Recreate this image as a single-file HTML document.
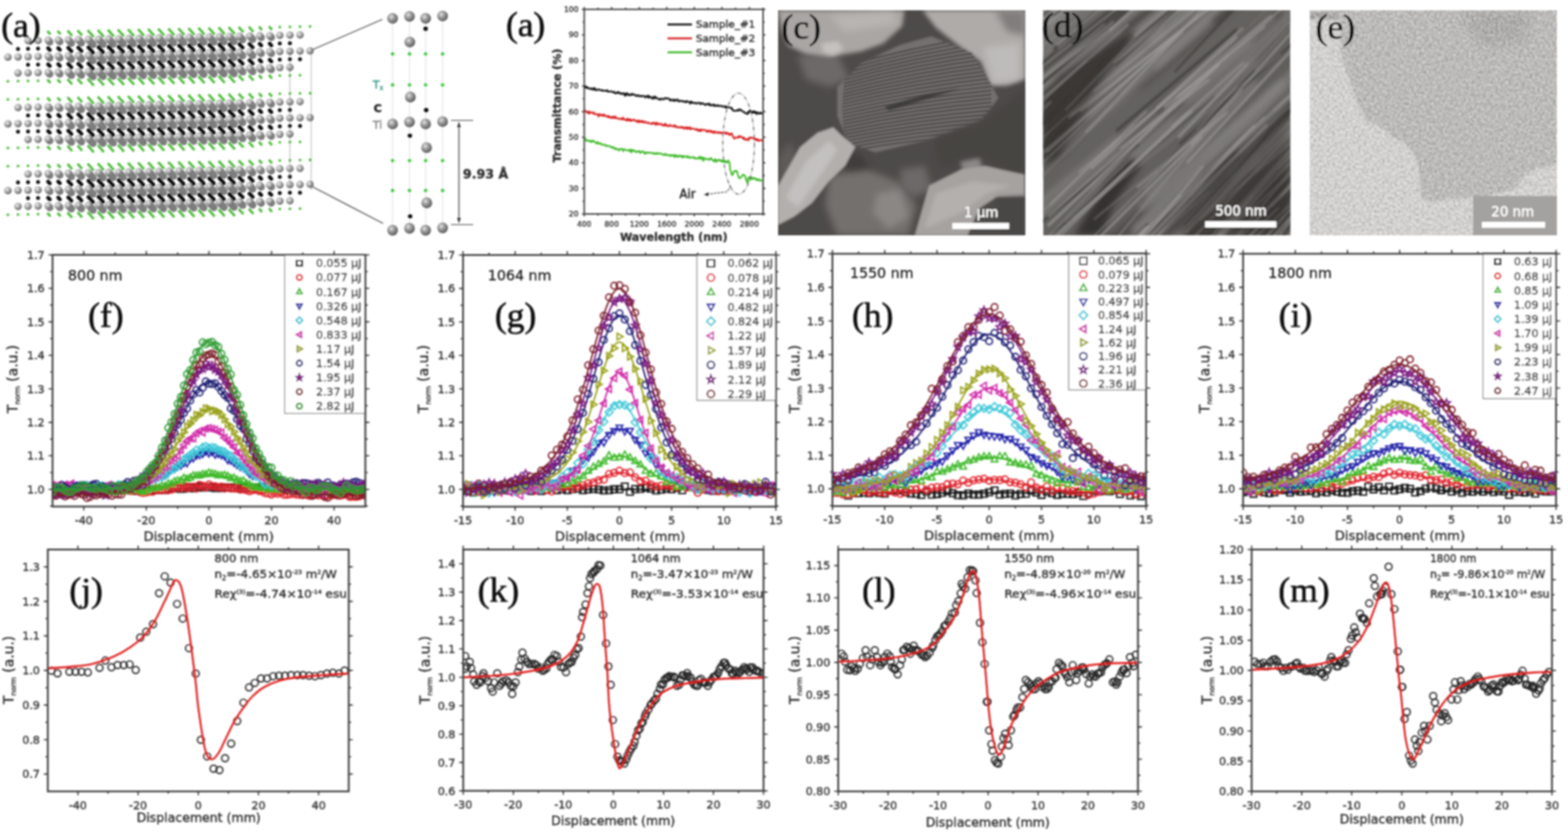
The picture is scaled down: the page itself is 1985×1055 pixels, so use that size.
<!DOCTYPE html><html><head><meta charset="utf-8"><title>Figure</title><style>html,body{margin:0;padding:0;background:#fff;width:1985px;height:1055px;overflow:hidden}svg{display:block}</style></head><body><svg width="1985" height="1055" viewBox="0 0 1985 1055"><defs><clipPath id="cf"><rect x="66.5" y="322.8" width="396" height="318.7"/></clipPath><marker id="k0" markerUnits="userSpaceOnUse" markerWidth="18" markerHeight="18" viewBox="-9 -9 18 18" refX="0" refY="0" overflow="visible"><path d="M-4.2 -4.2h8.4v8.4h-8.4z" fill="none" stroke="#1a1a1a" stroke-width="1.8"/></marker><marker id="k1" markerUnits="userSpaceOnUse" markerWidth="18" markerHeight="18" viewBox="-9 -9 18 18" refX="0" refY="0" overflow="visible"><circle r="4.2" fill="none" stroke="#e0202a" stroke-width="1.8"/></marker><marker id="k2" markerUnits="userSpaceOnUse" markerWidth="18" markerHeight="18" viewBox="-9 -9 18 18" refX="0" refY="0" overflow="visible"><path d="M0 -4.6L4.2 2.9L-4.2 2.9z" fill="none" stroke="#3cb828" stroke-width="1.8"/></marker><marker id="k3" markerUnits="userSpaceOnUse" markerWidth="18" markerHeight="18" viewBox="-9 -9 18 18" refX="0" refY="0" overflow="visible"><path d="M0 4.6L4.2 -2.9L-4.2 -2.9z" fill="none" stroke="#2020a8" stroke-width="1.8"/></marker><marker id="k4" markerUnits="userSpaceOnUse" markerWidth="18" markerHeight="18" viewBox="-9 -9 18 18" refX="0" refY="0" overflow="visible"><path d="M0 -5L5 0L0 5L-5 0z" fill="none" stroke="#40c8d8" stroke-width="1.8"/></marker><marker id="k5" markerUnits="userSpaceOnUse" markerWidth="18" markerHeight="18" viewBox="-9 -9 18 18" refX="0" refY="0" overflow="visible"><path d="M-4.6 0L2.9 -4.2L2.9 4.2z" fill="none" stroke="#d02aa8" stroke-width="1.8"/></marker><marker id="k6" markerUnits="userSpaceOnUse" markerWidth="18" markerHeight="18" viewBox="-9 -9 18 18" refX="0" refY="0" overflow="visible"><path d="M4.6 0L-2.9 -4.2L-2.9 4.2z" fill="none" stroke="#98a018" stroke-width="1.8"/></marker><marker id="k7" markerUnits="userSpaceOnUse" markerWidth="18" markerHeight="18" viewBox="-9 -9 18 18" refX="0" refY="0" overflow="visible"><circle r="4.2" fill="none" stroke="#1a1a70" stroke-width="1.8"/></marker><marker id="k8" markerUnits="userSpaceOnUse" markerWidth="18" markerHeight="18" viewBox="-9 -9 18 18" refX="0" refY="0" overflow="visible"><path d="M0 -4.8L1.2 -1.7L4.6 -1.5L2 0.6L2.8 3.9L0 2.1L-2.8 3.9L-2 0.6L-4.6 -1.5L-1.2 -1.7z" fill="none" stroke="#7a1a80" stroke-width="1.8"/></marker><marker id="k9" markerUnits="userSpaceOnUse" markerWidth="18" markerHeight="18" viewBox="-9 -9 18 18" refX="0" refY="0" overflow="visible"><circle r="4.2" fill="none" stroke="#7a1e28" stroke-width="1.8"/></marker><marker id="k10" markerUnits="userSpaceOnUse" markerWidth="18" markerHeight="18" viewBox="-9 -9 18 18" refX="0" refY="0" overflow="visible"><circle r="4.2" fill="none" stroke="#2a9a30" stroke-width="1.8"/></marker><marker id="k11" markerUnits="userSpaceOnUse" markerWidth="16" markerHeight="16" viewBox="-8 -8 16 16" refX="0" refY="0" overflow="visible"><path d="M-3.4 -3.4h6.8v6.8h-6.8z" fill="none" stroke="#1a1a1a" stroke-width="2.0"/></marker><marker id="k12" markerUnits="userSpaceOnUse" markerWidth="16" markerHeight="16" viewBox="-8 -8 16 16" refX="0" refY="0" overflow="visible"><circle r="3.4" fill="none" stroke="#e0202a" stroke-width="2.0"/></marker><marker id="k13" markerUnits="userSpaceOnUse" markerWidth="16" markerHeight="16" viewBox="-8 -8 16 16" refX="0" refY="0" overflow="visible"><path d="M0 -3.7L3.4 2.4L-3.4 2.4z" fill="none" stroke="#3cb828" stroke-width="2.0"/></marker><marker id="k14" markerUnits="userSpaceOnUse" markerWidth="16" markerHeight="16" viewBox="-8 -8 16 16" refX="0" refY="0" overflow="visible"><path d="M0 3.7L3.4 -2.4L-3.4 -2.4z" fill="none" stroke="#2020a8" stroke-width="2.0"/></marker><marker id="k15" markerUnits="userSpaceOnUse" markerWidth="16" markerHeight="16" viewBox="-8 -8 16 16" refX="0" refY="0" overflow="visible"><path d="M0 -4.1L4.1 0L0 4.1L-4.1 0z" fill="none" stroke="#40c8d8" stroke-width="2.0"/></marker><marker id="k16" markerUnits="userSpaceOnUse" markerWidth="16" markerHeight="16" viewBox="-8 -8 16 16" refX="0" refY="0" overflow="visible"><path d="M-3.7 0L2.4 -3.4L2.4 3.4z" fill="none" stroke="#d02aa8" stroke-width="2.0"/></marker><marker id="k17" markerUnits="userSpaceOnUse" markerWidth="16" markerHeight="16" viewBox="-8 -8 16 16" refX="0" refY="0" overflow="visible"><path d="M3.7 0L-2.4 -3.4L-2.4 3.4z" fill="none" stroke="#98a018" stroke-width="2.0"/></marker><marker id="k18" markerUnits="userSpaceOnUse" markerWidth="16" markerHeight="16" viewBox="-8 -8 16 16" refX="0" refY="0" overflow="visible"><circle r="3.4" fill="none" stroke="#1a1a70" stroke-width="2.0"/></marker><marker id="k19" markerUnits="userSpaceOnUse" markerWidth="16" markerHeight="16" viewBox="-8 -8 16 16" refX="0" refY="0" overflow="visible"><path d="M0 -3.9L1 -1.4L3.7 -1.2L1.6 0.5L2.3 3.2L0 1.7L-2.3 3.2L-1.6 0.5L-3.7 -1.2L-1 -1.4z" fill="none" stroke="#7a1a80" stroke-width="2.0"/></marker><marker id="k20" markerUnits="userSpaceOnUse" markerWidth="16" markerHeight="16" viewBox="-8 -8 16 16" refX="0" refY="0" overflow="visible"><circle r="3.4" fill="none" stroke="#7a1e28" stroke-width="2.0"/></marker><marker id="k21" markerUnits="userSpaceOnUse" markerWidth="16" markerHeight="16" viewBox="-8 -8 16 16" refX="0" refY="0" overflow="visible"><circle r="3.4" fill="none" stroke="#2a9a30" stroke-width="2.0"/></marker><clipPath id="cg"><rect x="586.2" y="323" width="396.1" height="318.7"/></clipPath><marker id="k22" markerUnits="userSpaceOnUse" markerWidth="20" markerHeight="20" viewBox="-10 -10 20 20" refX="0" refY="0" overflow="visible"><path d="M-4.5 -4.5h9v9h-9z" fill="none" stroke="#1a1a1a" stroke-width="1.8"/></marker><marker id="k23" markerUnits="userSpaceOnUse" markerWidth="20" markerHeight="20" viewBox="-10 -10 20 20" refX="0" refY="0" overflow="visible"><circle r="4.5" fill="none" stroke="#e0202a" stroke-width="1.8"/></marker><marker id="k24" markerUnits="userSpaceOnUse" markerWidth="20" markerHeight="20" viewBox="-10 -10 20 20" refX="0" refY="0" overflow="visible"><path d="M0 -5L4.5 3.1L-4.5 3.1z" fill="none" stroke="#3cb828" stroke-width="1.8"/></marker><marker id="k25" markerUnits="userSpaceOnUse" markerWidth="20" markerHeight="20" viewBox="-10 -10 20 20" refX="0" refY="0" overflow="visible"><path d="M0 5L4.5 -3.1L-4.5 -3.1z" fill="none" stroke="#2020a8" stroke-width="1.8"/></marker><marker id="k26" markerUnits="userSpaceOnUse" markerWidth="20" markerHeight="20" viewBox="-10 -10 20 20" refX="0" refY="0" overflow="visible"><path d="M0 -5.4L5.4 0L0 5.4L-5.4 0z" fill="none" stroke="#40c8d8" stroke-width="1.8"/></marker><marker id="k27" markerUnits="userSpaceOnUse" markerWidth="20" markerHeight="20" viewBox="-10 -10 20 20" refX="0" refY="0" overflow="visible"><path d="M-5 0L3.1 -4.5L3.1 4.5z" fill="none" stroke="#d02aa8" stroke-width="1.8"/></marker><marker id="k28" markerUnits="userSpaceOnUse" markerWidth="20" markerHeight="20" viewBox="-10 -10 20 20" refX="0" refY="0" overflow="visible"><path d="M5 0L-3.1 -4.5L-3.1 4.5z" fill="none" stroke="#98a018" stroke-width="1.8"/></marker><marker id="k29" markerUnits="userSpaceOnUse" markerWidth="20" markerHeight="20" viewBox="-10 -10 20 20" refX="0" refY="0" overflow="visible"><circle r="4.5" fill="none" stroke="#1a1a70" stroke-width="1.8"/></marker><marker id="k30" markerUnits="userSpaceOnUse" markerWidth="20" markerHeight="20" viewBox="-10 -10 20 20" refX="0" refY="0" overflow="visible"><path d="M0 -5.2L1.3 -1.8L4.9 -1.6L2.1 0.7L3 4.2L0 2.2L-3 4.2L-2.1 0.7L-4.9 -1.6L-1.3 -1.8z" fill="none" stroke="#7a1a80" stroke-width="1.8"/></marker><marker id="k31" markerUnits="userSpaceOnUse" markerWidth="20" markerHeight="20" viewBox="-10 -10 20 20" refX="0" refY="0" overflow="visible"><circle r="4.5" fill="none" stroke="#7a1e28" stroke-width="1.8"/></marker><clipPath id="ch"><rect x="1053.8" y="321.4" width="397.1" height="319.6"/></clipPath><clipPath id="ci"><rect x="1573.7" y="321.4" width="396.2" height="319.3"/></clipPath><clipPath id="cj"><rect x="60.5" y="696" width="381" height="306.3"/></clipPath><marker id="k32" markerUnits="userSpaceOnUse" markerWidth="18" markerHeight="18" viewBox="-9 -9 18 18" refX="0" refY="0" overflow="visible"><circle r="4.4" fill="none" stroke="#222" stroke-width="1.7"/></marker><clipPath id="ck"><rect x="586.4" y="696" width="380.2" height="305.6"/></clipPath><clipPath id="cl"><rect x="1061.1" y="696" width="379.5" height="306.3"/></clipPath><clipPath id="cm"><rect x="1584.5" y="696" width="380.2" height="306.3"/></clipPath><clipPath id="ct"><rect x="739.6" y="11.8" width="226.4" height="259.2"/></clipPath><radialGradient id="ti" cx="0.38" cy="0.35" r="0.65"><stop offset="0" stop-color="#fafafa"/><stop offset="0.2" stop-color="#d2d2d2"/><stop offset="0.6" stop-color="#9c9c9c"/><stop offset="1" stop-color="#606060"/></radialGradient><radialGradient id="ti2" cx="0.38" cy="0.35" r="0.65"><stop offset="0" stop-color="#e8e8e8"/><stop offset="0.35" stop-color="#a8a8a8"/><stop offset="1" stop-color="#5a5a5a"/></radialGradient><filter id="soft" x="0" y="0" width="1" height="1"><feGaussianBlur stdDeviation="0.8"/></filter><filter id="b1" x="-0.1" y="-0.1" width="1.2" height="1.2"><feGaussianBlur stdDeviation="1.2"/></filter><filter id="b2" x="-0.1" y="-0.1" width="1.2" height="1.2"><feGaussianBlur stdDeviation="2.5"/></filter><filter id="b4" x="-0.2" y="-0.2" width="1.4" height="1.4"><feGaussianBlur stdDeviation="4"/></filter><filter id="b8" x="-0.3" y="-0.3" width="1.6" height="1.6"><feGaussianBlur stdDeviation="8"/></filter><filter id="grain" x="0" y="0" width="1" height="1"><feTurbulence type="fractalNoise" baseFrequency="0.32" numOctaves="2" seed="3" result="n"/><feColorMatrix in="n" type="matrix" values="0 0 0 0 1  0 0 0 0 1  0 0 0 0 1  1.6 0 0 0 -0.55" result="w"/><feComposite in="w" in2="SourceGraphic" operator="in"/></filter><filter id="grain2" x="0" y="0" width="1" height="1"><feTurbulence type="fractalNoise" baseFrequency="0.3" numOctaves="2" seed="7" result="n"/><feColorMatrix in="n" type="matrix" values="0 0 0 0 0  0 0 0 0 0  0 0 0 0 0  1.6 0 0 0 -0.6" result="w"/><feComposite in="w" in2="SourceGraphic" operator="in"/></filter><clipPath id="cc"><rect x="985" y="13" width="313" height="285"/></clipPath><clipPath id="cd"><rect x="1320.5" y="13" width="313" height="285"/></clipPath><clipPath id="ce"><rect x="1658" y="13" width="313" height="285"/></clipPath><clipPath id="flk"><path d="M1060 110L1091 80L1139 57L1179 46L1230 67L1250 99L1264 124L1242 153L1180 176L1108 193L1074 181L1060 147Z"/></clipPath><linearGradient id="dgrad" x1="0" y1="0" x2="1" y2="1"><stop offset="0" stop-color="#8a8886" stop-opacity="0.55"/><stop offset="0.45" stop-color="#666" stop-opacity="0"/><stop offset="1" stop-color="#1e1c1a" stop-opacity="0.6"/></linearGradient></defs><rect width="100%" height="100%" fill="#fff"/><g filter="url(#soft)"><g clip-path="url(#cf)">
<polyline points="66.5,620 70.5,622.2 74.4,622.3 78.4,623 82.3,620.9 86.3,624.1 90.3,620.3 94.2,622.3 98.2,621.4 102.1,621.8 106.1,620.1 110.1,623.5 114,622.3 118,621.9 121.9,620.4 125.9,622.3 129.9,621.5 133.8,621.5 137.8,620.5 141.7,620.3 145.7,621.7 149.7,619 153.6,619.4 157.6,620.3 161.5,619.4 165.5,621.1 169.5,620.9 173.4,621.9 177.4,620.9 181.3,620 185.3,621.2 189.3,620.6 193.2,620.7 197.2,620.7 201.1,620.6 205.1,619.7 209.1,620.7 213,618.9 217,617.4 220.9,618 224.9,618.7 228.9,619.1 232.8,618.9 236.8,616.5 240.7,617.8 244.7,618.4 248.7,618 252.6,616 256.6,617.4 260.5,616.9 264.5,617.1 268.5,617.2 272.4,618.2 276.4,617.9 280.3,618.1 284.3,617.4 288.3,617.4 292.2,617.3 296.2,618.1 300.1,617.3 304.1,618.9 308.1,616.7 312,617.5 316,617.9 319.9,617.7 323.9,618.4 327.9,617.3 331.8,616.5 335.8,616.4 339.7,619.4 343.7,619.4 347.7,618.4 351.6,618.4 355.6,617.5 359.5,618.1 363.5,620.5 367.5,619 371.4,617.7 375.4,618.2 379.3,617.6 383.3,618.4 387.3,618.3 391.2,617.9 395.2,617.8 399.1,618 403.1,617.7 407.1,618.4 411,617.1 415,617.1 418.9,616 422.9,616.4 426.9,617.3 430.8,618.1 434.8,618.3 438.7,617.2 442.7,617.2 446.7,617.6 450.6,617.3 454.6,617.7 458.5,616.9 462.5,618.2" fill="none" stroke="none" marker-start="url(#k0)" marker-mid="url(#k0)" marker-end="url(#k0)"/>
<polyline points="66.5,621.8 69.8,621.8 73.1,621.8 76.4,621.7 79.7,621.7 83,621.6 86.3,621.6 89.6,621.6 92.9,621.5 96.2,621.5 99.5,621.5 102.8,621.4 106.1,621.4 109.4,621.4 112.7,621.3 116,621.3 119.3,621.3 122.6,621.2 125.9,621.2 129.2,621.1 132.5,621.1 135.8,621.1 139.1,621 142.4,621 145.7,621 149,620.9 152.3,620.9 155.6,620.8 158.9,620.8 162.2,620.7 165.5,620.7 168.8,620.6 172.1,620.6 175.4,620.5 178.7,620.5 182,620.4 185.3,620.3 188.6,620.2 191.9,620.1 195.2,620 198.5,619.9 201.8,619.8 205.1,619.7 208.4,619.6 211.7,619.5 215,619.3 218.3,619.2 221.6,619 224.9,618.9 228.2,618.8 231.5,618.6 234.8,618.5 238.1,618.3 241.4,618.2 244.7,618.1 248,617.9 251.3,617.8 254.6,617.8 257.9,617.7 261.2,617.6 264.5,617.6 267.8,617.6 271.1,617.5 274.4,617.5 277.7,617.6 281,617.6 284.3,617.6 287.6,617.7 290.9,617.8 294.2,617.8 297.5,617.9 300.8,618 304.1,618.1 307.4,618.1 310.7,618.2 314,618.3 317.3,618.3 320.6,618.4 323.9,618.4 327.2,618.5 330.5,618.5 333.8,618.6 337.1,618.6 340.4,618.6 343.7,618.6 347,618.6 350.3,618.6 353.6,618.6 356.9,618.6 360.2,618.6 363.5,618.6 366.8,618.5 370.1,618.5 373.4,618.5 376.7,618.5 380,618.4 383.3,618.4 386.6,618.4 389.9,618.3 393.2,618.3 396.5,618.3 399.8,618.2 403.1,618.2 406.4,618.2 409.7,618.1 413,618.1 416.3,618.1 419.6,618 422.9,618 426.2,618 429.5,617.9 432.8,617.9 436.1,617.9 439.4,617.8 442.7,617.8 446,617.8 449.3,617.7 452.6,617.7 455.9,617.6 459.2,617.6 462.5,617.6" fill="none" stroke="#1a1a1a" stroke-width="1.9" stroke-linejoin="round" />
<polyline points="66.5,621.2 70.5,620.1 74.4,620.7 78.4,617 82.3,619.4 86.3,620.4 90.3,618.4 94.2,620.1 98.2,621.6 102.1,619.8 106.1,620.4 110.1,621.5 114,619.8 118,620.8 121.9,619.2 125.9,620.4 129.9,619.3 133.8,620.7 137.8,621.9 141.7,618.5 145.7,621.1 149.7,621.3 153.6,621.8 157.6,621.3 161.5,621.1 165.5,621.8 169.5,621.5 173.4,620.9 177.4,623.4 181.3,624.4 185.3,623.6 189.3,622.6 193.2,622.9 197.2,619.8 201.1,620.8 205.1,620.6 209.1,619.9 213,620.9 217,620.1 220.9,618 224.9,617.4 228.9,618 232.8,615.2 236.8,617.8 240.7,616.8 244.7,616.4 248.7,618.7 252.6,614 256.6,615.4 260.5,616.8 264.5,613.6 268.5,615.5 272.4,615.8 276.4,617 280.3,616.4 284.3,618.6 288.3,617 292.2,618.7 296.2,618.6 300.1,618.3 304.1,620.1 308.1,620 312,620.8 316,622.1 319.9,620.9 323.9,620.2 327.9,621.8 331.8,622.4 335.8,624.7 339.7,625 343.7,626.3 347.7,624.1 351.6,625.5 355.6,624.1 359.5,626.7 363.5,626.6 367.5,625.9 371.4,625.3 375.4,626.5 379.3,626.7 383.3,626.7 387.3,626.7 391.2,627.8 395.2,626.8 399.1,626.7 403.1,627.4 407.1,626.6 411,628 415,626.9 418.9,627.6 422.9,626.6 426.9,626.4 430.8,628 434.8,627 438.7,625.4 442.7,629.4 446.7,629.1 450.6,629.4 454.6,628.6 458.5,626.8 462.5,627.7" fill="none" stroke="none" marker-start="url(#k1)" marker-mid="url(#k1)" marker-end="url(#k1)"/>
<polyline points="66.5,619.7 69.8,619.8 73.1,619.8 76.4,619.9 79.7,620 83,620.1 86.3,620.1 89.6,620.2 92.9,620.3 96.2,620.3 99.5,620.4 102.8,620.5 106.1,620.5 109.4,620.6 112.7,620.7 116,620.8 119.3,620.8 122.6,620.9 125.9,621 129.2,621 132.5,621.1 135.8,621.2 139.1,621.2 142.4,621.3 145.7,621.3 149,621.4 152.3,621.4 155.6,621.5 158.9,621.5 162.2,621.5 165.5,621.5 168.8,621.5 172.1,621.5 175.4,621.5 178.7,621.5 182,621.4 185.3,621.3 188.6,621.2 191.9,621 195.2,620.9 198.5,620.7 201.8,620.5 205.1,620.2 208.4,619.9 211.7,619.6 215,619.3 218.3,618.9 221.6,618.6 224.9,618.2 228.2,617.8 231.5,617.4 234.8,617.1 238.1,616.7 241.4,616.4 244.7,616.1 248,615.9 251.3,615.7 254.6,615.5 257.9,615.4 261.2,615.4 264.5,615.5 267.8,615.6 271.1,615.7 274.4,616 277.7,616.2 281,616.6 284.3,617 287.6,617.4 290.9,617.9 294.2,618.3 297.5,618.9 300.8,619.4 304.1,619.9 307.4,620.4 310.7,620.9 314,621.4 317.3,621.9 320.6,622.3 323.9,622.7 327.2,623.1 330.5,623.5 333.8,623.8 337.1,624.2 340.4,624.4 343.7,624.7 347,624.9 350.3,625.1 353.6,625.3 356.9,625.5 360.2,625.6 363.5,625.8 366.8,625.9 370.1,626 373.4,626.1 376.7,626.2 380,626.3 383.3,626.4 386.6,626.5 389.9,626.6 393.2,626.7 396.5,626.7 399.8,626.8 403.1,626.9 406.4,627 409.7,627 413,627.1 416.3,627.2 419.6,627.3 422.9,627.3 426.2,627.4 429.5,627.5 432.8,627.5 436.1,627.6 439.4,627.7 442.7,627.8 446,627.8 449.3,627.9 452.6,628 455.9,628 459.2,628.1 462.5,628.2" fill="none" stroke="#e0202a" stroke-width="1.9" stroke-linejoin="round" />
<polyline points="66.5,620.2 70.5,621.9 74.4,624.4 78.4,623.2 82.3,622.1 86.3,620.1 90.3,620.7 94.2,623.3 98.2,621.4 102.1,619 106.1,621.3 110.1,622 114,618.9 118,620.8 121.9,621.8 125.9,620.9 129.9,621.3 133.8,622.1 137.8,620.7 141.7,620.5 145.7,620.8 149.7,622.2 153.6,620.6 157.6,621.8 161.5,621.4 165.5,620.9 169.5,620.3 173.4,619.6 177.4,621 181.3,622.8 185.3,621.1 189.3,617.8 193.2,618.7 197.2,616.9 201.1,617.6 205.1,614.7 209.1,615.7 213,612.4 217,613 220.9,609.7 224.9,608.7 228.9,608.7 232.8,605.3 236.8,606.2 240.7,604.9 244.7,602.2 248.7,602.4 252.6,602.1 256.6,600.6 260.5,600.8 264.5,598.7 268.5,599.7 272.4,600.4 276.4,602 280.3,602.1 284.3,601.6 288.3,602.9 292.2,605.6 296.2,605.3 300.1,607.7 304.1,609.2 308.1,608.8 312,612.3 316,613.5 319.9,616.5 323.9,617.2 327.9,616.1 331.8,618.2 335.8,617.8 339.7,619.7 343.7,619.8 347.7,618.7 351.6,619.1 355.6,620.5 359.5,620.5 363.5,619.9 367.5,620.4 371.4,622.1 375.4,620.9 379.3,620 383.3,621.1 387.3,620.7 391.2,622.6 395.2,622.3 399.1,620.9 403.1,624.3 407.1,623.1 411,622.6 415,624.3 418.9,622.4 422.9,623.2 426.9,622.8 430.8,622.1 434.8,621.5 438.7,622.1 442.7,621.2 446.7,621.8 450.6,621.3 454.6,620.4 458.5,621.9 462.5,622.4" fill="none" stroke="none" marker-start="url(#k2)" marker-mid="url(#k2)" marker-end="url(#k2)"/>
<polyline points="66.5,621.8 69.8,621.8 73.1,621.8 76.4,621.8 79.7,621.8 83,621.8 86.3,621.8 89.6,621.8 92.9,621.8 96.2,621.8 99.5,621.8 102.8,621.8 106.1,621.8 109.4,621.8 112.7,621.8 116,621.8 119.3,621.8 122.6,621.8 125.9,621.8 129.2,621.8 132.5,621.8 135.8,621.8 139.1,621.7 142.4,621.7 145.7,621.7 149,621.6 152.3,621.6 155.6,621.5 158.9,621.4 162.2,621.3 165.5,621.1 168.8,621 172.1,620.8 175.4,620.5 178.7,620.2 182,619.9 185.3,619.5 188.6,619 191.9,618.5 195.2,617.9 198.5,617.2 201.8,616.5 205.1,615.7 208.4,614.8 211.7,613.8 215,612.8 218.3,611.8 221.6,610.7 224.9,609.6 228.2,608.4 231.5,607.3 234.8,606.2 238.1,605.2 241.4,604.2 244.7,603.3 248,602.5 251.3,601.9 254.6,601.3 257.9,600.9 261.2,600.7 264.5,600.6 267.8,600.7 271.1,600.9 274.4,601.3 277.7,601.9 281,602.5 284.3,603.3 287.6,604.2 290.9,605.2 294.2,606.2 297.5,607.3 300.8,608.4 304.1,609.6 307.4,610.7 310.7,611.8 314,612.8 317.3,613.8 320.6,614.8 323.9,615.7 327.2,616.5 330.5,617.2 333.8,617.9 337.1,618.5 340.4,619 343.7,619.5 347,619.9 350.3,620.2 353.6,620.5 356.9,620.8 360.2,621 363.5,621.1 366.8,621.3 370.1,621.4 373.4,621.5 376.7,621.6 380,621.6 383.3,621.7 386.6,621.7 389.9,621.7 393.2,621.8 396.5,621.8 399.8,621.8 403.1,621.8 406.4,621.8 409.7,621.8 413,621.8 416.3,621.8 419.6,621.8 422.9,621.8 426.2,621.8 429.5,621.8 432.8,621.8 436.1,621.8 439.4,621.8 442.7,621.8 446,621.8 449.3,621.8 452.6,621.8 455.9,621.8 459.2,621.8 462.5,621.8" fill="none" stroke="#3cb828" stroke-width="1.9" stroke-linejoin="round" />
<polyline points="66.5,614.9 70.5,616.9 74.4,615.1 78.4,618 82.3,614.2 86.3,615.7 90.3,614.1 94.2,614.7 98.2,613.8 102.1,614.1 106.1,613.2 110.1,616.3 114,616.3 118,614.1 121.9,616 125.9,616.7 129.9,616.9 133.8,615.7 137.8,616.9 141.7,615.7 145.7,616.8 149.7,615.8 153.6,614.2 157.6,614 161.5,616 165.5,613.1 169.5,615.1 173.4,611.8 177.4,614.5 181.3,612.5 185.3,610.9 189.3,609.1 193.2,606.4 197.2,605.7 201.1,603.7 205.1,602.1 209.1,602 213,599.1 217,595.1 220.9,593.8 224.9,591 228.9,589.5 232.8,586.2 236.8,586.5 240.7,580.9 244.7,580.3 248.7,576.7 252.6,576.1 256.6,574.7 260.5,571.8 264.5,574 268.5,572.2 272.4,575.6 276.4,574.7 280.3,576.3 284.3,577.5 288.3,582.6 292.2,583.3 296.2,585.9 300.1,588.8 304.1,591.3 308.1,592.8 312,596.1 316,600.2 319.9,602.7 323.9,600.6 327.9,603.3 331.8,609.1 335.8,608.1 339.7,609.1 343.7,609.9 347.7,611.6 351.6,613.4 355.6,613 359.5,614.2 363.5,613.7 367.5,614.8 371.4,614.4 375.4,613.3 379.3,613.4 383.3,616.7 387.3,615.8 391.2,616.5 395.2,614.5 399.1,615.3 403.1,613.4 407.1,615.4 411,614.8 415,616.6 418.9,613.8 422.9,616 426.9,617.2 430.8,615.9 434.8,617.4 438.7,614.8 442.7,614.5 446.7,614.9 450.6,613.4 454.6,615.7 458.5,614.3 462.5,615" fill="none" stroke="none" marker-start="url(#k3)" marker-mid="url(#k3)" marker-end="url(#k3)"/>
<polyline points="66.5,615.5 69.8,615.5 73.1,615.5 76.4,615.5 79.7,615.5 83,615.5 86.3,615.5 89.6,615.5 92.9,615.5 96.2,615.5 99.5,615.5 102.8,615.5 106.1,615.5 109.4,615.4 112.7,615.4 116,615.4 119.3,615.4 122.6,615.4 125.9,615.4 129.2,615.4 132.5,615.4 135.8,615.3 139.1,615.3 142.4,615.2 145.7,615.2 149,615.1 152.3,614.9 155.6,614.8 158.9,614.6 162.2,614.4 165.5,614.1 168.8,613.7 172.1,613.3 175.4,612.8 178.7,612.2 182,611.5 185.3,610.7 188.6,609.8 191.9,608.8 195.2,607.6 198.5,606.2 201.8,604.7 205.1,603.1 208.4,601.4 211.7,599.5 215,597.5 218.3,595.4 221.6,593.2 224.9,591 228.2,588.7 231.5,586.5 234.8,584.3 238.1,582.2 241.4,580.3 244.7,578.5 248,576.9 251.3,575.6 254.6,574.5 257.9,573.7 261.2,573.2 264.5,573 267.8,573.2 271.1,573.7 274.4,574.5 277.7,575.6 281,576.9 284.3,578.5 287.6,580.3 290.9,582.2 294.2,584.3 297.5,586.5 300.8,588.7 304.1,591 307.4,593.2 310.7,595.4 314,597.5 317.3,599.5 320.6,601.4 323.9,603.1 327.2,604.7 330.5,606.2 333.8,607.6 337.1,608.8 340.4,609.8 343.7,610.7 347,611.5 350.3,612.2 353.6,612.8 356.9,613.3 360.2,613.7 363.5,614.1 366.8,614.4 370.1,614.6 373.4,614.8 376.7,614.9 380,615.1 383.3,615.2 386.6,615.2 389.9,615.3 393.2,615.3 396.5,615.4 399.8,615.4 403.1,615.4 406.4,615.4 409.7,615.4 413,615.4 416.3,615.4 419.6,615.4 422.9,615.5 426.2,615.5 429.5,615.5 432.8,615.5 436.1,615.5 439.4,615.5 442.7,615.5 446,615.5 449.3,615.5 452.6,615.5 455.9,615.5 459.2,615.5 462.5,615.5" fill="none" stroke="#2020a8" stroke-width="1.9" stroke-linejoin="round" />
<polyline points="66.5,619.3 70.5,617.6 74.4,616.4 78.4,616.6 82.3,617.3 86.3,618 90.3,617.9 94.2,617.3 98.2,617.6 102.1,617.2 106.1,617.6 110.1,615.5 114,617.5 118,616.7 121.9,616.2 125.9,615.6 129.9,615.3 133.8,616.3 137.8,616.4 141.7,619.1 145.7,616.7 149.7,614.1 153.6,617.7 157.6,617.8 161.5,616.5 165.5,614.5 169.5,614.7 173.4,615.1 177.4,613.8 181.3,611.6 185.3,610.4 189.3,606.7 193.2,607 197.2,606.2 201.1,604.3 205.1,603.8 209.1,602.1 213,598 217,594.7 220.9,593.6 224.9,589.2 228.9,585.7 232.8,581.7 236.8,579.3 240.7,576.2 244.7,573.5 248.7,570 252.6,572.3 256.6,566.6 260.5,565.4 264.5,567.3 268.5,566.7 272.4,567.2 276.4,570.1 280.3,570.9 284.3,572.3 288.3,575.7 292.2,577.4 296.2,581.5 300.1,584.8 304.1,589.2 308.1,591.7 312,595.1 316,595.4 319.9,599.7 323.9,603.4 327.9,604 331.8,607.4 335.8,613 339.7,610.2 343.7,614.5 347.7,612.9 351.6,615.9 355.6,617.1 359.5,615.5 363.5,618.8 367.5,618.1 371.4,617.2 375.4,616.9 379.3,616.7 383.3,617 387.3,617.7 391.2,614.5 395.2,618.2 399.1,615.1 403.1,617.9 407.1,616.1 411,615.8 415,618.5 418.9,617.5 422.9,617.7 426.9,617.8 430.8,619.2 434.8,618.3 438.7,618.8 442.7,619.3 446.7,616.1 450.6,617.9 454.6,614.9 458.5,615.9 462.5,618.1" fill="none" stroke="none" marker-start="url(#k4)" marker-mid="url(#k4)" marker-end="url(#k4)"/>
<polyline points="66.5,617.6 69.8,617.6 73.1,617.6 76.4,617.6 79.7,617.6 83,617.6 86.3,617.6 89.6,617.6 92.9,617.6 96.2,617.6 99.5,617.6 102.8,617.6 106.1,617.6 109.4,617.6 112.7,617.6 116,617.6 119.3,617.5 122.6,617.5 125.9,617.5 129.2,617.5 132.5,617.5 135.8,617.4 139.1,617.4 142.4,617.3 145.7,617.2 149,617.1 152.3,617 155.6,616.8 158.9,616.6 162.2,616.3 165.5,615.9 168.8,615.5 172.1,615 175.4,614.4 178.7,613.7 182,612.9 185.3,611.9 188.6,610.8 191.9,609.5 195.2,608.1 198.5,606.5 201.8,604.7 205.1,602.8 208.4,600.7 211.7,598.4 215,596 218.3,593.5 221.6,590.8 224.9,588.2 228.2,585.5 231.5,582.8 234.8,580.2 238.1,577.7 241.4,575.4 244.7,573.2 248,571.3 251.3,569.7 254.6,568.4 257.9,567.5 261.2,566.9 264.5,566.7 267.8,566.9 271.1,567.5 274.4,568.4 277.7,569.7 281,571.3 284.3,573.2 287.6,575.4 290.9,577.7 294.2,580.2 297.5,582.8 300.8,585.5 304.1,588.2 307.4,590.8 310.7,593.5 314,596 317.3,598.4 320.6,600.7 323.9,602.8 327.2,604.7 330.5,606.5 333.8,608.1 337.1,609.5 340.4,610.8 343.7,611.9 347,612.9 350.3,613.7 353.6,614.4 356.9,615 360.2,615.5 363.5,615.9 366.8,616.3 370.1,616.6 373.4,616.8 376.7,617 380,617.1 383.3,617.2 386.6,617.3 389.9,617.4 393.2,617.4 396.5,617.5 399.8,617.5 403.1,617.5 406.4,617.5 409.7,617.5 413,617.6 416.3,617.6 419.6,617.6 422.9,617.6 426.2,617.6 429.5,617.6 432.8,617.6 436.1,617.6 439.4,617.6 442.7,617.6 446,617.6 449.3,617.6 452.6,617.6 455.9,617.6 459.2,617.6 462.5,617.6" fill="none" stroke="#40c8d8" stroke-width="1.9" stroke-linejoin="round" />
<polyline points="66.5,614.3 70.5,615.4 74.4,613.9 78.4,616.7 82.3,613.7 86.3,615.6 90.3,612.4 94.2,616.7 98.2,616.4 102.1,616.6 106.1,619.6 110.1,615.9 114,616.4 118,617.2 121.9,619.3 125.9,619.7 129.9,616.5 133.8,615.4 137.8,614 141.7,617.6 145.7,617.5 149.7,616.2 153.6,618.6 157.6,616.6 161.5,614 165.5,612.7 169.5,614.1 173.4,611.5 177.4,612.5 181.3,611.2 185.3,610.3 189.3,607.9 193.2,606.3 197.2,604 201.1,601.6 205.1,596.5 209.1,592.3 213,590.5 217,583.5 220.9,580.4 224.9,577.5 228.9,569.9 232.8,563.5 236.8,558.6 240.7,555.3 244.7,555.2 248.7,548.8 252.6,545.9 256.6,547.9 260.5,542.7 264.5,542.2 268.5,543.2 272.4,544.3 276.4,546.8 280.3,547.7 284.3,554.4 288.3,557.7 292.2,561.8 296.2,566.4 300.1,573.5 304.1,573.8 308.1,581 312,585.7 316,590.3 319.9,595.8 323.9,600.1 327.9,602.7 331.8,605.3 335.8,606.9 339.7,610.3 343.7,612.6 347.7,610.9 351.6,617.3 355.6,618.5 359.5,616.5 363.5,618.1 367.5,621.9 371.4,620.3 375.4,621.7 379.3,620.2 383.3,623.5 387.3,621.1 391.2,622.2 395.2,622.9 399.1,622.4 403.1,621.9 407.1,625.7 411,621.8 415,623.1 418.9,619.8 422.9,623.2 426.9,620.9 430.8,626.1 434.8,621.4 438.7,621.7 442.7,622.4 446.7,621.9 450.6,622.1 454.6,621.3 458.5,622.6 462.5,625.4" fill="none" stroke="none" marker-start="url(#k5)" marker-mid="url(#k5)" marker-end="url(#k5)"/>
<polyline points="66.5,615.5 69.8,615.5 73.1,615.6 76.4,615.7 79.7,615.7 83,615.8 86.3,615.9 89.6,616 92.9,616 96.2,616.1 99.5,616.2 102.8,616.2 106.1,616.3 109.4,616.4 112.7,616.4 116,616.5 119.3,616.5 122.6,616.6 125.9,616.6 129.2,616.7 132.5,616.7 135.8,616.7 139.1,616.7 142.4,616.7 145.7,616.6 149,616.5 152.3,616.4 155.6,616.2 158.9,615.9 162.2,615.5 165.5,615.1 168.8,614.6 172.1,613.9 175.4,613 178.7,612.1 182,610.9 185.3,609.5 188.6,607.9 191.9,606.1 195.2,604 198.5,601.7 201.8,599.1 205.1,596.2 208.4,593.1 211.7,589.8 215,586.2 218.3,582.5 221.6,578.7 224.9,574.7 228.2,570.8 231.5,566.8 234.8,563 238.1,559.3 241.4,555.9 244.7,552.7 248,549.9 251.3,547.6 254.6,545.7 257.9,544.4 261.2,543.6 264.5,543.4 267.8,543.7 271.1,544.7 274.4,546.1 277.7,548.2 281,550.6 284.3,553.6 287.6,556.9 290.9,560.4 294.2,564.3 297.5,568.3 300.8,572.3 304.1,576.4 307.4,580.5 310.7,584.5 314,588.4 317.3,592 320.6,595.5 323.9,598.8 327.2,601.8 330.5,604.5 333.8,607 337.1,609.2 340.4,611.2 343.7,612.9 347,614.4 350.3,615.7 353.6,616.9 356.9,617.8 360.2,618.7 363.5,619.3 366.8,619.9 370.1,620.4 373.4,620.8 376.7,621.2 380,621.5 383.3,621.7 386.6,621.9 389.9,622.1 393.2,622.2 396.5,622.4 399.8,622.5 403.1,622.6 406.4,622.7 409.7,622.8 413,622.8 416.3,622.9 419.6,623 422.9,623.1 426.2,623.2 429.5,623.2 432.8,623.3 436.1,623.4 439.4,623.4 442.7,623.5 446,623.6 449.3,623.7 452.6,623.7 455.9,623.8 459.2,623.9 462.5,623.9" fill="none" stroke="#d02aa8" stroke-width="1.9" stroke-linejoin="round" />
<polyline points="66.5,621 70.5,620.7 74.4,618.1 78.4,621.7 82.3,619.2 86.3,621 90.3,618.8 94.2,622 98.2,617.1 102.1,617.9 106.1,620.9 110.1,616.6 114,619.6 118,621.3 121.9,622.4 125.9,620.3 129.9,617.8 133.8,621.4 137.8,621.3 141.7,621 145.7,616.3 149.7,615.9 153.6,618.2 157.6,616.7 161.5,616.8 165.5,616 169.5,613.3 173.4,612.9 177.4,611 181.3,610.2 185.3,606.1 189.3,605 193.2,602.1 197.2,598.1 201.1,596.8 205.1,590.4 209.1,585.8 213,578.9 217,575.5 220.9,568.9 224.9,558.5 228.9,553.3 232.8,547.4 236.8,539.9 240.7,536.7 244.7,532.3 248.7,525.6 252.6,526 256.6,521.8 260.5,517.3 264.5,517.2 268.5,520.7 272.4,519.9 276.4,521.2 280.3,525.4 284.3,531.1 288.3,537.2 292.2,540.3 296.2,546.9 300.1,554.2 304.1,559.1 308.1,566.3 312,572.6 316,582 319.9,582.5 323.9,587.1 327.9,594.6 331.8,600.5 335.8,601 339.7,606.3 343.7,610 347.7,608.9 351.6,614.8 355.6,613.6 359.5,618 363.5,614 367.5,615.9 371.4,617.4 375.4,616.2 379.3,615.2 383.3,615.6 387.3,616.3 391.2,618 395.2,620.3 399.1,618.9 403.1,621.2 407.1,617.5 411,617.3 415,616.4 418.9,620.1 422.9,619.3 426.9,618.6 430.8,619.5 434.8,620.9 438.7,619.3 442.7,620.4 446.7,618.6 450.6,620.9 454.6,618.7 458.5,618.2 462.5,616.8" fill="none" stroke="none" marker-start="url(#k6)" marker-mid="url(#k6)" marker-end="url(#k6)"/>
<polyline points="66.5,619.7 69.8,619.7 73.1,619.7 76.4,619.7 79.7,619.7 83,619.7 86.3,619.7 89.6,619.7 92.9,619.7 96.2,619.7 99.5,619.7 102.8,619.7 106.1,619.7 109.4,619.7 112.7,619.7 116,619.7 119.3,619.6 122.6,619.6 125.9,619.6 129.2,619.5 132.5,619.5 135.8,619.4 139.1,619.3 142.4,619.1 145.7,619 149,618.7 152.3,618.5 155.6,618.1 158.9,617.6 162.2,617.1 165.5,616.4 168.8,615.6 172.1,614.6 175.4,613.4 178.7,612 182,610.3 185.3,608.4 188.6,606.1 191.9,603.6 195.2,600.7 198.5,597.5 201.8,594 205.1,590.1 208.4,585.9 211.7,581.3 215,576.5 218.3,571.5 221.6,566.2 224.9,560.9 228.2,555.5 231.5,550.2 234.8,544.9 238.1,539.9 241.4,535.2 244.7,531 248,527.2 251.3,523.9 254.6,521.3 257.9,519.4 261.2,518.3 264.5,517.9 267.8,518.3 271.1,519.4 274.4,521.3 277.7,523.9 281,527.2 284.3,531 287.6,535.2 290.9,539.9 294.2,544.9 297.5,550.2 300.8,555.5 304.1,560.9 307.4,566.2 310.7,571.5 314,576.5 317.3,581.3 320.6,585.9 323.9,590.1 327.2,594 330.5,597.5 333.8,600.7 337.1,603.6 340.4,606.1 343.7,608.4 347,610.3 350.3,612 353.6,613.4 356.9,614.6 360.2,615.6 363.5,616.4 366.8,617.1 370.1,617.6 373.4,618.1 376.7,618.5 380,618.7 383.3,619 386.6,619.1 389.9,619.3 393.2,619.4 396.5,619.5 399.8,619.5 403.1,619.6 406.4,619.6 409.7,619.6 413,619.7 416.3,619.7 419.6,619.7 422.9,619.7 426.2,619.7 429.5,619.7 432.8,619.7 436.1,619.7 439.4,619.7 442.7,619.7 446,619.7 449.3,619.7 452.6,619.7 455.9,619.7 459.2,619.7 462.5,619.7" fill="none" stroke="#98a018" stroke-width="1.9" stroke-linejoin="round" />
<polyline points="66.5,617.3 70.5,616.9 74.4,619.6 78.4,614.3 82.3,616.7 86.3,619.3 90.3,620.2 94.2,617.2 98.2,616.1 102.1,617.2 106.1,616.4 110.1,616.7 114,616 118,613.6 121.9,612.8 125.9,618.2 129.9,615.8 133.8,617.9 137.8,617.8 141.7,615.1 145.7,617.3 149.7,620.8 153.6,614.5 157.6,613.5 161.5,610.7 165.5,614 169.5,609.2 173.4,614.7 177.4,609.1 181.3,603.6 185.3,601.5 189.3,596.6 193.2,592.6 197.2,589.3 201.1,582.1 205.1,577 209.1,567.8 213,565.4 217,556.2 220.9,548.2 224.9,538 228.9,531.8 232.8,523.1 236.8,517.5 240.7,507.4 244.7,499.5 248.7,493.9 252.6,497.2 256.6,491.2 260.5,483 264.5,485.9 268.5,486.4 272.4,485.5 276.4,490 280.3,495.3 284.3,500.3 288.3,503.8 292.2,517.4 296.2,520.3 300.1,531.2 304.1,539.1 308.1,543.5 312,555.9 316,561.5 319.9,571.1 323.9,580.1 327.9,583.6 331.8,586.7 335.8,594.1 339.7,598 343.7,602.1 347.7,605.1 351.6,608 355.6,608.4 359.5,613.3 363.5,611.8 367.5,615.7 371.4,612.5 375.4,612.1 379.3,614.3 383.3,611.9 387.3,612 391.2,612.8 395.2,614.6 399.1,613.3 403.1,611.7 407.1,614.1 411,614.3 415,611 418.9,617 422.9,617.6 426.9,617.5 430.8,613.8 434.8,613.4 438.7,612.5 442.7,613.5 446.7,611.1 450.6,610.1 454.6,611.6 458.5,615.8 462.5,612.5" fill="none" stroke="none" marker-start="url(#k7)" marker-mid="url(#k7)" marker-end="url(#k7)"/>
<polyline points="66.5,617.6 69.8,617.5 73.1,617.5 76.4,617.5 79.7,617.4 83,617.4 86.3,617.4 89.6,617.3 92.9,617.3 96.2,617.3 99.5,617.2 102.8,617.2 106.1,617.1 109.4,617.1 112.7,617 116,617 119.3,616.9 122.6,616.9 125.9,616.8 129.2,616.7 132.5,616.6 135.8,616.4 139.1,616.3 142.4,616.1 145.7,615.8 149,615.5 152.3,615.1 155.6,614.6 158.9,613.9 162.2,613.2 165.5,612.3 168.8,611.1 172.1,609.8 175.4,608.2 178.7,606.4 182,604.2 185.3,601.7 188.6,598.8 191.9,595.4 195.2,591.7 198.5,587.5 201.8,582.9 205.1,577.8 208.4,572.3 211.7,566.5 215,560.2 218.3,553.6 221.6,546.9 224.9,539.9 228.2,532.9 231.5,526 234.8,519.2 238.1,512.7 241.4,506.6 244.7,501 248,496.1 251.3,491.9 254.6,488.5 257.9,486 261.2,484.5 264.5,484 267.8,484.4 271.1,485.9 274.4,488.3 277.7,491.6 281,495.7 284.3,500.6 287.6,506.1 290.9,512.1 294.2,518.6 297.5,525.3 300.8,532.2 304.1,539.1 307.4,545.9 310.7,552.7 314,559.1 317.3,565.3 320.6,571.1 323.9,576.6 327.2,581.6 330.5,586.1 333.8,590.2 337.1,593.9 340.4,597.1 343.7,600 347,602.4 350.3,604.5 353.6,606.3 356.9,607.8 360.2,609.1 363.5,610.1 366.8,611 370.1,611.7 373.4,612.2 376.7,612.7 380,613 383.3,613.2 386.6,613.4 389.9,613.6 393.2,613.7 396.5,613.7 399.8,613.8 403.1,613.8 406.4,613.8 409.7,613.8 413,613.8 416.3,613.8 419.6,613.8 422.9,613.7 426.2,613.7 429.5,613.7 432.8,613.6 436.1,613.6 439.4,613.6 442.7,613.5 446,613.5 449.3,613.5 452.6,613.4 455.9,613.4 459.2,613.4 462.5,613.3" fill="none" stroke="#1a1a70" stroke-width="1.9" stroke-linejoin="round" />
<polyline points="66.5,626.1 70.5,622.9 74.4,626.5 78.4,626.2 82.3,626.7 86.3,622.4 90.3,625.1 94.2,621.3 98.2,624.5 102.1,622.2 106.1,620.3 110.1,622.9 114,624.8 118,623.8 121.9,620.8 125.9,622.4 129.9,624.3 133.8,627.5 137.8,621.9 141.7,619.5 145.7,618.3 149.7,619.9 153.6,620.1 157.6,619.7 161.5,618.3 165.5,619.9 169.5,610.5 173.4,612 177.4,605.4 181.3,606.7 185.3,605.9 189.3,595.1 193.2,595.9 197.2,589.3 201.1,579.3 205.1,571.5 209.1,570.4 213,557.7 217,550.6 220.9,537.2 224.9,525 228.9,519.7 232.8,505.9 236.8,500.4 240.7,484.9 244.7,482.8 248.7,474.3 252.6,467.9 256.6,467.3 260.5,459.6 264.5,464.8 268.5,462.9 272.4,468.2 276.4,470.4 280.3,475.4 284.3,481.8 288.3,488.5 292.2,500.5 296.2,504.3 300.1,517.7 304.1,534.1 308.1,534.1 312,547.5 316,554.6 319.9,566 323.9,577.2 327.9,579.9 331.8,587.5 335.8,590.6 339.7,596.9 343.7,599.7 347.7,608.3 351.6,607.9 355.6,611.4 359.5,610.7 363.5,617.3 367.5,615.3 371.4,611.5 375.4,617.4 379.3,614.6 383.3,613.8 387.3,616.5 391.2,614.6 395.2,614.2 399.1,613.1 403.1,616.4 407.1,615.6 411,613.9 415,617.2 418.9,615.2 422.9,616.7 426.9,620.3 430.8,614.3 434.8,611.5 438.7,615.2 442.7,614.3 446.7,615.8 450.6,616.7 454.6,615.2 458.5,613.9 462.5,612" fill="none" stroke="none" marker-start="url(#k8)" marker-mid="url(#k8)" marker-end="url(#k8)"/>
<polyline points="66.5,623.9 69.8,623.9 73.1,623.8 76.4,623.7 79.7,623.7 83,623.6 86.3,623.5 89.6,623.4 92.9,623.4 96.2,623.3 99.5,623.2 102.8,623.1 106.1,623.1 109.4,623 112.7,622.9 116,622.8 119.3,622.7 122.6,622.6 125.9,622.5 129.2,622.3 132.5,622.2 135.8,622 139.1,621.7 142.4,621.5 145.7,621.1 149,620.7 152.3,620.2 155.6,619.6 158.9,618.8 162.2,617.9 165.5,616.7 168.8,615.4 172.1,613.8 175.4,611.9 178.7,609.6 182,607 185.3,603.9 188.6,600.4 191.9,596.4 195.2,591.9 198.5,586.9 201.8,581.4 205.1,575.3 208.4,568.7 211.7,561.7 215,554.2 218.3,546.3 221.6,538.2 224.9,529.9 228.2,521.5 231.5,513.2 234.8,505.1 238.1,497.3 241.4,490 244.7,483.3 248,477.4 251.3,472.3 254.6,468.3 257.9,465.3 261.2,463.4 264.5,462.8 267.8,463.3 271.1,465 274.4,467.8 277.7,471.8 281,476.7 284.3,482.5 287.6,489 290.9,496.2 294.2,503.8 297.5,511.8 300.8,520 304.1,528.2 307.4,536.4 310.7,544.3 314,552.1 317.3,559.4 320.6,566.3 323.9,572.8 327.2,578.7 330.5,584.1 333.8,589 337.1,593.3 340.4,597.2 343.7,600.5 347,603.4 350.3,605.9 353.6,608 356.9,609.8 360.2,611.3 363.5,612.5 366.8,613.5 370.1,614.3 373.4,614.9 376.7,615.4 380,615.8 383.3,616 386.6,616.2 389.9,616.4 393.2,616.5 396.5,616.5 399.8,616.5 403.1,616.5 406.4,616.5 409.7,616.5 413,616.4 416.3,616.4 419.6,616.3 422.9,616.3 426.2,616.2 429.5,616.2 432.8,616.1 436.1,616 439.4,615.9 442.7,615.9 446,615.8 449.3,615.7 452.6,615.7 455.9,615.6 459.2,615.5 462.5,615.5" fill="none" stroke="#7a1a80" stroke-width="1.9" stroke-linejoin="round" />
<polyline points="66.5,627.3 70.5,628 74.4,623.4 78.4,624.4 82.3,628.6 86.3,626.9 90.3,626 94.2,628.2 98.2,623.4 102.1,625.5 106.1,627 110.1,630.7 114,629.4 118,626.5 121.9,627.5 125.9,625.7 129.9,626.2 133.8,624.1 137.8,625.8 141.7,627.9 145.7,625.7 149.7,626.4 153.6,626.4 157.6,618.2 161.5,619.6 165.5,619.1 169.5,615.4 173.4,616.3 177.4,612.3 181.3,614.9 185.3,610.1 189.3,601.8 193.2,593.4 197.2,590.3 201.1,582.7 205.1,576.7 209.1,565.9 213,557.7 217,546.4 220.9,532.8 224.9,526.6 228.9,510.5 232.8,501.6 236.8,490.3 240.7,477 244.7,471.1 248.7,461.9 252.6,461.4 256.6,453.6 260.5,450.3 264.5,449.1 268.5,447.7 272.4,449.5 276.4,457.9 280.3,464.1 284.3,472.1 288.3,476.7 292.2,489.7 296.2,501.1 300.1,513 304.1,525.9 308.1,534.8 312,546.6 316,555.9 319.9,567.7 323.9,577.3 327.9,585.2 331.8,587.8 335.8,594.6 339.7,603.1 343.7,606.1 347.7,612.7 351.6,610.4 355.6,618.1 359.5,619.6 363.5,620.4 367.5,617.6 371.4,622.3 375.4,620.9 379.3,623.2 383.3,626.7 387.3,623 391.2,625.5 395.2,628.1 399.1,626.5 403.1,624.9 407.1,622.4 411,629.5 415,630.3 418.9,624.9 422.9,625.6 426.9,627.4 430.8,625.4 434.8,625.6 438.7,622.9 442.7,627.5 446.7,624.6 450.6,627.6 454.6,627.3 458.5,624.8 462.5,627.6" fill="none" stroke="none" marker-start="url(#k9)" marker-mid="url(#k9)" marker-end="url(#k9)"/>
<polyline points="66.5,626.1 69.8,626.1 73.1,626.1 76.4,626.1 79.7,626.1 83,626.1 86.3,626.1 89.6,626.1 92.9,626.1 96.2,626.1 99.5,626 102.8,626 106.1,626 109.4,626 112.7,626 116,626 119.3,626 122.6,625.9 125.9,625.8 129.2,625.8 132.5,625.7 135.8,625.5 139.1,625.3 142.4,625.1 145.7,624.8 149,624.4 152.3,623.9 155.6,623.3 158.9,622.5 162.2,621.5 165.5,620.3 168.8,618.8 172.1,617.1 175.4,615 178.7,612.5 182,609.6 185.3,606.2 188.6,602.3 191.9,597.9 195.2,592.9 198.5,587.3 201.8,581 205.1,574.2 208.4,566.8 211.7,558.9 215,550.5 218.3,541.6 221.6,532.5 224.9,523.2 228.2,513.7 231.5,504.4 234.8,495.2 238.1,486.5 241.4,478.3 244.7,470.8 248,464.1 251.3,458.5 254.6,453.9 257.9,450.6 261.2,448.6 264.5,447.9 267.8,448.6 271.1,450.6 274.4,453.9 277.7,458.5 281,464.1 284.3,470.8 287.6,478.3 290.9,486.5 294.2,495.2 297.5,504.4 300.8,513.7 304.1,523.2 307.4,532.5 310.7,541.6 314,550.5 317.3,558.9 320.6,566.8 323.9,574.2 327.2,581 330.5,587.3 333.8,592.9 337.1,597.9 340.4,602.3 343.7,606.2 347,609.6 350.3,612.5 353.6,615 356.9,617.1 360.2,618.8 363.5,620.3 366.8,621.5 370.1,622.5 373.4,623.3 376.7,623.9 380,624.4 383.3,624.8 386.6,625.1 389.9,625.3 393.2,625.5 396.5,625.7 399.8,625.8 403.1,625.8 406.4,625.9 409.7,626 413,626 416.3,626 419.6,626 422.9,626 426.2,626 429.5,626 432.8,626.1 436.1,626.1 439.4,626.1 442.7,626.1 446,626.1 449.3,626.1 452.6,626.1 455.9,626.1 459.2,626.1 462.5,626.1" fill="none" stroke="#7a1e28" stroke-width="1.9" stroke-linejoin="round" />
<polyline points="66.5,622.7 70.5,617.5 74.4,617.3 78.4,617.8 82.3,621 86.3,622.8 90.3,622.3 94.2,619 98.2,618 102.1,615.3 106.1,614.6 110.1,616.1 114,618 118,618.2 121.9,619.5 125.9,616.5 129.9,618.1 133.8,618.8 137.8,620.9 141.7,616 145.7,622.2 149.7,615.3 153.6,614.6 157.6,620.1 161.5,615.5 165.5,616.4 169.5,612.3 173.4,609.1 177.4,606.7 181.3,606.1 185.3,598.4 189.3,593.6 193.2,589 197.2,585.9 201.1,576.8 205.1,566.7 209.1,557.9 213,541.8 217,534.7 220.9,524.3 224.9,511.3 228.9,502.9 232.8,488.4 236.8,473.9 240.7,468.8 244.7,455.9 248.7,446.4 252.6,445.1 256.6,433.5 260.5,435.9 264.5,434 268.5,433.1 272.4,437.2 276.4,439.3 280.3,448.1 284.3,455.8 288.3,467 292.2,474.3 296.2,493.8 300.1,500.1 304.1,512.9 308.1,526.2 312,537.1 316,547.8 319.9,555 323.9,567.7 327.9,574.9 331.8,582 335.8,591.7 339.7,591.6 343.7,592.3 347.7,602.6 351.6,602.3 355.6,607.7 359.5,608.4 363.5,612.9 367.5,609.5 371.4,615.9 375.4,613.8 379.3,616.3 383.3,620.6 387.3,623.4 391.2,618.2 395.2,617.7 399.1,620.3 403.1,619.9 407.1,616.4 411,616.3 415,615.6 418.9,617.9 422.9,620.4 426.9,621.9 430.8,624.6 434.8,620.5 438.7,615.2 442.7,618.4 446.7,619.3 450.6,621.1 454.6,620.6 458.5,619.6 462.5,620.1" fill="none" stroke="none" marker-start="url(#k10)" marker-mid="url(#k10)" marker-end="url(#k10)"/>
<polyline points="66.5,619.7 69.8,619.7 73.1,619.7 76.4,619.7 79.7,619.7 83,619.7 86.3,619.7 89.6,619.7 92.9,619.7 96.2,619.7 99.5,619.7 102.8,619.7 106.1,619.7 109.4,619.7 112.7,619.6 116,619.6 119.3,619.6 122.6,619.5 125.9,619.5 129.2,619.4 132.5,619.3 135.8,619.1 139.1,618.9 142.4,618.7 145.7,618.4 149,617.9 152.3,617.4 155.6,616.8 158.9,615.9 162.2,614.9 165.5,613.7 168.8,612.1 172.1,610.3 175.4,608.1 178.7,605.5 182,602.5 185.3,598.9 188.6,594.8 191.9,590.2 195.2,584.9 198.5,579.1 201.8,572.5 205.1,565.4 208.4,557.7 211.7,549.3 215,540.5 218.3,531.3 221.6,521.7 224.9,511.9 228.2,502 231.5,492.2 234.8,482.6 238.1,473.5 241.4,464.9 244.7,457 248,450 251.3,444.1 254.6,439.4 257.9,435.9 261.2,433.8 264.5,433.1 267.8,433.8 271.1,435.9 274.4,439.4 277.7,444.1 281,450 284.3,457 287.6,464.9 290.9,473.5 294.2,482.6 297.5,492.2 300.8,502 304.1,511.9 307.4,521.7 310.7,531.3 314,540.5 317.3,549.3 320.6,557.7 323.9,565.4 327.2,572.5 330.5,579.1 333.8,584.9 337.1,590.2 340.4,594.8 343.7,598.9 347,602.5 350.3,605.5 353.6,608.1 356.9,610.3 360.2,612.1 363.5,613.7 366.8,614.9 370.1,615.9 373.4,616.8 376.7,617.4 380,617.9 383.3,618.4 386.6,618.7 389.9,618.9 393.2,619.1 396.5,619.3 399.8,619.4 403.1,619.5 406.4,619.5 409.7,619.6 413,619.6 416.3,619.6 419.6,619.7 422.9,619.7 426.2,619.7 429.5,619.7 432.8,619.7 436.1,619.7 439.4,619.7 442.7,619.7 446,619.7 449.3,619.7 452.6,619.7 455.9,619.7 459.2,619.7 462.5,619.7" fill="none" stroke="#2a9a30" stroke-width="1.9" stroke-linejoin="round" />
</g>
<rect x="360.5" y="323" width="101" height="200.5" fill="#fff" stroke="#555" stroke-width="1"/>
<path d="M106.1 641.5v5M106.1 322.8v-5M185.3 641.5v5M185.3 322.8v-5M264.5 641.5v5M264.5 322.8v-5M343.7 641.5v5M343.7 322.8v-5M422.9 641.5v5M422.9 322.8v-5M145.7 641.5v3M145.7 322.8v-3M224.9 641.5v3M224.9 322.8v-3M304.1 641.5v3M304.1 322.8v-3M383.3 641.5v3M383.3 322.8v-3M66.5 619.7h-5M462.5 619.7h5M66.5 577.3h-5M462.5 577.3h5M66.5 534.9h-5M462.5 534.9h5M66.5 492.5h-5M462.5 492.5h5M66.5 450h-5M462.5 450h5M66.5 407.6h-5M462.5 407.6h5M66.5 365.2h-5M462.5 365.2h5M66.5 322.8h-5M462.5 322.8h5M66.5 640.9h-3M462.5 640.9h3M66.5 598.5h-3M462.5 598.5h3M66.5 556.1h-3M462.5 556.1h3M66.5 513.7h-3M462.5 513.7h3M66.5 471.2h-3M462.5 471.2h3M66.5 428.8h-3M462.5 428.8h3M66.5 386.4h-3M462.5 386.4h3M66.5 344h-3M462.5 344h3" stroke="#3a3a3a" stroke-width="1.6" fill="none"/>
<rect x="66.5" y="322.8" width="396" height="318.7" fill="none" stroke="#3a3a3a" stroke-width="2.2"/>
<text x="106.1" y="663.8" font-size="14" fill="#3a3a3a" text-anchor="middle" font-family="'DejaVu Sans', 'Liberation Sans', sans-serif"  stroke="#3a3a3a" stroke-width="0.45">-40</text>
<text x="185.3" y="663.8" font-size="14" fill="#3a3a3a" text-anchor="middle" font-family="'DejaVu Sans', 'Liberation Sans', sans-serif"  stroke="#3a3a3a" stroke-width="0.45">-20</text>
<text x="264.5" y="663.8" font-size="14" fill="#3a3a3a" text-anchor="middle" font-family="'DejaVu Sans', 'Liberation Sans', sans-serif"  stroke="#3a3a3a" stroke-width="0.45">0</text>
<text x="343.7" y="663.8" font-size="14" fill="#3a3a3a" text-anchor="middle" font-family="'DejaVu Sans', 'Liberation Sans', sans-serif"  stroke="#3a3a3a" stroke-width="0.45">20</text>
<text x="422.9" y="663.8" font-size="14" fill="#3a3a3a" text-anchor="middle" font-family="'DejaVu Sans', 'Liberation Sans', sans-serif"  stroke="#3a3a3a" stroke-width="0.45">40</text>
<text x="56.5" y="624.7" font-size="14" fill="#3a3a3a" text-anchor="end" font-family="'DejaVu Sans', 'Liberation Sans', sans-serif"  stroke="#3a3a3a" stroke-width="0.45">1.0</text>
<text x="56.5" y="582.3" font-size="14" fill="#3a3a3a" text-anchor="end" font-family="'DejaVu Sans', 'Liberation Sans', sans-serif"  stroke="#3a3a3a" stroke-width="0.45">1.1</text>
<text x="56.5" y="539.9" font-size="14" fill="#3a3a3a" text-anchor="end" font-family="'DejaVu Sans', 'Liberation Sans', sans-serif"  stroke="#3a3a3a" stroke-width="0.45">1.2</text>
<text x="56.5" y="497.5" font-size="14" fill="#3a3a3a" text-anchor="end" font-family="'DejaVu Sans', 'Liberation Sans', sans-serif"  stroke="#3a3a3a" stroke-width="0.45">1.3</text>
<text x="56.5" y="455" font-size="14" fill="#3a3a3a" text-anchor="end" font-family="'DejaVu Sans', 'Liberation Sans', sans-serif"  stroke="#3a3a3a" stroke-width="0.45">1.4</text>
<text x="56.5" y="412.6" font-size="14" fill="#3a3a3a" text-anchor="end" font-family="'DejaVu Sans', 'Liberation Sans', sans-serif"  stroke="#3a3a3a" stroke-width="0.45">1.5</text>
<text x="56.5" y="370.2" font-size="14" fill="#3a3a3a" text-anchor="end" font-family="'DejaVu Sans', 'Liberation Sans', sans-serif"  stroke="#3a3a3a" stroke-width="0.45">1.6</text>
<text x="56.5" y="327.8" font-size="14" fill="#3a3a3a" text-anchor="end" font-family="'DejaVu Sans', 'Liberation Sans', sans-serif"  stroke="#3a3a3a" stroke-width="0.45">1.7</text>
<polyline points="379,333.3 379,333.3" fill="none" stroke="none" marker-start="url(#k11)" marker-mid="url(#k11)" marker-end="url(#k11)"/>
<text x="400" y="338.3" font-size="14" fill="#333" font-family="'DejaVu Sans', 'Liberation Sans', sans-serif"  stroke="#333" stroke-width="0.45">0.055 μJ</text>
<polyline points="379,351.4 379,351.4" fill="none" stroke="none" marker-start="url(#k12)" marker-mid="url(#k12)" marker-end="url(#k12)"/>
<text x="400" y="356.4" font-size="14" fill="#333" font-family="'DejaVu Sans', 'Liberation Sans', sans-serif"  stroke="#333" stroke-width="0.45">0.077 μJ</text>
<polyline points="379,369.5 379,369.5" fill="none" stroke="none" marker-start="url(#k13)" marker-mid="url(#k13)" marker-end="url(#k13)"/>
<text x="400" y="374.5" font-size="14" fill="#333" font-family="'DejaVu Sans', 'Liberation Sans', sans-serif"  stroke="#333" stroke-width="0.45">0.167 μJ</text>
<polyline points="379,387.6 379,387.6" fill="none" stroke="none" marker-start="url(#k14)" marker-mid="url(#k14)" marker-end="url(#k14)"/>
<text x="400" y="392.6" font-size="14" fill="#333" font-family="'DejaVu Sans', 'Liberation Sans', sans-serif"  stroke="#333" stroke-width="0.45">0.326 μJ</text>
<polyline points="379,405.7 379,405.7" fill="none" stroke="none" marker-start="url(#k15)" marker-mid="url(#k15)" marker-end="url(#k15)"/>
<text x="400" y="410.7" font-size="14" fill="#333" font-family="'DejaVu Sans', 'Liberation Sans', sans-serif"  stroke="#333" stroke-width="0.45">0.548 μJ</text>
<polyline points="379,423.8 379,423.8" fill="none" stroke="none" marker-start="url(#k16)" marker-mid="url(#k16)" marker-end="url(#k16)"/>
<text x="400" y="428.8" font-size="14" fill="#333" font-family="'DejaVu Sans', 'Liberation Sans', sans-serif"  stroke="#333" stroke-width="0.45">0.833 μJ</text>
<polyline points="379,441.9 379,441.9" fill="none" stroke="none" marker-start="url(#k17)" marker-mid="url(#k17)" marker-end="url(#k17)"/>
<text x="400" y="446.9" font-size="14" fill="#333" font-family="'DejaVu Sans', 'Liberation Sans', sans-serif"  stroke="#333" stroke-width="0.45">1.17 μJ</text>
<polyline points="379,460 379,460" fill="none" stroke="none" marker-start="url(#k18)" marker-mid="url(#k18)" marker-end="url(#k18)"/>
<text x="400" y="465" font-size="14" fill="#333" font-family="'DejaVu Sans', 'Liberation Sans', sans-serif"  stroke="#333" stroke-width="0.45">1.54 μJ</text>
<polyline points="379,478.1 379,478.1" fill="none" stroke="none" marker-start="url(#k19)" marker-mid="url(#k19)" marker-end="url(#k19)"/>
<text x="400" y="483.1" font-size="14" fill="#333" font-family="'DejaVu Sans', 'Liberation Sans', sans-serif"  stroke="#333" stroke-width="0.45">1.95 μJ</text>
<polyline points="379,496.2 379,496.2" fill="none" stroke="none" marker-start="url(#k20)" marker-mid="url(#k20)" marker-end="url(#k20)"/>
<text x="400" y="501.2" font-size="14" fill="#333" font-family="'DejaVu Sans', 'Liberation Sans', sans-serif"  stroke="#333" stroke-width="0.45">2.37 μJ</text>
<polyline points="379,514.3 379,514.3" fill="none" stroke="none" marker-start="url(#k21)" marker-mid="url(#k21)" marker-end="url(#k21)"/>
<text x="400" y="519.3" font-size="14" fill="#333" font-family="'DejaVu Sans', 'Liberation Sans', sans-serif"  stroke="#333" stroke-width="0.45">2.82 μJ</text>
<text x="86" y="355" font-size="18" fill="#222" font-family="'DejaVu Sans', 'Liberation Sans', sans-serif" stroke="#222" stroke-width="0.35">800 nm</text>
<text x="111.6" y="413.8" font-size="45" fill="#111" font-family="'Liberation Serif', serif"  stroke="#111" stroke-width="0.7">(f)</text>
<text x="264.2" y="685.4" font-size="16.7" fill="#333" text-anchor="middle" font-family="'DejaVu Sans', 'Liberation Sans', sans-serif"  textLength="165" lengthAdjust="spacingAndGlyphs" stroke="#333" stroke-width="0.45">Displacement (mm)</text>
<text x="21.6" y="480" font-size="17.5" fill="#333" text-anchor="middle" font-family="'DejaVu Sans', 'Liberation Sans', sans-serif" transform="rotate(-90 21.6 480)" stroke="#333" stroke-width="0.45">T<tspan font-size="9" dy="3">norm</tspan><tspan dy="-3"> (a.u.)</tspan></text>
<g clip-path="url(#cg)">
<polyline points="586.2,620.8 592.8,620.5 599.4,623.9 606,618.4 612.6,622.5 619.2,621.3 625.8,619 632.4,621.2 639,621 645.6,621.4 652.2,618.6 658.8,617.1 665.4,620.3 672,621.8 678.6,619.6 685.2,621.8 691.8,620.2 698.4,618.2 705,620.8 711.6,619.3 718.2,620.9 724.8,619.4 731.4,618.7 738,621 744.6,619.9 751.2,619.2 757.8,620 764.4,621.1 771,620.9 777.6,619.7 784.2,619.7 790.9,616.1 797.5,623 804.1,619.4 810.7,619.2 817.3,617.7 823.9,618.9 830.5,621.1 837.1,620.1 843.7,618.8 850.3,619.6 856.9,617.6 863.5,621 870.1,616.1 876.7,616.6 883.3,620 889.9,619.3 896.5,620.5 903.1,621.7 909.7,620.3 916.3,619.1 922.9,621.1 929.5,621.1 936.1,619.8 942.7,619.4 949.3,618.3 955.9,620.7 962.5,618.9 969.1,620 975.7,622.3 982.3,619.6" fill="none" stroke="none" marker-start="url(#k0)" marker-mid="url(#k0)" marker-end="url(#k0)"/>
<polyline points="586.2,619.7 589.5,619.7 592.8,619.7 596.1,619.7 599.4,619.7 602.7,619.7 606,619.7 609.3,619.7 612.6,619.7 615.9,619.7 619.2,619.7 622.5,619.7 625.8,619.7 629.1,619.7 632.4,619.7 635.7,619.7 639,619.7 642.3,619.7 645.6,619.7 648.9,619.7 652.2,619.7 655.5,619.7 658.8,619.7 662.1,619.7 665.4,619.7 668.7,619.7 672,619.7 675.3,619.7 678.6,619.7 681.9,619.7 685.2,619.7 688.5,619.7 691.8,619.7 695.1,619.7 698.4,619.7 701.7,619.7 705,619.7 708.3,619.7 711.6,619.7 714.9,619.7 718.2,619.7 721.5,619.7 724.8,619.7 728.1,619.7 731.4,619.7 734.7,619.7 738,619.7 741.3,619.7 744.6,619.7 747.9,619.7 751.2,619.7 754.5,619.7 757.8,619.7 761.1,619.7 764.4,619.7 767.7,619.7 771,619.7 774.3,619.7 777.6,619.7 780.9,619.7 784.2,619.7 787.6,619.7 790.9,619.7 794.2,619.7 797.5,619.7 800.8,619.7 804.1,619.7 807.4,619.7 810.7,619.7 814,619.7 817.3,619.7 820.6,619.7 823.9,619.7 827.2,619.7 830.5,619.7 833.8,619.7 837.1,619.7 840.4,619.7 843.7,619.7 847,619.7 850.3,619.7 853.6,619.7 856.9,619.7 860.2,619.7 863.5,619.7 866.8,619.7 870.1,619.7 873.4,619.7 876.7,619.7 880,619.7 883.3,619.7 886.6,619.7 889.9,619.7 893.2,619.7 896.5,619.7 899.8,619.7 903.1,619.7 906.4,619.7 909.7,619.7 913,619.7 916.3,619.7 919.6,619.7 922.9,619.7 926.2,619.7 929.5,619.7 932.8,619.7 936.1,619.7 939.4,619.7 942.7,619.7 946,619.7 949.3,619.7 952.6,619.7 955.9,619.7 959.2,619.7 962.5,619.7 965.8,619.7 969.1,619.7 972.4,619.7 975.7,619.7 979,619.7 982.3,619.7" fill="none" stroke="#1a1a1a" stroke-width="1.9" stroke-linejoin="round" />
<polyline points="586.2,617.7 592.8,620.8 599.4,617.7 606,623 612.6,620 619.2,620.8 625.8,621.2 632.4,617.9 639,618.9 645.6,617.8 652.2,622.2 658.8,618.5 665.4,618.9 672,619 678.6,621.5 685.2,619.1 691.8,620.8 698.4,622.4 705,613.5 711.6,617.2 718.2,615.4 724.8,618.7 731.4,615.8 738,614.6 744.6,612.1 751.2,611 757.8,608.3 764.4,607.6 771,600.4 777.6,598.8 784.2,596 790.9,599.2 797.5,598.3 804.1,604.5 810.7,609.3 817.3,608.8 823.9,613.5 830.5,616.1 837.1,615 843.7,614.4 850.3,616.1 856.9,616.3 863.5,611.3 870.1,617.6 876.7,616.9 883.3,624.1 889.9,619.7 896.5,619.5 903.1,621.1 909.7,622.3 916.3,620 922.9,621.9 929.5,621.9 936.1,619 942.7,618.1 949.3,619.4 955.9,620.5 962.5,618.6 969.1,618.1 975.7,618.8 982.3,621.8" fill="none" stroke="none" marker-start="url(#k1)" marker-mid="url(#k1)" marker-end="url(#k1)"/>
<polyline points="586.2,619.7 589.5,619.7 592.8,619.7 596.1,619.7 599.4,619.7 602.7,619.7 606,619.7 609.3,619.7 612.6,619.7 615.9,619.7 619.2,619.7 622.5,619.7 625.8,619.7 629.1,619.7 632.4,619.6 635.7,619.6 639,619.6 642.3,619.6 645.6,619.6 648.9,619.6 652.2,619.6 655.5,619.6 658.8,619.6 662.1,619.5 665.4,619.5 668.7,619.5 672,619.5 675.3,619.4 678.6,619.4 681.9,619.3 685.2,619.3 688.5,619.2 691.8,619.1 695.1,619.1 698.4,618.9 701.7,618.8 705,618.7 708.3,618.5 711.6,618.3 714.9,618 718.2,617.7 721.5,617.4 724.8,617 728.1,616.5 731.4,615.9 734.7,615.2 738,614.4 741.3,613.5 744.6,612.5 747.9,611.4 751.2,610.1 754.5,608.7 757.8,607.2 761.1,605.7 764.4,604.1 767.7,602.7 771,601.3 774.3,600.1 777.6,599.3 780.9,598.7 784.2,598.5 787.6,598.7 790.9,599.3 794.2,600.1 797.5,601.3 800.8,602.7 804.1,604.1 807.4,605.7 810.7,607.2 814,608.7 817.3,610.1 820.6,611.4 823.9,612.5 827.2,613.5 830.5,614.4 833.8,615.2 837.1,615.9 840.4,616.5 843.7,617 847,617.4 850.3,617.7 853.6,618 856.9,618.3 860.2,618.5 863.5,618.7 866.8,618.8 870.1,618.9 873.4,619.1 876.7,619.1 880,619.2 883.3,619.3 886.6,619.3 889.9,619.4 893.2,619.4 896.5,619.5 899.8,619.5 903.1,619.5 906.4,619.5 909.7,619.6 913,619.6 916.3,619.6 919.6,619.6 922.9,619.6 926.2,619.6 929.5,619.6 932.8,619.6 936.1,619.6 939.4,619.7 942.7,619.7 946,619.7 949.3,619.7 952.6,619.7 955.9,619.7 959.2,619.7 962.5,619.7 965.8,619.7 969.1,619.7 972.4,619.7 975.7,619.7 979,619.7 982.3,619.7" fill="none" stroke="#e0202a" stroke-width="1.9" stroke-linejoin="round" />
<polyline points="586.2,620.3 592.8,620.2 599.4,625.2 606,620.3 612.6,618.4 619.2,619 625.8,618.9 632.4,615.2 639,618.1 645.6,617.6 652.2,620.3 658.8,619.7 665.4,618.4 672,619.1 678.6,618 685.2,619 691.8,616.8 698.4,618.4 705,618.1 711.6,613.9 718.2,613 724.8,609.5 731.4,607 738,603 744.6,596.5 751.2,591.2 757.8,587.7 764.4,584.5 771,576.8 777.6,579.7 784.2,579.2 790.9,575.9 797.5,579.4 804.1,583.9 810.7,588.4 817.3,596.5 823.9,600.1 830.5,599.4 837.1,603.5 843.7,610.2 850.3,608 856.9,616.1 863.5,616.2 870.1,614.8 876.7,618.4 883.3,617.9 889.9,617.5 896.5,619.2 903.1,617.6 909.7,617.5 916.3,620.2 922.9,619.5 929.5,618.6 936.1,618.9 942.7,620.7 949.3,618.6 955.9,617.9 962.5,619.9 969.1,617.3 975.7,621.9 982.3,622.5" fill="none" stroke="none" marker-start="url(#k2)" marker-mid="url(#k2)" marker-end="url(#k2)"/>
<polyline points="586.2,619.6 589.5,619.6 592.8,619.6 596.1,619.6 599.4,619.6 602.7,619.5 606,619.5 609.3,619.5 612.6,619.5 615.9,619.5 619.2,619.5 622.5,619.4 625.8,619.4 629.1,619.4 632.4,619.3 635.7,619.3 639,619.2 642.3,619.2 645.6,619.1 648.9,619.1 652.2,619 655.5,618.9 658.8,618.8 662.1,618.7 665.4,618.6 668.7,618.5 672,618.3 675.3,618.1 678.6,617.9 681.9,617.7 685.2,617.4 688.5,617.1 691.8,616.8 695.1,616.4 698.4,615.9 701.7,615.4 705,614.8 708.3,614.1 711.6,613.4 714.9,612.5 718.2,611.5 721.5,610.4 724.8,609.2 728.1,607.8 731.4,606.3 734.7,604.6 738,602.8 741.3,600.8 744.6,598.7 747.9,596.4 751.2,594.1 754.5,591.7 757.8,589.3 761.1,586.9 764.4,584.7 767.7,582.6 771,580.8 774.3,579.3 777.6,578.2 780.9,577.5 784.2,577.3 787.6,577.5 790.9,578.2 794.2,579.3 797.5,580.8 800.8,582.6 804.1,584.7 807.4,586.9 810.7,589.3 814,591.7 817.3,594.1 820.6,596.4 823.9,598.7 827.2,600.8 830.5,602.8 833.8,604.6 837.1,606.3 840.4,607.8 843.7,609.2 847,610.4 850.3,611.5 853.6,612.5 856.9,613.4 860.2,614.1 863.5,614.8 866.8,615.4 870.1,615.9 873.4,616.4 876.7,616.8 880,617.1 883.3,617.4 886.6,617.7 889.9,617.9 893.2,618.1 896.5,618.3 899.8,618.5 903.1,618.6 906.4,618.7 909.7,618.8 913,618.9 916.3,619 919.6,619.1 922.9,619.1 926.2,619.2 929.5,619.2 932.8,619.3 936.1,619.3 939.4,619.4 942.7,619.4 946,619.4 949.3,619.5 952.6,619.5 955.9,619.5 959.2,619.5 962.5,619.5 965.8,619.5 969.1,619.6 972.4,619.6 975.7,619.6 979,619.6 982.3,619.6" fill="none" stroke="#3cb828" stroke-width="1.9" stroke-linejoin="round" />
<polyline points="586.2,617.5 592.8,613.6 599.4,618.5 606,621 612.6,619.1 619.2,620.7 625.8,623.3 632.4,617.7 639,614.8 645.6,618.3 652.2,619.5 658.8,615.6 665.4,613.1 672,614.7 678.6,614 685.2,610.3 691.8,611.1 698.4,611.5 705,611.3 711.6,606.7 718.2,604.2 724.8,596.3 731.4,594.6 738,582.7 744.6,579.6 751.2,571.8 757.8,561.4 764.4,560.4 771,550.8 777.6,545.8 784.2,541.5 790.9,546.3 797.5,545.5 804.1,556.8 810.7,563.2 817.3,573.8 823.9,577.7 830.5,588.2 837.1,592.8 843.7,599.9 850.3,605.1 856.9,607.4 863.5,607.5 870.1,614.1 876.7,616.7 883.3,616.7 889.9,614.3 896.5,620.2 903.1,619.9 909.7,619.1 916.3,619.5 922.9,618.8 929.5,615.9 936.1,618.2 942.7,618.1 949.3,616.6 955.9,618 962.5,620.3 969.1,621.1 975.7,621 982.3,614.5" fill="none" stroke="none" marker-start="url(#k3)" marker-mid="url(#k3)" marker-end="url(#k3)"/>
<polyline points="586.2,619.5 589.5,619.4 592.8,619.4 596.1,619.4 599.4,619.4 602.7,619.3 606,619.3 609.3,619.2 612.6,619.2 615.9,619.1 619.2,619.1 622.5,619 625.8,619 629.1,618.9 632.4,618.8 635.7,618.7 639,618.6 642.3,618.5 645.6,618.3 648.9,618.2 652.2,618 655.5,617.8 658.8,617.6 662.1,617.4 665.4,617.1 668.7,616.8 672,616.4 675.3,616 678.6,615.6 681.9,615.1 685.2,614.5 688.5,613.8 691.8,613.1 695.1,612.2 698.4,611.3 701.7,610.2 705,609 708.3,607.6 711.6,606.1 714.9,604.4 718.2,602.5 721.5,600.3 724.8,598 728.1,595.4 731.4,592.5 734.7,589.4 738,586.1 741.3,582.6 744.6,578.8 747.9,574.9 751.2,570.9 754.5,566.8 757.8,562.8 761.1,558.9 764.4,555.2 767.7,551.9 771,549 774.3,546.6 777.6,544.9 780.9,543.8 784.2,543.4 787.6,543.8 790.9,544.9 794.2,546.6 797.5,549 800.8,551.9 804.1,555.2 807.4,558.9 810.7,562.8 814,566.8 817.3,570.9 820.6,574.9 823.9,578.8 827.2,582.6 830.5,586.1 833.8,589.4 837.1,592.5 840.4,595.4 843.7,598 847,600.3 850.3,602.5 853.6,604.4 856.9,606.1 860.2,607.6 863.5,609 866.8,610.2 870.1,611.3 873.4,612.2 876.7,613.1 880,613.8 883.3,614.5 886.6,615.1 889.9,615.6 893.2,616 896.5,616.4 899.8,616.8 903.1,617.1 906.4,617.4 909.7,617.6 913,617.8 916.3,618 919.6,618.2 922.9,618.3 926.2,618.5 929.5,618.6 932.8,618.7 936.1,618.8 939.4,618.9 942.7,619 946,619 949.3,619.1 952.6,619.1 955.9,619.2 959.2,619.2 962.5,619.3 965.8,619.3 969.1,619.4 972.4,619.4 975.7,619.4 979,619.4 982.3,619.5" fill="none" stroke="#2020a8" stroke-width="1.9" stroke-linejoin="round" />
<polyline points="586.2,622.7 592.8,621.1 599.4,623.7 606,615 612.6,620.6 619.2,624.2 625.8,618 632.4,620.4 639,614.9 645.6,618.1 652.2,622.8 658.8,619.3 665.4,620.5 672,619.1 678.6,617.9 685.2,619.6 691.8,613.1 698.4,613.7 705,611.3 711.6,604.2 718.2,598.4 724.8,599.5 731.4,586.5 738,587.7 744.6,569.5 751.2,559.6 757.8,544.8 764.4,534.1 771,521.9 777.6,514 784.2,512.5 790.9,512.9 797.5,515.8 804.1,534.8 810.7,547.5 817.3,565 823.9,581 830.5,581.6 837.1,596.9 843.7,601.1 850.3,603.8 856.9,604.8 863.5,609.4 870.1,608 876.7,615 883.3,620 889.9,615.5 896.5,616.3 903.1,618.9 909.7,618.2 916.3,619.7 922.9,614.9 929.5,621.5 936.1,623.5 942.7,619.5 949.3,624.4 955.9,617.8 962.5,617.5 969.1,620.8 975.7,619.8 982.3,620.3" fill="none" stroke="none" marker-start="url(#k4)" marker-mid="url(#k4)" marker-end="url(#k4)"/>
<polyline points="586.2,619.5 589.5,619.5 592.8,619.5 596.1,619.5 599.4,619.5 602.7,619.5 606,619.4 609.3,619.4 612.6,619.4 615.9,619.3 619.2,619.3 622.5,619.3 625.8,619.2 629.1,619.2 632.4,619.1 635.7,619 639,618.9 642.3,618.9 645.6,618.8 648.9,618.6 652.2,618.5 655.5,618.4 658.8,618.2 662.1,618 665.4,617.8 668.7,617.5 672,617.2 675.3,616.9 678.6,616.5 681.9,616.1 685.2,615.5 688.5,614.9 691.8,614.3 695.1,613.5 698.4,612.5 701.7,611.5 705,610.2 708.3,608.8 711.6,607.2 714.9,605.3 718.2,603.1 721.5,600.6 724.8,597.8 728.1,594.5 731.4,590.8 734.7,586.7 738,582.1 741.3,577 744.6,571.4 747.9,565.4 751.2,559 754.5,552.3 757.8,545.5 761.1,538.6 764.4,532 767.7,525.8 771,520.4 774.3,515.8 777.6,512.4 780.9,510.2 784.2,509.5 787.6,510.2 790.9,512.4 794.2,515.8 797.5,520.4 800.8,525.8 804.1,532 807.4,538.6 810.7,545.5 814,552.3 817.3,559 820.6,565.4 823.9,571.4 827.2,577 830.5,582.1 833.8,586.7 837.1,590.8 840.4,594.5 843.7,597.8 847,600.6 850.3,603.1 853.6,605.3 856.9,607.2 860.2,608.8 863.5,610.2 866.8,611.5 870.1,612.5 873.4,613.5 876.7,614.3 880,614.9 883.3,615.5 886.6,616.1 889.9,616.5 893.2,616.9 896.5,617.2 899.8,617.5 903.1,617.8 906.4,618 909.7,618.2 913,618.4 916.3,618.5 919.6,618.6 922.9,618.8 926.2,618.9 929.5,618.9 932.8,619 936.1,619.1 939.4,619.2 942.7,619.2 946,619.3 949.3,619.3 952.6,619.3 955.9,619.4 959.2,619.4 962.5,619.4 965.8,619.5 969.1,619.5 972.4,619.5 975.7,619.5 979,619.5 982.3,619.5" fill="none" stroke="#40c8d8" stroke-width="1.9" stroke-linejoin="round" />
<polyline points="586.2,616.4 592.8,615.6 599.4,614.4 606,624 612.6,620.3 619.2,618.9 625.8,619.8 632.4,624 639,615.2 645.6,623.8 652.2,621.8 658.8,627.8 665.4,621.6 672,619.9 678.6,620.5 685.2,614.5 691.8,609.3 698.4,618.2 705,617.3 711.6,606.2 718.2,605.4 724.8,600.6 731.4,594.9 738,577.1 744.6,564.7 751.2,543.5 757.8,532.5 764.4,511.1 771,492.8 777.6,479 784.2,470.4 790.9,476 797.5,493.4 804.1,510.6 810.7,531.8 817.3,548 823.9,567.9 830.5,583.6 837.1,592.3 843.7,598.8 850.3,602 856.9,605.7 863.5,609 870.1,613.2 876.7,618.5 883.3,615.9 889.9,618.4 896.5,619.8 903.1,618.2 909.7,617.4 916.3,616.3 922.9,621.7 929.5,624.5 936.1,618 942.7,622.4 949.3,617.1 955.9,622.8 962.5,621.2 969.1,625.3 975.7,614.9 982.3,622.6" fill="none" stroke="none" marker-start="url(#k5)" marker-mid="url(#k5)" marker-end="url(#k5)"/>
<polyline points="586.2,619.6 589.5,619.6 592.8,619.6 596.1,619.6 599.4,619.5 602.7,619.5 606,619.5 609.3,619.5 612.6,619.5 615.9,619.5 619.2,619.4 622.5,619.4 625.8,619.4 629.1,619.3 632.4,619.3 635.7,619.2 639,619.2 642.3,619.1 645.6,619 648.9,618.9 652.2,618.8 655.5,618.7 658.8,618.6 662.1,618.4 665.4,618.3 668.7,618.1 672,617.8 675.3,617.6 678.6,617.2 681.9,616.9 685.2,616.4 688.5,615.9 691.8,615.3 695.1,614.6 698.4,613.8 701.7,612.8 705,611.7 708.3,610.3 711.6,608.7 714.9,606.8 718.2,604.6 721.5,602 724.8,598.9 728.1,595.3 731.4,591.1 734.7,586.2 738,580.6 741.3,574.1 744.6,566.9 747.9,558.8 751.2,549.8 754.5,540.2 757.8,530 761.1,519.5 764.4,509.1 767.7,499.1 771,489.9 774.3,482.2 777.6,476.3 780.9,472.6 784.2,471.3 787.6,472.6 790.9,476.3 794.2,482.2 797.5,489.9 800.8,499.1 804.1,509.1 807.4,519.5 810.7,530 814,540.2 817.3,549.8 820.6,558.8 823.9,566.9 827.2,574.1 830.5,580.6 833.8,586.2 837.1,591.1 840.4,595.3 843.7,598.9 847,602 850.3,604.6 853.6,606.8 856.9,608.7 860.2,610.3 863.5,611.7 866.8,612.8 870.1,613.8 873.4,614.6 876.7,615.3 880,615.9 883.3,616.4 886.6,616.9 889.9,617.2 893.2,617.6 896.5,617.8 899.8,618.1 903.1,618.3 906.4,618.4 909.7,618.6 913,618.7 916.3,618.8 919.6,618.9 922.9,619 926.2,619.1 929.5,619.2 932.8,619.2 936.1,619.3 939.4,619.3 942.7,619.4 946,619.4 949.3,619.4 952.6,619.5 955.9,619.5 959.2,619.5 962.5,619.5 965.8,619.5 969.1,619.5 972.4,619.6 975.7,619.6 979,619.6 982.3,619.6" fill="none" stroke="#d02aa8" stroke-width="1.9" stroke-linejoin="round" />
<polyline points="586.2,618.8 592.8,613.1 599.4,617.8 606,621.7 612.6,626.9 619.2,619.7 625.8,620 632.4,623 639,614.4 645.6,617 652.2,616.2 658.8,621.6 665.4,609.4 672,612.6 678.6,611.4 685.2,612.2 691.8,607.3 698.4,600.5 705,597.5 711.6,585.7 718.2,580.7 724.8,573 731.4,558.8 738,547 744.6,534.3 751.2,512.3 757.8,486.7 764.4,469.6 771,450.7 777.6,440.9 784.2,426.3 790.9,440.9 797.5,451.7 804.1,467.1 810.7,482.7 817.3,505.2 823.9,533 830.5,548.6 837.1,569.7 843.7,577.7 850.3,577.7 856.9,590.9 863.5,598.7 870.1,607.7 876.7,609.3 883.3,615 889.9,619 896.5,612.5 903.1,613.6 909.7,615.9 916.3,614.9 922.9,624.5 929.5,612.9 936.1,620.7 942.7,614.8 949.3,614.4 955.9,613 962.5,610.9 969.1,618 975.7,621.3 982.3,624.3" fill="none" stroke="none" marker-start="url(#k6)" marker-mid="url(#k6)" marker-end="url(#k6)"/>
<polyline points="586.2,619.3 589.5,619.3 592.8,619.2 596.1,619.2 599.4,619.2 602.7,619.1 606,619 609.3,619 612.6,618.9 615.9,618.8 619.2,618.7 622.5,618.6 625.8,618.5 629.1,618.4 632.4,618.2 635.7,618.1 639,617.9 642.3,617.7 645.6,617.5 648.9,617.2 652.2,616.9 655.5,616.6 658.8,616.2 662.1,615.8 665.4,615.3 668.7,614.7 672,614.1 675.3,613.3 678.6,612.5 681.9,611.5 685.2,610.4 688.5,609.2 691.8,607.7 695.1,606.1 698.4,604.2 701.7,602 705,599.6 708.3,596.8 711.6,593.5 714.9,589.9 718.2,585.7 721.5,581 724.8,575.7 728.1,569.8 731.4,563.2 734.7,555.9 738,547.9 741.3,539.1 744.6,529.7 747.9,519.8 751.2,509.3 754.5,498.6 757.8,487.8 761.1,477.1 764.4,466.9 767.7,457.6 771,449.3 774.3,442.5 777.6,437.4 780.9,434.3 784.2,433.2 787.6,434.3 790.9,437.4 794.2,442.5 797.5,449.3 800.8,457.6 804.1,466.9 807.4,477.1 810.7,487.8 814,498.6 817.3,509.3 820.6,519.8 823.9,529.7 827.2,539.1 830.5,547.9 833.8,555.9 837.1,563.2 840.4,569.8 843.7,575.7 847,581 850.3,585.7 853.6,589.9 856.9,593.5 860.2,596.8 863.5,599.6 866.8,602 870.1,604.2 873.4,606.1 876.7,607.7 880,609.2 883.3,610.4 886.6,611.5 889.9,612.5 893.2,613.3 896.5,614.1 899.8,614.7 903.1,615.3 906.4,615.8 909.7,616.2 913,616.6 916.3,616.9 919.6,617.2 922.9,617.5 926.2,617.7 929.5,617.9 932.8,618.1 936.1,618.2 939.4,618.4 942.7,618.5 946,618.6 949.3,618.7 952.6,618.8 955.9,618.9 959.2,619 962.5,619 965.8,619.1 969.1,619.2 972.4,619.2 975.7,619.2 979,619.3 982.3,619.3" fill="none" stroke="#98a018" stroke-width="1.9" stroke-linejoin="round" />
<polyline points="586.2,622.3 592.8,621.5 599.4,617.8 606,615.9 612.6,623.5 619.2,617.9 625.8,617.9 632.4,620.3 639,618.4 645.6,613.1 652.2,618.6 658.8,609.5 665.4,614.8 672,609.9 678.6,609 685.2,610.5 691.8,599.8 698.4,596.1 705,590.9 711.6,582.5 718.2,570 724.8,558.4 731.4,543.6 738,522.9 744.6,498.8 751.2,479.6 757.8,458.8 764.4,430.5 771,416 777.6,400.4 784.2,396.8 790.9,404.7 797.5,419.4 804.1,437.1 810.7,456.9 817.3,487.6 823.9,500 830.5,518 837.1,541.7 843.7,560.5 850.3,576.2 856.9,579.2 863.5,586.9 870.1,593.6 876.7,597.4 883.3,607 889.9,608.5 896.5,608.3 903.1,613 909.7,610.4 916.3,611.2 922.9,616.2 929.5,619.6 936.1,619.2 942.7,613.1 949.3,622.3 955.9,617.7 962.5,622.5 969.1,610.3 975.7,621.7 982.3,616.5" fill="none" stroke="none" marker-start="url(#k7)" marker-mid="url(#k7)" marker-end="url(#k7)"/>
<polyline points="586.2,619 589.5,618.9 592.8,618.9 596.1,618.8 599.4,618.7 602.7,618.6 606,618.5 609.3,618.4 612.6,618.3 615.9,618.1 619.2,618 622.5,617.8 625.8,617.6 629.1,617.4 632.4,617.1 635.7,616.8 639,616.5 642.3,616.2 645.6,615.8 648.9,615.3 652.2,614.8 655.5,614.3 658.8,613.7 662.1,613 665.4,612.2 668.7,611.3 672,610.2 675.3,609.1 678.6,607.8 681.9,606.3 685.2,604.6 688.5,602.7 691.8,600.6 695.1,598.1 698.4,595.4 701.7,592.3 705,588.8 708.3,584.8 711.6,580.4 714.9,575.5 718.2,569.9 721.5,563.8 724.8,556.9 728.1,549.4 731.4,541.2 734.7,532.3 738,522.7 741.3,512.4 744.6,501.6 747.9,490.3 751.2,478.7 754.5,467 757.8,455.3 761.1,444.1 764.4,433.5 767.7,423.8 771,415.4 774.3,408.6 777.6,403.5 780.9,400.4 784.2,399.3 787.6,400.4 790.9,403.5 794.2,408.6 797.5,415.4 800.8,423.8 804.1,433.5 807.4,444.1 810.7,455.3 814,467 817.3,478.7 820.6,490.3 823.9,501.6 827.2,512.4 830.5,522.7 833.8,532.3 837.1,541.2 840.4,549.4 843.7,556.9 847,563.8 850.3,569.9 853.6,575.5 856.9,580.4 860.2,584.8 863.5,588.8 866.8,592.3 870.1,595.4 873.4,598.1 876.7,600.6 880,602.7 883.3,604.6 886.6,606.3 889.9,607.8 893.2,609.1 896.5,610.2 899.8,611.3 903.1,612.2 906.4,613 909.7,613.7 913,614.3 916.3,614.8 919.6,615.3 922.9,615.8 926.2,616.2 929.5,616.5 932.8,616.8 936.1,617.1 939.4,617.4 942.7,617.6 946,617.8 949.3,618 952.6,618.1 955.9,618.3 959.2,618.4 962.5,618.5 965.8,618.6 969.1,618.7 972.4,618.8 975.7,618.9 979,618.9 982.3,619" fill="none" stroke="#1a1a70" stroke-width="1.9" stroke-linejoin="round" />
<polyline points="586.2,619.2 592.8,623.8 599.4,620.9 606,618.4 612.6,613.9 619.2,611.5 625.8,612.5 632.4,616.1 639,610.9 645.6,611.9 652.2,606.9 658.8,605 665.4,600 672,611.7 678.6,606.4 685.2,602.1 691.8,594.7 698.4,589.8 705,584.9 711.6,570.1 718.2,562.8 724.8,545.5 731.4,525.2 738,511.1 744.6,478.6 751.2,462.9 757.8,440.8 764.4,412.8 771,402.1 777.6,383 784.2,378.3 790.9,376.8 797.5,382.1 804.1,412.2 810.7,442.5 817.3,460.5 823.9,482.1 830.5,509.8 837.1,525.8 843.7,537.2 850.3,557.6 856.9,574.9 863.5,584 870.1,596.3 876.7,598.7 883.3,603.6 889.9,599.2 896.5,613.4 903.1,615.9 909.7,611.2 916.3,610.4 922.9,618 929.5,616.3 936.1,614.2 942.7,615.1 949.3,616.7 955.9,614.6 962.5,623 969.1,614 975.7,616 982.3,620.8" fill="none" stroke="none" marker-start="url(#k8)" marker-mid="url(#k8)" marker-end="url(#k8)"/>
<polyline points="586.2,618.7 589.5,618.7 592.8,618.6 596.1,618.5 599.4,618.4 602.7,618.2 606,618.1 609.3,617.9 612.6,617.8 615.9,617.6 619.2,617.4 622.5,617.1 625.8,616.9 629.1,616.6 632.4,616.3 635.7,615.9 639,615.5 642.3,615.1 645.6,614.6 648.9,614 652.2,613.4 655.5,612.7 658.8,611.9 662.1,611 665.4,610 668.7,608.8 672,607.6 675.3,606.1 678.6,604.5 681.9,602.7 685.2,600.6 688.5,598.3 691.8,595.7 695.1,592.8 698.4,589.5 701.7,585.8 705,581.7 708.3,577 711.6,571.9 714.9,566.1 718.2,559.8 721.5,552.8 724.8,545.1 728.1,536.6 731.4,527.5 734.7,517.7 738,507.1 741.3,496 744.6,484.3 747.9,472.3 751.2,460 754.5,447.7 757.8,435.5 761.1,423.9 764.4,412.9 767.7,403 771,394.5 774.3,387.5 777.6,382.3 780.9,379.2 784.2,378.1 787.6,379.2 790.9,382.3 794.2,387.5 797.5,394.5 800.8,403 804.1,412.9 807.4,423.9 810.7,435.5 814,447.7 817.3,460 820.6,472.3 823.9,484.3 827.2,496 830.5,507.1 833.8,517.7 837.1,527.5 840.4,536.6 843.7,545.1 847,552.8 850.3,559.8 853.6,566.1 856.9,571.9 860.2,577 863.5,581.7 866.8,585.8 870.1,589.5 873.4,592.8 876.7,595.7 880,598.3 883.3,600.6 886.6,602.7 889.9,604.5 893.2,606.1 896.5,607.6 899.8,608.8 903.1,610 906.4,611 909.7,611.9 913,612.7 916.3,613.4 919.6,614 922.9,614.6 926.2,615.1 929.5,615.5 932.8,615.9 936.1,616.3 939.4,616.6 942.7,616.9 946,617.1 949.3,617.4 952.6,617.6 955.9,617.8 959.2,617.9 962.5,618.1 965.8,618.2 969.1,618.4 972.4,618.5 975.7,618.6 979,618.7 982.3,618.7" fill="none" stroke="#7a1a80" stroke-width="1.9" stroke-linejoin="round" />
<polyline points="586.2,617.8 592.8,622.7 599.4,623.5 606,612.7 612.6,620.4 619.2,616.9 625.8,616.3 632.4,614.9 639,613.1 645.6,611.1 652.2,612.5 658.8,606.5 665.4,609.1 672,603.9 678.6,603.7 685.2,596.2 691.8,594.1 698.4,576.8 705,569.6 711.6,563.2 718.2,552.8 724.8,532.4 731.4,505.8 738,493.5 744.6,462.6 751.2,442.3 757.8,418.6 764.4,399.8 771,376.5 777.6,361.9 784.2,361.3 790.9,365.9 797.5,382.9 804.1,396 810.7,424.6 817.3,446.5 823.9,467.8 830.5,496.9 837.1,511.5 843.7,533.7 850.3,543.2 856.9,562.5 863.5,572.3 870.1,580.4 876.7,588.1 883.3,593.3 889.9,607.5 896.5,601.1 903.1,613.1 909.7,612.1 916.3,621.8 922.9,613.6 929.5,616 936.1,616.6 942.7,621.2 949.3,618.8 955.9,623.1 962.5,619.5 969.1,615.3 975.7,626.5 982.3,617" fill="none" stroke="none" marker-start="url(#k9)" marker-mid="url(#k9)" marker-end="url(#k9)"/>
<polyline points="586.2,618.4 589.5,618.2 592.8,618.1 596.1,618 599.4,617.8 602.7,617.6 606,617.5 609.3,617.2 612.6,617 615.9,616.8 619.2,616.5 622.5,616.2 625.8,615.8 629.1,615.4 632.4,615 635.7,614.5 639,614 642.3,613.4 645.6,612.8 648.9,612 652.2,611.2 655.5,610.3 658.8,609.3 662.1,608.1 665.4,606.9 668.7,605.4 672,603.8 675.3,602.1 678.6,600.1 681.9,597.8 685.2,595.3 688.5,592.5 691.8,589.4 695.1,585.9 698.4,582 701.7,577.7 705,572.9 708.3,567.6 711.6,561.8 714.9,555.3 718.2,548.2 721.5,540.5 724.8,532.1 728.1,523 731.4,513.3 734.7,502.9 738,492 741.3,480.5 744.6,468.6 747.9,456.5 751.2,444.2 754.5,432 757.8,420.2 761.1,408.9 764.4,398.4 767.7,388.9 771,380.8 774.3,374.2 777.6,369.4 780.9,366.4 784.2,365.4 787.6,366.4 790.9,369.4 794.2,374.2 797.5,380.8 800.8,388.9 804.1,398.4 807.4,408.9 810.7,420.2 814,432 817.3,444.2 820.6,456.5 823.9,468.6 827.2,480.5 830.5,492 833.8,502.9 837.1,513.3 840.4,523 843.7,532.1 847,540.5 850.3,548.2 853.6,555.3 856.9,561.8 860.2,567.6 863.5,572.9 866.8,577.7 870.1,582 873.4,585.9 876.7,589.4 880,592.5 883.3,595.3 886.6,597.8 889.9,600.1 893.2,602.1 896.5,603.8 899.8,605.4 903.1,606.9 906.4,608.1 909.7,609.3 913,610.3 916.3,611.2 919.6,612 922.9,612.8 926.2,613.4 929.5,614 932.8,614.5 936.1,615 939.4,615.4 942.7,615.8 946,616.2 949.3,616.5 952.6,616.8 955.9,617 959.2,617.2 962.5,617.5 965.8,617.6 969.1,617.8 972.4,618 975.7,618.1 979,618.2 982.3,618.4" fill="none" stroke="#7a1e28" stroke-width="1.9" stroke-linejoin="round" />
</g>
<rect x="882.3" y="323" width="100" height="184" fill="#fff" stroke="#555" stroke-width="1"/>
<path d="M586.2 641.7v5M586.2 323v-5M652.2 641.7v5M652.2 323v-5M718.2 641.7v5M718.2 323v-5M784.2 641.7v5M784.2 323v-5M850.3 641.7v5M850.3 323v-5M916.3 641.7v5M916.3 323v-5M982.3 641.7v5M982.3 323v-5M619.2 641.7v3M619.2 323v-3M685.2 641.7v3M685.2 323v-3M751.2 641.7v3M751.2 323v-3M817.3 641.7v3M817.3 323v-3M883.3 641.7v3M883.3 323v-3M949.3 641.7v3M949.3 323v-3M586.2 619.7h-5M982.3 619.7h5M586.2 577.3h-5M982.3 577.3h5M586.2 534.9h-5M982.3 534.9h5M586.2 492.5h-5M982.3 492.5h5M586.2 450.2h-5M982.3 450.2h5M586.2 407.8h-5M982.3 407.8h5M586.2 365.4h-5M982.3 365.4h5M586.2 323h-5M982.3 323h5M586.2 640.9h-3M982.3 640.9h3M586.2 598.5h-3M982.3 598.5h3M586.2 556.1h-3M982.3 556.1h3M586.2 513.7h-3M982.3 513.7h3M586.2 471.3h-3M982.3 471.3h3M586.2 429h-3M982.3 429h3M586.2 386.6h-3M982.3 386.6h3M586.2 344.2h-3M982.3 344.2h3" stroke="#3a3a3a" stroke-width="1.6" fill="none"/>
<rect x="586.2" y="323" width="396.1" height="318.7" fill="none" stroke="#3a3a3a" stroke-width="2.2"/>
<text x="586.2" y="664" font-size="14" fill="#3a3a3a" text-anchor="middle" font-family="'DejaVu Sans', 'Liberation Sans', sans-serif"  stroke="#3a3a3a" stroke-width="0.45">-15</text>
<text x="652.2" y="664" font-size="14" fill="#3a3a3a" text-anchor="middle" font-family="'DejaVu Sans', 'Liberation Sans', sans-serif"  stroke="#3a3a3a" stroke-width="0.45">-10</text>
<text x="718.2" y="664" font-size="14" fill="#3a3a3a" text-anchor="middle" font-family="'DejaVu Sans', 'Liberation Sans', sans-serif"  stroke="#3a3a3a" stroke-width="0.45">-5</text>
<text x="784.2" y="664" font-size="14" fill="#3a3a3a" text-anchor="middle" font-family="'DejaVu Sans', 'Liberation Sans', sans-serif"  stroke="#3a3a3a" stroke-width="0.45">0</text>
<text x="850.3" y="664" font-size="14" fill="#3a3a3a" text-anchor="middle" font-family="'DejaVu Sans', 'Liberation Sans', sans-serif"  stroke="#3a3a3a" stroke-width="0.45">5</text>
<text x="916.3" y="664" font-size="14" fill="#3a3a3a" text-anchor="middle" font-family="'DejaVu Sans', 'Liberation Sans', sans-serif"  stroke="#3a3a3a" stroke-width="0.45">10</text>
<text x="982.3" y="664" font-size="14" fill="#3a3a3a" text-anchor="middle" font-family="'DejaVu Sans', 'Liberation Sans', sans-serif"  stroke="#3a3a3a" stroke-width="0.45">15</text>
<text x="576.2" y="624.7" font-size="14" fill="#3a3a3a" text-anchor="end" font-family="'DejaVu Sans', 'Liberation Sans', sans-serif"  stroke="#3a3a3a" stroke-width="0.45">1.0</text>
<text x="576.2" y="582.3" font-size="14" fill="#3a3a3a" text-anchor="end" font-family="'DejaVu Sans', 'Liberation Sans', sans-serif"  stroke="#3a3a3a" stroke-width="0.45">1.1</text>
<text x="576.2" y="539.9" font-size="14" fill="#3a3a3a" text-anchor="end" font-family="'DejaVu Sans', 'Liberation Sans', sans-serif"  stroke="#3a3a3a" stroke-width="0.45">1.2</text>
<text x="576.2" y="497.5" font-size="14" fill="#3a3a3a" text-anchor="end" font-family="'DejaVu Sans', 'Liberation Sans', sans-serif"  stroke="#3a3a3a" stroke-width="0.45">1.3</text>
<text x="576.2" y="455.2" font-size="14" fill="#3a3a3a" text-anchor="end" font-family="'DejaVu Sans', 'Liberation Sans', sans-serif"  stroke="#3a3a3a" stroke-width="0.45">1.4</text>
<text x="576.2" y="412.8" font-size="14" fill="#3a3a3a" text-anchor="end" font-family="'DejaVu Sans', 'Liberation Sans', sans-serif"  stroke="#3a3a3a" stroke-width="0.45">1.5</text>
<text x="576.2" y="370.4" font-size="14" fill="#3a3a3a" text-anchor="end" font-family="'DejaVu Sans', 'Liberation Sans', sans-serif"  stroke="#3a3a3a" stroke-width="0.45">1.6</text>
<text x="576.2" y="328" font-size="14" fill="#3a3a3a" text-anchor="end" font-family="'DejaVu Sans', 'Liberation Sans', sans-serif"  stroke="#3a3a3a" stroke-width="0.45">1.7</text>
<polyline points="900,333.3 900,333.3" fill="none" stroke="none" marker-start="url(#k22)" marker-mid="url(#k22)" marker-end="url(#k22)"/>
<text x="921" y="338.3" font-size="14" fill="#333" font-family="'DejaVu Sans', 'Liberation Sans', sans-serif"  stroke="#333" stroke-width="0.45">0.062 μJ</text>
<polyline points="900,351.7 900,351.7" fill="none" stroke="none" marker-start="url(#k23)" marker-mid="url(#k23)" marker-end="url(#k23)"/>
<text x="921" y="356.7" font-size="14" fill="#333" font-family="'DejaVu Sans', 'Liberation Sans', sans-serif"  stroke="#333" stroke-width="0.45">0.078 μJ</text>
<polyline points="900,370.1 900,370.1" fill="none" stroke="none" marker-start="url(#k24)" marker-mid="url(#k24)" marker-end="url(#k24)"/>
<text x="921" y="375.1" font-size="14" fill="#333" font-family="'DejaVu Sans', 'Liberation Sans', sans-serif"  stroke="#333" stroke-width="0.45">0.214 μJ</text>
<polyline points="900,388.5 900,388.5" fill="none" stroke="none" marker-start="url(#k25)" marker-mid="url(#k25)" marker-end="url(#k25)"/>
<text x="921" y="393.5" font-size="14" fill="#333" font-family="'DejaVu Sans', 'Liberation Sans', sans-serif"  stroke="#333" stroke-width="0.45">0.482 μJ</text>
<polyline points="900,406.9 900,406.9" fill="none" stroke="none" marker-start="url(#k26)" marker-mid="url(#k26)" marker-end="url(#k26)"/>
<text x="921" y="411.9" font-size="14" fill="#333" font-family="'DejaVu Sans', 'Liberation Sans', sans-serif"  stroke="#333" stroke-width="0.45">0.824 μJ</text>
<polyline points="900,425.3 900,425.3" fill="none" stroke="none" marker-start="url(#k27)" marker-mid="url(#k27)" marker-end="url(#k27)"/>
<text x="921" y="430.3" font-size="14" fill="#333" font-family="'DejaVu Sans', 'Liberation Sans', sans-serif"  stroke="#333" stroke-width="0.45">1.22 μJ</text>
<polyline points="900,443.7 900,443.7" fill="none" stroke="none" marker-start="url(#k28)" marker-mid="url(#k28)" marker-end="url(#k28)"/>
<text x="921" y="448.7" font-size="14" fill="#333" font-family="'DejaVu Sans', 'Liberation Sans', sans-serif"  stroke="#333" stroke-width="0.45">1.57 μJ</text>
<polyline points="900,462.1 900,462.1" fill="none" stroke="none" marker-start="url(#k29)" marker-mid="url(#k29)" marker-end="url(#k29)"/>
<text x="921" y="467.1" font-size="14" fill="#333" font-family="'DejaVu Sans', 'Liberation Sans', sans-serif"  stroke="#333" stroke-width="0.45">1.89 μJ</text>
<polyline points="900,480.5 900,480.5" fill="none" stroke="none" marker-start="url(#k30)" marker-mid="url(#k30)" marker-end="url(#k30)"/>
<text x="921" y="485.5" font-size="14" fill="#333" font-family="'DejaVu Sans', 'Liberation Sans', sans-serif"  stroke="#333" stroke-width="0.45">2.12 μJ</text>
<polyline points="900,498.9 900,498.9" fill="none" stroke="none" marker-start="url(#k31)" marker-mid="url(#k31)" marker-end="url(#k31)"/>
<text x="921" y="503.9" font-size="14" fill="#333" font-family="'DejaVu Sans', 'Liberation Sans', sans-serif"  stroke="#333" stroke-width="0.45">2.29 μJ</text>
<text x="617.6" y="355" font-size="18" fill="#222" font-family="'DejaVu Sans', 'Liberation Sans', sans-serif" stroke="#222" stroke-width="0.35">1064 nm</text>
<text x="626.5" y="414" font-size="45" fill="#111" font-family="'Liberation Serif', serif"  stroke="#111" stroke-width="0.7">(g)</text>
<text x="785.1" y="685.4" font-size="16.7" fill="#333" text-anchor="middle" font-family="'DejaVu Sans', 'Liberation Sans', sans-serif"  textLength="165" lengthAdjust="spacingAndGlyphs" stroke="#333" stroke-width="0.45">Displacement (mm)</text>
<text x="542" y="480" font-size="17.5" fill="#333" text-anchor="middle" font-family="'DejaVu Sans', 'Liberation Sans', sans-serif" transform="rotate(-90 542 480)" stroke="#333" stroke-width="0.45">T<tspan font-size="9" dy="3">norm</tspan><tspan dy="-3"> (a.u.)</tspan></text>
<g clip-path="url(#ch)">
<polyline points="1053.8,620.3 1060.4,623.1 1067,623.9 1073.7,627.7 1080.3,624.1 1086.9,624.7 1093.5,623.9 1100.1,624.6 1106.7,623.1 1113.4,624.3 1120,625.2 1126.6,621.5 1133.2,621.4 1139.8,621.1 1146.5,623.6 1153.1,625.1 1159.7,625.4 1166.3,627 1172.9,622.5 1179.5,626.5 1186.2,625.8 1192.8,624.2 1199.4,621.8 1206,624.7 1212.6,627.2 1219.3,627.3 1225.9,625.1 1232.5,626.5 1239.1,626.4 1245.7,625.4 1252.3,623.5 1259,621 1265.6,626.5 1272.2,625.7 1278.8,625 1285.4,627.4 1292.1,625.6 1298.7,625.5 1305.3,621.5 1311.9,624 1318.5,626.8 1325.2,622.6 1331.8,624.6 1338.4,626.9 1345,625.3 1351.6,625.5 1358.2,625.9 1364.9,624.2 1371.5,628.1 1378.1,625 1384.7,622.5 1391.3,622.4 1398,621.7 1404.6,622.2 1411.2,620.9 1417.8,625.7 1424.4,622.5 1431,627.5 1437.7,625.7 1444.3,628.3 1450.9,623" fill="none" stroke="none" marker-start="url(#k0)" marker-mid="url(#k0)" marker-end="url(#k0)"/>
<polyline points="1053.8,624.2 1057.1,624.2 1060.4,624.2 1063.7,624.2 1067,624.2 1070.3,624.2 1073.7,624.2 1077,624.2 1080.3,624.2 1083.6,624.2 1086.9,624.2 1090.2,624.2 1093.5,624.2 1096.8,624.2 1100.1,624.2 1103.4,624.2 1106.7,624.2 1110.1,624.2 1113.4,624.2 1116.7,624.2 1120,624.2 1123.3,624.2 1126.6,624.2 1129.9,624.2 1133.2,624.2 1136.5,624.2 1139.8,624.2 1143.1,624.2 1146.5,624.2 1149.8,624.2 1153.1,624.2 1156.4,624.2 1159.7,624.2 1163,624.2 1166.3,624.2 1169.6,624.2 1172.9,624.2 1176.2,624.2 1179.5,624.2 1182.9,624.2 1186.2,624.2 1189.5,624.2 1192.8,624.2 1196.1,624.2 1199.4,624.2 1202.7,624.2 1206,624.2 1209.3,624.2 1212.6,624.2 1215.9,624.2 1219.3,624.2 1222.6,624.2 1225.9,624.2 1229.2,624.2 1232.5,624.2 1235.8,624.2 1239.1,624.2 1242.4,624.2 1245.7,624.2 1249,624.2 1252.3,624.2 1255.7,624.2 1259,624.2 1262.3,624.2 1265.6,624.2 1268.9,624.2 1272.2,624.2 1275.5,624.2 1278.8,624.2 1282.1,624.2 1285.4,624.2 1288.8,624.2 1292.1,624.2 1295.4,624.2 1298.7,624.2 1302,624.2 1305.3,624.2 1308.6,624.2 1311.9,624.2 1315.2,624.2 1318.5,624.2 1321.8,624.2 1325.2,624.2 1328.5,624.2 1331.8,624.2 1335.1,624.2 1338.4,624.2 1341.7,624.2 1345,624.2 1348.3,624.2 1351.6,624.2 1354.9,624.2 1358.2,624.2 1361.6,624.2 1364.9,624.2 1368.2,624.2 1371.5,624.2 1374.8,624.2 1378.1,624.2 1381.4,624.2 1384.7,624.2 1388,624.2 1391.3,624.2 1394.6,624.2 1398,624.2 1401.3,624.2 1404.6,624.2 1407.9,624.2 1411.2,624.2 1414.5,624.2 1417.8,624.2 1421.1,624.2 1424.4,624.2 1427.7,624.2 1431,624.2 1434.4,624.2 1437.7,624.2 1441,624.2 1444.3,624.2 1447.6,624.2 1450.9,624.2" fill="none" stroke="#1a1a1a" stroke-width="1.9" stroke-linejoin="round" />
<polyline points="1053.8,624.9 1060.4,624.3 1067,626.2 1073.7,625.9 1080.3,624.9 1086.9,619.5 1093.5,621 1100.1,623.6 1106.7,621.8 1113.4,623.5 1120,624 1126.6,621.8 1133.2,624 1139.8,625.4 1146.5,622.9 1153.1,620.2 1159.7,619.7 1166.3,617 1172.9,620.4 1179.5,617.6 1186.2,616.9 1192.8,617 1199.4,613.2 1206,612.5 1212.6,613.3 1219.3,608.5 1225.9,611.3 1232.5,608.3 1239.1,607.4 1245.7,606.3 1252.3,608.8 1259,607.9 1265.6,608.2 1272.2,607 1278.8,610.8 1285.4,611.4 1292.1,613.3 1298.7,617.1 1305.3,610.9 1311.9,617.7 1318.5,620.2 1325.2,615.8 1331.8,621.4 1338.4,618.2 1345,618.2 1351.6,621.7 1358.2,621.8 1364.9,622.4 1371.5,623.5 1378.1,626.8 1384.7,625.4 1391.3,622.9 1398,620.6 1404.6,620.5 1411.2,617.7 1417.8,620.5 1424.4,622.5 1431,621.6 1437.7,625.6 1444.3,623.7 1450.9,625" fill="none" stroke="none" marker-start="url(#k1)" marker-mid="url(#k1)" marker-end="url(#k1)"/>
<polyline points="1053.8,624 1057.1,624 1060.4,624 1063.7,624 1067,624 1070.3,624 1073.7,623.9 1077,623.9 1080.3,623.9 1083.6,623.9 1086.9,623.8 1090.2,623.8 1093.5,623.8 1096.8,623.7 1100.1,623.7 1103.4,623.6 1106.7,623.6 1110.1,623.5 1113.4,623.4 1116.7,623.4 1120,623.3 1123.3,623.2 1126.6,623.1 1129.9,623 1133.2,622.9 1136.5,622.7 1139.8,622.6 1143.1,622.4 1146.5,622.2 1149.8,622 1153.1,621.8 1156.4,621.6 1159.7,621.3 1163,621 1166.3,620.7 1169.6,620.4 1172.9,620 1176.2,619.6 1179.5,619.1 1182.9,618.7 1186.2,618.1 1189.5,617.6 1192.8,617 1196.1,616.4 1199.4,615.8 1202.7,615.1 1206,614.4 1209.3,613.7 1212.6,613 1215.9,612.2 1219.3,611.5 1222.6,610.8 1225.9,610.2 1229.2,609.5 1232.5,608.9 1235.8,608.4 1239.1,608 1242.4,607.7 1245.7,607.4 1249,607.2 1252.3,607.2 1255.7,607.2 1259,607.4 1262.3,607.7 1265.6,608 1268.9,608.4 1272.2,608.9 1275.5,609.5 1278.8,610.2 1282.1,610.8 1285.4,611.5 1288.8,612.2 1292.1,613 1295.4,613.7 1298.7,614.4 1302,615.1 1305.3,615.8 1308.6,616.4 1311.9,617 1315.2,617.6 1318.5,618.1 1321.8,618.7 1325.2,619.1 1328.5,619.6 1331.8,620 1335.1,620.4 1338.4,620.7 1341.7,621 1345,621.3 1348.3,621.6 1351.6,621.8 1354.9,622 1358.2,622.2 1361.6,622.4 1364.9,622.6 1368.2,622.7 1371.5,622.9 1374.8,623 1378.1,623.1 1381.4,623.2 1384.7,623.3 1388,623.4 1391.3,623.4 1394.6,623.5 1398,623.6 1401.3,623.6 1404.6,623.7 1407.9,623.7 1411.2,623.8 1414.5,623.8 1417.8,623.8 1421.1,623.9 1424.4,623.9 1427.7,623.9 1431,623.9 1434.4,624 1437.7,624 1441,624 1444.3,624 1447.6,624 1450.9,624" fill="none" stroke="#e0202a" stroke-width="1.9" stroke-linejoin="round" />
<polyline points="1053.8,623.1 1060.4,621.1 1067,624.1 1073.7,620.3 1080.3,621.1 1086.9,619.6 1093.5,611.4 1100.1,615.5 1106.7,618.4 1113.4,615 1120,617.8 1126.6,614.8 1133.2,614.1 1139.8,608.8 1146.5,614.7 1153.1,608.7 1159.7,607.6 1166.3,609.2 1172.9,603.5 1179.5,604.8 1186.2,597.1 1192.8,597.5 1199.4,594.4 1206,592 1212.6,588.2 1219.3,591 1225.9,583.7 1232.5,582.3 1239.1,579.4 1245.7,578 1252.3,577.9 1259,582 1265.6,577.7 1272.2,578 1278.8,585.6 1285.4,586.3 1292.1,588 1298.7,588.6 1305.3,589.6 1311.9,600.3 1318.5,602.3 1325.2,606.4 1331.8,608.8 1338.4,612.2 1345,608.1 1351.6,613 1358.2,608.5 1364.9,611.1 1371.5,616.6 1378.1,618 1384.7,617.8 1391.3,613.3 1398,619.1 1404.6,620.5 1411.2,617.9 1417.8,616.5 1424.4,620.3 1431,615.2 1437.7,619.1 1444.3,618.8 1450.9,622" fill="none" stroke="none" marker-start="url(#k2)" marker-mid="url(#k2)" marker-end="url(#k2)"/>
<polyline points="1053.8,620.1 1057.1,620 1060.4,619.9 1063.7,619.8 1067,619.7 1070.3,619.6 1073.7,619.5 1077,619.4 1080.3,619.2 1083.6,619.1 1086.9,618.9 1090.2,618.7 1093.5,618.6 1096.8,618.3 1100.1,618.1 1103.4,617.9 1106.7,617.6 1110.1,617.3 1113.4,617 1116.7,616.7 1120,616.3 1123.3,615.9 1126.6,615.5 1129.9,615 1133.2,614.5 1136.5,614 1139.8,613.4 1143.1,612.8 1146.5,612.1 1149.8,611.4 1153.1,610.7 1156.4,609.9 1159.7,609 1163,608.1 1166.3,607.1 1169.6,606.1 1172.9,605 1176.2,603.9 1179.5,602.7 1182.9,601.4 1186.2,600.1 1189.5,598.8 1192.8,597.4 1196.1,596 1199.4,594.6 1202.7,593.1 1206,591.7 1209.3,590.2 1212.6,588.8 1215.9,587.4 1219.3,586.1 1222.6,584.8 1225.9,583.6 1229.2,582.6 1232.5,581.6 1235.8,580.7 1239.1,580 1242.4,579.4 1245.7,579 1249,578.8 1252.3,578.7 1255.7,578.8 1259,579 1262.3,579.4 1265.6,580 1268.9,580.7 1272.2,581.6 1275.5,582.6 1278.8,583.6 1282.1,584.8 1285.4,586.1 1288.8,587.4 1292.1,588.8 1295.4,590.2 1298.7,591.7 1302,593.1 1305.3,594.6 1308.6,596 1311.9,597.4 1315.2,598.8 1318.5,600.1 1321.8,601.4 1325.2,602.7 1328.5,603.9 1331.8,605 1335.1,606.1 1338.4,607.1 1341.7,608.1 1345,609 1348.3,609.9 1351.6,610.7 1354.9,611.4 1358.2,612.1 1361.6,612.8 1364.9,613.4 1368.2,614 1371.5,614.5 1374.8,615 1378.1,615.5 1381.4,615.9 1384.7,616.3 1388,616.7 1391.3,617 1394.6,617.3 1398,617.6 1401.3,617.9 1404.6,618.1 1407.9,618.3 1411.2,618.6 1414.5,618.7 1417.8,618.9 1421.1,619.1 1424.4,619.2 1427.7,619.4 1431,619.5 1434.4,619.6 1437.7,619.7 1441,619.8 1444.3,619.9 1447.6,620 1450.9,620.1" fill="none" stroke="#3cb828" stroke-width="1.9" stroke-linejoin="round" />
<polyline points="1053.8,615.9 1060.4,617.4 1067,616.9 1073.7,613.5 1080.3,619.2 1086.9,614.2 1093.5,615.9 1100.1,615.2 1106.7,612.5 1113.4,609.6 1120,611 1126.6,610.4 1133.2,607.4 1139.8,606.5 1146.5,611.5 1153.1,604 1159.7,600.8 1166.3,596.3 1172.9,589.5 1179.5,589.4 1186.2,586.5 1192.8,584.5 1199.4,577.1 1206,570.6 1212.6,563.5 1219.3,564.4 1225.9,556.7 1232.5,551.6 1239.1,547.3 1245.7,550.5 1252.3,552 1259,552.8 1265.6,553.1 1272.2,556 1278.8,555.7 1285.4,559.6 1292.1,565.5 1298.7,570 1305.3,578.9 1311.9,581.2 1318.5,586.5 1325.2,589.7 1331.8,590.8 1338.4,597.2 1345,604.4 1351.6,604 1358.2,607 1364.9,609.4 1371.5,610.2 1378.1,606.8 1384.7,605.6 1391.3,612.6 1398,609.6 1404.6,609.1 1411.2,616.8 1417.8,613.8 1424.4,614.7 1431,614.3 1437.7,619.6 1444.3,616.2 1450.9,613.5" fill="none" stroke="none" marker-start="url(#k3)" marker-mid="url(#k3)" marker-end="url(#k3)"/>
<polyline points="1053.8,615.6 1057.1,615.5 1060.4,615.4 1063.7,615.3 1067,615.2 1070.3,615.1 1073.7,614.9 1077,614.7 1080.3,614.6 1083.6,614.4 1086.9,614.1 1090.2,613.9 1093.5,613.7 1096.8,613.4 1100.1,613.1 1103.4,612.8 1106.7,612.4 1110.1,612 1113.4,611.6 1116.7,611.1 1120,610.6 1123.3,610.1 1126.6,609.5 1129.9,608.9 1133.2,608.2 1136.5,607.4 1139.8,606.6 1143.1,605.7 1146.5,604.8 1149.8,603.7 1153.1,602.6 1156.4,601.4 1159.7,600.1 1163,598.7 1166.3,597.2 1169.6,595.6 1172.9,593.9 1176.2,592.1 1179.5,590.2 1182.9,588.2 1186.2,586.1 1189.5,583.9 1192.8,581.7 1196.1,579.3 1199.4,576.9 1202.7,574.5 1206,572 1209.3,569.5 1212.6,567 1215.9,564.6 1219.3,562.3 1222.6,560 1225.9,557.9 1229.2,556 1232.5,554.2 1235.8,552.6 1239.1,551.3 1242.4,550.3 1245.7,549.5 1249,549.1 1252.3,548.9 1255.7,549.1 1259,549.5 1262.3,550.3 1265.6,551.3 1268.9,552.6 1272.2,554.2 1275.5,556 1278.8,557.9 1282.1,560 1285.4,562.3 1288.8,564.6 1292.1,567 1295.4,569.5 1298.7,572 1302,574.5 1305.3,576.9 1308.6,579.3 1311.9,581.7 1315.2,583.9 1318.5,586.1 1321.8,588.2 1325.2,590.2 1328.5,592.1 1331.8,593.9 1335.1,595.6 1338.4,597.2 1341.7,598.7 1345,600.1 1348.3,601.4 1351.6,602.6 1354.9,603.7 1358.2,604.8 1361.6,605.7 1364.9,606.6 1368.2,607.4 1371.5,608.2 1374.8,608.9 1378.1,609.5 1381.4,610.1 1384.7,610.6 1388,611.1 1391.3,611.6 1394.6,612 1398,612.4 1401.3,612.8 1404.6,613.1 1407.9,613.4 1411.2,613.7 1414.5,613.9 1417.8,614.1 1421.1,614.4 1424.4,614.6 1427.7,614.7 1431,614.9 1434.4,615.1 1437.7,615.2 1441,615.3 1444.3,615.4 1447.6,615.5 1450.9,615.6" fill="none" stroke="#2020a8" stroke-width="1.9" stroke-linejoin="round" />
<polyline points="1053.8,611.3 1060.4,610.6 1067,614.5 1073.7,609.2 1080.3,611.9 1086.9,611.4 1093.5,609.3 1100.1,611.4 1106.7,610.3 1113.4,604.7 1120,607.5 1126.6,601.7 1133.2,601 1139.8,602.5 1146.5,603.1 1153.1,595.6 1159.7,590 1166.3,587 1172.9,585.3 1179.5,573.3 1186.2,573.7 1192.8,565.1 1199.4,553.7 1206,540.1 1212.6,539.7 1219.3,538.4 1225.9,528.4 1232.5,522.2 1239.1,517.1 1245.7,517.3 1252.3,518.5 1259,515 1265.6,517.5 1272.2,519 1278.8,522.9 1285.4,537.8 1292.1,544.8 1298.7,550.1 1305.3,557.6 1311.9,562.6 1318.5,568.6 1325.2,575 1331.8,577.6 1338.4,586.9 1345,594 1351.6,598 1358.2,599.2 1364.9,601.8 1371.5,606 1378.1,599.5 1384.7,602.1 1391.3,605.8 1398,608.6 1404.6,612.4 1411.2,612 1417.8,605.4 1424.4,617.2 1431,611.1 1437.7,609.4 1444.3,612.1 1450.9,613.3" fill="none" stroke="none" marker-start="url(#k4)" marker-mid="url(#k4)" marker-end="url(#k4)"/>
<polyline points="1053.8,612.9 1057.1,612.8 1060.4,612.6 1063.7,612.5 1067,612.3 1070.3,612.1 1073.7,611.9 1077,611.6 1080.3,611.4 1083.6,611.1 1086.9,610.8 1090.2,610.4 1093.5,610.1 1096.8,609.7 1100.1,609.3 1103.4,608.8 1106.7,608.3 1110.1,607.7 1113.4,607.1 1116.7,606.5 1120,605.8 1123.3,605 1126.6,604.1 1129.9,603.2 1133.2,602.2 1136.5,601.1 1139.8,599.9 1143.1,598.7 1146.5,597.3 1149.8,595.8 1153.1,594.2 1156.4,592.5 1159.7,590.6 1163,588.6 1166.3,586.4 1169.6,584.2 1172.9,581.7 1176.2,579.1 1179.5,576.4 1182.9,573.5 1186.2,570.5 1189.5,567.4 1192.8,564.1 1196.1,560.7 1199.4,557.3 1202.7,553.7 1206,550.2 1209.3,546.6 1212.6,543.1 1215.9,539.6 1219.3,536.2 1222.6,533 1225.9,529.9 1229.2,527.1 1232.5,524.6 1235.8,522.4 1239.1,520.5 1242.4,519 1245.7,517.9 1249,517.3 1252.3,517 1255.7,517.3 1259,517.9 1262.3,519 1265.6,520.5 1268.9,522.4 1272.2,524.6 1275.5,527.1 1278.8,529.9 1282.1,533 1285.4,536.2 1288.8,539.6 1292.1,543.1 1295.4,546.6 1298.7,550.2 1302,553.7 1305.3,557.3 1308.6,560.7 1311.9,564.1 1315.2,567.4 1318.5,570.5 1321.8,573.5 1325.2,576.4 1328.5,579.1 1331.8,581.7 1335.1,584.2 1338.4,586.4 1341.7,588.6 1345,590.6 1348.3,592.5 1351.6,594.2 1354.9,595.8 1358.2,597.3 1361.6,598.7 1364.9,599.9 1368.2,601.1 1371.5,602.2 1374.8,603.2 1378.1,604.1 1381.4,605 1384.7,605.8 1388,606.5 1391.3,607.1 1394.6,607.7 1398,608.3 1401.3,608.8 1404.6,609.3 1407.9,609.7 1411.2,610.1 1414.5,610.4 1417.8,610.8 1421.1,611.1 1424.4,611.4 1427.7,611.6 1431,611.9 1434.4,612.1 1437.7,612.3 1441,612.5 1444.3,612.6 1447.6,612.8 1450.9,612.9" fill="none" stroke="#40c8d8" stroke-width="1.9" stroke-linejoin="round" />
<polyline points="1053.8,619.2 1060.4,617.5 1067,620.8 1073.7,618.4 1080.3,617.8 1086.9,610.9 1093.5,614.8 1100.1,616.1 1106.7,617.2 1113.4,614.7 1120,609.1 1126.6,602.6 1133.2,609.4 1139.8,605.1 1146.5,600.2 1153.1,597.9 1159.7,596.8 1166.3,586.2 1172.9,578.4 1179.5,579.3 1186.2,565.9 1192.8,555.4 1199.4,546.3 1206,540.4 1212.6,522.6 1219.3,518.1 1225.9,512.9 1232.5,500.1 1239.1,500.1 1245.7,488.5 1252.3,494.5 1259,491.2 1265.6,498 1272.2,500.2 1278.8,509.9 1285.4,519.5 1292.1,530.1 1298.7,538.1 1305.3,557.4 1311.9,559.1 1318.5,567.7 1325.2,573.9 1331.8,578.9 1338.4,574.9 1345,591.3 1351.6,594.2 1358.2,598.9 1364.9,597.5 1371.5,612.7 1378.1,603.6 1384.7,611.6 1391.3,620.3 1398,618.2 1404.6,614.7 1411.2,614.4 1417.8,616.2 1424.4,612.1 1431,615.6 1437.7,615.6 1444.3,622.6 1450.9,615.7" fill="none" stroke="none" marker-start="url(#k5)" marker-mid="url(#k5)" marker-end="url(#k5)"/>
<polyline points="1053.8,617.3 1057.1,617.2 1060.4,617 1063.7,616.9 1067,616.7 1070.3,616.5 1073.7,616.3 1077,616 1080.3,615.8 1083.6,615.5 1086.9,615.2 1090.2,614.8 1093.5,614.5 1096.8,614 1100.1,613.6 1103.4,613.1 1106.7,612.6 1110.1,612 1113.4,611.4 1116.7,610.6 1120,609.9 1123.3,609 1126.6,608.1 1129.9,607.1 1133.2,606 1136.5,604.8 1139.8,603.4 1143.1,602 1146.5,600.4 1149.8,598.7 1153.1,596.8 1156.4,594.7 1159.7,592.5 1163,590.1 1166.3,587.5 1169.6,584.6 1172.9,581.6 1176.2,578.4 1179.5,574.9 1182.9,571.2 1186.2,567.3 1189.5,563.1 1192.8,558.8 1196.1,554.2 1199.4,549.5 1202.7,544.7 1206,539.8 1209.3,534.8 1212.6,529.7 1215.9,524.8 1219.3,519.9 1222.6,515.2 1225.9,510.8 1229.2,506.6 1232.5,502.9 1235.8,499.5 1239.1,496.7 1242.4,494.5 1245.7,492.8 1249,491.8 1252.3,491.5 1255.7,491.8 1259,492.8 1262.3,494.5 1265.6,496.7 1268.9,499.5 1272.2,502.9 1275.5,506.6 1278.8,510.8 1282.1,515.2 1285.4,519.9 1288.8,524.8 1292.1,529.7 1295.4,534.8 1298.7,539.8 1302,544.7 1305.3,549.5 1308.6,554.2 1311.9,558.8 1315.2,563.1 1318.5,567.3 1321.8,571.2 1325.2,574.9 1328.5,578.4 1331.8,581.6 1335.1,584.6 1338.4,587.5 1341.7,590.1 1345,592.5 1348.3,594.7 1351.6,596.8 1354.9,598.7 1358.2,600.4 1361.6,602 1364.9,603.4 1368.2,604.8 1371.5,606 1374.8,607.1 1378.1,608.1 1381.4,609 1384.7,609.9 1388,610.6 1391.3,611.4 1394.6,612 1398,612.6 1401.3,613.1 1404.6,613.6 1407.9,614 1411.2,614.5 1414.5,614.8 1417.8,615.2 1421.1,615.5 1424.4,615.8 1427.7,616 1431,616.3 1434.4,616.5 1437.7,616.7 1441,616.9 1444.3,617 1447.6,617.2 1450.9,617.3" fill="none" stroke="#d02aa8" stroke-width="1.9" stroke-linejoin="round" />
<polyline points="1053.8,616.2 1060.4,617.9 1067,621.1 1073.7,614.9 1080.3,623.6 1086.9,621.6 1093.5,618.8 1100.1,611.2 1106.7,609.3 1113.4,608.3 1120,613 1126.6,606.5 1133.2,601.1 1139.8,606.7 1146.5,600.9 1153.1,591.4 1159.7,586.4 1166.3,583.6 1172.9,574.6 1179.5,566.2 1186.2,557.3 1192.8,548.1 1199.4,538.5 1206,525.5 1212.6,515.2 1219.3,494.3 1225.9,490 1232.5,481.7 1239.1,473.2 1245.7,468.3 1252.3,467.7 1259,467.1 1265.6,472.7 1272.2,479 1278.8,493.4 1285.4,501.3 1292.1,511.7 1298.7,533.1 1305.3,539.5 1311.9,549.8 1318.5,560.7 1325.2,570.2 1331.8,580.3 1338.4,577.9 1345,593 1351.6,599.9 1358.2,596.7 1364.9,610.2 1371.5,603.2 1378.1,605.6 1384.7,605.5 1391.3,610.6 1398,616.7 1404.6,620.7 1411.2,610 1417.8,618.2 1424.4,617.8 1431,609.8 1437.7,615.9 1444.3,614.9 1450.9,615.2" fill="none" stroke="none" marker-start="url(#k6)" marker-mid="url(#k6)" marker-end="url(#k6)"/>
<polyline points="1053.8,617.2 1057.1,617.1 1060.4,616.9 1063.7,616.8 1067,616.6 1070.3,616.4 1073.7,616.1 1077,615.9 1080.3,615.6 1083.6,615.3 1086.9,615 1090.2,614.6 1093.5,614.2 1096.8,613.7 1100.1,613.3 1103.4,612.7 1106.7,612.2 1110.1,611.5 1113.4,610.8 1116.7,610 1120,609.2 1123.3,608.3 1126.6,607.2 1129.9,606.1 1133.2,604.9 1136.5,603.5 1139.8,602 1143.1,600.4 1146.5,598.6 1149.8,596.6 1153.1,594.5 1156.4,592.1 1159.7,589.6 1163,586.8 1166.3,583.7 1169.6,580.5 1172.9,576.9 1176.2,573.1 1179.5,569 1182.9,564.6 1186.2,559.9 1189.5,554.9 1192.8,549.7 1196.1,544.2 1199.4,538.5 1202.7,532.6 1206,526.5 1209.3,520.4 1212.6,514.2 1215.9,508 1219.3,501.9 1222.6,496 1225.9,490.4 1229.2,485.2 1232.5,480.4 1235.8,476.2 1239.1,472.6 1242.4,469.8 1245.7,467.7 1249,466.4 1252.3,466 1255.7,466.4 1259,467.7 1262.3,469.8 1265.6,472.6 1268.9,476.2 1272.2,480.4 1275.5,485.2 1278.8,490.4 1282.1,496 1285.4,501.9 1288.8,508 1292.1,514.2 1295.4,520.4 1298.7,526.5 1302,532.6 1305.3,538.5 1308.6,544.2 1311.9,549.7 1315.2,554.9 1318.5,559.9 1321.8,564.6 1325.2,569 1328.5,573.1 1331.8,576.9 1335.1,580.5 1338.4,583.7 1341.7,586.8 1345,589.6 1348.3,592.1 1351.6,594.5 1354.9,596.6 1358.2,598.6 1361.6,600.4 1364.9,602 1368.2,603.5 1371.5,604.9 1374.8,606.1 1378.1,607.2 1381.4,608.3 1384.7,609.2 1388,610 1391.3,610.8 1394.6,611.5 1398,612.2 1401.3,612.7 1404.6,613.3 1407.9,613.7 1411.2,614.2 1414.5,614.6 1417.8,615 1421.1,615.3 1424.4,615.6 1427.7,615.9 1431,616.1 1434.4,616.4 1437.7,616.6 1441,616.8 1444.3,616.9 1447.6,617.1 1450.9,617.2" fill="none" stroke="#98a018" stroke-width="1.9" stroke-linejoin="round" />
<polyline points="1053.8,613.1 1060.4,610.8 1067,605.6 1073.7,608.7 1080.3,601.1 1086.9,596.8 1093.5,598.9 1100.1,599.7 1106.7,598.5 1113.4,586.5 1120,589.9 1126.6,582.6 1133.2,579.5 1139.8,571.1 1146.5,563.6 1153.1,563.9 1159.7,559.5 1166.3,540.4 1172.9,536.4 1179.5,523.3 1186.2,516.5 1192.8,502.4 1199.4,487.9 1206,475 1212.6,468.9 1219.3,456.7 1225.9,442.3 1232.5,433.3 1239.1,425.4 1245.7,427 1252.3,432.2 1259,421.5 1265.6,425.7 1272.2,433.6 1278.8,437.6 1285.4,451.8 1292.1,468.5 1298.7,476.6 1305.3,491.9 1311.9,499.3 1318.5,515.5 1325.2,526.5 1331.8,537.5 1338.4,548.6 1345,562.5 1351.6,563.5 1358.2,580.2 1364.9,573.1 1371.5,577.3 1378.1,578.3 1384.7,588.2 1391.3,594.4 1398,602 1404.6,589.9 1411.2,604.7 1417.8,599.6 1424.4,615.4 1431,608.9 1437.7,608.7 1444.3,610.5 1450.9,610.6" fill="none" stroke="none" marker-start="url(#k7)" marker-mid="url(#k7)" marker-end="url(#k7)"/>
<polyline points="1053.8,608.9 1057.1,608.5 1060.4,608.1 1063.7,607.6 1067,607.1 1070.3,606.5 1073.7,605.9 1077,605.2 1080.3,604.5 1083.6,603.7 1086.9,602.9 1090.2,602 1093.5,601 1096.8,600 1100.1,598.8 1103.4,597.6 1106.7,596.3 1110.1,594.9 1113.4,593.3 1116.7,591.7 1120,589.9 1123.3,588 1126.6,585.9 1129.9,583.7 1133.2,581.4 1136.5,578.8 1139.8,576.1 1143.1,573.2 1146.5,570 1149.8,566.7 1153.1,563.2 1156.4,559.4 1159.7,555.4 1163,551.2 1166.3,546.7 1169.6,542 1172.9,537.1 1176.2,531.9 1179.5,526.6 1182.9,521 1186.2,515.2 1189.5,509.3 1192.8,503.2 1196.1,497.1 1199.4,490.8 1202.7,484.6 1206,478.3 1209.3,472.1 1212.6,466.1 1215.9,460.2 1219.3,454.5 1222.6,449.2 1225.9,444.2 1229.2,439.6 1232.5,435.5 1235.8,431.9 1239.1,428.9 1242.4,426.6 1245.7,424.9 1249,423.8 1252.3,423.5 1255.7,423.8 1259,424.9 1262.3,426.6 1265.6,428.9 1268.9,431.9 1272.2,435.5 1275.5,439.6 1278.8,444.2 1282.1,449.2 1285.4,454.5 1288.8,460.2 1292.1,466.1 1295.4,472.1 1298.7,478.3 1302,484.6 1305.3,490.8 1308.6,497.1 1311.9,503.2 1315.2,509.3 1318.5,515.2 1321.8,521 1325.2,526.6 1328.5,531.9 1331.8,537.1 1335.1,542 1338.4,546.7 1341.7,551.2 1345,555.4 1348.3,559.4 1351.6,563.2 1354.9,566.7 1358.2,570 1361.6,573.2 1364.9,576.1 1368.2,578.8 1371.5,581.4 1374.8,583.7 1378.1,585.9 1381.4,588 1384.7,589.9 1388,591.7 1391.3,593.3 1394.6,594.9 1398,596.3 1401.3,597.6 1404.6,598.8 1407.9,600 1411.2,601 1414.5,602 1417.8,602.9 1421.1,603.7 1424.4,604.5 1427.7,605.2 1431,605.9 1434.4,606.5 1437.7,607.1 1441,607.6 1444.3,608.1 1447.6,608.5 1450.9,608.9" fill="none" stroke="#1a1a70" stroke-width="1.9" stroke-linejoin="round" />
<polyline points="1053.8,600.3 1060.4,607.1 1067,600.4 1073.7,603.9 1080.3,600.8 1086.9,596.2 1093.5,592.3 1100.1,585.8 1106.7,589.9 1113.4,585.8 1120,583.7 1126.6,578 1133.2,577.1 1139.8,561.1 1146.5,558.4 1153.1,547.9 1159.7,540.4 1166.3,527.5 1172.9,519.1 1179.5,511.6 1186.2,496.9 1192.8,484.2 1199.4,468.9 1206,454.6 1212.6,439.5 1219.3,427.4 1225.9,420.7 1232.5,419.8 1239.1,400.5 1245.7,393.1 1252.3,403 1259,403.5 1265.6,414.1 1272.2,409.9 1278.8,426.1 1285.4,425.4 1292.1,455 1298.7,458.3 1305.3,467.9 1311.9,483.9 1318.5,496.6 1325.2,505.8 1331.8,520.2 1338.4,530.9 1345,540.2 1351.6,551.7 1358.2,558.1 1364.9,558.1 1371.5,569.7 1378.1,574.1 1384.7,583.5 1391.3,580.5 1398,595.5 1404.6,588.8 1411.2,607.5 1417.8,600.2 1424.4,605.6 1431,598.7 1437.7,602.6 1444.3,612.1 1450.9,611.2" fill="none" stroke="none" marker-start="url(#k8)" marker-mid="url(#k8)" marker-end="url(#k8)"/>
<polyline points="1053.8,605.6 1057.1,605 1060.4,604.4 1063.7,603.7 1067,603 1070.3,602.2 1073.7,601.4 1077,600.5 1080.3,599.6 1083.6,598.5 1086.9,597.4 1090.2,596.3 1093.5,595 1096.8,593.6 1100.1,592.2 1103.4,590.6 1106.7,588.9 1110.1,587.1 1113.4,585.2 1116.7,583.1 1120,580.9 1123.3,578.5 1126.6,576 1129.9,573.3 1133.2,570.4 1136.5,567.3 1139.8,564 1143.1,560.6 1146.5,556.9 1149.8,553 1153.1,548.8 1156.4,544.5 1159.7,539.9 1163,535 1166.3,530 1169.6,524.7 1172.9,519.2 1176.2,513.5 1179.5,507.7 1182.9,501.6 1186.2,495.4 1189.5,489 1192.8,482.6 1196.1,476 1199.4,469.5 1202.7,463 1206,456.5 1209.3,450.1 1212.6,443.9 1215.9,437.9 1219.3,432.2 1222.6,426.8 1225.9,421.8 1229.2,417.3 1232.5,413.2 1235.8,409.7 1239.1,406.7 1242.4,404.4 1245.7,402.7 1249,401.7 1252.3,401.4 1255.7,401.7 1259,402.7 1262.3,404.4 1265.6,406.7 1268.9,409.7 1272.2,413.2 1275.5,417.3 1278.8,421.8 1282.1,426.8 1285.4,432.2 1288.8,437.9 1292.1,443.9 1295.4,450.1 1298.7,456.5 1302,463 1305.3,469.5 1308.6,476 1311.9,482.6 1315.2,489 1318.5,495.4 1321.8,501.6 1325.2,507.7 1328.5,513.5 1331.8,519.2 1335.1,524.7 1338.4,530 1341.7,535 1345,539.9 1348.3,544.5 1351.6,548.8 1354.9,553 1358.2,556.9 1361.6,560.6 1364.9,564 1368.2,567.3 1371.5,570.4 1374.8,573.3 1378.1,576 1381.4,578.5 1384.7,580.9 1388,583.1 1391.3,585.2 1394.6,587.1 1398,588.9 1401.3,590.6 1404.6,592.2 1407.9,593.6 1411.2,595 1414.5,596.3 1417.8,597.4 1421.1,598.5 1424.4,599.6 1427.7,600.5 1431,601.4 1434.4,602.2 1437.7,603 1441,603.7 1444.3,604.4 1447.6,605 1450.9,605.6" fill="none" stroke="#7a1a80" stroke-width="1.9" stroke-linejoin="round" />
<polyline points="1053.8,608.6 1060.4,610.6 1067,605.9 1073.7,599.3 1080.3,598.1 1086.9,592.2 1093.5,595 1100.1,590.3 1106.7,590.3 1113.4,583.2 1120,575.5 1126.6,571.6 1133.2,570.2 1139.8,558.2 1146.5,550.6 1153.1,538.7 1159.7,535.2 1166.3,526 1172.9,519.2 1179.5,492.4 1186.2,493.1 1192.8,480.3 1199.4,463.5 1206,457.8 1212.6,433.4 1219.3,425.6 1225.9,414.3 1232.5,413.4 1239.1,405.1 1245.7,395.9 1252.3,395.4 1259,388.9 1265.6,399.5 1272.2,419.1 1278.8,417 1285.4,428.5 1292.1,432.8 1298.7,450 1305.3,460.8 1311.9,478.4 1318.5,487.7 1325.2,497 1331.8,517.3 1338.4,531.4 1345,536.5 1351.6,534.6 1358.2,549 1364.9,558.1 1371.5,569.3 1378.1,565.8 1384.7,573.8 1391.3,580.4 1398,588.9 1404.6,591.4 1411.2,595.7 1417.8,594.9 1424.4,593.1 1431,607.6 1437.7,606.2 1444.3,603.3 1450.9,603.2" fill="none" stroke="none" marker-start="url(#k9)" marker-mid="url(#k9)" marker-end="url(#k9)"/>
<polyline points="1053.8,604.5 1057.1,603.8 1060.4,603.1 1063.7,602.3 1067,601.5 1070.3,600.6 1073.7,599.6 1077,598.6 1080.3,597.5 1083.6,596.3 1086.9,595.1 1090.2,593.7 1093.5,592.3 1096.8,590.7 1100.1,589.1 1103.4,587.3 1106.7,585.4 1110.1,583.4 1113.4,581.2 1116.7,578.9 1120,576.5 1123.3,573.9 1126.6,571.1 1129.9,568.2 1133.2,565.1 1136.5,561.7 1139.8,558.2 1143.1,554.5 1146.5,550.6 1149.8,546.5 1153.1,542.2 1156.4,537.6 1159.7,532.9 1163,527.9 1166.3,522.7 1169.6,517.3 1172.9,511.8 1176.2,506 1179.5,500.1 1182.9,494.1 1186.2,487.9 1189.5,481.6 1192.8,475.3 1196.1,468.9 1199.4,462.5 1202.7,456.2 1206,450 1209.3,443.9 1212.6,438 1215.9,432.3 1219.3,426.9 1222.6,421.8 1225.9,417.1 1229.2,412.8 1232.5,409 1235.8,405.7 1239.1,403 1242.4,400.8 1245.7,399.2 1249,398.3 1252.3,398 1255.7,398.3 1259,399.2 1262.3,400.8 1265.6,403 1268.9,405.7 1272.2,409 1275.5,412.8 1278.8,417.1 1282.1,421.8 1285.4,426.9 1288.8,432.3 1292.1,438 1295.4,443.9 1298.7,450 1302,456.2 1305.3,462.5 1308.6,468.9 1311.9,475.3 1315.2,481.6 1318.5,487.9 1321.8,494.1 1325.2,500.1 1328.5,506 1331.8,511.8 1335.1,517.3 1338.4,522.7 1341.7,527.9 1345,532.9 1348.3,537.6 1351.6,542.2 1354.9,546.5 1358.2,550.6 1361.6,554.5 1364.9,558.2 1368.2,561.7 1371.5,565.1 1374.8,568.2 1378.1,571.1 1381.4,573.9 1384.7,576.5 1388,578.9 1391.3,581.2 1394.6,583.4 1398,585.4 1401.3,587.3 1404.6,589.1 1407.9,590.7 1411.2,592.3 1414.5,593.7 1417.8,595.1 1421.1,596.3 1424.4,597.5 1427.7,598.6 1431,599.6 1434.4,600.6 1437.7,601.5 1441,602.3 1444.3,603.1 1447.6,603.8 1450.9,604.5" fill="none" stroke="#7a1e28" stroke-width="1.9" stroke-linejoin="round" />
</g>
<rect x="1353" y="320.3" width="98" height="173.4" fill="#fff" stroke="#555" stroke-width="1"/>
<path d="M1053.8 641v5M1053.8 321.4v-5M1120 641v5M1120 321.4v-5M1186.2 641v5M1186.2 321.4v-5M1252.3 641v5M1252.3 321.4v-5M1318.5 641v5M1318.5 321.4v-5M1384.7 641v5M1384.7 321.4v-5M1450.9 641v5M1450.9 321.4v-5M1086.9 641v3M1086.9 321.4v-3M1153.1 641v3M1153.1 321.4v-3M1219.3 641v3M1219.3 321.4v-3M1285.4 641v3M1285.4 321.4v-3M1351.6 641v3M1351.6 321.4v-3M1417.8 641v3M1417.8 321.4v-3M1053.8 619.1h-5M1450.9 619.1h5M1053.8 576.6h-5M1450.9 576.6h5M1053.8 534h-5M1450.9 534h5M1053.8 491.5h-5M1450.9 491.5h5M1053.8 449h-5M1450.9 449h5M1053.8 406.5h-5M1450.9 406.5h5M1053.8 363.9h-5M1450.9 363.9h5M1053.8 321.4h-5M1450.9 321.4h5M1053.8 640.4h-3M1450.9 640.4h3M1053.8 597.8h-3M1450.9 597.8h3M1053.8 555.3h-3M1450.9 555.3h3M1053.8 512.8h-3M1450.9 512.8h3M1053.8 470.2h-3M1450.9 470.2h3M1053.8 427.7h-3M1450.9 427.7h3M1053.8 385.2h-3M1450.9 385.2h3M1053.8 342.7h-3M1450.9 342.7h3" stroke="#3a3a3a" stroke-width="1.6" fill="none"/>
<rect x="1053.8" y="321.4" width="397.1" height="319.6" fill="none" stroke="#3a3a3a" stroke-width="2.2"/>
<text x="1053.8" y="663.3" font-size="14" fill="#3a3a3a" text-anchor="middle" font-family="'DejaVu Sans', 'Liberation Sans', sans-serif"  stroke="#3a3a3a" stroke-width="0.45">-15</text>
<text x="1120" y="663.3" font-size="14" fill="#3a3a3a" text-anchor="middle" font-family="'DejaVu Sans', 'Liberation Sans', sans-serif"  stroke="#3a3a3a" stroke-width="0.45">-10</text>
<text x="1186.2" y="663.3" font-size="14" fill="#3a3a3a" text-anchor="middle" font-family="'DejaVu Sans', 'Liberation Sans', sans-serif"  stroke="#3a3a3a" stroke-width="0.45">-5</text>
<text x="1252.3" y="663.3" font-size="14" fill="#3a3a3a" text-anchor="middle" font-family="'DejaVu Sans', 'Liberation Sans', sans-serif"  stroke="#3a3a3a" stroke-width="0.45">0</text>
<text x="1318.5" y="663.3" font-size="14" fill="#3a3a3a" text-anchor="middle" font-family="'DejaVu Sans', 'Liberation Sans', sans-serif"  stroke="#3a3a3a" stroke-width="0.45">5</text>
<text x="1384.7" y="663.3" font-size="14" fill="#3a3a3a" text-anchor="middle" font-family="'DejaVu Sans', 'Liberation Sans', sans-serif"  stroke="#3a3a3a" stroke-width="0.45">10</text>
<text x="1450.9" y="663.3" font-size="14" fill="#3a3a3a" text-anchor="middle" font-family="'DejaVu Sans', 'Liberation Sans', sans-serif"  stroke="#3a3a3a" stroke-width="0.45">15</text>
<text x="1043.8" y="624.1" font-size="14" fill="#3a3a3a" text-anchor="end" font-family="'DejaVu Sans', 'Liberation Sans', sans-serif"  stroke="#3a3a3a" stroke-width="0.45">1.0</text>
<text x="1043.8" y="581.6" font-size="14" fill="#3a3a3a" text-anchor="end" font-family="'DejaVu Sans', 'Liberation Sans', sans-serif"  stroke="#3a3a3a" stroke-width="0.45">1.1</text>
<text x="1043.8" y="539" font-size="14" fill="#3a3a3a" text-anchor="end" font-family="'DejaVu Sans', 'Liberation Sans', sans-serif"  stroke="#3a3a3a" stroke-width="0.45">1.2</text>
<text x="1043.8" y="496.5" font-size="14" fill="#3a3a3a" text-anchor="end" font-family="'DejaVu Sans', 'Liberation Sans', sans-serif"  stroke="#3a3a3a" stroke-width="0.45">1.3</text>
<text x="1043.8" y="454" font-size="14" fill="#3a3a3a" text-anchor="end" font-family="'DejaVu Sans', 'Liberation Sans', sans-serif"  stroke="#3a3a3a" stroke-width="0.45">1.4</text>
<text x="1043.8" y="411.5" font-size="14" fill="#3a3a3a" text-anchor="end" font-family="'DejaVu Sans', 'Liberation Sans', sans-serif"  stroke="#3a3a3a" stroke-width="0.45">1.5</text>
<text x="1043.8" y="368.9" font-size="14" fill="#3a3a3a" text-anchor="end" font-family="'DejaVu Sans', 'Liberation Sans', sans-serif"  stroke="#3a3a3a" stroke-width="0.45">1.6</text>
<text x="1043.8" y="326.4" font-size="14" fill="#3a3a3a" text-anchor="end" font-family="'DejaVu Sans', 'Liberation Sans', sans-serif"  stroke="#3a3a3a" stroke-width="0.45">1.7</text>
<polyline points="1371.5,330.3 1371.5,330.3" fill="none" stroke="none" marker-start="url(#k22)" marker-mid="url(#k22)" marker-end="url(#k22)"/>
<text x="1390" y="335.3" font-size="14" fill="#333" font-family="'DejaVu Sans', 'Liberation Sans', sans-serif"  stroke="#333" stroke-width="0.45">0.065 μJ</text>
<polyline points="1371.5,347.6 1371.5,347.6" fill="none" stroke="none" marker-start="url(#k23)" marker-mid="url(#k23)" marker-end="url(#k23)"/>
<text x="1390" y="352.6" font-size="14" fill="#333" font-family="'DejaVu Sans', 'Liberation Sans', sans-serif"  stroke="#333" stroke-width="0.45">0.079 μJ</text>
<polyline points="1371.5,364.8 1371.5,364.8" fill="none" stroke="none" marker-start="url(#k24)" marker-mid="url(#k24)" marker-end="url(#k24)"/>
<text x="1390" y="369.8" font-size="14" fill="#333" font-family="'DejaVu Sans', 'Liberation Sans', sans-serif"  stroke="#333" stroke-width="0.45">0.223 μJ</text>
<polyline points="1371.5,382.1 1371.5,382.1" fill="none" stroke="none" marker-start="url(#k25)" marker-mid="url(#k25)" marker-end="url(#k25)"/>
<text x="1390" y="387.1" font-size="14" fill="#333" font-family="'DejaVu Sans', 'Liberation Sans', sans-serif"  stroke="#333" stroke-width="0.45">0.497 μJ</text>
<polyline points="1371.5,399.3 1371.5,399.3" fill="none" stroke="none" marker-start="url(#k26)" marker-mid="url(#k26)" marker-end="url(#k26)"/>
<text x="1390" y="404.3" font-size="14" fill="#333" font-family="'DejaVu Sans', 'Liberation Sans', sans-serif"  stroke="#333" stroke-width="0.45">0.854 μJ</text>
<polyline points="1371.5,416.6 1371.5,416.6" fill="none" stroke="none" marker-start="url(#k27)" marker-mid="url(#k27)" marker-end="url(#k27)"/>
<text x="1390" y="421.6" font-size="14" fill="#333" font-family="'DejaVu Sans', 'Liberation Sans', sans-serif"  stroke="#333" stroke-width="0.45">1.24 μJ</text>
<polyline points="1371.5,433.8 1371.5,433.8" fill="none" stroke="none" marker-start="url(#k28)" marker-mid="url(#k28)" marker-end="url(#k28)"/>
<text x="1390" y="438.8" font-size="14" fill="#333" font-family="'DejaVu Sans', 'Liberation Sans', sans-serif"  stroke="#333" stroke-width="0.45">1.62 μJ</text>
<polyline points="1371.5,451.1 1371.5,451.1" fill="none" stroke="none" marker-start="url(#k29)" marker-mid="url(#k29)" marker-end="url(#k29)"/>
<text x="1390" y="456.1" font-size="14" fill="#333" font-family="'DejaVu Sans', 'Liberation Sans', sans-serif"  stroke="#333" stroke-width="0.45">1.96 μJ</text>
<polyline points="1371.5,468.3 1371.5,468.3" fill="none" stroke="none" marker-start="url(#k30)" marker-mid="url(#k30)" marker-end="url(#k30)"/>
<text x="1390" y="473.3" font-size="14" fill="#333" font-family="'DejaVu Sans', 'Liberation Sans', sans-serif"  stroke="#333" stroke-width="0.45">2.21 μJ</text>
<polyline points="1371.5,485.6 1371.5,485.6" fill="none" stroke="none" marker-start="url(#k31)" marker-mid="url(#k31)" marker-end="url(#k31)"/>
<text x="1390" y="490.6" font-size="14" fill="#333" font-family="'DejaVu Sans', 'Liberation Sans', sans-serif"  stroke="#333" stroke-width="0.45">2.36 μJ</text>
<text x="1076" y="351.5" font-size="18" fill="#222" font-family="'DejaVu Sans', 'Liberation Sans', sans-serif" stroke="#222" stroke-width="0.35">1550 nm</text>
<text x="1078.4" y="414" font-size="45" fill="#111" font-family="'Liberation Serif', serif"  stroke="#111" stroke-width="0.7">(h)</text>
<text x="1252.2" y="683.6" font-size="16.7" fill="#333" text-anchor="middle" font-family="'DejaVu Sans', 'Liberation Sans', sans-serif"  textLength="165" lengthAdjust="spacingAndGlyphs" stroke="#333" stroke-width="0.45">Displacement (mm)</text>
<text x="1012.4" y="480" font-size="17.5" fill="#333" text-anchor="middle" font-family="'DejaVu Sans', 'Liberation Sans', sans-serif" transform="rotate(-90 1012.4 480)" stroke="#333" stroke-width="0.45">T<tspan font-size="9" dy="3">norm</tspan><tspan dy="-3"> (a.u.)</tspan></text>
<g clip-path="url(#ci)">
<polyline points="1573.7,623.5 1580.3,622.4 1586.9,625.3 1593.5,622 1600.1,623.3 1606.7,624.6 1613.3,623.3 1619.9,620.4 1626.5,620.9 1633.1,623.9 1639.7,621.1 1646.3,622.7 1652.9,622.1 1659.5,621.8 1666.1,624.7 1672.8,622.3 1679.4,623.7 1686,620.8 1692.6,622.6 1699.2,623.8 1705.8,624.2 1712.4,622.2 1719,621.4 1725.6,622.9 1732.2,616.3 1738.8,619.8 1745.4,617 1752,621 1758.6,616.4 1765.2,621.2 1771.8,619.7 1778.4,617.9 1785,619 1791.6,623.7 1798.2,622 1804.8,618.8 1811.4,616.5 1818,618.6 1824.6,620.8 1831.2,618.7 1837.8,622.7 1844.4,620.3 1851,624.1 1857.6,621.9 1864.2,622.9 1870.9,620.7 1877.5,622.6 1884.1,620.5 1890.7,623.2 1897.3,621.9 1903.9,622.4 1910.5,626.8 1917.1,623.1 1923.7,622.8 1930.3,623.8 1936.9,622.3 1943.5,625.1 1950.1,621.5 1956.7,622.3 1963.3,622.3 1969.9,618.5" fill="none" stroke="none" marker-start="url(#k0)" marker-mid="url(#k0)" marker-end="url(#k0)"/>
<polyline points="1573.7,623.3 1577,623.3 1580.3,623.3 1583.6,623.3 1586.9,623.3 1590.2,623.3 1593.5,623.3 1596.8,623.3 1600.1,623.2 1603.4,623.2 1606.7,623.2 1610,623.2 1613.3,623.2 1616.6,623.2 1619.9,623.2 1623.2,623.2 1626.5,623.1 1629.8,623.1 1633.1,623.1 1636.4,623.1 1639.7,623 1643,623 1646.3,623 1649.6,623 1652.9,622.9 1656.2,622.9 1659.5,622.8 1662.8,622.8 1666.1,622.7 1669.4,622.7 1672.8,622.6 1676.1,622.5 1679.4,622.5 1682.7,622.4 1686,622.3 1689.3,622.2 1692.6,622.1 1695.9,622 1699.2,621.9 1702.5,621.8 1705.8,621.6 1709.1,621.5 1712.4,621.3 1715.7,621.2 1719,621 1722.3,620.9 1725.6,620.7 1728.9,620.5 1732.2,620.4 1735.5,620.2 1738.8,620 1742.1,619.9 1745.4,619.7 1748.7,619.6 1752,619.5 1755.3,619.4 1758.6,619.3 1761.9,619.2 1765.2,619.1 1768.5,619.1 1771.8,619.1 1775.1,619.1 1778.4,619.1 1781.7,619.2 1785,619.3 1788.3,619.4 1791.6,619.5 1794.9,619.6 1798.2,619.7 1801.5,619.9 1804.8,620 1808.1,620.2 1811.4,620.4 1814.7,620.5 1818,620.7 1821.3,620.9 1824.6,621 1827.9,621.2 1831.2,621.3 1834.5,621.5 1837.8,621.6 1841.1,621.8 1844.4,621.9 1847.7,622 1851,622.1 1854.3,622.2 1857.6,622.3 1860.9,622.4 1864.2,622.5 1867.5,622.5 1870.9,622.6 1874.2,622.7 1877.5,622.7 1880.8,622.8 1884.1,622.8 1887.4,622.9 1890.7,622.9 1894,623 1897.3,623 1900.6,623 1903.9,623 1907.2,623.1 1910.5,623.1 1913.8,623.1 1917.1,623.1 1920.4,623.2 1923.7,623.2 1927,623.2 1930.3,623.2 1933.6,623.2 1936.9,623.2 1940.2,623.2 1943.5,623.2 1946.8,623.3 1950.1,623.3 1953.4,623.3 1956.7,623.3 1960,623.3 1963.3,623.3 1966.6,623.3 1969.9,623.3" fill="none" stroke="#1a1a1a" stroke-width="1.9" stroke-linejoin="round" />
<polyline points="1573.7,618.5 1580.3,616.9 1586.9,620.7 1593.5,622.5 1600.1,616.2 1606.7,619.2 1613.3,620.7 1619.9,620.6 1626.5,616.3 1633.1,618.1 1639.7,617.5 1646.3,616 1652.9,617.9 1659.5,618.1 1666.1,617.5 1672.8,618 1679.4,615.5 1686,616.7 1692.6,613.7 1699.2,612.3 1705.8,610.2 1712.4,608.4 1719,605.6 1725.6,604.4 1732.2,606.2 1738.8,603.8 1745.4,604.5 1752,599.8 1758.6,597.5 1765.2,601.3 1771.8,598.8 1778.4,600.9 1785,601.6 1791.6,602.2 1798.2,603.8 1804.8,601.9 1811.4,607.5 1818,607.8 1824.6,607.3 1831.2,611.3 1837.8,610 1844.4,614 1851,610.9 1857.6,615.3 1864.2,613.8 1870.9,614.2 1877.5,612.2 1884.1,615.9 1890.7,614.6 1897.3,617.3 1903.9,613.3 1910.5,618.2 1917.1,617.8 1923.7,619.9 1930.3,618.1 1936.9,616.5 1943.5,619.8 1950.1,619.9 1956.7,620.8 1963.3,619.8 1969.9,619.7" fill="none" stroke="none" marker-start="url(#k1)" marker-mid="url(#k1)" marker-end="url(#k1)"/>
<polyline points="1573.7,618.8 1577,618.8 1580.3,618.8 1583.6,618.8 1586.9,618.7 1590.2,618.7 1593.5,618.7 1596.8,618.6 1600.1,618.6 1603.4,618.6 1606.7,618.5 1610,618.5 1613.3,618.4 1616.6,618.3 1619.9,618.3 1623.2,618.2 1626.5,618.1 1629.8,618 1633.1,617.9 1636.4,617.8 1639.7,617.7 1643,617.6 1646.3,617.5 1649.6,617.3 1652.9,617.1 1656.2,616.9 1659.5,616.7 1662.8,616.5 1666.1,616.3 1669.4,616 1672.8,615.8 1676.1,615.4 1679.4,615.1 1682.7,614.7 1686,614.4 1689.3,613.9 1692.6,613.5 1695.9,613 1699.2,612.5 1702.5,611.9 1705.8,611.3 1709.1,610.7 1712.4,610.1 1715.7,609.4 1719,608.7 1722.3,607.9 1725.6,607.2 1728.9,606.4 1732.2,605.7 1735.5,605 1738.8,604.2 1742.1,603.5 1745.4,602.8 1748.7,602.2 1752,601.7 1755.3,601.2 1758.6,600.7 1761.9,600.4 1765.2,600.2 1768.5,600 1771.8,600 1775.1,600 1778.4,600.2 1781.7,600.4 1785,600.7 1788.3,601.2 1791.6,601.7 1794.9,602.2 1798.2,602.8 1801.5,603.5 1804.8,604.2 1808.1,605 1811.4,605.7 1814.7,606.4 1818,607.2 1821.3,607.9 1824.6,608.7 1827.9,609.4 1831.2,610.1 1834.5,610.7 1837.8,611.3 1841.1,611.9 1844.4,612.5 1847.7,613 1851,613.5 1854.3,613.9 1857.6,614.4 1860.9,614.7 1864.2,615.1 1867.5,615.4 1870.9,615.8 1874.2,616 1877.5,616.3 1880.8,616.5 1884.1,616.7 1887.4,616.9 1890.7,617.1 1894,617.3 1897.3,617.5 1900.6,617.6 1903.9,617.7 1907.2,617.8 1910.5,617.9 1913.8,618 1917.1,618.1 1920.4,618.2 1923.7,618.3 1927,618.3 1930.3,618.4 1933.6,618.5 1936.9,618.5 1940.2,618.6 1943.5,618.6 1946.8,618.6 1950.1,618.7 1953.4,618.7 1956.7,618.7 1960,618.8 1963.3,618.8 1966.6,618.8 1969.9,618.8" fill="none" stroke="#e0202a" stroke-width="1.9" stroke-linejoin="round" />
<polyline points="1573.7,619.3 1580.3,618.6 1586.9,619.9 1593.5,615.1 1600.1,617.8 1606.7,615.5 1613.3,614.3 1619.9,615.6 1626.5,616.3 1633.1,616.9 1639.7,614.4 1646.3,616.2 1652.9,615.3 1659.5,613.9 1666.1,614 1672.8,612.3 1679.4,612 1686,607.4 1692.6,607.2 1699.2,610.5 1705.8,604.3 1712.4,599.1 1719,597.9 1725.6,596.3 1732.2,590.1 1738.8,591.6 1745.4,586.1 1752,583.5 1758.6,580.3 1765.2,582.5 1771.8,582 1778.4,577.2 1785,583.3 1791.6,584 1798.2,581.4 1804.8,591.1 1811.4,597.7 1818,589.4 1824.6,596.3 1831.2,600.8 1837.8,597.6 1844.4,605.7 1851,605.2 1857.6,610.3 1864.2,611.7 1870.9,611.1 1877.5,612.5 1884.1,611.9 1890.7,611.8 1897.3,616.9 1903.9,616.9 1910.5,612.6 1917.1,615.2 1923.7,617.6 1930.3,614.7 1936.9,613.9 1943.5,614 1950.1,618.9 1956.7,618.1 1963.3,615.9 1969.9,615.2" fill="none" stroke="none" marker-start="url(#k2)" marker-mid="url(#k2)" marker-end="url(#k2)"/>
<polyline points="1573.7,618.6 1577,618.5 1580.3,618.5 1583.6,618.4 1586.9,618.4 1590.2,618.3 1593.5,618.2 1596.8,618.2 1600.1,618.1 1603.4,618 1606.7,617.9 1610,617.8 1613.3,617.7 1616.6,617.6 1619.9,617.5 1623.2,617.3 1626.5,617.1 1629.8,617 1633.1,616.8 1636.4,616.6 1639.7,616.3 1643,616.1 1646.3,615.8 1649.6,615.5 1652.9,615.2 1656.2,614.8 1659.5,614.4 1662.8,614 1666.1,613.5 1669.4,613 1672.8,612.4 1676.1,611.8 1679.4,611.1 1682.7,610.4 1686,609.6 1689.3,608.8 1692.6,607.9 1695.9,606.9 1699.2,605.8 1702.5,604.7 1705.8,603.5 1709.1,602.3 1712.4,601 1715.7,599.6 1719,598.2 1722.3,596.8 1725.6,595.3 1728.9,593.8 1732.2,592.3 1735.5,590.8 1738.8,589.3 1742.1,587.9 1745.4,586.6 1748.7,585.4 1752,584.2 1755.3,583.2 1758.6,582.4 1761.9,581.7 1765.2,581.2 1768.5,580.9 1771.8,580.8 1775.1,580.9 1778.4,581.2 1781.7,581.7 1785,582.4 1788.3,583.2 1791.6,584.2 1794.9,585.4 1798.2,586.6 1801.5,587.9 1804.8,589.3 1808.1,590.8 1811.4,592.3 1814.7,593.8 1818,595.3 1821.3,596.8 1824.6,598.2 1827.9,599.6 1831.2,601 1834.5,602.3 1837.8,603.5 1841.1,604.7 1844.4,605.8 1847.7,606.9 1851,607.9 1854.3,608.8 1857.6,609.6 1860.9,610.4 1864.2,611.1 1867.5,611.8 1870.9,612.4 1874.2,613 1877.5,613.5 1880.8,614 1884.1,614.4 1887.4,614.8 1890.7,615.2 1894,615.5 1897.3,615.8 1900.6,616.1 1903.9,616.3 1907.2,616.6 1910.5,616.8 1913.8,617 1917.1,617.1 1920.4,617.3 1923.7,617.5 1927,617.6 1930.3,617.7 1933.6,617.8 1936.9,617.9 1940.2,618 1943.5,618.1 1946.8,618.2 1950.1,618.2 1953.4,618.3 1956.7,618.4 1960,618.4 1963.3,618.5 1966.6,618.5 1969.9,618.6" fill="none" stroke="#3cb828" stroke-width="1.9" stroke-linejoin="round" />
<polyline points="1573.7,615.1 1580.3,615.6 1586.9,619.6 1593.5,613.8 1600.1,614.1 1606.7,618.8 1613.3,613.9 1619.9,612.9 1626.5,614 1633.1,619.7 1639.7,614.9 1646.3,614.8 1652.9,611.4 1659.5,614.6 1666.1,606.5 1672.8,604.6 1679.4,602.3 1686,603 1692.6,600.5 1699.2,595.1 1705.8,592 1712.4,590.4 1719,584.7 1725.6,580.1 1732.2,575.7 1738.8,573.9 1745.4,574.5 1752,571.2 1758.6,567.8 1765.2,565.9 1771.8,564.9 1778.4,571 1785,570.1 1791.6,573.4 1798.2,571 1804.8,574.1 1811.4,579.6 1818,582.6 1824.6,589.5 1831.2,591 1837.8,595.9 1844.4,598.9 1851,601.1 1857.6,600 1864.2,602.7 1870.9,610.2 1877.5,609.7 1884.1,609.3 1890.7,609.9 1897.3,615.6 1903.9,615.6 1910.5,614.1 1917.1,610.6 1923.7,617.1 1930.3,616.2 1936.9,614.7 1943.5,616.3 1950.1,616.2 1956.7,616.7 1963.3,616.3 1969.9,615.4" fill="none" stroke="none" marker-start="url(#k3)" marker-mid="url(#k3)" marker-end="url(#k3)"/>
<polyline points="1573.7,616.1 1577,616 1580.3,616 1583.6,615.9 1586.9,615.8 1590.2,615.7 1593.5,615.6 1596.8,615.5 1600.1,615.4 1603.4,615.2 1606.7,615.1 1610,614.9 1613.3,614.8 1616.6,614.6 1619.9,614.4 1623.2,614.1 1626.5,613.9 1629.8,613.6 1633.1,613.3 1636.4,613 1639.7,612.7 1643,612.3 1646.3,611.9 1649.6,611.4 1652.9,610.9 1656.2,610.4 1659.5,609.8 1662.8,609.2 1666.1,608.5 1669.4,607.7 1672.8,606.9 1676.1,606.1 1679.4,605.1 1682.7,604.1 1686,603 1689.3,601.8 1692.6,600.6 1695.9,599.3 1699.2,597.9 1702.5,596.4 1705.8,594.8 1709.1,593.1 1712.4,591.4 1715.7,589.6 1719,587.8 1722.3,585.9 1725.6,584 1728.9,582.1 1732.2,580.2 1735.5,578.3 1738.8,576.5 1742.1,574.7 1745.4,573 1748.7,571.5 1752,570.1 1755.3,568.9 1758.6,567.8 1761.9,567 1765.2,566.4 1768.5,566.1 1771.8,565.9 1775.1,566.1 1778.4,566.4 1781.7,567 1785,567.8 1788.3,568.9 1791.6,570.1 1794.9,571.5 1798.2,573 1801.5,574.7 1804.8,576.5 1808.1,578.3 1811.4,580.2 1814.7,582.1 1818,584 1821.3,585.9 1824.6,587.8 1827.9,589.6 1831.2,591.4 1834.5,593.1 1837.8,594.8 1841.1,596.4 1844.4,597.9 1847.7,599.3 1851,600.6 1854.3,601.8 1857.6,603 1860.9,604.1 1864.2,605.1 1867.5,606.1 1870.9,606.9 1874.2,607.7 1877.5,608.5 1880.8,609.2 1884.1,609.8 1887.4,610.4 1890.7,610.9 1894,611.4 1897.3,611.9 1900.6,612.3 1903.9,612.7 1907.2,613 1910.5,613.3 1913.8,613.6 1917.1,613.9 1920.4,614.1 1923.7,614.4 1927,614.6 1930.3,614.8 1933.6,614.9 1936.9,615.1 1940.2,615.2 1943.5,615.4 1946.8,615.5 1950.1,615.6 1953.4,615.7 1956.7,615.8 1960,615.9 1963.3,616 1966.6,616 1969.9,616.1" fill="none" stroke="#2020a8" stroke-width="1.9" stroke-linejoin="round" />
<polyline points="1573.7,614.4 1580.3,615.8 1586.9,616 1593.5,615.2 1600.1,615.9 1606.7,611.8 1613.3,611.6 1619.9,605.9 1626.5,610.6 1633.1,606.3 1639.7,610.1 1646.3,606.1 1652.9,601 1659.5,607.7 1666.1,607.6 1672.8,599.5 1679.4,599 1686,595.6 1692.6,589 1699.2,585.9 1705.8,579 1712.4,575.7 1719,572.6 1725.6,569.8 1732.2,566.5 1738.8,558 1745.4,547.3 1752,550 1758.6,542.8 1765.2,537.5 1771.8,539.6 1778.4,537.5 1785,541.7 1791.6,542.9 1798.2,551.3 1804.8,555.9 1811.4,554.2 1818,564.6 1824.6,570.3 1831.2,578.3 1837.8,578.5 1844.4,585.5 1851,589.8 1857.6,596.5 1864.2,597.7 1870.9,602.2 1877.5,605 1884.1,606 1890.7,609.6 1897.3,612.1 1903.9,608.8 1910.5,613.8 1917.1,607.8 1923.7,608.3 1930.3,616.2 1936.9,609.3 1943.5,616.5 1950.1,612.1 1956.7,617.7 1963.3,614.4 1969.9,619" fill="none" stroke="none" marker-start="url(#k4)" marker-mid="url(#k4)" marker-end="url(#k4)"/>
<polyline points="1573.7,615.5 1577,615.4 1580.3,615.2 1583.6,615.1 1586.9,615 1590.2,614.8 1593.5,614.6 1596.8,614.5 1600.1,614.3 1603.4,614 1606.7,613.8 1610,613.5 1613.3,613.2 1616.6,612.9 1619.9,612.6 1623.2,612.2 1626.5,611.8 1629.8,611.4 1633.1,610.9 1636.4,610.4 1639.7,609.9 1643,609.2 1646.3,608.6 1649.6,607.9 1652.9,607.1 1656.2,606.2 1659.5,605.3 1662.8,604.3 1666.1,603.2 1669.4,602.1 1672.8,600.8 1676.1,599.5 1679.4,598 1682.7,596.4 1686,594.7 1689.3,593 1692.6,591.1 1695.9,589 1699.2,586.9 1702.5,584.6 1705.8,582.3 1709.1,579.8 1712.4,577.3 1715.7,574.6 1719,571.9 1722.3,569.2 1725.6,566.4 1728.9,563.6 1732.2,560.8 1735.5,558.1 1738.8,555.4 1742.1,552.9 1745.4,550.5 1748.7,548.3 1752,546.3 1755.3,544.6 1758.6,543.1 1761.9,542 1765.2,541.1 1768.5,540.6 1771.8,540.4 1775.1,540.6 1778.4,541.1 1781.7,542 1785,543.1 1788.3,544.6 1791.6,546.3 1794.9,548.3 1798.2,550.5 1801.5,552.9 1804.8,555.4 1808.1,558.1 1811.4,560.8 1814.7,563.6 1818,566.4 1821.3,569.2 1824.6,571.9 1827.9,574.6 1831.2,577.3 1834.5,579.8 1837.8,582.3 1841.1,584.6 1844.4,586.9 1847.7,589 1851,591.1 1854.3,593 1857.6,594.7 1860.9,596.4 1864.2,598 1867.5,599.5 1870.9,600.8 1874.2,602.1 1877.5,603.2 1880.8,604.3 1884.1,605.3 1887.4,606.2 1890.7,607.1 1894,607.9 1897.3,608.6 1900.6,609.2 1903.9,609.9 1907.2,610.4 1910.5,610.9 1913.8,611.4 1917.1,611.8 1920.4,612.2 1923.7,612.6 1927,612.9 1930.3,613.2 1933.6,613.5 1936.9,613.8 1940.2,614 1943.5,614.3 1946.8,614.5 1950.1,614.6 1953.4,614.8 1956.7,615 1960,615.1 1963.3,615.2 1966.6,615.4 1969.9,615.5" fill="none" stroke="#40c8d8" stroke-width="1.9" stroke-linejoin="round" />
<polyline points="1573.7,617.2 1580.3,622.8 1586.9,619 1593.5,614.7 1600.1,612.3 1606.7,611 1613.3,606.9 1619.9,612 1626.5,611.7 1633.1,609.1 1639.7,609 1646.3,607.5 1652.9,600 1659.5,600.8 1666.1,599.9 1672.8,599.1 1679.4,590 1686,591.5 1692.6,583.5 1699.2,581.2 1705.8,566.4 1712.4,564 1719,564.9 1725.6,551.2 1732.2,549.7 1738.8,541.5 1745.4,530.3 1752,530.7 1758.6,522.6 1765.2,520.2 1771.8,516.9 1778.4,522.7 1785,520.9 1791.6,528.5 1798.2,530.1 1804.8,539.3 1811.4,544 1818,548.8 1824.6,555.6 1831.2,565.5 1837.8,569.3 1844.4,578.2 1851,582.5 1857.6,584.5 1864.2,596.1 1870.9,601.8 1877.5,598.7 1884.1,604.2 1890.7,601.7 1897.3,604.8 1903.9,606.3 1910.5,611.2 1917.1,613.6 1923.7,615 1930.3,614.1 1936.9,615.2 1943.5,617.8 1950.1,613 1956.7,614.3 1963.3,621.2 1969.9,624.3" fill="none" stroke="none" marker-start="url(#k5)" marker-mid="url(#k5)" marker-end="url(#k5)"/>
<polyline points="1573.7,616.9 1577,616.8 1580.3,616.6 1583.6,616.4 1586.9,616.2 1590.2,616 1593.5,615.8 1596.8,615.5 1600.1,615.2 1603.4,614.9 1606.7,614.6 1610,614.2 1613.3,613.8 1616.6,613.4 1619.9,612.9 1623.2,612.4 1626.5,611.9 1629.8,611.3 1633.1,610.6 1636.4,609.9 1639.7,609.1 1643,608.3 1646.3,607.4 1649.6,606.4 1652.9,605.4 1656.2,604.2 1659.5,603 1662.8,601.7 1666.1,600.2 1669.4,598.7 1672.8,597 1676.1,595.2 1679.4,593.3 1682.7,591.3 1686,589.1 1689.3,586.7 1692.6,584.3 1695.9,581.7 1699.2,578.9 1702.5,576 1705.8,573 1709.1,569.9 1712.4,566.7 1715.7,563.4 1719,560 1722.3,556.5 1725.6,553 1728.9,549.6 1732.2,546.2 1735.5,542.8 1738.8,539.6 1742.1,536.5 1745.4,533.5 1748.7,530.9 1752,528.4 1755.3,526.3 1758.6,524.6 1761.9,523.1 1765.2,522.1 1768.5,521.5 1771.8,521.3 1775.1,521.5 1778.4,522.1 1781.7,523.1 1785,524.6 1788.3,526.3 1791.6,528.4 1794.9,530.9 1798.2,533.5 1801.5,536.5 1804.8,539.6 1808.1,542.8 1811.4,546.2 1814.7,549.6 1818,553 1821.3,556.5 1824.6,560 1827.9,563.4 1831.2,566.7 1834.5,569.9 1837.8,573 1841.1,576 1844.4,578.9 1847.7,581.7 1851,584.3 1854.3,586.7 1857.6,589.1 1860.9,591.3 1864.2,593.3 1867.5,595.2 1870.9,597 1874.2,598.7 1877.5,600.2 1880.8,601.7 1884.1,603 1887.4,604.2 1890.7,605.4 1894,606.4 1897.3,607.4 1900.6,608.3 1903.9,609.1 1907.2,609.9 1910.5,610.6 1913.8,611.3 1917.1,611.9 1920.4,612.4 1923.7,612.9 1927,613.4 1930.3,613.8 1933.6,614.2 1936.9,614.6 1940.2,614.9 1943.5,615.2 1946.8,615.5 1950.1,615.8 1953.4,616 1956.7,616.2 1960,616.4 1963.3,616.6 1966.6,616.8 1969.9,616.9" fill="none" stroke="#d02aa8" stroke-width="1.9" stroke-linejoin="round" />
<polyline points="1573.7,620.6 1580.3,614.4 1586.9,615.9 1593.5,621.1 1600.1,615.5 1606.7,611.8 1613.3,614.6 1619.9,610.1 1626.5,607.6 1633.1,608 1639.7,609.4 1646.3,598.8 1652.9,598.7 1659.5,595.8 1666.1,594.6 1672.8,590 1679.4,587.5 1686,581 1692.6,574.7 1699.2,568.8 1705.8,565.1 1712.4,559.8 1719,548.1 1725.6,548.5 1732.2,536.6 1738.8,530.4 1745.4,521.9 1752,518.5 1758.6,516.6 1765.2,510.9 1771.8,514.4 1778.4,514 1785,514.7 1791.6,517 1798.2,525.8 1804.8,523.8 1811.4,534.4 1818,536.1 1824.6,545.3 1831.2,555.7 1837.8,563.8 1844.4,573.8 1851,573.1 1857.6,576.6 1864.2,586.9 1870.9,592 1877.5,598.4 1884.1,601.4 1890.7,601.5 1897.3,599.7 1903.9,606.4 1910.5,605.1 1917.1,610.2 1923.7,613.3 1930.3,616.8 1936.9,615.7 1943.5,618.6 1950.1,611.2 1956.7,612.5 1963.3,616.8 1969.9,616.7" fill="none" stroke="none" marker-start="url(#k6)" marker-mid="url(#k6)" marker-end="url(#k6)"/>
<polyline points="1573.7,616.2 1577,616 1580.3,615.8 1583.6,615.5 1586.9,615.2 1590.2,615 1593.5,614.6 1596.8,614.3 1600.1,613.9 1603.4,613.5 1606.7,613.1 1610,612.7 1613.3,612.1 1616.6,611.6 1619.9,611 1623.2,610.4 1626.5,609.7 1629.8,608.9 1633.1,608.1 1636.4,607.2 1639.7,606.3 1643,605.3 1646.3,604.2 1649.6,603 1652.9,601.7 1656.2,600.3 1659.5,598.8 1662.8,597.2 1666.1,595.5 1669.4,593.7 1672.8,591.7 1676.1,589.6 1679.4,587.3 1682.7,584.9 1686,582.4 1689.3,579.7 1692.6,576.9 1695.9,573.9 1699.2,570.8 1702.5,567.6 1705.8,564.2 1709.1,560.7 1712.4,557.1 1715.7,553.5 1719,549.8 1722.3,546 1725.6,542.2 1728.9,538.5 1732.2,534.8 1735.5,531.2 1738.8,527.8 1742.1,524.5 1745.4,521.4 1748.7,518.6 1752,516 1755.3,513.8 1758.6,511.9 1761.9,510.5 1765.2,509.4 1768.5,508.7 1771.8,508.5 1775.1,508.7 1778.4,509.4 1781.7,510.5 1785,511.9 1788.3,513.8 1791.6,516 1794.9,518.6 1798.2,521.4 1801.5,524.5 1804.8,527.8 1808.1,531.2 1811.4,534.8 1814.7,538.5 1818,542.2 1821.3,546 1824.6,549.8 1827.9,553.5 1831.2,557.1 1834.5,560.7 1837.8,564.2 1841.1,567.6 1844.4,570.8 1847.7,573.9 1851,576.9 1854.3,579.7 1857.6,582.4 1860.9,584.9 1864.2,587.3 1867.5,589.6 1870.9,591.7 1874.2,593.7 1877.5,595.5 1880.8,597.2 1884.1,598.8 1887.4,600.3 1890.7,601.7 1894,603 1897.3,604.2 1900.6,605.3 1903.9,606.3 1907.2,607.2 1910.5,608.1 1913.8,608.9 1917.1,609.7 1920.4,610.4 1923.7,611 1927,611.6 1930.3,612.1 1933.6,612.7 1936.9,613.1 1940.2,613.5 1943.5,613.9 1946.8,614.3 1950.1,614.6 1953.4,615 1956.7,615.2 1960,615.5 1963.3,615.8 1966.6,616 1969.9,616.2" fill="none" stroke="#98a018" stroke-width="1.9" stroke-linejoin="round" />
<polyline points="1573.7,616 1580.3,607.7 1586.9,609.7 1593.5,614.5 1600.1,606.6 1606.7,603.7 1613.3,607.3 1619.9,600.1 1626.5,598.4 1633.1,603 1639.7,600.6 1646.3,594.8 1652.9,591.7 1659.5,583.3 1666.1,579.2 1672.8,575.3 1679.4,570.5 1686,566.3 1692.6,560.8 1699.2,554.8 1705.8,537.1 1712.4,532.8 1719,526.3 1725.6,520.9 1732.2,515.4 1738.8,506 1745.4,497.5 1752,491.8 1758.6,484.6 1765.2,485.7 1771.8,481.1 1778.4,483.4 1785,484.8 1791.6,490.4 1798.2,493.7 1804.8,503.2 1811.4,510.7 1818,520.2 1824.6,530.8 1831.2,536.9 1837.8,543.4 1844.4,555.4 1851,562 1857.6,564.8 1864.2,567.2 1870.9,575.2 1877.5,579.6 1884.1,582.9 1890.7,591.4 1897.3,588.8 1903.9,600.8 1910.5,602.8 1917.1,604.3 1923.7,605.2 1930.3,608.3 1936.9,609.4 1943.5,609.3 1950.1,611.9 1956.7,612.4 1963.3,608.4 1969.9,611.1" fill="none" stroke="none" marker-start="url(#k7)" marker-mid="url(#k7)" marker-end="url(#k7)"/>
<polyline points="1573.7,610.3 1577,610 1580.3,609.7 1583.6,609.3 1586.9,608.9 1590.2,608.5 1593.5,608 1596.8,607.5 1600.1,607 1603.4,606.4 1606.7,605.8 1610,605.2 1613.3,604.4 1616.6,603.7 1619.9,602.8 1623.2,601.9 1626.5,601 1629.8,599.9 1633.1,598.8 1636.4,597.6 1639.7,596.4 1643,595 1646.3,593.5 1649.6,591.9 1652.9,590.2 1656.2,588.4 1659.5,586.4 1662.8,584.4 1666.1,582.2 1669.4,579.8 1672.8,577.3 1676.1,574.7 1679.4,571.9 1682.7,568.9 1686,565.8 1689.3,562.6 1692.6,559.2 1695.9,555.6 1699.2,551.9 1702.5,548.1 1705.8,544.2 1709.1,540.2 1712.4,536.1 1715.7,531.9 1719,527.7 1722.3,523.5 1725.6,519.3 1728.9,515.2 1732.2,511.1 1735.5,507.2 1738.8,503.5 1742.1,499.9 1745.4,496.6 1748.7,493.6 1752,490.9 1755.3,488.6 1758.6,486.6 1761.9,485 1765.2,483.9 1768.5,483.2 1771.8,483 1775.1,483.2 1778.4,483.9 1781.7,485 1785,486.6 1788.3,488.6 1791.6,490.9 1794.9,493.6 1798.2,496.6 1801.5,499.9 1804.8,503.5 1808.1,507.2 1811.4,511.1 1814.7,515.2 1818,519.3 1821.3,523.5 1824.6,527.7 1827.9,531.9 1831.2,536.1 1834.5,540.2 1837.8,544.2 1841.1,548.1 1844.4,551.9 1847.7,555.6 1851,559.2 1854.3,562.6 1857.6,565.8 1860.9,568.9 1864.2,571.9 1867.5,574.7 1870.9,577.3 1874.2,579.8 1877.5,582.2 1880.8,584.4 1884.1,586.4 1887.4,588.4 1890.7,590.2 1894,591.9 1897.3,593.5 1900.6,595 1903.9,596.4 1907.2,597.6 1910.5,598.8 1913.8,599.9 1917.1,601 1920.4,601.9 1923.7,602.8 1927,603.7 1930.3,604.4 1933.6,605.2 1936.9,605.8 1940.2,606.4 1943.5,607 1946.8,607.5 1950.1,608 1953.4,608.5 1956.7,608.9 1960,609.3 1963.3,609.7 1966.6,610 1969.9,610.3" fill="none" stroke="#1a1a70" stroke-width="1.9" stroke-linejoin="round" />
<polyline points="1573.7,606 1580.3,610.1 1586.9,610.7 1593.5,607.1 1600.1,605.6 1606.7,598.4 1613.3,602.6 1619.9,602.4 1626.5,599.5 1633.1,599 1639.7,586.2 1646.3,589.8 1652.9,581.7 1659.5,581.6 1666.1,576.2 1672.8,574.2 1679.4,561.7 1686,547.6 1692.6,541 1699.2,538.1 1705.8,528.1 1712.4,525.3 1719,518.2 1725.6,502.6 1732.2,501.8 1738.8,483.2 1745.4,479.8 1752,483.7 1758.6,475.1 1765.2,472.3 1771.8,467.4 1778.4,472.7 1785,473.3 1791.6,483.3 1798.2,477.5 1804.8,486.8 1811.4,496.6 1818,509.4 1824.6,511.9 1831.2,510.4 1837.8,528.6 1844.4,534.3 1851,554.6 1857.6,554.9 1864.2,560.7 1870.9,561.7 1877.5,573.2 1884.1,572 1890.7,576.6 1897.3,584.9 1903.9,589.6 1910.5,590.9 1917.1,596.6 1923.7,601.3 1930.3,602.9 1936.9,597.5 1943.5,600.9 1950.1,603.3 1956.7,606 1963.3,606.2 1969.9,599.9" fill="none" stroke="none" marker-start="url(#k8)" marker-mid="url(#k8)" marker-end="url(#k8)"/>
<polyline points="1573.7,607.7 1577,607.3 1580.3,606.8 1583.6,606.3 1586.9,605.8 1590.2,605.3 1593.5,604.7 1596.8,604 1600.1,603.3 1603.4,602.6 1606.7,601.8 1610,600.9 1613.3,600 1616.6,599 1619.9,598 1623.2,596.9 1626.5,595.7 1629.8,594.4 1633.1,593 1636.4,591.5 1639.7,590 1643,588.3 1646.3,586.5 1649.6,584.6 1652.9,582.6 1656.2,580.4 1659.5,578.1 1662.8,575.7 1666.1,573.2 1669.4,570.5 1672.8,567.6 1676.1,564.6 1679.4,561.4 1682.7,558.1 1686,554.7 1689.3,551.1 1692.6,547.4 1695.9,543.5 1699.2,539.6 1702.5,535.5 1705.8,531.3 1709.1,527.1 1712.4,522.7 1715.7,518.4 1719,514.1 1722.3,509.7 1725.6,505.5 1728.9,501.3 1732.2,497.2 1735.5,493.3 1738.8,489.5 1742.1,486 1745.4,482.7 1748.7,479.8 1752,477.1 1755.3,474.8 1758.6,472.9 1761.9,471.4 1765.2,470.3 1768.5,469.6 1771.8,469.4 1775.1,469.6 1778.4,470.3 1781.7,471.4 1785,472.9 1788.3,474.8 1791.6,477.1 1794.9,479.8 1798.2,482.7 1801.5,486 1804.8,489.5 1808.1,493.3 1811.4,497.2 1814.7,501.3 1818,505.5 1821.3,509.7 1824.6,514.1 1827.9,518.4 1831.2,522.7 1834.5,527.1 1837.8,531.3 1841.1,535.5 1844.4,539.6 1847.7,543.5 1851,547.4 1854.3,551.1 1857.6,554.7 1860.9,558.1 1864.2,561.4 1867.5,564.6 1870.9,567.6 1874.2,570.5 1877.5,573.2 1880.8,575.7 1884.1,578.1 1887.4,580.4 1890.7,582.6 1894,584.6 1897.3,586.5 1900.6,588.3 1903.9,590 1907.2,591.5 1910.5,593 1913.8,594.4 1917.1,595.7 1920.4,596.9 1923.7,598 1927,599 1930.3,600 1933.6,600.9 1936.9,601.8 1940.2,602.6 1943.5,603.3 1946.8,604 1950.1,604.7 1953.4,605.3 1956.7,605.8 1960,606.3 1963.3,606.8 1966.6,607.3 1969.9,607.7" fill="none" stroke="#7a1a80" stroke-width="1.9" stroke-linejoin="round" />
<polyline points="1573.7,598.4 1580.3,604.6 1586.9,603.9 1593.5,607.7 1600.1,601.7 1606.7,605.2 1613.3,602.9 1619.9,595.8 1626.5,592.4 1633.1,591.5 1639.7,578.5 1646.3,583.6 1652.9,581 1659.5,566.8 1666.1,566.7 1672.8,565.8 1679.4,549.9 1686,543.3 1692.6,538.1 1699.2,529.2 1705.8,519.9 1712.4,509.9 1719,504.6 1725.6,501.7 1732.2,489.8 1738.8,484.6 1745.4,481.7 1752,470.6 1758.6,468.3 1765.2,462.1 1771.8,456.6 1778.4,459.8 1785,455.2 1791.6,466.8 1798.2,472.3 1804.8,482.6 1811.4,484.3 1818,493.9 1824.6,510.9 1831.2,516.3 1837.8,519.2 1844.4,531.4 1851,538.3 1857.6,547.3 1864.2,548.7 1870.9,569.5 1877.5,570.2 1884.1,578.2 1890.7,580.6 1897.3,575 1903.9,582.3 1910.5,586.7 1917.1,593.7 1923.7,595.8 1930.3,589.4 1936.9,601 1943.5,595 1950.1,596.2 1956.7,604.8 1963.3,603.7 1969.9,607.9" fill="none" stroke="none" marker-start="url(#k9)" marker-mid="url(#k9)" marker-end="url(#k9)"/>
<polyline points="1573.7,606.6 1577,606 1580.3,605.5 1583.6,604.9 1586.9,604.2 1590.2,603.5 1593.5,602.8 1596.8,602 1600.1,601.1 1603.4,600.2 1606.7,599.3 1610,598.2 1613.3,597.1 1616.6,596 1619.9,594.7 1623.2,593.4 1626.5,591.9 1629.8,590.4 1633.1,588.8 1636.4,587.1 1639.7,585.3 1643,583.4 1646.3,581.3 1649.6,579.2 1652.9,576.9 1656.2,574.5 1659.5,571.9 1662.8,569.2 1666.1,566.4 1669.4,563.4 1672.8,560.3 1676.1,557.1 1679.4,553.7 1682.7,550.2 1686,546.5 1689.3,542.8 1692.6,538.9 1695.9,534.8 1699.2,530.7 1702.5,526.5 1705.8,522.3 1709.1,518 1712.4,513.6 1715.7,509.3 1719,505 1722.3,500.7 1725.6,496.5 1728.9,492.3 1732.2,488.4 1735.5,484.6 1738.8,480.9 1742.1,477.5 1745.4,474.4 1748.7,471.6 1752,469.1 1755.3,466.9 1758.6,465.1 1761.9,463.6 1765.2,462.6 1768.5,462 1771.8,461.7 1775.1,462 1778.4,462.6 1781.7,463.6 1785,465.1 1788.3,466.9 1791.6,469.1 1794.9,471.6 1798.2,474.4 1801.5,477.5 1804.8,480.9 1808.1,484.6 1811.4,488.4 1814.7,492.3 1818,496.5 1821.3,500.7 1824.6,505 1827.9,509.3 1831.2,513.6 1834.5,518 1837.8,522.3 1841.1,526.5 1844.4,530.7 1847.7,534.8 1851,538.9 1854.3,542.8 1857.6,546.5 1860.9,550.2 1864.2,553.7 1867.5,557.1 1870.9,560.3 1874.2,563.4 1877.5,566.4 1880.8,569.2 1884.1,571.9 1887.4,574.5 1890.7,576.9 1894,579.2 1897.3,581.3 1900.6,583.4 1903.9,585.3 1907.2,587.1 1910.5,588.8 1913.8,590.4 1917.1,591.9 1920.4,593.4 1923.7,594.7 1927,596 1930.3,597.1 1933.6,598.2 1936.9,599.3 1940.2,600.2 1943.5,601.1 1946.8,602 1950.1,602.8 1953.4,603.5 1956.7,604.2 1960,604.9 1963.3,605.5 1966.6,606 1969.9,606.6" fill="none" stroke="#7a1e28" stroke-width="1.9" stroke-linejoin="round" />
</g>
<rect x="1877.5" y="320.3" width="92.3" height="184.5" fill="#fff" stroke="#555" stroke-width="1"/>
<path d="M1573.7 640.7v5M1573.7 321.4v-5M1639.7 640.7v5M1639.7 321.4v-5M1705.8 640.7v5M1705.8 321.4v-5M1771.8 640.7v5M1771.8 321.4v-5M1837.8 640.7v5M1837.8 321.4v-5M1903.9 640.7v5M1903.9 321.4v-5M1969.9 640.7v5M1969.9 321.4v-5M1606.7 640.7v3M1606.7 321.4v-3M1672.8 640.7v3M1672.8 321.4v-3M1738.8 640.7v3M1738.8 321.4v-3M1804.8 640.7v3M1804.8 321.4v-3M1870.9 640.7v3M1870.9 321.4v-3M1936.9 640.7v3M1936.9 321.4v-3M1573.7 619.1h-5M1969.9 619.1h5M1573.7 576.6h-5M1969.9 576.6h5M1573.7 534h-5M1969.9 534h5M1573.7 491.5h-5M1969.9 491.5h5M1573.7 449h-5M1969.9 449h5M1573.7 406.5h-5M1969.9 406.5h5M1573.7 363.9h-5M1969.9 363.9h5M1573.7 321.4h-5M1969.9 321.4h5M1573.7 640.4h-3M1969.9 640.4h3M1573.7 597.8h-3M1969.9 597.8h3M1573.7 555.3h-3M1969.9 555.3h3M1573.7 512.8h-3M1969.9 512.8h3M1573.7 470.2h-3M1969.9 470.2h3M1573.7 427.7h-3M1969.9 427.7h3M1573.7 385.2h-3M1969.9 385.2h3M1573.7 342.7h-3M1969.9 342.7h3" stroke="#3a3a3a" stroke-width="1.6" fill="none"/>
<rect x="1573.7" y="321.4" width="396.2" height="319.3" fill="none" stroke="#3a3a3a" stroke-width="2.2"/>
<text x="1573.7" y="663" font-size="14" fill="#3a3a3a" text-anchor="middle" font-family="'DejaVu Sans', 'Liberation Sans', sans-serif"  stroke="#3a3a3a" stroke-width="0.45">-15</text>
<text x="1639.7" y="663" font-size="14" fill="#3a3a3a" text-anchor="middle" font-family="'DejaVu Sans', 'Liberation Sans', sans-serif"  stroke="#3a3a3a" stroke-width="0.45">-10</text>
<text x="1705.8" y="663" font-size="14" fill="#3a3a3a" text-anchor="middle" font-family="'DejaVu Sans', 'Liberation Sans', sans-serif"  stroke="#3a3a3a" stroke-width="0.45">-5</text>
<text x="1771.8" y="663" font-size="14" fill="#3a3a3a" text-anchor="middle" font-family="'DejaVu Sans', 'Liberation Sans', sans-serif"  stroke="#3a3a3a" stroke-width="0.45">0</text>
<text x="1837.8" y="663" font-size="14" fill="#3a3a3a" text-anchor="middle" font-family="'DejaVu Sans', 'Liberation Sans', sans-serif"  stroke="#3a3a3a" stroke-width="0.45">5</text>
<text x="1903.9" y="663" font-size="14" fill="#3a3a3a" text-anchor="middle" font-family="'DejaVu Sans', 'Liberation Sans', sans-serif"  stroke="#3a3a3a" stroke-width="0.45">10</text>
<text x="1969.9" y="663" font-size="14" fill="#3a3a3a" text-anchor="middle" font-family="'DejaVu Sans', 'Liberation Sans', sans-serif"  stroke="#3a3a3a" stroke-width="0.45">15</text>
<text x="1563.7" y="624.1" font-size="14" fill="#3a3a3a" text-anchor="end" font-family="'DejaVu Sans', 'Liberation Sans', sans-serif"  stroke="#3a3a3a" stroke-width="0.45">1.0</text>
<text x="1563.7" y="581.6" font-size="14" fill="#3a3a3a" text-anchor="end" font-family="'DejaVu Sans', 'Liberation Sans', sans-serif"  stroke="#3a3a3a" stroke-width="0.45">1.1</text>
<text x="1563.7" y="539" font-size="14" fill="#3a3a3a" text-anchor="end" font-family="'DejaVu Sans', 'Liberation Sans', sans-serif"  stroke="#3a3a3a" stroke-width="0.45">1.2</text>
<text x="1563.7" y="496.5" font-size="14" fill="#3a3a3a" text-anchor="end" font-family="'DejaVu Sans', 'Liberation Sans', sans-serif"  stroke="#3a3a3a" stroke-width="0.45">1.3</text>
<text x="1563.7" y="454" font-size="14" fill="#3a3a3a" text-anchor="end" font-family="'DejaVu Sans', 'Liberation Sans', sans-serif"  stroke="#3a3a3a" stroke-width="0.45">1.4</text>
<text x="1563.7" y="411.5" font-size="14" fill="#3a3a3a" text-anchor="end" font-family="'DejaVu Sans', 'Liberation Sans', sans-serif"  stroke="#3a3a3a" stroke-width="0.45">1.5</text>
<text x="1563.7" y="368.9" font-size="14" fill="#3a3a3a" text-anchor="end" font-family="'DejaVu Sans', 'Liberation Sans', sans-serif"  stroke="#3a3a3a" stroke-width="0.45">1.6</text>
<text x="1563.7" y="326.4" font-size="14" fill="#3a3a3a" text-anchor="end" font-family="'DejaVu Sans', 'Liberation Sans', sans-serif"  stroke="#3a3a3a" stroke-width="0.45">1.7</text>
<polyline points="1896,331.4 1896,331.4" fill="none" stroke="none" marker-start="url(#k11)" marker-mid="url(#k11)" marker-end="url(#k11)"/>
<text x="1916.5" y="336.4" font-size="14" fill="#333" font-family="'DejaVu Sans', 'Liberation Sans', sans-serif"  stroke="#333" stroke-width="0.45">0.63 μJ</text>
<polyline points="1896,349.5 1896,349.5" fill="none" stroke="none" marker-start="url(#k12)" marker-mid="url(#k12)" marker-end="url(#k12)"/>
<text x="1916.5" y="354.5" font-size="14" fill="#333" font-family="'DejaVu Sans', 'Liberation Sans', sans-serif"  stroke="#333" stroke-width="0.45">0.68 μJ</text>
<polyline points="1896,367.7 1896,367.7" fill="none" stroke="none" marker-start="url(#k13)" marker-mid="url(#k13)" marker-end="url(#k13)"/>
<text x="1916.5" y="372.7" font-size="14" fill="#333" font-family="'DejaVu Sans', 'Liberation Sans', sans-serif"  stroke="#333" stroke-width="0.45">0.85 μJ</text>
<polyline points="1896,385.8 1896,385.8" fill="none" stroke="none" marker-start="url(#k14)" marker-mid="url(#k14)" marker-end="url(#k14)"/>
<text x="1916.5" y="390.8" font-size="14" fill="#333" font-family="'DejaVu Sans', 'Liberation Sans', sans-serif"  stroke="#333" stroke-width="0.45">1.09 μJ</text>
<polyline points="1896,404 1896,404" fill="none" stroke="none" marker-start="url(#k15)" marker-mid="url(#k15)" marker-end="url(#k15)"/>
<text x="1916.5" y="409" font-size="14" fill="#333" font-family="'DejaVu Sans', 'Liberation Sans', sans-serif"  stroke="#333" stroke-width="0.45">1.39 μJ</text>
<polyline points="1896,422.1 1896,422.1" fill="none" stroke="none" marker-start="url(#k16)" marker-mid="url(#k16)" marker-end="url(#k16)"/>
<text x="1916.5" y="427.1" font-size="14" fill="#333" font-family="'DejaVu Sans', 'Liberation Sans', sans-serif"  stroke="#333" stroke-width="0.45">1.70 μJ</text>
<polyline points="1896,440.3 1896,440.3" fill="none" stroke="none" marker-start="url(#k17)" marker-mid="url(#k17)" marker-end="url(#k17)"/>
<text x="1916.5" y="445.3" font-size="14" fill="#333" font-family="'DejaVu Sans', 'Liberation Sans', sans-serif"  stroke="#333" stroke-width="0.45">1.99 μJ</text>
<polyline points="1896,458.4 1896,458.4" fill="none" stroke="none" marker-start="url(#k18)" marker-mid="url(#k18)" marker-end="url(#k18)"/>
<text x="1916.5" y="463.4" font-size="14" fill="#333" font-family="'DejaVu Sans', 'Liberation Sans', sans-serif"  stroke="#333" stroke-width="0.45">2.23 μJ</text>
<polyline points="1896,476.6 1896,476.6" fill="none" stroke="none" marker-start="url(#k19)" marker-mid="url(#k19)" marker-end="url(#k19)"/>
<text x="1916.5" y="481.6" font-size="14" fill="#333" font-family="'DejaVu Sans', 'Liberation Sans', sans-serif"  stroke="#333" stroke-width="0.45">2.38 μJ</text>
<polyline points="1896,494.8 1896,494.8" fill="none" stroke="none" marker-start="url(#k20)" marker-mid="url(#k20)" marker-end="url(#k20)"/>
<text x="1916.5" y="499.8" font-size="14" fill="#333" font-family="'DejaVu Sans', 'Liberation Sans', sans-serif"  stroke="#333" stroke-width="0.45">2.47 μJ</text>
<text x="1605.5" y="351.5" font-size="18" fill="#222" font-family="'DejaVu Sans', 'Liberation Sans', sans-serif" stroke="#222" stroke-width="0.35">1800 nm</text>
<text x="1618.8" y="414" font-size="45" fill="#111" font-family="'Liberation Serif', serif"  stroke="#111" stroke-width="0.7">(i)</text>
<text x="1772.3" y="683.6" font-size="16.7" fill="#333" text-anchor="middle" font-family="'DejaVu Sans', 'Liberation Sans', sans-serif"  textLength="165" lengthAdjust="spacingAndGlyphs" stroke="#333" stroke-width="0.45">Displacement (mm)</text>
<text x="1530.6" y="480" font-size="17.5" fill="#333" text-anchor="middle" font-family="'DejaVu Sans', 'Liberation Sans', sans-serif" transform="rotate(-90 1530.6 480)" stroke="#333" stroke-width="0.45">T<tspan font-size="9" dy="3">norm</tspan><tspan dy="-3"> (a.u.)</tspan></text>
<g clip-path="url(#cj)">
<polyline points="65.1,849.4 72.8,852.8 87.9,850.8 95.6,850.8 103.2,850.8 111.2,851.6 126,845.7 133.4,836.6 141.1,845.1 148.8,842.2 156.7,842.2 164.1,841.4 171.8,848.5 177.5,807.5 185.2,800.1 193.7,790.5 201.4,751.2 208.5,729.9 215.9,737.8 224.2,764.9 231.3,783.4 239.2,820.9 247.8,853.1 254.3,937 262.2,957.9 270.4,973.5 277.8,975.2 284.9,960.2 292.6,941.7 300.3,913.2 308.2,889.9 315.3,870.6 322.5,864.9 330.4,859.2 338.1,859.2 345.8,856.4 353.2,855.8 360.8,855.8 368.5,855 376.5,855 383.6,855 391.3,855.8 398.7,856.4 406.3,855 414,853 421.4,852.1 429.1,853 436.2,849.3" fill="none" stroke="none" marker-start="url(#k32)" marker-mid="url(#k32)" marker-end="url(#k32)"/>
<path d="M60 846.5C64.7 846.2 79 845.5 88.4 844.5C97.9 843.6 107.4 843.1 116.9 840.8C126.4 838.5 137.3 834.4 145.3 830.9C153.4 827.3 159.1 823.8 165.3 819.5C171.4 815.2 177.1 811 182.3 805.3C187.5 799.6 192.3 792.5 196.6 785.3C200.8 778.2 204.7 769.2 207.9 762.6C211.2 756 213.8 750 215.9 745.5C218 741 219 737 220.7 735.6C222.5 734.1 224.8 734.9 226.4 737C228.1 739.1 229 741.3 230.7 748.4C232.4 755.5 234.5 767.8 236.4 779.7C238.3 791.5 240.2 805.3 242.1 819.5C244 833.7 246.2 851.7 247.8 865C249.3 878.3 249.4 884.8 251.4 899C253.4 913.2 257.1 939.8 259.9 950.2C262.7 960.6 265.6 961.1 268.4 961.6C271.3 962.1 274.1 957.3 277 953.1C279.8 948.8 282.2 942.6 285.5 936C288.8 929.4 293.1 919.9 296.9 913.2C300.7 906.6 304.4 901.4 308.2 896.2C312 891 315.3 886.2 319.6 882C323.9 877.7 328.1 873.9 333.8 870.6C339.5 867.3 346.6 864.2 353.7 862.1C360.8 859.9 368.9 858.8 376.5 857.8C384.1 856.8 391.6 856.4 399.2 855.8C406.8 855.2 414.3 854.6 422 854.1C429.6 853.6 441.2 853.2 445 853" fill="none" stroke="#e01a1a" stroke-width="2.4" stroke-linejoin="round"/>
</g>
<path d="M98.6 1002.3v5M98.6 696v-5M174.8 1002.3v5M174.8 696v-5M251 1002.3v5M251 696v-5M327.2 1002.3v5M327.2 696v-5M403.4 1002.3v5M403.4 696v-5M136.7 1002.3v3M136.7 696v-3M212.9 1002.3v3M212.9 696v-3M289.1 1002.3v3M289.1 696v-3M365.3 1002.3v3M365.3 696v-3M60.5 980.4h-5M441.5 980.4h5M60.5 936.7h-5M441.5 936.7h5M60.5 892.9h-5M441.5 892.9h5M60.5 849.1h-5M441.5 849.1h5M60.5 805.4h-5M441.5 805.4h5M60.5 761.6h-5M441.5 761.6h5M60.5 717.9h-5M441.5 717.9h5M60.5 958.5h-3M441.5 958.5h3M60.5 914.8h-3M441.5 914.8h3M60.5 871h-3M441.5 871h3M60.5 827.3h-3M441.5 827.3h3M60.5 783.5h-3M441.5 783.5h3M60.5 739.8h-3M441.5 739.8h3" stroke="#3a3a3a" stroke-width="1.6" fill="none"/>
<rect x="60.5" y="696" width="381" height="306.3" fill="none" stroke="#3a3a3a" stroke-width="2.2"/>
<text x="98.6" y="1024.6" font-size="14" fill="#3a3a3a" text-anchor="middle" font-family="'DejaVu Sans', 'Liberation Sans', sans-serif"  stroke="#3a3a3a" stroke-width="0.45">-40</text>
<text x="174.8" y="1024.6" font-size="14" fill="#3a3a3a" text-anchor="middle" font-family="'DejaVu Sans', 'Liberation Sans', sans-serif"  stroke="#3a3a3a" stroke-width="0.45">-20</text>
<text x="251" y="1024.6" font-size="14" fill="#3a3a3a" text-anchor="middle" font-family="'DejaVu Sans', 'Liberation Sans', sans-serif"  stroke="#3a3a3a" stroke-width="0.45">0</text>
<text x="327.2" y="1024.6" font-size="14" fill="#3a3a3a" text-anchor="middle" font-family="'DejaVu Sans', 'Liberation Sans', sans-serif"  stroke="#3a3a3a" stroke-width="0.45">20</text>
<text x="403.4" y="1024.6" font-size="14" fill="#3a3a3a" text-anchor="middle" font-family="'DejaVu Sans', 'Liberation Sans', sans-serif"  stroke="#3a3a3a" stroke-width="0.45">40</text>
<text x="50.5" y="985.4" font-size="14" fill="#3a3a3a" text-anchor="end" font-family="'DejaVu Sans', 'Liberation Sans', sans-serif"  stroke="#3a3a3a" stroke-width="0.45">0.7</text>
<text x="50.5" y="941.7" font-size="14" fill="#3a3a3a" text-anchor="end" font-family="'DejaVu Sans', 'Liberation Sans', sans-serif"  stroke="#3a3a3a" stroke-width="0.45">0.8</text>
<text x="50.5" y="897.9" font-size="14" fill="#3a3a3a" text-anchor="end" font-family="'DejaVu Sans', 'Liberation Sans', sans-serif"  stroke="#3a3a3a" stroke-width="0.45">0.9</text>
<text x="50.5" y="854.1" font-size="14" fill="#3a3a3a" text-anchor="end" font-family="'DejaVu Sans', 'Liberation Sans', sans-serif"  stroke="#3a3a3a" stroke-width="0.45">1.0</text>
<text x="50.5" y="810.4" font-size="14" fill="#3a3a3a" text-anchor="end" font-family="'DejaVu Sans', 'Liberation Sans', sans-serif"  stroke="#3a3a3a" stroke-width="0.45">1.1</text>
<text x="50.5" y="766.6" font-size="14" fill="#3a3a3a" text-anchor="end" font-family="'DejaVu Sans', 'Liberation Sans', sans-serif"  stroke="#3a3a3a" stroke-width="0.45">1.2</text>
<text x="50.5" y="722.9" font-size="14" fill="#3a3a3a" text-anchor="end" font-family="'DejaVu Sans', 'Liberation Sans', sans-serif"  stroke="#3a3a3a" stroke-width="0.45">1.3</text>
<text x="271.5" y="712" font-size="14" fill="#333" font-family="'DejaVu Sans', 'Liberation Sans', sans-serif"  textLength="55.7" lengthAdjust="spacingAndGlyphs" stroke="#333" stroke-width="0.45">800 nm</text>
<text x="271.5" y="732" font-size="14" fill="#333" font-family="'DejaVu Sans', 'Liberation Sans', sans-serif"  textLength="155" lengthAdjust="spacingAndGlyphs" stroke="#333" stroke-width="0.45">n<tspan font-size="8" dy="3">2</tspan><tspan dy="-3">=-4.65×10</tspan><tspan font-size="7" dy="-5">-23</tspan><tspan dy="5"> m</tspan><tspan font-size="7" dy="-5">2</tspan><tspan dy="5">/W</tspan></text>
<text x="271.5" y="756.5" font-size="14" fill="#333" font-family="'DejaVu Sans', 'Liberation Sans', sans-serif"  textLength="167.6" lengthAdjust="spacingAndGlyphs" stroke="#333" stroke-width="0.45">Reχ<tspan font-size="7" dy="-5">(3)</tspan><tspan dy="5">=-4.74×10</tspan><tspan font-size="7" dy="-5">-14</tspan><tspan dy="5"> esu</tspan></text>
<text x="87.7" y="762.4" font-size="45" fill="#111" font-family="'Liberation Serif', serif"  stroke="#111" stroke-width="0.7">(j)</text>
<text x="251.5" y="1041" font-size="15.9" fill="#333" text-anchor="middle" font-family="'DejaVu Sans', 'Liberation Sans', sans-serif"  textLength="157" lengthAdjust="spacingAndGlyphs" stroke="#333" stroke-width="0.45">Displacement (mm)</text>
<text x="17.4" y="848.5" font-size="17.5" fill="#333" text-anchor="middle" font-family="'DejaVu Sans', 'Liberation Sans', sans-serif" transform="rotate(-90 17.4 848.5)" stroke="#333" stroke-width="0.45">T<tspan font-size="9" dy="3">norm</tspan><tspan dy="-3"> (a.u.)</tspan></text>
<g clip-path="url(#ck)">
<polyline points="588.9,830.9 594.7,838.2 588.9,846.9 599.1,854.1 603.4,867.2 607.8,864.3 612.1,852.7 617.9,862.8 623.7,875.9 629.5,852.7 632.4,868.6 636.8,862.8 644,864.3 648.4,878.8 652.7,864.3 655.6,851.2 661.4,826.5 660,835.3 667.2,838.2 673,841.1 678.8,842.5 684.6,845.4 689,848.3 693.3,841.1 697.7,835.3 702,829.4 704.9,830.9 707.8,838.2 713.6,845.4 716.5,851.2 719.4,841.1 723.8,838.2 728.2,829.4 732.5,820.7 735.4,806.2 736.9,781.6 741.2,765.6 745.6,742.4 747,732.3 751.4,725 755.7,720.7 760.1,716.3 763.5,778.7 767.3,814.9 770.2,844 773.1,867.2 775.8,911.9 778.7,942.4 781.6,958.3 785.9,964.1 790.3,967 794.6,956.9 799,948.2 803.3,939.5 807.7,925 812,916.3 816.4,907.6 820.7,898.9 823.6,893.1 828,887.3 832.3,878.6 836.7,867 841,861.2 845.4,858.3 849.7,856.9 854.1,858.3 857,868.5 861.3,861.2 865.7,855.4 870,852.5 874.3,858.3 878.7,867 883,868.5 887.4,859.8 891.7,864.1 896.1,868.5 900.4,861.2 904.8,856.9 909.1,852.5 913.5,843.8 917.8,839.5 922.2,846.7 926.5,852.5 930.9,849.6 935.2,852.5 939.6,848.2 943.9,846.7 948.3,851.1 952.6,845.3 957,849.6 961.3,851.1 967.1,852.5 591.1,843.9 596.4,846.3 600.3,863.1 606.4,862.9 610.8,856.3 614.6,858.4 621.7,871.5 625.6,864.4 634.7,865.6 640.9,861.5 646.7,868.6 649.8,869.2 657.4,844.3 664.3,834.2 669.7,841 676.3,840.7 681.4,846.8 687.1,849.6 691.7,846.6 695.3,837.9 699.7,835.3 710.1,844.6 721.5,839.1 725.9,833 730.3,822.3 738.2,775 743.7,751.2 748.8,727 752.6,723 757.7,715.8 783.9,963 787.3,964.2 792.7,961.9 796.8,952.3 801.9,944.5 805.7,931.9 809.8,923 813.6,914.6 817.7,903.8 824.9,891.2 830.4,885.1 835.4,872.5 839.2,866.7 843.4,858.7 847.2,856.3 852.8,857 860,867 863.9,855.3 868.6,856.5 871.2,856.3 876.3,863.2 881.1,868.3 884.8,861.5 890.2,864.4 893.3,864.6 898,864.3 903.4,857.3 906.8,855.6 911.3,847.2 916.2,839.5 919.4,842.5 924.9,848.1 927.9,853.7 932.3,851.7 937,851.1 942.1,844.9 945.8,847.9 949.8,845.2 953.8,848 958.3,849.2 965.1,854" fill="none" stroke="none" marker-start="url(#k32)" marker-mid="url(#k32)" marker-end="url(#k32)"/>
<path d="M586 857.9C590.8 857.6 605.3 857.1 615 856.4C624.7 855.8 634.4 855.2 644 854.1C653.7 853 664.3 851.4 673 849.8C681.7 848.1 690 846.1 696.2 844C702.5 841.8 706.4 839.6 710.7 836.7C715.1 833.8 719 830.7 722.4 826.5C725.7 822.4 728.6 817.4 731.1 812C733.5 806.7 734.9 800.9 736.9 794.6C738.8 788.4 740.7 781.1 742.7 774.3C744.6 767.6 746.8 759.3 748.5 754C750.2 748.7 751.6 744.8 752.8 742.4C754 740 754.6 739.3 755.7 739.5C756.8 739.8 758.3 739 759.5 743.9C760.7 748.7 761.9 757.2 763 768.5C764 779.9 764.9 798.5 765.9 812C766.8 825.6 767.8 835.3 768.8 849.8C769.7 864.3 770 882.2 771.7 899.1C773.3 916 776.7 938.8 778.7 951.1C780.7 963.4 782 970.9 783.9 972.8C785.8 974.7 787.8 967.7 790.3 962.7C792.8 957.6 795.6 950.1 799 942.4C802.4 934.6 806.7 924 810.6 916.3C814.4 908.6 817.8 902.3 822.2 896C826.5 889.7 830.9 883.2 836.7 878.6C842.5 874 848.7 871.1 857 868.5C865.2 865.8 876.3 864.1 885.9 862.7C895.6 861.2 905.3 860.4 914.9 859.8C924.6 859.1 935.2 859.1 943.9 858.9C952.6 858.7 963.2 858.4 967.1 858.3" fill="none" stroke="#e01a1a" stroke-width="2.4" stroke-linejoin="round"/>
</g>
<path d="M586.4 1001.6v5M586.4 696v-5M649.8 1001.6v5M649.8 696v-5M713.1 1001.6v5M713.1 696v-5M776.5 1001.6v5M776.5 696v-5M839.9 1001.6v5M839.9 696v-5M903.2 1001.6v5M903.2 696v-5M966.6 1001.6v5M966.6 696v-5M618.1 1001.6v3M618.1 696v-3M681.5 1001.6v3M681.5 696v-3M744.8 1001.6v3M744.8 696v-3M808.2 1001.6v3M808.2 696v-3M871.5 1001.6v3M871.5 696v-3M934.9 1001.6v3M934.9 696v-3M586.4 1001.6h-5M966.6 1001.6h5M586.4 965.6h-5M966.6 965.6h5M586.4 929.7h-5M966.6 929.7h5M586.4 893.7h-5M966.6 893.7h5M586.4 857.8h-5M966.6 857.8h5M586.4 821.8h-5M966.6 821.8h5M586.4 785.9h-5M966.6 785.9h5M586.4 749.9h-5M966.6 749.9h5M586.4 714h-5M966.6 714h5M586.4 983.6h-3M966.6 983.6h3M586.4 947.7h-3M966.6 947.7h3M586.4 911.7h-3M966.6 911.7h3M586.4 875.8h-3M966.6 875.8h3M586.4 839.8h-3M966.6 839.8h3M586.4 803.9h-3M966.6 803.9h3M586.4 767.9h-3M966.6 767.9h3M586.4 732h-3M966.6 732h3" stroke="#3a3a3a" stroke-width="1.6" fill="none"/>
<rect x="586.4" y="696" width="380.2" height="305.6" fill="none" stroke="#3a3a3a" stroke-width="2.2"/>
<text x="586.4" y="1023.9" font-size="14" fill="#3a3a3a" text-anchor="middle" font-family="'DejaVu Sans', 'Liberation Sans', sans-serif"  stroke="#3a3a3a" stroke-width="0.45">-30</text>
<text x="649.8" y="1023.9" font-size="14" fill="#3a3a3a" text-anchor="middle" font-family="'DejaVu Sans', 'Liberation Sans', sans-serif"  stroke="#3a3a3a" stroke-width="0.45">-20</text>
<text x="713.1" y="1023.9" font-size="14" fill="#3a3a3a" text-anchor="middle" font-family="'DejaVu Sans', 'Liberation Sans', sans-serif"  stroke="#3a3a3a" stroke-width="0.45">-10</text>
<text x="776.5" y="1023.9" font-size="14" fill="#3a3a3a" text-anchor="middle" font-family="'DejaVu Sans', 'Liberation Sans', sans-serif"  stroke="#3a3a3a" stroke-width="0.45">0</text>
<text x="839.9" y="1023.9" font-size="14" fill="#3a3a3a" text-anchor="middle" font-family="'DejaVu Sans', 'Liberation Sans', sans-serif"  stroke="#3a3a3a" stroke-width="0.45">10</text>
<text x="903.2" y="1023.9" font-size="14" fill="#3a3a3a" text-anchor="middle" font-family="'DejaVu Sans', 'Liberation Sans', sans-serif"  stroke="#3a3a3a" stroke-width="0.45">20</text>
<text x="966.6" y="1023.9" font-size="14" fill="#3a3a3a" text-anchor="middle" font-family="'DejaVu Sans', 'Liberation Sans', sans-serif"  stroke="#3a3a3a" stroke-width="0.45">30</text>
<text x="576.4" y="1006.6" font-size="14" fill="#3a3a3a" text-anchor="end" font-family="'DejaVu Sans', 'Liberation Sans', sans-serif"  stroke="#3a3a3a" stroke-width="0.45">0.6</text>
<text x="576.4" y="970.6" font-size="14" fill="#3a3a3a" text-anchor="end" font-family="'DejaVu Sans', 'Liberation Sans', sans-serif"  stroke="#3a3a3a" stroke-width="0.45">0.7</text>
<text x="576.4" y="934.7" font-size="14" fill="#3a3a3a" text-anchor="end" font-family="'DejaVu Sans', 'Liberation Sans', sans-serif"  stroke="#3a3a3a" stroke-width="0.45">0.8</text>
<text x="576.4" y="898.7" font-size="14" fill="#3a3a3a" text-anchor="end" font-family="'DejaVu Sans', 'Liberation Sans', sans-serif"  stroke="#3a3a3a" stroke-width="0.45">0.9</text>
<text x="576.4" y="862.8" font-size="14" fill="#3a3a3a" text-anchor="end" font-family="'DejaVu Sans', 'Liberation Sans', sans-serif"  stroke="#3a3a3a" stroke-width="0.45">1.0</text>
<text x="576.4" y="826.8" font-size="14" fill="#3a3a3a" text-anchor="end" font-family="'DejaVu Sans', 'Liberation Sans', sans-serif"  stroke="#3a3a3a" stroke-width="0.45">1.1</text>
<text x="576.4" y="790.9" font-size="14" fill="#3a3a3a" text-anchor="end" font-family="'DejaVu Sans', 'Liberation Sans', sans-serif"  stroke="#3a3a3a" stroke-width="0.45">1.2</text>
<text x="576.4" y="754.9" font-size="14" fill="#3a3a3a" text-anchor="end" font-family="'DejaVu Sans', 'Liberation Sans', sans-serif"  stroke="#3a3a3a" stroke-width="0.45">1.3</text>
<text x="576.4" y="719" font-size="14" fill="#3a3a3a" text-anchor="end" font-family="'DejaVu Sans', 'Liberation Sans', sans-serif"  stroke="#3a3a3a" stroke-width="0.45">1.4</text>
<text x="798.5" y="712" font-size="14" fill="#333" font-family="'DejaVu Sans', 'Liberation Sans', sans-serif"  textLength="63" lengthAdjust="spacingAndGlyphs" stroke="#333" stroke-width="0.45">1064 nm</text>
<text x="798.5" y="732" font-size="14" fill="#333" font-family="'DejaVu Sans', 'Liberation Sans', sans-serif"  textLength="154.6" lengthAdjust="spacingAndGlyphs" stroke="#333" stroke-width="0.45">n<tspan font-size="8" dy="3">2</tspan><tspan dy="-3">=-3.47×10</tspan><tspan font-size="7" dy="-5">-23</tspan><tspan dy="5"> m</tspan><tspan font-size="7" dy="-5">2</tspan><tspan dy="5">/W</tspan></text>
<text x="798.5" y="756.5" font-size="14" fill="#333" font-family="'DejaVu Sans', 'Liberation Sans', sans-serif"  textLength="168" lengthAdjust="spacingAndGlyphs" stroke="#333" stroke-width="0.45">Reχ<tspan font-size="7" dy="-5">(3)</tspan><tspan dy="5">=-3.53×10</tspan><tspan font-size="7" dy="-5">-14</tspan><tspan dy="5"> esu</tspan></text>
<text x="604.8" y="762.4" font-size="45" fill="#111" font-family="'Liberation Serif', serif"  stroke="#111" stroke-width="0.7">(k)</text>
<text x="776.3" y="1044.8" font-size="15.9" fill="#333" text-anchor="middle" font-family="'DejaVu Sans', 'Liberation Sans', sans-serif"  textLength="157" lengthAdjust="spacingAndGlyphs" stroke="#333" stroke-width="0.45">Displacement (mm)</text>
<text x="544" y="848.5" font-size="17.5" fill="#333" text-anchor="middle" font-family="'DejaVu Sans', 'Liberation Sans', sans-serif" transform="rotate(-90 544 848.5)" stroke="#333" stroke-width="0.45">T<tspan font-size="9" dy="3">norm</tspan><tspan dy="-3"> (a.u.)</tspan></text>
<g clip-path="url(#cl)">
<polyline points="1065.3,827.9 1069.7,838 1072.6,848.2 1078.4,843.8 1082.7,849.6 1088.5,840.9 1095.8,823.5 1101.6,842.4 1107.4,823.5 1110.3,832.2 1114.6,842.4 1119,838 1123.3,827.9 1127.7,838 1132,846.7 1136.4,854 1139.3,842.4 1143.6,823.5 1148,819.2 1152.3,827.9 1156.7,817.7 1161,823.5 1166.8,829.3 1171.1,832.2 1176.9,826.4 1181.3,817.7 1184.2,810.5 1188.5,804.7 1192.9,798.9 1197.2,791.7 1203,783 1208.8,775.7 1213.2,761.2 1217.5,739.5 1221.9,745.3 1227.7,722.1 1232,723.5 1234.9,735.1 1236.4,751.1 1240.7,788.8 1243.6,813.4 1246.5,840.9 1250,888.8 1249.3,888.8 1252.2,925 1255.1,942.4 1259.5,962.7 1263.8,967 1268.2,945.3 1272.5,929.3 1276.9,943.8 1279.8,925 1282.7,907.6 1287,898.9 1291.4,896 1294.3,883 1298.6,861.2 1301.5,864.1 1305.9,869.9 1310.2,872.8 1314.6,862.7 1318.9,869.9 1323.3,872.8 1327.6,869.9 1332,862.7 1336.3,858.3 1340.7,839.5 1345,843.8 1349.3,854 1353.7,864.1 1358,842.4 1362.4,861.2 1366.7,849.6 1371.1,845.3 1375.4,854 1378.3,865.6 1382.7,854 1387,856.9 1391.4,852.5 1395.7,845.3 1400.1,840.9 1404.4,835.1 1408.8,864.1 1413.1,867 1417.5,856.9 1421.8,848.2 1426.2,852.5 1430.5,832.2 1434.9,843.8 1437.8,829.3 1068.1,831.4 1076.1,848.8 1081.5,846.4 1085.9,846.9 1092.4,833.6 1097.8,831.7 1103.6,835.1 1112.2,838.4 1116.3,839.3 1120.2,832.1 1126.4,831.3 1129.5,844.9 1133.3,847.7 1141.7,835.2 1144.8,822.8 1150.8,821 1154.8,822.9 1158.8,823.4 1162.9,824.9 1169.4,829.7 1173.6,830.5 1180,820.6 1186.3,806.1 1190.5,802.4 1195.6,792.7 1200.5,787.6 1205.2,776.9 1210.5,766.4 1216.2,751.4 1219.2,742.8 1224.9,731.1 1230.5,722.2 1256.6,950.7 1261.6,966.1 1267,958.4 1270.4,934.9 1275.5,935.8 1284.3,905.5 1288.5,895.9 1296.6,872.5 1304.6,866.7 1307.3,872.9 1311.8,865.8 1316.6,865.3 1322,869.2 1326.1,872.4 1329,863.8 1335.1,858.7 1337.6,847.5 1343.1,841.9 1347.6,851.7 1351.1,857.4 1356.6,851.6 1360.6,849.7 1364,852.8 1369.4,845.5 1372.5,848 1380.1,857 1384.4,856.4 1389.7,853.1 1393.8,851.4 1398,842.3 1401.3,840 1411.6,863 1414.6,864 1419.8,851.6 1423.3,847.9 1428.5,843.6 1433.6,839.5" fill="none" stroke="none" marker-start="url(#k32)" marker-mid="url(#k32)" marker-end="url(#k32)"/>
<path d="M1061 838C1065.8 837.8 1080.3 837.2 1090 836.6C1099.6 836 1109.3 835.7 1119 834.6C1128.6 833.4 1139.7 831.7 1148 829.9C1156.2 828.1 1162.4 826 1168.2 823.5C1174 821 1177.9 819.2 1182.7 814.8C1187.6 810.5 1192.9 803.2 1197.2 797.4C1201.6 791.7 1205.2 787.3 1208.8 780.1C1212.4 772.8 1216.1 762.2 1219 754C1221.9 745.8 1224.3 735.9 1226.2 730.8C1228.1 725.7 1229.1 724 1230.6 723.5C1232 723.1 1233.5 722.8 1234.9 727.9C1236.4 733 1237.8 740.9 1239.3 754C1240.7 767 1242.2 789.2 1243.6 806.1C1245.1 823.1 1246.5 839 1248 855.4C1249.4 871.8 1250.9 891.7 1252.3 904.7C1253.7 917.7 1254.7 925.2 1256.6 933.7C1258.5 942.1 1261.4 953.5 1263.8 955.4C1266.3 957.4 1268.4 951.3 1271.1 945.3C1273.7 939.2 1276.4 927.4 1279.8 919.2C1283.2 911 1287 903.2 1291.4 896C1295.7 888.8 1300.6 881.5 1305.9 875.7C1311.2 869.9 1316.5 865.6 1323.3 861.2C1330 856.9 1337.8 852.6 1346.4 849.6C1355.1 846.6 1365.8 844.8 1375.4 843.2C1385.1 841.7 1393.8 841 1404.4 840.3C1415 839.7 1433.4 839.6 1439.2 839.5" fill="none" stroke="#e01a1a" stroke-width="2.4" stroke-linejoin="round"/>
</g>
<path d="M1061.1 1002.3v5M1061.1 696v-5M1124.3 1002.3v5M1124.3 696v-5M1187.6 1002.3v5M1187.6 696v-5M1250.8 1002.3v5M1250.8 696v-5M1314.1 1002.3v5M1314.1 696v-5M1377.3 1002.3v5M1377.3 696v-5M1440.6 1002.3v5M1440.6 696v-5M1092.7 1002.3v3M1092.7 696v-3M1156 1002.3v3M1156 696v-3M1219.2 1002.3v3M1219.2 696v-3M1282.5 1002.3v3M1282.5 696v-3M1345.7 1002.3v3M1345.7 696v-3M1409 1002.3v3M1409 696v-3M1061.1 1002.3h-5M1440.6 1002.3h5M1061.1 961.5h-5M1440.6 961.5h5M1061.1 920.6h-5M1440.6 920.6h5M1061.1 879.8h-5M1440.6 879.8h5M1061.1 838.9h-5M1440.6 838.9h5M1061.1 798.1h-5M1440.6 798.1h5M1061.1 757.3h-5M1440.6 757.3h5M1061.1 716.4h-5M1440.6 716.4h5M1061.1 981.9h-3M1440.6 981.9h3M1061.1 941h-3M1440.6 941h3M1061.1 900.2h-3M1440.6 900.2h3M1061.1 859.4h-3M1440.6 859.4h3M1061.1 818.5h-3M1440.6 818.5h3M1061.1 777.7h-3M1440.6 777.7h3M1061.1 736.8h-3M1440.6 736.8h3" stroke="#3a3a3a" stroke-width="1.6" fill="none"/>
<rect x="1061.1" y="696" width="379.5" height="306.3" fill="none" stroke="#3a3a3a" stroke-width="2.2"/>
<text x="1061.1" y="1024.6" font-size="14" fill="#3a3a3a" text-anchor="middle" font-family="'DejaVu Sans', 'Liberation Sans', sans-serif"  stroke="#3a3a3a" stroke-width="0.45">-30</text>
<text x="1124.3" y="1024.6" font-size="14" fill="#3a3a3a" text-anchor="middle" font-family="'DejaVu Sans', 'Liberation Sans', sans-serif"  stroke="#3a3a3a" stroke-width="0.45">-20</text>
<text x="1187.6" y="1024.6" font-size="14" fill="#3a3a3a" text-anchor="middle" font-family="'DejaVu Sans', 'Liberation Sans', sans-serif"  stroke="#3a3a3a" stroke-width="0.45">-10</text>
<text x="1250.8" y="1024.6" font-size="14" fill="#3a3a3a" text-anchor="middle" font-family="'DejaVu Sans', 'Liberation Sans', sans-serif"  stroke="#3a3a3a" stroke-width="0.45">0</text>
<text x="1314.1" y="1024.6" font-size="14" fill="#3a3a3a" text-anchor="middle" font-family="'DejaVu Sans', 'Liberation Sans', sans-serif"  stroke="#3a3a3a" stroke-width="0.45">10</text>
<text x="1377.3" y="1024.6" font-size="14" fill="#3a3a3a" text-anchor="middle" font-family="'DejaVu Sans', 'Liberation Sans', sans-serif"  stroke="#3a3a3a" stroke-width="0.45">20</text>
<text x="1440.6" y="1024.6" font-size="14" fill="#3a3a3a" text-anchor="middle" font-family="'DejaVu Sans', 'Liberation Sans', sans-serif"  stroke="#3a3a3a" stroke-width="0.45">30</text>
<text x="1051.1" y="1007.3" font-size="14" fill="#3a3a3a" text-anchor="end" font-family="'DejaVu Sans', 'Liberation Sans', sans-serif"  stroke="#3a3a3a" stroke-width="0.45">0.80</text>
<text x="1051.1" y="966.5" font-size="14" fill="#3a3a3a" text-anchor="end" font-family="'DejaVu Sans', 'Liberation Sans', sans-serif"  stroke="#3a3a3a" stroke-width="0.45">0.85</text>
<text x="1051.1" y="925.6" font-size="14" fill="#3a3a3a" text-anchor="end" font-family="'DejaVu Sans', 'Liberation Sans', sans-serif"  stroke="#3a3a3a" stroke-width="0.45">0.90</text>
<text x="1051.1" y="884.8" font-size="14" fill="#3a3a3a" text-anchor="end" font-family="'DejaVu Sans', 'Liberation Sans', sans-serif"  stroke="#3a3a3a" stroke-width="0.45">0.95</text>
<text x="1051.1" y="843.9" font-size="14" fill="#3a3a3a" text-anchor="end" font-family="'DejaVu Sans', 'Liberation Sans', sans-serif"  stroke="#3a3a3a" stroke-width="0.45">1.00</text>
<text x="1051.1" y="803.1" font-size="14" fill="#3a3a3a" text-anchor="end" font-family="'DejaVu Sans', 'Liberation Sans', sans-serif"  stroke="#3a3a3a" stroke-width="0.45">1.05</text>
<text x="1051.1" y="762.3" font-size="14" fill="#3a3a3a" text-anchor="end" font-family="'DejaVu Sans', 'Liberation Sans', sans-serif"  stroke="#3a3a3a" stroke-width="0.45">1.10</text>
<text x="1051.1" y="721.4" font-size="14" fill="#3a3a3a" text-anchor="end" font-family="'DejaVu Sans', 'Liberation Sans', sans-serif"  stroke="#3a3a3a" stroke-width="0.45">1.15</text>
<text x="1271.5" y="712" font-size="14" fill="#333" font-family="'DejaVu Sans', 'Liberation Sans', sans-serif"  textLength="62.9" lengthAdjust="spacingAndGlyphs" stroke="#333" stroke-width="0.45">1550 nm</text>
<text x="1271.5" y="732" font-size="14" fill="#333" font-family="'DejaVu Sans', 'Liberation Sans', sans-serif"  textLength="153" lengthAdjust="spacingAndGlyphs" stroke="#333" stroke-width="0.45">n<tspan font-size="8" dy="3">2</tspan><tspan dy="-3">=-4.89×10</tspan><tspan font-size="7" dy="-5">-20</tspan><tspan dy="5"> m</tspan><tspan font-size="7" dy="-5">2</tspan><tspan dy="5">/W</tspan></text>
<text x="1271.5" y="756.5" font-size="14" fill="#333" font-family="'DejaVu Sans', 'Liberation Sans', sans-serif"  textLength="167" lengthAdjust="spacingAndGlyphs" stroke="#333" stroke-width="0.45">Reχ<tspan font-size="7" dy="-5">(3)</tspan><tspan dy="5">=-4.96×10</tspan><tspan font-size="7" dy="-5">-14</tspan><tspan dy="5"> esu</tspan></text>
<text x="1091.2" y="762.4" font-size="45" fill="#111" font-family="'Liberation Serif', serif"  stroke="#111" stroke-width="0.7">(l)</text>
<text x="1250.4" y="1046.6" font-size="15.9" fill="#333" text-anchor="middle" font-family="'DejaVu Sans', 'Liberation Sans', sans-serif"  textLength="157" lengthAdjust="spacingAndGlyphs" stroke="#333" stroke-width="0.45">Displacement (mm)</text>
<text x="1012" y="848.5" font-size="17.5" fill="#333" text-anchor="middle" font-family="'DejaVu Sans', 'Liberation Sans', sans-serif" transform="rotate(-90 1012 848.5)" stroke="#333" stroke-width="0.45">T<tspan font-size="9" dy="3">norm</tspan><tspan dy="-3"> (a.u.)</tspan></text>
<g clip-path="url(#cm)">
<polyline points="1588.3,838 1595.6,840.9 1601.4,843.8 1608.6,838 1614.4,835.1 1618.8,843.8 1624.6,849.6 1630.4,848.2 1636.2,843.8 1642,839.5 1646.3,846.7 1652.1,849.6 1657.9,849.6 1663.7,851.1 1669.5,845.3 1672.4,852.5 1676.8,856.9 1681.1,846.7 1685.4,832.2 1689.8,838 1694.1,843.8 1698.5,836.6 1702.8,839.5 1707.2,823.5 1710.1,809 1714.4,794.6 1718.8,807.6 1721.7,777.2 1726,783 1730.4,788.8 1733.3,764.1 1739.1,732.2 1743.4,755.4 1749.2,752.5 1753.6,743.8 1757.9,717.7 1761.4,752.5 1765.2,771.4 1769.5,825 1772.4,848.2 1774.7,869.9 1772.3,848.2 1775.2,869.9 1778.1,910.5 1781,901.8 1783.9,956.9 1788.3,967 1791.2,936.6 1795.5,951.1 1799.9,927.9 1802.8,919.2 1807.1,936.6 1810,919.2 1814.4,881.5 1818.7,898.9 1824.5,913.4 1828.9,903.2 1833.2,911.9 1837.6,885.9 1841.9,864.1 1844.8,885.9 1849.2,862.7 1853.5,872.8 1857.9,869.9 1862.2,867 1866.6,862.7 1870.9,856.9 1875.2,862.7 1879.6,869.9 1883.9,875.7 1888.3,868.5 1892.6,869.9 1897,875.7 1901.3,864.1 1905.7,862.7 1910,861.2 1914.4,862.7 1918.7,858.3 1923.1,859.8 1927.4,849.6 1931.8,867 1936.1,868.5 1940.5,868.5 1944.8,878.6 1949.2,871.4 1953.5,861.2 1957.9,854 1960.8,851.1 1592,841.1 1599.2,839.4 1604.6,843.7 1611.6,835.5 1616.7,837.8 1622.3,845.8 1627.6,845.9 1633.6,844.3 1639.9,840.9 1644.6,844.7 1650,845.8 1654.6,849.5 1661.2,848.9 1667,849.1 1673.9,853.6 1679.7,849.3 1683.8,836.9 1688.1,836.6 1691.8,843.9 1696.2,838.3 1700.4,839.3 1704.7,828.8 1711.9,804.8 1716.2,800.8 1724.3,782.7 1727.6,784.1 1740.5,742.1 1747.3,752.5 1750.6,748.2 1786,963.3 1793.6,944.6 1797,939.7 1804.2,925.8 1816.5,889.8 1822.1,903.6 1826.3,906.3 1831.1,908.1 1840,873.3 1846.8,874.1 1850.5,868.2 1855.1,868.6 1861,865.9 1864.8,864.9 1867.9,859.9 1872.9,860.1 1878.3,869.3 1882.1,871.9 1886,873.7 1890.7,866.8 1895.1,875.6 1898.6,869.3 1902.7,865.3 1907.4,859.9 1911.5,860.6 1915.6,862 1921.6,861.6 1924.9,854.5 1930.1,859.2 1933.5,867.1 1939.1,869.8 1941.8,871.8 1947.8,874.5 1950.7,865.4 1955.5,859.1" fill="none" stroke="none" marker-start="url(#k32)" marker-mid="url(#k32)" marker-end="url(#k32)"/>
<path d="M1584 848.2C1588.8 847.9 1603.3 847.3 1613 846.7C1622.6 846.1 1632.3 845.7 1642 844.7C1651.6 843.7 1662.7 842.5 1671 840.9C1679.2 839.3 1685.4 837.5 1691.2 835.1C1697 832.7 1700.9 830.3 1705.7 826.4C1710.6 822.6 1715.9 817.7 1720.2 811.9C1724.6 806.1 1728.2 799.4 1731.8 791.7C1735.4 783.9 1739.1 773.3 1742 765.6C1744.9 757.8 1747.3 749.9 1749.2 745.3C1751.1 740.7 1752.1 738.5 1753.6 738C1755 737.5 1756.5 737.3 1757.9 742.4C1759.4 747.4 1760.8 756.9 1762.3 768.5C1763.7 780.1 1765.2 797 1766.6 811.9C1768.1 826.9 1769.8 846.7 1771 858.3C1772.2 869.9 1772.4 868.5 1773.8 881.5C1775.2 894.6 1777.2 923.3 1779.6 936.6C1782 949.9 1785.4 959.3 1788.3 961.2C1791.2 963.1 1793.6 954.7 1797 948.2C1800.4 941.7 1804.2 930.8 1808.6 922.1C1812.9 913.4 1817.8 903.7 1823.1 896C1828.4 888.3 1834.2 881 1840.5 875.7C1846.7 870.4 1853.5 867 1860.8 864.1C1868 861.2 1875.2 860 1883.9 858.3C1892.6 856.6 1903.3 855.1 1912.9 854C1922.6 852.9 1933.2 852.1 1941.9 851.7C1950.6 851.2 1961.2 851.2 1965.1 851.1" fill="none" stroke="#e01a1a" stroke-width="2.4" stroke-linejoin="round"/>
</g>
<path d="M1584.5 1002.3v5M1584.5 696v-5M1647.9 1002.3v5M1647.9 696v-5M1711.2 1002.3v5M1711.2 696v-5M1774.6 1002.3v5M1774.6 696v-5M1838 1002.3v5M1838 696v-5M1901.3 1002.3v5M1901.3 696v-5M1964.7 1002.3v5M1964.7 696v-5M1616.2 1002.3v3M1616.2 696v-3M1679.5 1002.3v3M1679.5 696v-3M1742.9 1002.3v3M1742.9 696v-3M1806.3 1002.3v3M1806.3 696v-3M1869.7 1002.3v3M1869.7 696v-3M1933 1002.3v3M1933 696v-3M1584.5 1002.3h-5M1964.7 1002.3h5M1584.5 964h-5M1964.7 964h5M1584.5 925.7h-5M1964.7 925.7h5M1584.5 887.4h-5M1964.7 887.4h5M1584.5 849.1h-5M1964.7 849.1h5M1584.5 810.9h-5M1964.7 810.9h5M1584.5 772.6h-5M1964.7 772.6h5M1584.5 734.3h-5M1964.7 734.3h5M1584.5 696h-5M1964.7 696h5M1584.5 983.2h-3M1964.7 983.2h3M1584.5 944.9h-3M1964.7 944.9h3M1584.5 906.6h-3M1964.7 906.6h3M1584.5 868.3h-3M1964.7 868.3h3M1584.5 830h-3M1964.7 830h3M1584.5 791.7h-3M1964.7 791.7h3M1584.5 753.4h-3M1964.7 753.4h3M1584.5 715.1h-3M1964.7 715.1h3" stroke="#3a3a3a" stroke-width="1.6" fill="none"/>
<rect x="1584.5" y="696" width="380.2" height="306.3" fill="none" stroke="#3a3a3a" stroke-width="2.2"/>
<text x="1584.5" y="1024.6" font-size="14" fill="#3a3a3a" text-anchor="middle" font-family="'DejaVu Sans', 'Liberation Sans', sans-serif"  stroke="#3a3a3a" stroke-width="0.45">-30</text>
<text x="1647.9" y="1024.6" font-size="14" fill="#3a3a3a" text-anchor="middle" font-family="'DejaVu Sans', 'Liberation Sans', sans-serif"  stroke="#3a3a3a" stroke-width="0.45">-20</text>
<text x="1711.2" y="1024.6" font-size="14" fill="#3a3a3a" text-anchor="middle" font-family="'DejaVu Sans', 'Liberation Sans', sans-serif"  stroke="#3a3a3a" stroke-width="0.45">-10</text>
<text x="1774.6" y="1024.6" font-size="14" fill="#3a3a3a" text-anchor="middle" font-family="'DejaVu Sans', 'Liberation Sans', sans-serif"  stroke="#3a3a3a" stroke-width="0.45">0</text>
<text x="1838" y="1024.6" font-size="14" fill="#3a3a3a" text-anchor="middle" font-family="'DejaVu Sans', 'Liberation Sans', sans-serif"  stroke="#3a3a3a" stroke-width="0.45">10</text>
<text x="1901.3" y="1024.6" font-size="14" fill="#3a3a3a" text-anchor="middle" font-family="'DejaVu Sans', 'Liberation Sans', sans-serif"  stroke="#3a3a3a" stroke-width="0.45">20</text>
<text x="1964.7" y="1024.6" font-size="14" fill="#3a3a3a" text-anchor="middle" font-family="'DejaVu Sans', 'Liberation Sans', sans-serif"  stroke="#3a3a3a" stroke-width="0.45">30</text>
<text x="1574.5" y="1007.3" font-size="14" fill="#3a3a3a" text-anchor="end" font-family="'DejaVu Sans', 'Liberation Sans', sans-serif"  stroke="#3a3a3a" stroke-width="0.45">0.80</text>
<text x="1574.5" y="969" font-size="14" fill="#3a3a3a" text-anchor="end" font-family="'DejaVu Sans', 'Liberation Sans', sans-serif"  stroke="#3a3a3a" stroke-width="0.45">0.85</text>
<text x="1574.5" y="930.7" font-size="14" fill="#3a3a3a" text-anchor="end" font-family="'DejaVu Sans', 'Liberation Sans', sans-serif"  stroke="#3a3a3a" stroke-width="0.45">0.90</text>
<text x="1574.5" y="892.4" font-size="14" fill="#3a3a3a" text-anchor="end" font-family="'DejaVu Sans', 'Liberation Sans', sans-serif"  stroke="#3a3a3a" stroke-width="0.45">0.95</text>
<text x="1574.5" y="854.1" font-size="14" fill="#3a3a3a" text-anchor="end" font-family="'DejaVu Sans', 'Liberation Sans', sans-serif"  stroke="#3a3a3a" stroke-width="0.45">1.00</text>
<text x="1574.5" y="815.9" font-size="14" fill="#3a3a3a" text-anchor="end" font-family="'DejaVu Sans', 'Liberation Sans', sans-serif"  stroke="#3a3a3a" stroke-width="0.45">1.05</text>
<text x="1574.5" y="777.6" font-size="14" fill="#3a3a3a" text-anchor="end" font-family="'DejaVu Sans', 'Liberation Sans', sans-serif"  stroke="#3a3a3a" stroke-width="0.45">1.10</text>
<text x="1574.5" y="739.3" font-size="14" fill="#3a3a3a" text-anchor="end" font-family="'DejaVu Sans', 'Liberation Sans', sans-serif"  stroke="#3a3a3a" stroke-width="0.45">1.15</text>
<text x="1574.5" y="701" font-size="14" fill="#3a3a3a" text-anchor="end" font-family="'DejaVu Sans', 'Liberation Sans', sans-serif"  stroke="#3a3a3a" stroke-width="0.45">1.20</text>
<text x="1810.5" y="712" font-size="14" fill="#333" font-family="'DejaVu Sans', 'Liberation Sans', sans-serif"  textLength="58.6" lengthAdjust="spacingAndGlyphs" stroke="#333" stroke-width="0.45">1800 nm</text>
<text x="1810.5" y="732" font-size="14" fill="#333" font-family="'DejaVu Sans', 'Liberation Sans', sans-serif"  textLength="145.6" lengthAdjust="spacingAndGlyphs" stroke="#333" stroke-width="0.45">n<tspan font-size="8" dy="3">2</tspan><tspan dy="-3">= -9.86×10</tspan><tspan font-size="7" dy="-5">-20</tspan><tspan dy="5"> m</tspan><tspan font-size="7" dy="-5">2</tspan><tspan dy="5">/W</tspan></text>
<text x="1810.5" y="756.5" font-size="14" fill="#333" font-family="'DejaVu Sans', 'Liberation Sans', sans-serif"  textLength="151" lengthAdjust="spacingAndGlyphs" stroke="#333" stroke-width="0.45">Reχ<tspan font-size="7" dy="-5">(3)</tspan><tspan dy="5">=-10.1×10</tspan><tspan font-size="7" dy="-5">-14</tspan><tspan dy="5"> esu</tspan></text>
<text x="1618.2" y="762.4" font-size="45" fill="#111" font-family="'Liberation Serif', serif"  stroke="#111" stroke-width="0.7">(m)</text>
<text x="1774.6" y="1043" font-size="15.9" fill="#333" text-anchor="middle" font-family="'DejaVu Sans', 'Liberation Sans', sans-serif"  textLength="157" lengthAdjust="spacingAndGlyphs" stroke="#333" stroke-width="0.45">Displacement (mm)</text>
<text x="1534.4" y="848.5" font-size="17.5" fill="#333" text-anchor="middle" font-family="'DejaVu Sans', 'Liberation Sans', sans-serif" transform="rotate(-90 1534.4 848.5)" stroke="#333" stroke-width="0.45">T<tspan font-size="9" dy="3">norm</tspan><tspan dy="-3"> (a.u.)</tspan></text>
<g clip-path="url(#ct)">
<polyline points="739.6,110.3 740.4,111 741.1,108.9 741.9,111.2 742.6,111 743.4,110 744.1,112.1 744.9,112 745.7,111.5 746.4,112.1 747.2,112.9 747.9,112.2 748.7,112.5 749.4,111.8 750.2,113.8 751,113.1 751.7,111.8 752.5,111.3 753.2,114.2 754,112.6 754.7,114 755.5,114 756.3,114.2 757,113.9 757.8,112.9 758.5,113.3 759.3,113.9 760,114.4 760.8,114.2 761.6,114.5 762.3,113.9 763.1,115.1 763.8,114.8 764.6,115 765.3,115.1 766.1,115 766.9,115.1 767.6,114.3 768.4,115.6 769.1,114.4 769.9,116.1 770.6,116.3 771.4,116 772.2,115.9 772.9,116.1 773.7,115.4 774.4,115.7 775.2,116.3 775.9,117.1 776.7,117.1 777.5,116 778.2,117.1 779,118.4 779.7,118 780.5,118.1 781.2,116.8 782,118 782.8,116.2 783.5,117.6 784.3,118.1 785,118.7 785.8,117.6 786.5,118.7 787.3,119.3 788.1,118.2 788.8,118.8 789.6,117.9 790.3,119 791.1,121.4 791.8,118.5 792.6,120.8 793.4,118.1 794.1,118 794.9,119.9 795.6,120.6 796.4,120.9 797.1,119.1 797.9,120.1 798.7,120.5 799.4,120.3 800.2,118.5 800.9,120 801.7,119.8 802.4,119.9 803.2,119.8 804,119.8 804.7,121.4 805.5,121.1 806.2,121.6 807,121.6 807.7,120.2 808.5,121.7 809.3,121.4 810,122 810.8,122 811.5,121 812.3,122.1 813,122.2 813.8,121.5 814.6,121.6 815.3,121.5 816.1,122.1 816.8,123.7 817.6,121.9 818.3,122.1 819.1,121.8 819.9,123.4 820.6,120.7 821.4,123.9 822.1,122.4 822.9,123 823.6,123.6 824.4,122.6 825.2,123.6 825.9,125.3 826.7,124.5 827.4,123.3 828.2,121.9 828.9,125 829.7,123.9 830.5,122.8 831.2,123.6 832,124.5 832.7,125.5 833.5,125.8 834.2,125.1 835,124.9 835.8,126.5 836.5,126.1 837.3,124.6 838,125.3 838.8,125.7 839.5,125.5 840.3,125.9 841.1,124.6 841.8,124.1 842.6,123.9 843.3,125.1 844.1,125.1 844.8,124.6 845.6,124.5 846.4,124.8 847.1,125.1 847.9,126.7 848.6,127.6 849.4,125.7 850.1,126.6 850.9,126.6 851.7,127.4 852.4,127.8 853.2,125.7 853.9,126.6 854.7,127.9 855.5,126.8 856.2,127 857,126.9 857.7,125.6 858.5,127.6 859.2,128.7 860,127.7 860.8,128.3 861.5,127.5 862.3,127.8 863,127.8 863.8,128.7 864.5,128 865.3,128.8 866.1,128.1 866.8,128.8 867.6,129.6 868.3,128.4 869.1,129.4 869.8,127.8 870.6,128.7 871.4,128.8 872.1,129.2 872.9,129.4 873.6,131.4 874.4,128.5 875.1,130.3 875.9,128.9 876.7,130.3 877.4,130 878.2,130.2 878.9,130.9 879.7,130.3 880.4,129.9 881.2,130.7 882,131.5 882.7,131 883.5,130.5 884.2,129.8 885,130.2 885.7,130.7 886.5,131.9 887.3,130.4 888,131.2 888.8,131.5 889.5,130.7 890.3,131 891,131.2 891.8,132.6 892.6,132.3 893.3,133.3 894.1,131.8 894.8,132.1 895.6,131.4 896.3,132.1 897.1,132.7 897.9,130.8 898.6,133.4 899.4,133.8 900.1,133.3 900.9,132.4 901.6,133.2 902.4,133.4 903.2,134.1 903.9,132 904.7,133.8 905.4,134.3 906.2,133.6 906.9,134.3 907.7,133.9 908.5,132.7 909.2,134.3 910,134 910.7,134.4 911.5,134.3 912.2,133.6 913,133.9 913.8,134.8 914.5,135.3 915.3,134.8 916,134.1 916.8,134.9 917.5,135.1 918.3,136.5 919.1,134.3 919.8,136.4 920.6,136.4 921.3,135.7 922.1,135.5 922.8,135.6 923.6,136.4 924.4,136.2 925.1,136.6 925.9,137.7 926.6,136.6 927.4,139.8 928.1,139.5 928.9,140.5 929.7,140 930.4,140.4 931.2,140.3 931.9,139.9 932.7,140 933.4,140.3 934.2,138.7 935,140.2 935.7,139.2 936.5,138.4 937.2,139.4 938,138.9 938.7,140.6 939.5,140.9 940.3,140.7 941,141.3 941.8,141.5 942.5,143.1 943.3,143.2 944,143.1 944.8,143.3 945.6,144.6 946.3,143.7 947.1,141.7 947.8,143.5 948.6,140.1 949.3,141.1 950.1,140.1 950.9,141.7 951.6,141.2 952.4,143 953.1,141.5 953.9,140.8 954.6,143 955.4,141 956.2,142.7 956.9,142.3 957.7,144.6 958.4,141.7 959.2,143.4 959.9,143.3 960.7,144 961.5,143.9 962.2,142.3 963,143.8 963.7,142.8 964.5,143.8 965.2,143.6 966,144.4" fill="none" stroke="#111" stroke-width="2.0" stroke-linejoin="round" />
<polyline points="739.6,141.1 740.4,139.5 741.1,141.2 741.9,141.4 742.6,142.4 743.4,141.3 744.1,141.2 744.9,143.8 745.7,143.7 746.4,141.1 747.2,142.6 747.9,143 748.7,142.8 749.4,142.5 750.2,142.9 751,143.9 751.7,142.2 752.5,144 753.2,144.8 754,144.7 754.7,144.5 755.5,144.9 756.3,144.9 757,144.6 757.8,147.7 758.5,145.8 759.3,144.6 760,145.1 760.8,146.2 761.6,146.3 762.3,145 763.1,146.3 763.8,146.7 764.6,144.9 765.3,146.9 766.1,146.2 766.9,146.9 767.6,147 768.4,147.9 769.1,148 769.9,146.5 770.6,148.6 771.4,147.6 772.2,148.9 772.9,148.3 773.7,148.3 774.4,149.7 775.2,147.6 775.9,148.9 776.7,147.9 777.5,149.8 778.2,148.4 779,147.4 779.7,149.3 780.5,150.1 781.2,149.4 782,149.8 782.8,150.2 783.5,150.3 784.3,150.8 785,150.1 785.8,150.8 786.5,151.3 787.3,150.1 788.1,151 788.8,148.8 789.6,151.2 790.3,151.7 791.1,151.7 791.8,151.1 792.6,152 793.4,152.6 794.1,150.4 794.9,152.8 795.6,150.7 796.4,151.9 797.1,153 797.9,150.9 798.7,152.5 799.4,153.2 800.2,152.5 800.9,151.6 801.7,152.2 802.4,152.2 803.2,151.5 804,152.9 804.7,152.9 805.5,153.4 806.2,154.5 807,153.6 807.7,152.3 808.5,155.1 809.3,152.7 810,153.7 810.8,154.7 811.5,154.1 812.3,152.8 813,154.8 813.8,153.8 814.6,153.6 815.3,155.4 816.1,154.2 816.8,154.4 817.6,155.3 818.3,154.5 819.1,155.5 819.9,155.7 820.6,156.4 821.4,155.2 822.1,155.9 822.9,156.1 823.6,156.7 824.4,157 825.2,156.7 825.9,155.5 826.7,156.9 827.4,155.2 828.2,156.1 828.9,156.4 829.7,157.6 830.5,155.2 831.2,158 832,156.5 832.7,155.7 833.5,157.3 834.2,157.8 835,157.4 835.8,156.7 836.5,156.5 837.3,157.2 838,158.7 838.8,158.5 839.5,157.9 840.3,159.2 841.1,158.4 841.8,156.5 842.6,159.3 843.3,157.6 844.1,159.4 844.8,159 845.6,158.9 846.4,160.2 847.1,159.2 847.9,158.1 848.6,158.7 849.4,158.8 850.1,160.1 850.9,159.7 851.7,159.5 852.4,159.3 853.2,158.8 853.9,160.8 854.7,158.8 855.5,160.5 856.2,160.5 857,161.4 857.7,160.6 858.5,160.8 859.2,161.8 860,161.1 860.8,160.9 861.5,161.4 862.3,160.6 863,162.1 863.8,160.7 864.5,161.7 865.3,161.3 866.1,163.2 866.8,161.7 867.6,162 868.3,161.3 869.1,163.1 869.8,161.1 870.6,163.2 871.4,161.4 872.1,162.1 872.9,163.3 873.6,161 874.4,163.8 875.1,163.1 875.9,162.9 876.7,162.8 877.4,163.1 878.2,162.8 878.9,163.1 879.7,163.6 880.4,164.5 881.2,164.1 882,163.2 882.7,165 883.5,164.1 884.2,165.9 885,164.9 885.7,165.8 886.5,163.6 887.3,166.2 888,165 888.8,164.3 889.5,164.5 890.3,164.5 891,164.3 891.8,164.9 892.6,164.7 893.3,165.6 894.1,165.6 894.8,167.2 895.6,165.7 896.3,164.9 897.1,166.7 897.9,167.1 898.6,166.2 899.4,165.4 900.1,165.5 900.9,167.8 901.6,166.3 902.4,167.3 903.2,166.7 903.9,168.8 904.7,166.4 905.4,167.5 906.2,167.2 906.9,167.6 907.7,168.4 908.5,167.2 909.2,168.1 910,168.4 910.7,167.4 911.5,168.1 912.2,168.7 913,167.5 913.8,168.9 914.5,168.5 915.3,168 916,167.9 916.8,167.8 917.5,167.6 918.3,169 919.1,169.8 919.8,167.9 920.6,168.2 921.3,169.7 922.1,169 922.8,170 923.6,171.1 924.4,169.1 925.1,169.8 925.9,170.1 926.6,169 927.4,171.6 928.1,173.8 928.9,174.7 929.7,175.7 930.4,174.3 931.2,174.6 931.9,173.9 932.7,174 933.4,174.2 934.2,173.7 935,174.4 935.7,172 936.5,173.3 937.2,172.5 938,173.8 938.7,173.6 939.5,173.6 940.3,174.9 941,175.9 941.8,174 942.5,176.5 943.3,176.2 944,176.9 944.8,177.5 945.6,175.7 946.3,176.2 947.1,176 947.8,177.8 948.6,174.2 949.3,173.9 950.1,174.5 950.9,175 951.6,174 952.4,175 953.1,174.8 953.9,174.6 954.6,174.8 955.4,176.8 956.2,175.6 956.9,176.6 957.7,177.8 958.4,176 959.2,177.8 959.9,176.9 960.7,178.7 961.5,177.7 962.2,177.4 963,177.1 963.7,177.7 964.5,178.2 965.2,178.3 966,176.4" fill="none" stroke="#d81c1c" stroke-width="2.0" stroke-linejoin="round" />
<polyline points="739.6,176.4 740.4,176.4 741.1,175 741.9,178.2 742.6,178.6 743.4,178 744.1,177.7 744.9,178.6 745.7,177.9 746.4,178.2 747.2,179.6 747.9,178.4 748.7,179.9 749.4,178.4 750.2,179 751,177.7 751.7,179 752.5,180.1 753.2,179.9 754,180.2 754.7,181.2 755.5,182 756.3,180.1 757,180 757.8,181.9 758.5,181.9 759.3,182.3 760,181.3 760.8,181.4 761.6,183.3 762.3,183.1 763.1,183.5 763.8,183.1 764.6,182.9 765.3,182.9 766.1,184.2 766.9,185 767.6,184 768.4,184.2 769.1,185.1 769.9,185 770.6,185 771.4,184.8 772.2,185.7 772.9,185.6 773.7,186.1 774.4,187.2 775.2,186.1 775.9,186.8 776.7,186.3 777.5,188.3 778.2,188.1 779,187.5 779.7,189.4 780.5,188.3 781.2,188.8 782,189 782.8,189.1 783.5,190.9 784.3,189.1 785,189.2 785.8,188.5 786.5,188.2 787.3,189.2 788.1,188.8 788.8,191.6 789.6,189.3 790.3,189 791.1,189.2 791.8,189.8 792.6,190.4 793.4,190.5 794.1,190.3 794.9,190 795.6,190 796.4,190.6 797.1,191.6 797.9,189.2 798.7,191.5 799.4,193.1 800.2,189.8 800.9,190.2 801.7,191 802.4,190.4 803.2,191 804,192.1 804.7,191.4 805.5,192.6 806.2,192.2 807,192.4 807.7,191.7 808.5,191.1 809.3,192.5 810,191.7 810.8,193.9 811.5,193.1 812.3,191.9 813,191.7 813.8,191.8 814.6,191.7 815.3,194 816.1,193.2 816.8,195 817.6,193.1 818.3,192.8 819.1,193.4 819.9,194 820.6,193 821.4,193 822.1,193.4 822.9,194 823.6,193.6 824.4,193.7 825.2,193.6 825.9,193.4 826.7,194 827.4,195.2 828.2,194.4 828.9,193.9 829.7,194.7 830.5,194.2 831.2,195.1 832,193.5 832.7,194.4 833.5,194.7 834.2,194.2 835,194.3 835.8,195 836.5,194.3 837.3,194.7 838,195.1 838.8,195.4 839.5,196.4 840.3,195.4 841.1,195.5 841.8,196.4 842.6,194.7 843.3,195.9 844.1,196.8 844.8,196.4 845.6,196.2 846.4,196.3 847.1,197 847.9,196.4 848.6,197.7 849.4,196.9 850.1,196.3 850.9,197.3 851.7,196.3 852.4,196.3 853.2,197.5 853.9,199 854.7,196.5 855.5,196.2 856.2,198.6 857,197.3 857.7,197.3 858.5,198.9 859.2,198.1 860,196.8 860.8,197.7 861.5,197.9 862.3,197.1 863,198.6 863.8,199.7 864.5,197.2 865.3,199 866.1,198.5 866.8,197.6 867.6,198.4 868.3,198.6 869.1,199.3 869.8,198.4 870.6,197.2 871.4,199.5 872.1,200 872.9,199 873.6,199.9 874.4,199.3 875.1,199.5 875.9,199.2 876.7,199.5 877.4,199.5 878.2,198.8 878.9,200.7 879.7,200 880.4,199.8 881.2,201.1 882,201 882.7,200.6 883.5,200.9 884.2,199.6 885,200.5 885.7,198.3 886.5,201.1 887.3,201.1 888,199.1 888.8,201.5 889.5,199.3 890.3,203.7 891,201.8 891.8,200.2 892.6,200.2 893.3,201.2 894.1,202.1 894.8,201.8 895.6,201.2 896.3,201.6 897.1,201.2 897.9,202.6 898.6,201.5 899.4,201.2 900.1,199.8 900.9,201.8 901.6,201.9 902.4,203.2 903.2,203.7 903.9,204.6 904.7,202.4 905.4,201.3 906.2,203.1 906.9,205.1 907.7,203 908.5,203.4 909.2,203.6 910,202 910.7,202.5 911.5,202.4 912.2,204.3 913,203.5 913.8,204.7 914.5,203 915.3,204.9 916,203.1 916.8,204 917.5,204.1 918.3,205.5 919.1,203.9 919.8,206 920.6,205.6 921.3,205.5 922.1,203.1 922.8,205 923.6,206 924.4,215.6 925.1,216.2 925.9,220 926.6,221.6 927.4,221.7 928.1,220 928.9,217.3 929.7,217.4 930.4,216.3 931.2,216.4 931.9,216.9 932.7,216.4 933.4,218.9 934.2,221.1 935,224.7 935.7,224.8 936.5,225.9 937.2,225 938,224.6 938.7,224.3 939.5,222.4 940.3,221.3 941,221.1 941.8,222.1 942.5,221.9 943.3,222.7 944,226.9 944.8,227.7 945.6,230.9 946.3,231.9 947.1,225 947.8,225.4 948.6,224.5 949.3,224.5 950.1,227.7 950.9,225.1 951.6,225.6 952.4,224.7 953.1,227 953.9,226.3 954.6,225.5 955.4,226 956.2,225.6 956.9,227.6 957.7,227.7 958.4,226.8 959.2,228.6 959.9,227.2 960.7,227 961.5,227.6 962.2,229.2 963,228.7 963.7,228.6 964.5,228.2 965.2,228.5 966,229.2" fill="none" stroke="#3cb828" stroke-width="2.0" stroke-linejoin="round" />
</g>
<ellipse cx="935" cy="182" rx="20" ry="64" fill="none" stroke="#555" stroke-width="1.2" stroke-dasharray="5 2 1 2"/>
<path d="M895 246 L920 243 Q923 240 925 235" fill="none" stroke="#333" stroke-width="1.1" stroke-dasharray="3 1.5"/>
<path d="M891 246.5 l6 -3 l-0.5 5 z" fill="#333"/>
<text x="860" y="251" font-size="15" fill="#222" font-family="'DejaVu Sans', 'Liberation Sans', sans-serif"  stroke="#222" stroke-width="0.45">Air</text>
<path d="M739.6 271v3M739.6 11.8v-3M774.4 271v3M774.4 11.8v-3M809.3 271v3M809.3 11.8v-3M844.1 271v3M844.1 11.8v-3M878.9 271v3M878.9 11.8v-3M913.8 271v3M913.8 11.8v-3M948.6 271v3M948.6 11.8v-3M757 271v2M757 11.8v-2M791.8 271v2M791.8 11.8v-2M826.7 271v2M826.7 11.8v-2M861.5 271v2M861.5 11.8v-2M896.3 271v2M896.3 11.8v-2M931.2 271v2M931.2 11.8v-2M966 271v2M966 11.8v-2M739.6 271h-3M966 271h3M739.6 238.6h-3M966 238.6h3M739.6 206.2h-3M966 206.2h3M739.6 173.8h-3M966 173.8h3M739.6 141.4h-3M966 141.4h3M739.6 109h-3M966 109h3M739.6 76.6h-3M966 76.6h3M739.6 44.2h-3M966 44.2h3M739.6 11.8h-3M966 11.8h3M739.6 254.8h-2M966 254.8h2M739.6 222.4h-2M966 222.4h2M739.6 190h-2M966 190h2M739.6 157.6h-2M966 157.6h2M739.6 125.2h-2M966 125.2h2M739.6 92.8h-2M966 92.8h2M739.6 60.4h-2M966 60.4h2M739.6 28h-2M966 28h2" stroke="#3a3a3a" stroke-width="1.6" fill="none"/>
<rect x="739.6" y="11.8" width="226.4" height="259.2" fill="none" stroke="#3a3a3a" stroke-width="1.8"/>
<text x="739.6" y="287" font-size="9.5" fill="#3a3a3a" text-anchor="middle" font-family="'DejaVu Sans', 'Liberation Sans', sans-serif"  stroke="#3a3a3a" stroke-width="0.45">400</text>
<text x="774.4" y="287" font-size="9.5" fill="#3a3a3a" text-anchor="middle" font-family="'DejaVu Sans', 'Liberation Sans', sans-serif"  stroke="#3a3a3a" stroke-width="0.45">800</text>
<text x="809.3" y="287" font-size="9.5" fill="#3a3a3a" text-anchor="middle" font-family="'DejaVu Sans', 'Liberation Sans', sans-serif"  stroke="#3a3a3a" stroke-width="0.45">1200</text>
<text x="844.1" y="287" font-size="9.5" fill="#3a3a3a" text-anchor="middle" font-family="'DejaVu Sans', 'Liberation Sans', sans-serif"  stroke="#3a3a3a" stroke-width="0.45">1600</text>
<text x="878.9" y="287" font-size="9.5" fill="#3a3a3a" text-anchor="middle" font-family="'DejaVu Sans', 'Liberation Sans', sans-serif"  stroke="#3a3a3a" stroke-width="0.45">2000</text>
<text x="913.8" y="287" font-size="9.5" fill="#3a3a3a" text-anchor="middle" font-family="'DejaVu Sans', 'Liberation Sans', sans-serif"  stroke="#3a3a3a" stroke-width="0.45">2400</text>
<text x="948.6" y="287" font-size="9.5" fill="#3a3a3a" text-anchor="middle" font-family="'DejaVu Sans', 'Liberation Sans', sans-serif"  stroke="#3a3a3a" stroke-width="0.45">2800</text>
<text x="732.5" y="274.2" font-size="9" fill="#3a3a3a" text-anchor="end" font-family="'DejaVu Sans', 'Liberation Sans', sans-serif"  textLength="12.4" lengthAdjust="spacingAndGlyphs" stroke="#3a3a3a" stroke-width="0.45">20</text>
<text x="732.5" y="241.8" font-size="9" fill="#3a3a3a" text-anchor="end" font-family="'DejaVu Sans', 'Liberation Sans', sans-serif"  textLength="12.4" lengthAdjust="spacingAndGlyphs" stroke="#3a3a3a" stroke-width="0.45">30</text>
<text x="732.5" y="209.4" font-size="9" fill="#3a3a3a" text-anchor="end" font-family="'DejaVu Sans', 'Liberation Sans', sans-serif"  textLength="12.4" lengthAdjust="spacingAndGlyphs" stroke="#3a3a3a" stroke-width="0.45">40</text>
<text x="732.5" y="177" font-size="9" fill="#3a3a3a" text-anchor="end" font-family="'DejaVu Sans', 'Liberation Sans', sans-serif"  textLength="12.4" lengthAdjust="spacingAndGlyphs" stroke="#3a3a3a" stroke-width="0.45">50</text>
<text x="732.5" y="144.6" font-size="9" fill="#3a3a3a" text-anchor="end" font-family="'DejaVu Sans', 'Liberation Sans', sans-serif"  textLength="12.4" lengthAdjust="spacingAndGlyphs" stroke="#3a3a3a" stroke-width="0.45">60</text>
<text x="732.5" y="112.2" font-size="9" fill="#3a3a3a" text-anchor="end" font-family="'DejaVu Sans', 'Liberation Sans', sans-serif"  textLength="12.4" lengthAdjust="spacingAndGlyphs" stroke="#3a3a3a" stroke-width="0.45">70</text>
<text x="732.5" y="79.8" font-size="9" fill="#3a3a3a" text-anchor="end" font-family="'DejaVu Sans', 'Liberation Sans', sans-serif"  textLength="12.4" lengthAdjust="spacingAndGlyphs" stroke="#3a3a3a" stroke-width="0.45">80</text>
<text x="732.5" y="47.4" font-size="9" fill="#3a3a3a" text-anchor="end" font-family="'DejaVu Sans', 'Liberation Sans', sans-serif"  textLength="12.4" lengthAdjust="spacingAndGlyphs" stroke="#3a3a3a" stroke-width="0.45">90</text>
<text x="732.5" y="15" font-size="9" fill="#3a3a3a" text-anchor="end" font-family="'DejaVu Sans', 'Liberation Sans', sans-serif"  textLength="18.6" lengthAdjust="spacingAndGlyphs" stroke="#3a3a3a" stroke-width="0.45">100</text>
<line x1="845" y1="31" x2="876" y2="31" stroke="#111" stroke-width="2.4"/>
<text x="881" y="35.3" font-size="12" fill="#333" font-family="'DejaVu Sans', 'Liberation Sans', sans-serif"  textLength="75" lengthAdjust="spacingAndGlyphs" stroke="#333" stroke-width="0.45">Sample_#1</text>
<line x1="845" y1="48.6" x2="876" y2="48.6" stroke="#d81c1c" stroke-width="2.4"/>
<text x="881" y="52.9" font-size="12" fill="#333" font-family="'DejaVu Sans', 'Liberation Sans', sans-serif"  textLength="75" lengthAdjust="spacingAndGlyphs" stroke="#333" stroke-width="0.45">Sample_#2</text>
<line x1="845" y1="66.2" x2="876" y2="66.2" stroke="#3cb828" stroke-width="2.4"/>
<text x="881" y="70.5" font-size="12" fill="#333" font-family="'DejaVu Sans', 'Liberation Sans', sans-serif"  textLength="75" lengthAdjust="spacingAndGlyphs" stroke="#333" stroke-width="0.45">Sample_#3</text>
<text x="853" y="305" font-size="14" fill="#333" text-anchor="middle" font-family="'DejaVu Sans', 'Liberation Sans', sans-serif" font-weight="bold"  stroke="#333" stroke-width="0.45">Wavelength (nm)</text>
<text x="710" y="133.7" font-size="14" fill="#333" text-anchor="middle" font-family="'DejaVu Sans', 'Liberation Sans', sans-serif" font-weight="bold" transform="rotate(-90 710 133.7)" textLength="144" lengthAdjust="spacingAndGlyphs" stroke="#333" stroke-width="0.45">Transmittance (%)</text>
<text x="640.4" y="45.7" font-size="45" fill="#111" font-family="'Liberation Serif', serif"  stroke="#111" stroke-width="0.7">(a)</text>
<circle cx="35.5" cy="51.5" r="4.7" fill="url(#ti)"/><circle cx="48.2" cy="51.2" r="4.7" fill="url(#ti)"/><circle cx="62.9" cy="53" r="4.7" fill="url(#ti)"/><circle cx="61" cy="50.9" r="4.7" fill="url(#ti)"/><circle cx="75.7" cy="52.8" r="4.7" fill="url(#ti)"/><circle cx="73.8" cy="50.7" r="4.7" fill="url(#ti)"/><circle cx="90.3" cy="54.6" r="4.7" fill="url(#ti)"/><circle cx="88.4" cy="52.5" r="4.7" fill="url(#ti)"/><circle cx="86.5" cy="50.4" r="4.7" fill="url(#ti)"/><circle cx="103" cy="54.3" r="4.7" fill="url(#ti)"/><circle cx="101.2" cy="52.2" r="4.7" fill="url(#ti)"/><circle cx="99.2" cy="50.1" r="4.7" fill="url(#ti)"/><circle cx="117.7" cy="56.2" r="4.7" fill="url(#ti)"/><circle cx="115.8" cy="54.1" r="4.7" fill="url(#ti)"/><circle cx="113.9" cy="52" r="4.7" fill="url(#ti)"/><circle cx="112" cy="49.9" r="4.7" fill="url(#ti)"/><circle cx="130.4" cy="55.9" r="4.7" fill="url(#ti)"/><circle cx="128.6" cy="53.8" r="4.7" fill="url(#ti)"/><circle cx="126.7" cy="51.7" r="4.7" fill="url(#ti)"/><circle cx="124.8" cy="49.6" r="4.7" fill="url(#ti)"/><circle cx="143.2" cy="55.6" r="4.7" fill="url(#ti)"/><circle cx="141.3" cy="53.5" r="4.7" fill="url(#ti)"/><circle cx="139.4" cy="51.4" r="4.7" fill="url(#ti)"/><circle cx="137.5" cy="49.3" r="4.7" fill="url(#ti)"/><circle cx="155.9" cy="55.4" r="4.7" fill="url(#ti)"/><circle cx="154.1" cy="53.3" r="4.7" fill="url(#ti)"/><circle cx="152.2" cy="51.2" r="4.7" fill="url(#ti)"/><circle cx="150.2" cy="49.1" r="4.7" fill="url(#ti)"/><circle cx="168.7" cy="55.1" r="4.7" fill="url(#ti)"/><circle cx="166.8" cy="53" r="4.7" fill="url(#ti)"/><circle cx="164.9" cy="50.9" r="4.7" fill="url(#ti)"/><circle cx="163" cy="48.8" r="4.7" fill="url(#ti)"/><circle cx="181.4" cy="54.8" r="4.7" fill="url(#ti)"/><circle cx="179.6" cy="52.7" r="4.7" fill="url(#ti)"/><circle cx="177.7" cy="50.6" r="4.7" fill="url(#ti)"/><circle cx="175.8" cy="48.5" r="4.7" fill="url(#ti)"/><circle cx="194.2" cy="54.6" r="4.7" fill="url(#ti)"/><circle cx="192.3" cy="52.5" r="4.7" fill="url(#ti)"/><circle cx="190.4" cy="50.4" r="4.7" fill="url(#ti)"/><circle cx="188.5" cy="48.3" r="4.7" fill="url(#ti)"/><circle cx="206.9" cy="54.3" r="4.7" fill="url(#ti)"/><circle cx="205.1" cy="52.2" r="4.7" fill="url(#ti)"/><circle cx="203.2" cy="50.1" r="4.7" fill="url(#ti)"/><circle cx="201.2" cy="48" r="4.7" fill="url(#ti)"/><circle cx="219.7" cy="54" r="4.7" fill="url(#ti)"/><circle cx="217.8" cy="51.9" r="4.7" fill="url(#ti)"/><circle cx="215.9" cy="49.8" r="4.7" fill="url(#ti)"/><circle cx="214" cy="47.7" r="4.7" fill="url(#ti)"/><circle cx="232.4" cy="53.8" r="4.7" fill="url(#ti)"/><circle cx="230.6" cy="51.7" r="4.7" fill="url(#ti)"/><circle cx="228.7" cy="49.6" r="4.7" fill="url(#ti)"/><circle cx="226.8" cy="47.5" r="4.7" fill="url(#ti)"/><circle cx="245.2" cy="53.5" r="4.7" fill="url(#ti)"/><circle cx="243.3" cy="51.4" r="4.7" fill="url(#ti)"/><circle cx="241.4" cy="49.3" r="4.7" fill="url(#ti)"/><circle cx="239.5" cy="47.2" r="4.7" fill="url(#ti)"/><circle cx="257.9" cy="53.2" r="4.7" fill="url(#ti)"/><circle cx="256.1" cy="51.1" r="4.7" fill="url(#ti)"/><circle cx="254.2" cy="49" r="4.7" fill="url(#ti)"/><circle cx="252.2" cy="46.9" r="4.7" fill="url(#ti)"/><circle cx="270.7" cy="53" r="4.7" fill="url(#ti)"/><circle cx="268.8" cy="50.9" r="4.7" fill="url(#ti)"/><circle cx="266.9" cy="48.8" r="4.7" fill="url(#ti)"/><circle cx="265" cy="46.7" r="4.7" fill="url(#ti)"/><circle cx="283.4" cy="52.7" r="4.7" fill="url(#ti)"/><circle cx="281.6" cy="50.6" r="4.7" fill="url(#ti)"/><circle cx="279.6" cy="48.5" r="4.7" fill="url(#ti)"/><circle cx="277.8" cy="46.4" r="4.7" fill="url(#ti)"/><circle cx="296.2" cy="52.4" r="4.7" fill="url(#ti)"/><circle cx="294.3" cy="50.3" r="4.7" fill="url(#ti)"/><circle cx="292.4" cy="48.2" r="4.7" fill="url(#ti)"/><circle cx="290.5" cy="46.1" r="4.7" fill="url(#ti)"/><circle cx="307.1" cy="50.1" r="4.7" fill="url(#ti)"/><circle cx="305.1" cy="48" r="4.7" fill="url(#ti)"/><circle cx="303.2" cy="45.9" r="4.7" fill="url(#ti)"/><circle cx="319.8" cy="49.8" r="4.7" fill="url(#ti)"/><circle cx="317.9" cy="47.7" r="4.7" fill="url(#ti)"/><circle cx="316" cy="45.6" r="4.7" fill="url(#ti)"/><circle cx="330.6" cy="47.4" r="4.7" fill="url(#ti)"/><circle cx="328.8" cy="45.3" r="4.7" fill="url(#ti)"/><circle cx="343.4" cy="47.2" r="4.7" fill="url(#ti)"/><circle cx="341.5" cy="45.1" r="4.7" fill="url(#ti)"/><circle cx="354.2" cy="44.8" r="4.7" fill="url(#ti)"/><circle cx="367" cy="44.5" r="4.7" fill="url(#ti)"/><circle cx="379.8" cy="44.3" r="4.7" fill="url(#ti)"/><circle cx="10" cy="72.4" r="4.7" fill="url(#ti)"/><circle cx="22.8" cy="72.1" r="4.7" fill="url(#ti)"/><circle cx="35.5" cy="71.9" r="4.7" fill="url(#ti)"/><circle cx="48.2" cy="71.6" r="4.7" fill="url(#ti)"/><circle cx="62.9" cy="73.4" r="4.7" fill="url(#ti)"/><circle cx="61" cy="71.3" r="4.7" fill="url(#ti)"/><circle cx="75.7" cy="73.2" r="4.7" fill="url(#ti)"/><circle cx="73.8" cy="71.1" r="4.7" fill="url(#ti)"/><circle cx="90.3" cy="75" r="4.7" fill="url(#ti)"/><circle cx="88.4" cy="72.9" r="4.7" fill="url(#ti)"/><circle cx="86.5" cy="70.8" r="4.7" fill="url(#ti)"/><circle cx="103" cy="74.7" r="4.7" fill="url(#ti)"/><circle cx="101.2" cy="72.6" r="4.7" fill="url(#ti)"/><circle cx="99.2" cy="70.5" r="4.7" fill="url(#ti)"/><circle cx="117.7" cy="76.6" r="4.7" fill="url(#ti)"/><circle cx="115.8" cy="74.5" r="4.7" fill="url(#ti)"/><circle cx="113.9" cy="72.4" r="4.7" fill="url(#ti)"/><circle cx="112" cy="70.3" r="4.7" fill="url(#ti)"/><circle cx="130.4" cy="76.3" r="4.7" fill="url(#ti)"/><circle cx="128.6" cy="74.2" r="4.7" fill="url(#ti)"/><circle cx="126.7" cy="72.1" r="4.7" fill="url(#ti)"/><circle cx="124.8" cy="70" r="4.7" fill="url(#ti)"/><circle cx="143.2" cy="76" r="4.7" fill="url(#ti)"/><circle cx="141.3" cy="73.9" r="4.7" fill="url(#ti)"/><circle cx="139.4" cy="71.8" r="4.7" fill="url(#ti)"/><circle cx="137.5" cy="69.7" r="4.7" fill="url(#ti)"/><circle cx="155.9" cy="75.8" r="4.7" fill="url(#ti)"/><circle cx="154.1" cy="73.7" r="4.7" fill="url(#ti)"/><circle cx="152.2" cy="71.6" r="4.7" fill="url(#ti)"/><circle cx="150.2" cy="69.5" r="4.7" fill="url(#ti)"/><circle cx="168.7" cy="75.5" r="4.7" fill="url(#ti)"/><circle cx="166.8" cy="73.4" r="4.7" fill="url(#ti)"/><circle cx="164.9" cy="71.3" r="4.7" fill="url(#ti)"/><circle cx="163" cy="69.2" r="4.7" fill="url(#ti)"/><circle cx="181.4" cy="75.2" r="4.7" fill="url(#ti)"/><circle cx="179.6" cy="73.1" r="4.7" fill="url(#ti)"/><circle cx="177.7" cy="71" r="4.7" fill="url(#ti)"/><circle cx="175.8" cy="68.9" r="4.7" fill="url(#ti)"/><circle cx="194.2" cy="75" r="4.7" fill="url(#ti)"/><circle cx="192.3" cy="72.9" r="4.7" fill="url(#ti)"/><circle cx="190.4" cy="70.8" r="4.7" fill="url(#ti)"/><circle cx="188.5" cy="68.7" r="4.7" fill="url(#ti)"/><circle cx="206.9" cy="74.7" r="4.7" fill="url(#ti)"/><circle cx="205.1" cy="72.6" r="4.7" fill="url(#ti)"/><circle cx="203.2" cy="70.5" r="4.7" fill="url(#ti)"/><circle cx="201.2" cy="68.4" r="4.7" fill="url(#ti)"/><circle cx="219.7" cy="74.4" r="4.7" fill="url(#ti)"/><circle cx="217.8" cy="72.3" r="4.7" fill="url(#ti)"/><circle cx="215.9" cy="70.2" r="4.7" fill="url(#ti)"/><circle cx="214" cy="68.1" r="4.7" fill="url(#ti)"/><circle cx="232.4" cy="74.2" r="4.7" fill="url(#ti)"/><circle cx="230.6" cy="72.1" r="4.7" fill="url(#ti)"/><circle cx="228.7" cy="70" r="4.7" fill="url(#ti)"/><circle cx="226.8" cy="67.9" r="4.7" fill="url(#ti)"/><circle cx="245.2" cy="73.9" r="4.7" fill="url(#ti)"/><circle cx="243.3" cy="71.8" r="4.7" fill="url(#ti)"/><circle cx="241.4" cy="69.7" r="4.7" fill="url(#ti)"/><circle cx="239.5" cy="67.6" r="4.7" fill="url(#ti)"/><circle cx="257.9" cy="73.6" r="4.7" fill="url(#ti)"/><circle cx="256.1" cy="71.5" r="4.7" fill="url(#ti)"/><circle cx="254.2" cy="69.4" r="4.7" fill="url(#ti)"/><circle cx="252.2" cy="67.3" r="4.7" fill="url(#ti)"/><circle cx="270.7" cy="73.4" r="4.7" fill="url(#ti)"/><circle cx="268.8" cy="71.3" r="4.7" fill="url(#ti)"/><circle cx="266.9" cy="69.2" r="4.7" fill="url(#ti)"/><circle cx="265" cy="67.1" r="4.7" fill="url(#ti)"/><circle cx="283.4" cy="73.1" r="4.7" fill="url(#ti)"/><circle cx="281.6" cy="71" r="4.7" fill="url(#ti)"/><circle cx="279.6" cy="68.9" r="4.7" fill="url(#ti)"/><circle cx="277.8" cy="66.8" r="4.7" fill="url(#ti)"/><circle cx="296.2" cy="72.8" r="4.7" fill="url(#ti)"/><circle cx="294.3" cy="70.7" r="4.7" fill="url(#ti)"/><circle cx="292.4" cy="68.6" r="4.7" fill="url(#ti)"/><circle cx="290.5" cy="66.5" r="4.7" fill="url(#ti)"/><circle cx="307.1" cy="70.5" r="4.7" fill="url(#ti)"/><circle cx="305.1" cy="68.4" r="4.7" fill="url(#ti)"/><circle cx="303.2" cy="66.3" r="4.7" fill="url(#ti)"/><circle cx="319.8" cy="70.2" r="4.7" fill="url(#ti)"/><circle cx="317.9" cy="68.1" r="4.7" fill="url(#ti)"/><circle cx="316" cy="66" r="4.7" fill="url(#ti)"/><circle cx="330.6" cy="67.8" r="4.7" fill="url(#ti)"/><circle cx="328.8" cy="65.7" r="4.7" fill="url(#ti)"/><circle cx="343.4" cy="67.6" r="4.7" fill="url(#ti)"/><circle cx="341.5" cy="65.5" r="4.7" fill="url(#ti)"/><circle cx="354.2" cy="65.2" r="4.7" fill="url(#ti)"/><circle cx="367" cy="64.9" r="4.7" fill="url(#ti)"/><circle cx="379.8" cy="64.7" r="4.7" fill="url(#ti)"/><circle cx="392.5" cy="64.4" r="4.7" fill="url(#ti)"/><circle cx="22.8" cy="92.5" r="4.7" fill="url(#ti)"/><circle cx="35.5" cy="92.3" r="4.7" fill="url(#ti)"/><circle cx="48.2" cy="92" r="4.7" fill="url(#ti)"/><circle cx="62.9" cy="93.8" r="4.7" fill="url(#ti)"/><circle cx="61" cy="91.7" r="4.7" fill="url(#ti)"/><circle cx="75.7" cy="93.6" r="4.7" fill="url(#ti)"/><circle cx="73.8" cy="91.5" r="4.7" fill="url(#ti)"/><circle cx="90.3" cy="95.4" r="4.7" fill="url(#ti)"/><circle cx="88.4" cy="93.3" r="4.7" fill="url(#ti)"/><circle cx="86.5" cy="91.2" r="4.7" fill="url(#ti)"/><circle cx="103" cy="95.1" r="4.7" fill="url(#ti)"/><circle cx="101.2" cy="93" r="4.7" fill="url(#ti)"/><circle cx="99.2" cy="90.9" r="4.7" fill="url(#ti)"/><circle cx="117.7" cy="97" r="4.7" fill="url(#ti)"/><circle cx="115.8" cy="94.9" r="4.7" fill="url(#ti)"/><circle cx="113.9" cy="92.8" r="4.7" fill="url(#ti)"/><circle cx="112" cy="90.7" r="4.7" fill="url(#ti)"/><circle cx="130.4" cy="96.7" r="4.7" fill="url(#ti)"/><circle cx="128.6" cy="94.6" r="4.7" fill="url(#ti)"/><circle cx="126.7" cy="92.5" r="4.7" fill="url(#ti)"/><circle cx="124.8" cy="90.4" r="4.7" fill="url(#ti)"/><circle cx="143.2" cy="96.4" r="4.7" fill="url(#ti)"/><circle cx="141.3" cy="94.3" r="4.7" fill="url(#ti)"/><circle cx="139.4" cy="92.2" r="4.7" fill="url(#ti)"/><circle cx="137.5" cy="90.1" r="4.7" fill="url(#ti)"/><circle cx="155.9" cy="96.2" r="4.7" fill="url(#ti)"/><circle cx="154.1" cy="94.1" r="4.7" fill="url(#ti)"/><circle cx="152.2" cy="92" r="4.7" fill="url(#ti)"/><circle cx="150.2" cy="89.9" r="4.7" fill="url(#ti)"/><circle cx="168.7" cy="95.9" r="4.7" fill="url(#ti)"/><circle cx="166.8" cy="93.8" r="4.7" fill="url(#ti)"/><circle cx="164.9" cy="91.7" r="4.7" fill="url(#ti)"/><circle cx="163" cy="89.6" r="4.7" fill="url(#ti)"/><circle cx="181.4" cy="95.6" r="4.7" fill="url(#ti)"/><circle cx="179.6" cy="93.5" r="4.7" fill="url(#ti)"/><circle cx="177.7" cy="91.4" r="4.7" fill="url(#ti)"/><circle cx="175.8" cy="89.3" r="4.7" fill="url(#ti)"/><circle cx="194.2" cy="95.4" r="4.7" fill="url(#ti)"/><circle cx="192.3" cy="93.3" r="4.7" fill="url(#ti)"/><circle cx="190.4" cy="91.2" r="4.7" fill="url(#ti)"/><circle cx="188.5" cy="89.1" r="4.7" fill="url(#ti)"/><circle cx="206.9" cy="95.1" r="4.7" fill="url(#ti)"/><circle cx="205.1" cy="93" r="4.7" fill="url(#ti)"/><circle cx="203.2" cy="90.9" r="4.7" fill="url(#ti)"/><circle cx="201.2" cy="88.8" r="4.7" fill="url(#ti)"/><circle cx="219.7" cy="94.8" r="4.7" fill="url(#ti)"/><circle cx="217.8" cy="92.7" r="4.7" fill="url(#ti)"/><circle cx="215.9" cy="90.6" r="4.7" fill="url(#ti)"/><circle cx="214" cy="88.5" r="4.7" fill="url(#ti)"/><circle cx="232.4" cy="94.6" r="4.7" fill="url(#ti)"/><circle cx="230.6" cy="92.5" r="4.7" fill="url(#ti)"/><circle cx="228.7" cy="90.4" r="4.7" fill="url(#ti)"/><circle cx="226.8" cy="88.3" r="4.7" fill="url(#ti)"/><circle cx="245.2" cy="94.3" r="4.7" fill="url(#ti)"/><circle cx="243.3" cy="92.2" r="4.7" fill="url(#ti)"/><circle cx="241.4" cy="90.1" r="4.7" fill="url(#ti)"/><circle cx="239.5" cy="88" r="4.7" fill="url(#ti)"/><circle cx="257.9" cy="94" r="4.7" fill="url(#ti)"/><circle cx="256.1" cy="91.9" r="4.7" fill="url(#ti)"/><circle cx="254.2" cy="89.8" r="4.7" fill="url(#ti)"/><circle cx="252.2" cy="87.7" r="4.7" fill="url(#ti)"/><circle cx="270.7" cy="93.8" r="4.7" fill="url(#ti)"/><circle cx="268.8" cy="91.7" r="4.7" fill="url(#ti)"/><circle cx="266.9" cy="89.6" r="4.7" fill="url(#ti)"/><circle cx="265" cy="87.5" r="4.7" fill="url(#ti)"/><circle cx="283.4" cy="93.5" r="4.7" fill="url(#ti)"/><circle cx="281.6" cy="91.4" r="4.7" fill="url(#ti)"/><circle cx="279.6" cy="89.3" r="4.7" fill="url(#ti)"/><circle cx="277.8" cy="87.2" r="4.7" fill="url(#ti)"/><circle cx="296.2" cy="93.2" r="4.7" fill="url(#ti)"/><circle cx="294.3" cy="91.1" r="4.7" fill="url(#ti)"/><circle cx="292.4" cy="89" r="4.7" fill="url(#ti)"/><circle cx="290.5" cy="86.9" r="4.7" fill="url(#ti)"/><circle cx="307.1" cy="90.9" r="4.7" fill="url(#ti)"/><circle cx="305.1" cy="88.8" r="4.7" fill="url(#ti)"/><circle cx="303.2" cy="86.7" r="4.7" fill="url(#ti)"/><circle cx="319.8" cy="90.6" r="4.7" fill="url(#ti)"/><circle cx="317.9" cy="88.5" r="4.7" fill="url(#ti)"/><circle cx="316" cy="86.4" r="4.7" fill="url(#ti)"/><circle cx="330.6" cy="88.2" r="4.7" fill="url(#ti)"/><circle cx="328.8" cy="86.1" r="4.7" fill="url(#ti)"/><circle cx="343.4" cy="88" r="4.7" fill="url(#ti)"/><circle cx="341.5" cy="85.9" r="4.7" fill="url(#ti)"/><circle cx="354.2" cy="85.6" r="4.7" fill="url(#ti)"/><circle cx="367" cy="85.3" r="4.7" fill="url(#ti)"/>
<path d="M22.8 61.9h0.01M35.5 61.7h0.01M48.2 61.4h0.01M62.9 63.2h0.01M61 61.1h0.01M75.7 63h0.01M73.8 60.9h0.01M90.3 64.8h0.01M88.4 62.7h0.01M86.5 60.6h0.01M103 64.5h0.01M101.2 62.4h0.01M99.2 60.3h0.01M117.7 66.4h0.01M115.8 64.3h0.01M113.9 62.2h0.01M112 60.1h0.01M130.4 66.1h0.01M128.6 64h0.01M126.7 61.9h0.01M124.8 59.8h0.01M143.2 65.8h0.01M141.3 63.7h0.01M139.4 61.6h0.01M137.5 59.5h0.01M155.9 65.6h0.01M154.1 63.5h0.01M152.2 61.4h0.01M150.2 59.3h0.01M168.7 65.3h0.01M166.8 63.2h0.01M164.9 61.1h0.01M163 59h0.01M181.4 65h0.01M179.6 62.9h0.01M177.7 60.8h0.01M175.8 58.7h0.01M194.2 64.8h0.01M192.3 62.7h0.01M190.4 60.6h0.01M188.5 58.5h0.01M206.9 64.5h0.01M205.1 62.4h0.01M203.2 60.3h0.01M201.2 58.2h0.01M219.7 64.2h0.01M217.8 62.1h0.01M215.9 60h0.01M214 57.9h0.01M232.4 64h0.01M230.6 61.9h0.01M228.7 59.8h0.01M226.8 57.7h0.01M245.2 63.7h0.01M243.3 61.6h0.01M241.4 59.5h0.01M239.5 57.4h0.01M257.9 63.4h0.01M256.1 61.3h0.01M254.2 59.2h0.01M252.2 57.1h0.01M270.7 63.2h0.01M268.8 61.1h0.01M266.9 59h0.01M265 56.9h0.01M283.4 62.9h0.01M281.6 60.8h0.01M279.6 58.7h0.01M277.8 56.6h0.01M296.2 62.6h0.01M294.3 60.5h0.01M292.4 58.4h0.01M290.5 56.3h0.01M307.1 60.3h0.01M305.1 58.2h0.01M303.2 56.1h0.01M319.8 60h0.01M317.9 57.9h0.01M316 55.8h0.01M330.6 57.6h0.01M328.8 55.5h0.01M343.4 57.4h0.01M341.5 55.3h0.01M354.2 55h0.01M367 54.7h0.01M35.5 82.1h0.01M48.2 81.8h0.01M62.9 83.6h0.01M61 81.5h0.01M75.7 83.4h0.01M73.8 81.3h0.01M90.3 85.2h0.01M88.4 83.1h0.01M86.5 81h0.01M103 84.9h0.01M101.2 82.8h0.01M99.2 80.7h0.01M117.7 86.8h0.01M115.8 84.7h0.01M113.9 82.6h0.01M112 80.5h0.01M130.4 86.5h0.01M128.6 84.4h0.01M126.7 82.3h0.01M124.8 80.2h0.01M143.2 86.2h0.01M141.3 84.1h0.01M139.4 82h0.01M137.5 79.9h0.01M155.9 86h0.01M154.1 83.9h0.01M152.2 81.8h0.01M150.2 79.7h0.01M168.7 85.7h0.01M166.8 83.6h0.01M164.9 81.5h0.01M163 79.4h0.01M181.4 85.4h0.01M179.6 83.3h0.01M177.7 81.2h0.01M175.8 79.1h0.01M194.2 85.2h0.01M192.3 83.1h0.01M190.4 81h0.01M188.5 78.9h0.01M206.9 84.9h0.01M205.1 82.8h0.01M203.2 80.7h0.01M201.2 78.6h0.01M219.7 84.6h0.01M217.8 82.5h0.01M215.9 80.4h0.01M214 78.3h0.01M232.4 84.4h0.01M230.6 82.3h0.01M228.7 80.2h0.01M226.8 78.1h0.01M245.2 84.1h0.01M243.3 82h0.01M241.4 79.9h0.01M239.5 77.8h0.01M257.9 83.8h0.01M256.1 81.7h0.01M254.2 79.6h0.01M252.2 77.5h0.01M270.7 83.6h0.01M268.8 81.5h0.01M266.9 79.4h0.01M265 77.3h0.01M283.4 83.3h0.01M281.6 81.2h0.01M279.6 79.1h0.01M277.8 77h0.01M296.2 83h0.01M294.3 80.9h0.01M292.4 78.8h0.01M290.5 76.7h0.01M307.1 80.7h0.01M305.1 78.6h0.01M303.2 76.5h0.01M319.8 80.4h0.01M317.9 78.3h0.01M316 76.2h0.01M330.6 78h0.01M328.8 75.9h0.01M343.4 77.8h0.01M341.5 75.7h0.01M354.2 75.4h0.01M367 75.1h0.01M379.8 74.9h0.01" stroke="#111" stroke-width="5" stroke-linecap="round"/>
<path d="M48.2 40.7h0.01M62.9 42.5h0.01M61 40.4h0.01M75.7 42.3h0.01M73.8 40.2h0.01M90.3 44.1h0.01M88.4 42h0.01M86.5 39.9h0.01M103 43.8h0.01M101.2 41.7h0.01M99.2 39.6h0.01M117.7 45.7h0.01M115.8 43.6h0.01M113.9 41.5h0.01M112 39.4h0.01M130.4 45.4h0.01M128.6 43.3h0.01M126.7 41.2h0.01M124.8 39.1h0.01M143.2 45.1h0.01M141.3 43h0.01M139.4 40.9h0.01M137.5 38.8h0.01M155.9 44.9h0.01M154.1 42.8h0.01M152.2 40.7h0.01M150.2 38.6h0.01M168.7 44.6h0.01M166.8 42.5h0.01M164.9 40.4h0.01M163 38.3h0.01M181.4 44.3h0.01M179.6 42.2h0.01M177.7 40.1h0.01M175.8 38h0.01M194.2 44.1h0.01M192.3 42h0.01M190.4 39.9h0.01M188.5 37.8h0.01M206.9 43.8h0.01M205.1 41.7h0.01M203.2 39.6h0.01M201.2 37.5h0.01M219.7 43.5h0.01M217.8 41.4h0.01M215.9 39.3h0.01M214 37.2h0.01M232.4 43.3h0.01M230.6 41.2h0.01M228.7 39.1h0.01M226.8 37h0.01M245.2 43h0.01M243.3 40.9h0.01M241.4 38.8h0.01M239.5 36.7h0.01M257.9 42.7h0.01M256.1 40.6h0.01M254.2 38.5h0.01M252.2 36.4h0.01M270.7 42.5h0.01M268.8 40.4h0.01M266.9 38.3h0.01M265 36.2h0.01M283.4 42.2h0.01M281.6 40.1h0.01M279.6 38h0.01M277.8 35.9h0.01M296.2 41.9h0.01M294.3 39.8h0.01M292.4 37.7h0.01M290.5 35.6h0.01M307.1 39.6h0.01M305.1 37.5h0.01M303.2 35.4h0.01M319.8 39.3h0.01M317.9 37.2h0.01M316 35.1h0.01M330.6 36.9h0.01M328.8 34.8h0.01M343.4 36.7h0.01M341.5 34.6h0.01M354.2 34.3h0.01M367 34h0.01M379.8 33.8h0.01M392.5 33.5h0.01M10 103h0.01M22.8 102.7h0.01M35.5 102.5h0.01M48.2 102.2h0.01M62.9 104h0.01M61 101.9h0.01M75.7 103.8h0.01M73.8 101.7h0.01M90.3 105.6h0.01M88.4 103.5h0.01M86.5 101.4h0.01M103 105.3h0.01M101.2 103.2h0.01M99.2 101.1h0.01M117.7 107.2h0.01M115.8 105.1h0.01M113.9 103h0.01M112 100.9h0.01M130.4 106.9h0.01M128.6 104.8h0.01M126.7 102.7h0.01M124.8 100.6h0.01M143.2 106.6h0.01M141.3 104.5h0.01M139.4 102.4h0.01M137.5 100.3h0.01M155.9 106.4h0.01M154.1 104.3h0.01M152.2 102.2h0.01M150.2 100.1h0.01M168.7 106.1h0.01M166.8 104h0.01M164.9 101.9h0.01M163 99.8h0.01M181.4 105.8h0.01M179.6 103.7h0.01M177.7 101.6h0.01M175.8 99.5h0.01M194.2 105.6h0.01M192.3 103.5h0.01M190.4 101.4h0.01M188.5 99.3h0.01M206.9 105.3h0.01M205.1 103.2h0.01M203.2 101.1h0.01M201.2 99h0.01M219.7 105h0.01M217.8 102.9h0.01M215.9 100.8h0.01M214 98.7h0.01M232.4 104.8h0.01M230.6 102.7h0.01M228.7 100.6h0.01M226.8 98.5h0.01M245.2 104.5h0.01M243.3 102.4h0.01M241.4 100.3h0.01M239.5 98.2h0.01M257.9 104.2h0.01M256.1 102.1h0.01M254.2 100h0.01M252.2 97.9h0.01M270.7 104h0.01M268.8 101.9h0.01M266.9 99.8h0.01M265 97.7h0.01M283.4 103.7h0.01M281.6 101.6h0.01M279.6 99.5h0.01M277.8 97.4h0.01M296.2 103.4h0.01M294.3 101.3h0.01M292.4 99.2h0.01M290.5 97.1h0.01M307.1 101.1h0.01M305.1 99h0.01M303.2 96.9h0.01M319.8 100.8h0.01M317.9 98.7h0.01M316 96.6h0.01M330.6 98.4h0.01M328.8 96.3h0.01M343.4 98.2h0.01M341.5 96.1h0.01M354.2 95.8h0.01M367 95.5h0.01M379.8 95.3h0.01" stroke="#4cbb38" stroke-width="3.6" stroke-linecap="round"/>
<circle cx="22.8" cy="136.2" r="4.7" fill="url(#ti)"/><circle cx="35.5" cy="136" r="4.7" fill="url(#ti)"/><circle cx="48.2" cy="135.7" r="4.7" fill="url(#ti)"/><circle cx="62.9" cy="137.5" r="4.7" fill="url(#ti)"/><circle cx="61" cy="135.4" r="4.7" fill="url(#ti)"/><circle cx="75.7" cy="137.3" r="4.7" fill="url(#ti)"/><circle cx="73.8" cy="135.2" r="4.7" fill="url(#ti)"/><circle cx="90.3" cy="139.1" r="4.7" fill="url(#ti)"/><circle cx="88.4" cy="137" r="4.7" fill="url(#ti)"/><circle cx="86.5" cy="134.9" r="4.7" fill="url(#ti)"/><circle cx="103" cy="138.8" r="4.7" fill="url(#ti)"/><circle cx="101.2" cy="136.7" r="4.7" fill="url(#ti)"/><circle cx="99.2" cy="134.6" r="4.7" fill="url(#ti)"/><circle cx="117.7" cy="140.7" r="4.7" fill="url(#ti)"/><circle cx="115.8" cy="138.6" r="4.7" fill="url(#ti)"/><circle cx="113.9" cy="136.5" r="4.7" fill="url(#ti)"/><circle cx="112" cy="134.4" r="4.7" fill="url(#ti)"/><circle cx="130.4" cy="140.4" r="4.7" fill="url(#ti)"/><circle cx="128.6" cy="138.3" r="4.7" fill="url(#ti)"/><circle cx="126.7" cy="136.2" r="4.7" fill="url(#ti)"/><circle cx="124.8" cy="134.1" r="4.7" fill="url(#ti)"/><circle cx="143.2" cy="140.1" r="4.7" fill="url(#ti)"/><circle cx="141.3" cy="138" r="4.7" fill="url(#ti)"/><circle cx="139.4" cy="135.9" r="4.7" fill="url(#ti)"/><circle cx="137.5" cy="133.8" r="4.7" fill="url(#ti)"/><circle cx="155.9" cy="139.9" r="4.7" fill="url(#ti)"/><circle cx="154.1" cy="137.8" r="4.7" fill="url(#ti)"/><circle cx="152.2" cy="135.7" r="4.7" fill="url(#ti)"/><circle cx="150.2" cy="133.6" r="4.7" fill="url(#ti)"/><circle cx="168.7" cy="139.6" r="4.7" fill="url(#ti)"/><circle cx="166.8" cy="137.5" r="4.7" fill="url(#ti)"/><circle cx="164.9" cy="135.4" r="4.7" fill="url(#ti)"/><circle cx="163" cy="133.3" r="4.7" fill="url(#ti)"/><circle cx="181.4" cy="139.3" r="4.7" fill="url(#ti)"/><circle cx="179.6" cy="137.2" r="4.7" fill="url(#ti)"/><circle cx="177.7" cy="135.1" r="4.7" fill="url(#ti)"/><circle cx="175.8" cy="133" r="4.7" fill="url(#ti)"/><circle cx="194.2" cy="139.1" r="4.7" fill="url(#ti)"/><circle cx="192.3" cy="137" r="4.7" fill="url(#ti)"/><circle cx="190.4" cy="134.9" r="4.7" fill="url(#ti)"/><circle cx="188.5" cy="132.8" r="4.7" fill="url(#ti)"/><circle cx="206.9" cy="138.8" r="4.7" fill="url(#ti)"/><circle cx="205.1" cy="136.7" r="4.7" fill="url(#ti)"/><circle cx="203.2" cy="134.6" r="4.7" fill="url(#ti)"/><circle cx="201.2" cy="132.5" r="4.7" fill="url(#ti)"/><circle cx="219.7" cy="138.5" r="4.7" fill="url(#ti)"/><circle cx="217.8" cy="136.4" r="4.7" fill="url(#ti)"/><circle cx="215.9" cy="134.3" r="4.7" fill="url(#ti)"/><circle cx="214" cy="132.2" r="4.7" fill="url(#ti)"/><circle cx="232.4" cy="138.3" r="4.7" fill="url(#ti)"/><circle cx="230.6" cy="136.2" r="4.7" fill="url(#ti)"/><circle cx="228.7" cy="134.1" r="4.7" fill="url(#ti)"/><circle cx="226.8" cy="132" r="4.7" fill="url(#ti)"/><circle cx="245.2" cy="138" r="4.7" fill="url(#ti)"/><circle cx="243.3" cy="135.9" r="4.7" fill="url(#ti)"/><circle cx="241.4" cy="133.8" r="4.7" fill="url(#ti)"/><circle cx="239.5" cy="131.7" r="4.7" fill="url(#ti)"/><circle cx="257.9" cy="137.7" r="4.7" fill="url(#ti)"/><circle cx="256.1" cy="135.6" r="4.7" fill="url(#ti)"/><circle cx="254.2" cy="133.5" r="4.7" fill="url(#ti)"/><circle cx="252.2" cy="131.4" r="4.7" fill="url(#ti)"/><circle cx="270.7" cy="137.5" r="4.7" fill="url(#ti)"/><circle cx="268.8" cy="135.4" r="4.7" fill="url(#ti)"/><circle cx="266.9" cy="133.3" r="4.7" fill="url(#ti)"/><circle cx="265" cy="131.2" r="4.7" fill="url(#ti)"/><circle cx="283.4" cy="137.2" r="4.7" fill="url(#ti)"/><circle cx="281.6" cy="135.1" r="4.7" fill="url(#ti)"/><circle cx="279.6" cy="133" r="4.7" fill="url(#ti)"/><circle cx="277.8" cy="130.9" r="4.7" fill="url(#ti)"/><circle cx="296.2" cy="136.9" r="4.7" fill="url(#ti)"/><circle cx="294.3" cy="134.8" r="4.7" fill="url(#ti)"/><circle cx="292.4" cy="132.7" r="4.7" fill="url(#ti)"/><circle cx="290.5" cy="130.6" r="4.7" fill="url(#ti)"/><circle cx="307.1" cy="134.6" r="4.7" fill="url(#ti)"/><circle cx="305.1" cy="132.5" r="4.7" fill="url(#ti)"/><circle cx="303.2" cy="130.4" r="4.7" fill="url(#ti)"/><circle cx="319.8" cy="134.3" r="4.7" fill="url(#ti)"/><circle cx="317.9" cy="132.2" r="4.7" fill="url(#ti)"/><circle cx="316" cy="130.1" r="4.7" fill="url(#ti)"/><circle cx="330.6" cy="131.9" r="4.7" fill="url(#ti)"/><circle cx="328.8" cy="129.8" r="4.7" fill="url(#ti)"/><circle cx="343.4" cy="131.7" r="4.7" fill="url(#ti)"/><circle cx="341.5" cy="129.6" r="4.7" fill="url(#ti)"/><circle cx="354.2" cy="129.3" r="4.7" fill="url(#ti)"/><circle cx="367" cy="129" r="4.7" fill="url(#ti)"/><circle cx="379.8" cy="128.8" r="4.7" fill="url(#ti)"/><circle cx="10" cy="156.9" r="4.7" fill="url(#ti)"/><circle cx="22.8" cy="156.6" r="4.7" fill="url(#ti)"/><circle cx="35.5" cy="156.4" r="4.7" fill="url(#ti)"/><circle cx="48.2" cy="156.1" r="4.7" fill="url(#ti)"/><circle cx="62.9" cy="157.9" r="4.7" fill="url(#ti)"/><circle cx="61" cy="155.8" r="4.7" fill="url(#ti)"/><circle cx="75.7" cy="157.7" r="4.7" fill="url(#ti)"/><circle cx="73.8" cy="155.6" r="4.7" fill="url(#ti)"/><circle cx="90.3" cy="159.5" r="4.7" fill="url(#ti)"/><circle cx="88.4" cy="157.4" r="4.7" fill="url(#ti)"/><circle cx="86.5" cy="155.3" r="4.7" fill="url(#ti)"/><circle cx="103" cy="159.2" r="4.7" fill="url(#ti)"/><circle cx="101.2" cy="157.1" r="4.7" fill="url(#ti)"/><circle cx="99.2" cy="155" r="4.7" fill="url(#ti)"/><circle cx="117.7" cy="161.1" r="4.7" fill="url(#ti)"/><circle cx="115.8" cy="159" r="4.7" fill="url(#ti)"/><circle cx="113.9" cy="156.9" r="4.7" fill="url(#ti)"/><circle cx="112" cy="154.8" r="4.7" fill="url(#ti)"/><circle cx="130.4" cy="160.8" r="4.7" fill="url(#ti)"/><circle cx="128.6" cy="158.7" r="4.7" fill="url(#ti)"/><circle cx="126.7" cy="156.6" r="4.7" fill="url(#ti)"/><circle cx="124.8" cy="154.5" r="4.7" fill="url(#ti)"/><circle cx="143.2" cy="160.5" r="4.7" fill="url(#ti)"/><circle cx="141.3" cy="158.4" r="4.7" fill="url(#ti)"/><circle cx="139.4" cy="156.3" r="4.7" fill="url(#ti)"/><circle cx="137.5" cy="154.2" r="4.7" fill="url(#ti)"/><circle cx="155.9" cy="160.3" r="4.7" fill="url(#ti)"/><circle cx="154.1" cy="158.2" r="4.7" fill="url(#ti)"/><circle cx="152.2" cy="156.1" r="4.7" fill="url(#ti)"/><circle cx="150.2" cy="154" r="4.7" fill="url(#ti)"/><circle cx="168.7" cy="160" r="4.7" fill="url(#ti)"/><circle cx="166.8" cy="157.9" r="4.7" fill="url(#ti)"/><circle cx="164.9" cy="155.8" r="4.7" fill="url(#ti)"/><circle cx="163" cy="153.7" r="4.7" fill="url(#ti)"/><circle cx="181.4" cy="159.7" r="4.7" fill="url(#ti)"/><circle cx="179.6" cy="157.6" r="4.7" fill="url(#ti)"/><circle cx="177.7" cy="155.5" r="4.7" fill="url(#ti)"/><circle cx="175.8" cy="153.4" r="4.7" fill="url(#ti)"/><circle cx="194.2" cy="159.5" r="4.7" fill="url(#ti)"/><circle cx="192.3" cy="157.4" r="4.7" fill="url(#ti)"/><circle cx="190.4" cy="155.3" r="4.7" fill="url(#ti)"/><circle cx="188.5" cy="153.2" r="4.7" fill="url(#ti)"/><circle cx="206.9" cy="159.2" r="4.7" fill="url(#ti)"/><circle cx="205.1" cy="157.1" r="4.7" fill="url(#ti)"/><circle cx="203.2" cy="155" r="4.7" fill="url(#ti)"/><circle cx="201.2" cy="152.9" r="4.7" fill="url(#ti)"/><circle cx="219.7" cy="158.9" r="4.7" fill="url(#ti)"/><circle cx="217.8" cy="156.8" r="4.7" fill="url(#ti)"/><circle cx="215.9" cy="154.7" r="4.7" fill="url(#ti)"/><circle cx="214" cy="152.6" r="4.7" fill="url(#ti)"/><circle cx="232.4" cy="158.7" r="4.7" fill="url(#ti)"/><circle cx="230.6" cy="156.6" r="4.7" fill="url(#ti)"/><circle cx="228.7" cy="154.5" r="4.7" fill="url(#ti)"/><circle cx="226.8" cy="152.4" r="4.7" fill="url(#ti)"/><circle cx="245.2" cy="158.4" r="4.7" fill="url(#ti)"/><circle cx="243.3" cy="156.3" r="4.7" fill="url(#ti)"/><circle cx="241.4" cy="154.2" r="4.7" fill="url(#ti)"/><circle cx="239.5" cy="152.1" r="4.7" fill="url(#ti)"/><circle cx="257.9" cy="158.1" r="4.7" fill="url(#ti)"/><circle cx="256.1" cy="156" r="4.7" fill="url(#ti)"/><circle cx="254.2" cy="153.9" r="4.7" fill="url(#ti)"/><circle cx="252.2" cy="151.8" r="4.7" fill="url(#ti)"/><circle cx="270.7" cy="157.9" r="4.7" fill="url(#ti)"/><circle cx="268.8" cy="155.8" r="4.7" fill="url(#ti)"/><circle cx="266.9" cy="153.7" r="4.7" fill="url(#ti)"/><circle cx="265" cy="151.6" r="4.7" fill="url(#ti)"/><circle cx="283.4" cy="157.6" r="4.7" fill="url(#ti)"/><circle cx="281.6" cy="155.5" r="4.7" fill="url(#ti)"/><circle cx="279.6" cy="153.4" r="4.7" fill="url(#ti)"/><circle cx="277.8" cy="151.3" r="4.7" fill="url(#ti)"/><circle cx="296.2" cy="157.3" r="4.7" fill="url(#ti)"/><circle cx="294.3" cy="155.2" r="4.7" fill="url(#ti)"/><circle cx="292.4" cy="153.1" r="4.7" fill="url(#ti)"/><circle cx="290.5" cy="151" r="4.7" fill="url(#ti)"/><circle cx="307.1" cy="155" r="4.7" fill="url(#ti)"/><circle cx="305.1" cy="152.9" r="4.7" fill="url(#ti)"/><circle cx="303.2" cy="150.8" r="4.7" fill="url(#ti)"/><circle cx="319.8" cy="154.7" r="4.7" fill="url(#ti)"/><circle cx="317.9" cy="152.6" r="4.7" fill="url(#ti)"/><circle cx="316" cy="150.5" r="4.7" fill="url(#ti)"/><circle cx="330.6" cy="152.3" r="4.7" fill="url(#ti)"/><circle cx="328.8" cy="150.2" r="4.7" fill="url(#ti)"/><circle cx="343.4" cy="152.1" r="4.7" fill="url(#ti)"/><circle cx="341.5" cy="150" r="4.7" fill="url(#ti)"/><circle cx="354.2" cy="149.7" r="4.7" fill="url(#ti)"/><circle cx="367" cy="149.4" r="4.7" fill="url(#ti)"/><circle cx="379.8" cy="149.2" r="4.7" fill="url(#ti)"/><circle cx="392.5" cy="148.9" r="4.7" fill="url(#ti)"/><circle cx="35.5" cy="176.8" r="4.7" fill="url(#ti)"/><circle cx="48.2" cy="176.5" r="4.7" fill="url(#ti)"/><circle cx="62.9" cy="178.3" r="4.7" fill="url(#ti)"/><circle cx="61" cy="176.2" r="4.7" fill="url(#ti)"/><circle cx="75.7" cy="178.1" r="4.7" fill="url(#ti)"/><circle cx="73.8" cy="176" r="4.7" fill="url(#ti)"/><circle cx="90.3" cy="179.9" r="4.7" fill="url(#ti)"/><circle cx="88.4" cy="177.8" r="4.7" fill="url(#ti)"/><circle cx="86.5" cy="175.7" r="4.7" fill="url(#ti)"/><circle cx="103" cy="179.6" r="4.7" fill="url(#ti)"/><circle cx="101.2" cy="177.5" r="4.7" fill="url(#ti)"/><circle cx="99.2" cy="175.4" r="4.7" fill="url(#ti)"/><circle cx="117.7" cy="181.5" r="4.7" fill="url(#ti)"/><circle cx="115.8" cy="179.4" r="4.7" fill="url(#ti)"/><circle cx="113.9" cy="177.3" r="4.7" fill="url(#ti)"/><circle cx="112" cy="175.2" r="4.7" fill="url(#ti)"/><circle cx="130.4" cy="181.2" r="4.7" fill="url(#ti)"/><circle cx="128.6" cy="179.1" r="4.7" fill="url(#ti)"/><circle cx="126.7" cy="177" r="4.7" fill="url(#ti)"/><circle cx="124.8" cy="174.9" r="4.7" fill="url(#ti)"/><circle cx="143.2" cy="180.9" r="4.7" fill="url(#ti)"/><circle cx="141.3" cy="178.8" r="4.7" fill="url(#ti)"/><circle cx="139.4" cy="176.7" r="4.7" fill="url(#ti)"/><circle cx="137.5" cy="174.6" r="4.7" fill="url(#ti)"/><circle cx="155.9" cy="180.7" r="4.7" fill="url(#ti)"/><circle cx="154.1" cy="178.6" r="4.7" fill="url(#ti)"/><circle cx="152.2" cy="176.5" r="4.7" fill="url(#ti)"/><circle cx="150.2" cy="174.4" r="4.7" fill="url(#ti)"/><circle cx="168.7" cy="180.4" r="4.7" fill="url(#ti)"/><circle cx="166.8" cy="178.3" r="4.7" fill="url(#ti)"/><circle cx="164.9" cy="176.2" r="4.7" fill="url(#ti)"/><circle cx="163" cy="174.1" r="4.7" fill="url(#ti)"/><circle cx="181.4" cy="180.1" r="4.7" fill="url(#ti)"/><circle cx="179.6" cy="178" r="4.7" fill="url(#ti)"/><circle cx="177.7" cy="175.9" r="4.7" fill="url(#ti)"/><circle cx="175.8" cy="173.8" r="4.7" fill="url(#ti)"/><circle cx="194.2" cy="179.9" r="4.7" fill="url(#ti)"/><circle cx="192.3" cy="177.8" r="4.7" fill="url(#ti)"/><circle cx="190.4" cy="175.7" r="4.7" fill="url(#ti)"/><circle cx="188.5" cy="173.6" r="4.7" fill="url(#ti)"/><circle cx="206.9" cy="179.6" r="4.7" fill="url(#ti)"/><circle cx="205.1" cy="177.5" r="4.7" fill="url(#ti)"/><circle cx="203.2" cy="175.4" r="4.7" fill="url(#ti)"/><circle cx="201.2" cy="173.3" r="4.7" fill="url(#ti)"/><circle cx="219.7" cy="179.3" r="4.7" fill="url(#ti)"/><circle cx="217.8" cy="177.2" r="4.7" fill="url(#ti)"/><circle cx="215.9" cy="175.1" r="4.7" fill="url(#ti)"/><circle cx="214" cy="173" r="4.7" fill="url(#ti)"/><circle cx="232.4" cy="179.1" r="4.7" fill="url(#ti)"/><circle cx="230.6" cy="177" r="4.7" fill="url(#ti)"/><circle cx="228.7" cy="174.9" r="4.7" fill="url(#ti)"/><circle cx="226.8" cy="172.8" r="4.7" fill="url(#ti)"/><circle cx="245.2" cy="178.8" r="4.7" fill="url(#ti)"/><circle cx="243.3" cy="176.7" r="4.7" fill="url(#ti)"/><circle cx="241.4" cy="174.6" r="4.7" fill="url(#ti)"/><circle cx="239.5" cy="172.5" r="4.7" fill="url(#ti)"/><circle cx="257.9" cy="178.5" r="4.7" fill="url(#ti)"/><circle cx="256.1" cy="176.4" r="4.7" fill="url(#ti)"/><circle cx="254.2" cy="174.3" r="4.7" fill="url(#ti)"/><circle cx="252.2" cy="172.2" r="4.7" fill="url(#ti)"/><circle cx="270.7" cy="178.3" r="4.7" fill="url(#ti)"/><circle cx="268.8" cy="176.2" r="4.7" fill="url(#ti)"/><circle cx="266.9" cy="174.1" r="4.7" fill="url(#ti)"/><circle cx="265" cy="172" r="4.7" fill="url(#ti)"/><circle cx="283.4" cy="178" r="4.7" fill="url(#ti)"/><circle cx="281.6" cy="175.9" r="4.7" fill="url(#ti)"/><circle cx="279.6" cy="173.8" r="4.7" fill="url(#ti)"/><circle cx="277.8" cy="171.7" r="4.7" fill="url(#ti)"/><circle cx="296.2" cy="177.7" r="4.7" fill="url(#ti)"/><circle cx="294.3" cy="175.6" r="4.7" fill="url(#ti)"/><circle cx="292.4" cy="173.5" r="4.7" fill="url(#ti)"/><circle cx="290.5" cy="171.4" r="4.7" fill="url(#ti)"/><circle cx="307.1" cy="175.4" r="4.7" fill="url(#ti)"/><circle cx="305.1" cy="173.3" r="4.7" fill="url(#ti)"/><circle cx="303.2" cy="171.2" r="4.7" fill="url(#ti)"/><circle cx="319.8" cy="175.1" r="4.7" fill="url(#ti)"/><circle cx="317.9" cy="173" r="4.7" fill="url(#ti)"/><circle cx="316" cy="170.9" r="4.7" fill="url(#ti)"/><circle cx="330.6" cy="172.7" r="4.7" fill="url(#ti)"/><circle cx="328.8" cy="170.6" r="4.7" fill="url(#ti)"/><circle cx="343.4" cy="172.5" r="4.7" fill="url(#ti)"/><circle cx="341.5" cy="170.4" r="4.7" fill="url(#ti)"/><circle cx="354.2" cy="170.1" r="4.7" fill="url(#ti)"/><circle cx="367" cy="169.8" r="4.7" fill="url(#ti)"/>
<path d="M35.5 146.2h0.01M48.2 145.9h0.01M62.9 147.7h0.01M61 145.6h0.01M75.7 147.5h0.01M73.8 145.4h0.01M90.3 149.3h0.01M88.4 147.2h0.01M86.5 145.1h0.01M103 149h0.01M101.2 146.9h0.01M99.2 144.8h0.01M117.7 150.9h0.01M115.8 148.8h0.01M113.9 146.7h0.01M112 144.6h0.01M130.4 150.6h0.01M128.6 148.5h0.01M126.7 146.4h0.01M124.8 144.3h0.01M143.2 150.3h0.01M141.3 148.2h0.01M139.4 146.1h0.01M137.5 144h0.01M155.9 150.1h0.01M154.1 148h0.01M152.2 145.9h0.01M150.2 143.8h0.01M168.7 149.8h0.01M166.8 147.7h0.01M164.9 145.6h0.01M163 143.5h0.01M181.4 149.5h0.01M179.6 147.4h0.01M177.7 145.3h0.01M175.8 143.2h0.01M194.2 149.3h0.01M192.3 147.2h0.01M190.4 145.1h0.01M188.5 143h0.01M206.9 149h0.01M205.1 146.9h0.01M203.2 144.8h0.01M201.2 142.7h0.01M219.7 148.7h0.01M217.8 146.6h0.01M215.9 144.5h0.01M214 142.4h0.01M232.4 148.5h0.01M230.6 146.4h0.01M228.7 144.3h0.01M226.8 142.2h0.01M245.2 148.2h0.01M243.3 146.1h0.01M241.4 144h0.01M239.5 141.9h0.01M257.9 147.9h0.01M256.1 145.8h0.01M254.2 143.7h0.01M252.2 141.6h0.01M270.7 147.7h0.01M268.8 145.6h0.01M266.9 143.5h0.01M265 141.4h0.01M283.4 147.4h0.01M281.6 145.3h0.01M279.6 143.2h0.01M277.8 141.1h0.01M296.2 147.1h0.01M294.3 145h0.01M292.4 142.9h0.01M290.5 140.8h0.01M307.1 144.8h0.01M305.1 142.7h0.01M303.2 140.6h0.01M319.8 144.5h0.01M317.9 142.4h0.01M316 140.3h0.01M330.6 142.1h0.01M328.8 140h0.01M343.4 141.9h0.01M341.5 139.8h0.01M354.2 139.5h0.01M367 139.2h0.01M22.8 166.8h0.01M35.5 166.6h0.01M48.2 166.3h0.01M62.9 168.1h0.01M61 166h0.01M75.7 167.9h0.01M73.8 165.8h0.01M90.3 169.7h0.01M88.4 167.6h0.01M86.5 165.5h0.01M103 169.4h0.01M101.2 167.3h0.01M99.2 165.2h0.01M117.7 171.3h0.01M115.8 169.2h0.01M113.9 167.1h0.01M112 165h0.01M130.4 171h0.01M128.6 168.9h0.01M126.7 166.8h0.01M124.8 164.7h0.01M143.2 170.7h0.01M141.3 168.6h0.01M139.4 166.5h0.01M137.5 164.4h0.01M155.9 170.5h0.01M154.1 168.4h0.01M152.2 166.3h0.01M150.2 164.2h0.01M168.7 170.2h0.01M166.8 168.1h0.01M164.9 166h0.01M163 163.9h0.01M181.4 169.9h0.01M179.6 167.8h0.01M177.7 165.7h0.01M175.8 163.6h0.01M194.2 169.7h0.01M192.3 167.6h0.01M190.4 165.5h0.01M188.5 163.4h0.01M206.9 169.4h0.01M205.1 167.3h0.01M203.2 165.2h0.01M201.2 163.1h0.01M219.7 169.1h0.01M217.8 167h0.01M215.9 164.9h0.01M214 162.8h0.01M232.4 168.9h0.01M230.6 166.8h0.01M228.7 164.7h0.01M226.8 162.6h0.01M245.2 168.6h0.01M243.3 166.5h0.01M241.4 164.4h0.01M239.5 162.3h0.01M257.9 168.3h0.01M256.1 166.2h0.01M254.2 164.1h0.01M252.2 162h0.01M270.7 168.1h0.01M268.8 166h0.01M266.9 163.9h0.01M265 161.8h0.01M283.4 167.8h0.01M281.6 165.7h0.01M279.6 163.6h0.01M277.8 161.5h0.01M296.2 167.5h0.01M294.3 165.4h0.01M292.4 163.3h0.01M290.5 161.2h0.01M307.1 165.2h0.01M305.1 163.1h0.01M303.2 161h0.01M319.8 164.9h0.01M317.9 162.8h0.01M316 160.7h0.01M330.6 162.5h0.01M328.8 160.4h0.01M343.4 162.3h0.01M341.5 160.2h0.01M354.2 159.9h0.01M367 159.6h0.01M379.8 159.4h0.01" stroke="#111" stroke-width="5" stroke-linecap="round"/>
<path d="M10 126h0.01M22.8 125.7h0.01M35.5 125.5h0.01M48.2 125.2h0.01M62.9 127h0.01M61 124.9h0.01M75.7 126.8h0.01M73.8 124.7h0.01M90.3 128.6h0.01M88.4 126.5h0.01M86.5 124.4h0.01M103 128.3h0.01M101.2 126.2h0.01M99.2 124.1h0.01M117.7 130.2h0.01M115.8 128.1h0.01M113.9 126h0.01M112 123.9h0.01M130.4 129.9h0.01M128.6 127.8h0.01M126.7 125.7h0.01M124.8 123.6h0.01M143.2 129.6h0.01M141.3 127.5h0.01M139.4 125.4h0.01M137.5 123.3h0.01M155.9 129.4h0.01M154.1 127.3h0.01M152.2 125.2h0.01M150.2 123.1h0.01M168.7 129.1h0.01M166.8 127h0.01M164.9 124.9h0.01M163 122.8h0.01M181.4 128.8h0.01M179.6 126.7h0.01M177.7 124.6h0.01M175.8 122.5h0.01M194.2 128.6h0.01M192.3 126.5h0.01M190.4 124.4h0.01M188.5 122.3h0.01M206.9 128.3h0.01M205.1 126.2h0.01M203.2 124.1h0.01M201.2 122h0.01M219.7 128h0.01M217.8 125.9h0.01M215.9 123.8h0.01M214 121.7h0.01M232.4 127.8h0.01M230.6 125.7h0.01M228.7 123.6h0.01M226.8 121.5h0.01M245.2 127.5h0.01M243.3 125.4h0.01M241.4 123.3h0.01M239.5 121.2h0.01M257.9 127.2h0.01M256.1 125.1h0.01M254.2 123h0.01M252.2 120.9h0.01M270.7 127h0.01M268.8 124.9h0.01M266.9 122.8h0.01M265 120.7h0.01M283.4 126.7h0.01M281.6 124.6h0.01M279.6 122.5h0.01M277.8 120.4h0.01M296.2 126.4h0.01M294.3 124.3h0.01M292.4 122.2h0.01M290.5 120.1h0.01M307.1 124.1h0.01M305.1 122h0.01M303.2 119.9h0.01M319.8 123.8h0.01M317.9 121.7h0.01M316 119.6h0.01M330.6 121.4h0.01M328.8 119.3h0.01M343.4 121.2h0.01M341.5 119.1h0.01M354.2 118.8h0.01M367 118.5h0.01M379.8 118.3h0.01M392.5 118h0.01M10 187.5h0.01M22.8 187.2h0.01M35.5 187h0.01M48.2 186.7h0.01M62.9 188.5h0.01M61 186.4h0.01M75.7 188.3h0.01M73.8 186.2h0.01M90.3 190.1h0.01M88.4 188h0.01M86.5 185.9h0.01M103 189.8h0.01M101.2 187.7h0.01M99.2 185.6h0.01M117.7 191.7h0.01M115.8 189.6h0.01M113.9 187.5h0.01M112 185.4h0.01M130.4 191.4h0.01M128.6 189.3h0.01M126.7 187.2h0.01M124.8 185.1h0.01M143.2 191.1h0.01M141.3 189h0.01M139.4 186.9h0.01M137.5 184.8h0.01M155.9 190.9h0.01M154.1 188.8h0.01M152.2 186.7h0.01M150.2 184.6h0.01M168.7 190.6h0.01M166.8 188.5h0.01M164.9 186.4h0.01M163 184.3h0.01M181.4 190.3h0.01M179.6 188.2h0.01M177.7 186.1h0.01M175.8 184h0.01M194.2 190.1h0.01M192.3 188h0.01M190.4 185.9h0.01M188.5 183.8h0.01M206.9 189.8h0.01M205.1 187.7h0.01M203.2 185.6h0.01M201.2 183.5h0.01M219.7 189.5h0.01M217.8 187.4h0.01M215.9 185.3h0.01M214 183.2h0.01M232.4 189.3h0.01M230.6 187.2h0.01M228.7 185.1h0.01M226.8 183h0.01M245.2 189h0.01M243.3 186.9h0.01M241.4 184.8h0.01M239.5 182.7h0.01M257.9 188.7h0.01M256.1 186.6h0.01M254.2 184.5h0.01M252.2 182.4h0.01M270.7 188.5h0.01M268.8 186.4h0.01M266.9 184.3h0.01M265 182.2h0.01M283.4 188.2h0.01M281.6 186.1h0.01M279.6 184h0.01M277.8 181.9h0.01M296.2 187.9h0.01M294.3 185.8h0.01M292.4 183.7h0.01M290.5 181.6h0.01M307.1 185.6h0.01M305.1 183.5h0.01M303.2 181.4h0.01M319.8 185.3h0.01M317.9 183.2h0.01M316 181.1h0.01M330.6 182.9h0.01M328.8 180.8h0.01M343.4 182.7h0.01M341.5 180.6h0.01M354.2 180.3h0.01M367 180h0.01M379.8 179.8h0.01" stroke="#4cbb38" stroke-width="3.6" stroke-linecap="round"/>
<circle cx="35.5" cy="220.5" r="4.7" fill="url(#ti)"/><circle cx="48.2" cy="220.2" r="4.7" fill="url(#ti)"/><circle cx="62.9" cy="222" r="4.7" fill="url(#ti)"/><circle cx="61" cy="219.9" r="4.7" fill="url(#ti)"/><circle cx="75.7" cy="221.8" r="4.7" fill="url(#ti)"/><circle cx="73.8" cy="219.7" r="4.7" fill="url(#ti)"/><circle cx="90.3" cy="223.6" r="4.7" fill="url(#ti)"/><circle cx="88.4" cy="221.5" r="4.7" fill="url(#ti)"/><circle cx="86.5" cy="219.4" r="4.7" fill="url(#ti)"/><circle cx="103" cy="223.3" r="4.7" fill="url(#ti)"/><circle cx="101.2" cy="221.2" r="4.7" fill="url(#ti)"/><circle cx="99.2" cy="219.1" r="4.7" fill="url(#ti)"/><circle cx="117.7" cy="225.2" r="4.7" fill="url(#ti)"/><circle cx="115.8" cy="223.1" r="4.7" fill="url(#ti)"/><circle cx="113.9" cy="221" r="4.7" fill="url(#ti)"/><circle cx="112" cy="218.9" r="4.7" fill="url(#ti)"/><circle cx="130.4" cy="224.9" r="4.7" fill="url(#ti)"/><circle cx="128.6" cy="222.8" r="4.7" fill="url(#ti)"/><circle cx="126.7" cy="220.7" r="4.7" fill="url(#ti)"/><circle cx="124.8" cy="218.6" r="4.7" fill="url(#ti)"/><circle cx="143.2" cy="224.6" r="4.7" fill="url(#ti)"/><circle cx="141.3" cy="222.5" r="4.7" fill="url(#ti)"/><circle cx="139.4" cy="220.4" r="4.7" fill="url(#ti)"/><circle cx="137.5" cy="218.3" r="4.7" fill="url(#ti)"/><circle cx="155.9" cy="224.4" r="4.7" fill="url(#ti)"/><circle cx="154.1" cy="222.3" r="4.7" fill="url(#ti)"/><circle cx="152.2" cy="220.2" r="4.7" fill="url(#ti)"/><circle cx="150.2" cy="218.1" r="4.7" fill="url(#ti)"/><circle cx="168.7" cy="224.1" r="4.7" fill="url(#ti)"/><circle cx="166.8" cy="222" r="4.7" fill="url(#ti)"/><circle cx="164.9" cy="219.9" r="4.7" fill="url(#ti)"/><circle cx="163" cy="217.8" r="4.7" fill="url(#ti)"/><circle cx="181.4" cy="223.8" r="4.7" fill="url(#ti)"/><circle cx="179.6" cy="221.7" r="4.7" fill="url(#ti)"/><circle cx="177.7" cy="219.6" r="4.7" fill="url(#ti)"/><circle cx="175.8" cy="217.5" r="4.7" fill="url(#ti)"/><circle cx="194.2" cy="223.6" r="4.7" fill="url(#ti)"/><circle cx="192.3" cy="221.5" r="4.7" fill="url(#ti)"/><circle cx="190.4" cy="219.4" r="4.7" fill="url(#ti)"/><circle cx="188.5" cy="217.3" r="4.7" fill="url(#ti)"/><circle cx="206.9" cy="223.3" r="4.7" fill="url(#ti)"/><circle cx="205.1" cy="221.2" r="4.7" fill="url(#ti)"/><circle cx="203.2" cy="219.1" r="4.7" fill="url(#ti)"/><circle cx="201.2" cy="217" r="4.7" fill="url(#ti)"/><circle cx="219.7" cy="223" r="4.7" fill="url(#ti)"/><circle cx="217.8" cy="220.9" r="4.7" fill="url(#ti)"/><circle cx="215.9" cy="218.8" r="4.7" fill="url(#ti)"/><circle cx="214" cy="216.7" r="4.7" fill="url(#ti)"/><circle cx="232.4" cy="222.8" r="4.7" fill="url(#ti)"/><circle cx="230.6" cy="220.7" r="4.7" fill="url(#ti)"/><circle cx="228.7" cy="218.6" r="4.7" fill="url(#ti)"/><circle cx="226.8" cy="216.5" r="4.7" fill="url(#ti)"/><circle cx="245.2" cy="222.5" r="4.7" fill="url(#ti)"/><circle cx="243.3" cy="220.4" r="4.7" fill="url(#ti)"/><circle cx="241.4" cy="218.3" r="4.7" fill="url(#ti)"/><circle cx="239.5" cy="216.2" r="4.7" fill="url(#ti)"/><circle cx="257.9" cy="222.2" r="4.7" fill="url(#ti)"/><circle cx="256.1" cy="220.1" r="4.7" fill="url(#ti)"/><circle cx="254.2" cy="218" r="4.7" fill="url(#ti)"/><circle cx="252.2" cy="215.9" r="4.7" fill="url(#ti)"/><circle cx="270.7" cy="222" r="4.7" fill="url(#ti)"/><circle cx="268.8" cy="219.9" r="4.7" fill="url(#ti)"/><circle cx="266.9" cy="217.8" r="4.7" fill="url(#ti)"/><circle cx="265" cy="215.7" r="4.7" fill="url(#ti)"/><circle cx="283.4" cy="221.7" r="4.7" fill="url(#ti)"/><circle cx="281.6" cy="219.6" r="4.7" fill="url(#ti)"/><circle cx="279.6" cy="217.5" r="4.7" fill="url(#ti)"/><circle cx="277.8" cy="215.4" r="4.7" fill="url(#ti)"/><circle cx="296.2" cy="221.4" r="4.7" fill="url(#ti)"/><circle cx="294.3" cy="219.3" r="4.7" fill="url(#ti)"/><circle cx="292.4" cy="217.2" r="4.7" fill="url(#ti)"/><circle cx="290.5" cy="215.1" r="4.7" fill="url(#ti)"/><circle cx="307.1" cy="219.1" r="4.7" fill="url(#ti)"/><circle cx="305.1" cy="217" r="4.7" fill="url(#ti)"/><circle cx="303.2" cy="214.9" r="4.7" fill="url(#ti)"/><circle cx="319.8" cy="218.8" r="4.7" fill="url(#ti)"/><circle cx="317.9" cy="216.7" r="4.7" fill="url(#ti)"/><circle cx="316" cy="214.6" r="4.7" fill="url(#ti)"/><circle cx="330.6" cy="216.4" r="4.7" fill="url(#ti)"/><circle cx="328.8" cy="214.3" r="4.7" fill="url(#ti)"/><circle cx="343.4" cy="216.2" r="4.7" fill="url(#ti)"/><circle cx="341.5" cy="214.1" r="4.7" fill="url(#ti)"/><circle cx="354.2" cy="213.8" r="4.7" fill="url(#ti)"/><circle cx="367" cy="213.5" r="4.7" fill="url(#ti)"/><circle cx="379.8" cy="213.3" r="4.7" fill="url(#ti)"/><circle cx="10" cy="241.4" r="4.7" fill="url(#ti)"/><circle cx="22.8" cy="241.1" r="4.7" fill="url(#ti)"/><circle cx="35.5" cy="240.9" r="4.7" fill="url(#ti)"/><circle cx="48.2" cy="240.6" r="4.7" fill="url(#ti)"/><circle cx="62.9" cy="242.4" r="4.7" fill="url(#ti)"/><circle cx="61" cy="240.3" r="4.7" fill="url(#ti)"/><circle cx="75.7" cy="242.2" r="4.7" fill="url(#ti)"/><circle cx="73.8" cy="240.1" r="4.7" fill="url(#ti)"/><circle cx="90.3" cy="244" r="4.7" fill="url(#ti)"/><circle cx="88.4" cy="241.9" r="4.7" fill="url(#ti)"/><circle cx="86.5" cy="239.8" r="4.7" fill="url(#ti)"/><circle cx="103" cy="243.7" r="4.7" fill="url(#ti)"/><circle cx="101.2" cy="241.6" r="4.7" fill="url(#ti)"/><circle cx="99.2" cy="239.5" r="4.7" fill="url(#ti)"/><circle cx="117.7" cy="245.6" r="4.7" fill="url(#ti)"/><circle cx="115.8" cy="243.5" r="4.7" fill="url(#ti)"/><circle cx="113.9" cy="241.4" r="4.7" fill="url(#ti)"/><circle cx="112" cy="239.3" r="4.7" fill="url(#ti)"/><circle cx="130.4" cy="245.3" r="4.7" fill="url(#ti)"/><circle cx="128.6" cy="243.2" r="4.7" fill="url(#ti)"/><circle cx="126.7" cy="241.1" r="4.7" fill="url(#ti)"/><circle cx="124.8" cy="239" r="4.7" fill="url(#ti)"/><circle cx="143.2" cy="245" r="4.7" fill="url(#ti)"/><circle cx="141.3" cy="242.9" r="4.7" fill="url(#ti)"/><circle cx="139.4" cy="240.8" r="4.7" fill="url(#ti)"/><circle cx="137.5" cy="238.7" r="4.7" fill="url(#ti)"/><circle cx="155.9" cy="244.8" r="4.7" fill="url(#ti)"/><circle cx="154.1" cy="242.7" r="4.7" fill="url(#ti)"/><circle cx="152.2" cy="240.6" r="4.7" fill="url(#ti)"/><circle cx="150.2" cy="238.5" r="4.7" fill="url(#ti)"/><circle cx="168.7" cy="244.5" r="4.7" fill="url(#ti)"/><circle cx="166.8" cy="242.4" r="4.7" fill="url(#ti)"/><circle cx="164.9" cy="240.3" r="4.7" fill="url(#ti)"/><circle cx="163" cy="238.2" r="4.7" fill="url(#ti)"/><circle cx="181.4" cy="244.2" r="4.7" fill="url(#ti)"/><circle cx="179.6" cy="242.1" r="4.7" fill="url(#ti)"/><circle cx="177.7" cy="240" r="4.7" fill="url(#ti)"/><circle cx="175.8" cy="237.9" r="4.7" fill="url(#ti)"/><circle cx="194.2" cy="244" r="4.7" fill="url(#ti)"/><circle cx="192.3" cy="241.9" r="4.7" fill="url(#ti)"/><circle cx="190.4" cy="239.8" r="4.7" fill="url(#ti)"/><circle cx="188.5" cy="237.7" r="4.7" fill="url(#ti)"/><circle cx="206.9" cy="243.7" r="4.7" fill="url(#ti)"/><circle cx="205.1" cy="241.6" r="4.7" fill="url(#ti)"/><circle cx="203.2" cy="239.5" r="4.7" fill="url(#ti)"/><circle cx="201.2" cy="237.4" r="4.7" fill="url(#ti)"/><circle cx="219.7" cy="243.4" r="4.7" fill="url(#ti)"/><circle cx="217.8" cy="241.3" r="4.7" fill="url(#ti)"/><circle cx="215.9" cy="239.2" r="4.7" fill="url(#ti)"/><circle cx="214" cy="237.1" r="4.7" fill="url(#ti)"/><circle cx="232.4" cy="243.2" r="4.7" fill="url(#ti)"/><circle cx="230.6" cy="241.1" r="4.7" fill="url(#ti)"/><circle cx="228.7" cy="239" r="4.7" fill="url(#ti)"/><circle cx="226.8" cy="236.9" r="4.7" fill="url(#ti)"/><circle cx="245.2" cy="242.9" r="4.7" fill="url(#ti)"/><circle cx="243.3" cy="240.8" r="4.7" fill="url(#ti)"/><circle cx="241.4" cy="238.7" r="4.7" fill="url(#ti)"/><circle cx="239.5" cy="236.6" r="4.7" fill="url(#ti)"/><circle cx="257.9" cy="242.6" r="4.7" fill="url(#ti)"/><circle cx="256.1" cy="240.5" r="4.7" fill="url(#ti)"/><circle cx="254.2" cy="238.4" r="4.7" fill="url(#ti)"/><circle cx="252.2" cy="236.3" r="4.7" fill="url(#ti)"/><circle cx="270.7" cy="242.4" r="4.7" fill="url(#ti)"/><circle cx="268.8" cy="240.3" r="4.7" fill="url(#ti)"/><circle cx="266.9" cy="238.2" r="4.7" fill="url(#ti)"/><circle cx="265" cy="236.1" r="4.7" fill="url(#ti)"/><circle cx="283.4" cy="242.1" r="4.7" fill="url(#ti)"/><circle cx="281.6" cy="240" r="4.7" fill="url(#ti)"/><circle cx="279.6" cy="237.9" r="4.7" fill="url(#ti)"/><circle cx="277.8" cy="235.8" r="4.7" fill="url(#ti)"/><circle cx="296.2" cy="241.8" r="4.7" fill="url(#ti)"/><circle cx="294.3" cy="239.7" r="4.7" fill="url(#ti)"/><circle cx="292.4" cy="237.6" r="4.7" fill="url(#ti)"/><circle cx="290.5" cy="235.5" r="4.7" fill="url(#ti)"/><circle cx="307.1" cy="239.5" r="4.7" fill="url(#ti)"/><circle cx="305.1" cy="237.4" r="4.7" fill="url(#ti)"/><circle cx="303.2" cy="235.3" r="4.7" fill="url(#ti)"/><circle cx="319.8" cy="239.2" r="4.7" fill="url(#ti)"/><circle cx="317.9" cy="237.1" r="4.7" fill="url(#ti)"/><circle cx="316" cy="235" r="4.7" fill="url(#ti)"/><circle cx="330.6" cy="236.8" r="4.7" fill="url(#ti)"/><circle cx="328.8" cy="234.7" r="4.7" fill="url(#ti)"/><circle cx="343.4" cy="236.6" r="4.7" fill="url(#ti)"/><circle cx="341.5" cy="234.5" r="4.7" fill="url(#ti)"/><circle cx="354.2" cy="234.2" r="4.7" fill="url(#ti)"/><circle cx="367" cy="233.9" r="4.7" fill="url(#ti)"/><circle cx="379.8" cy="233.7" r="4.7" fill="url(#ti)"/><circle cx="392.5" cy="233.4" r="4.7" fill="url(#ti)"/><circle cx="22.8" cy="261.5" r="4.7" fill="url(#ti)"/><circle cx="35.5" cy="261.3" r="4.7" fill="url(#ti)"/><circle cx="48.2" cy="261" r="4.7" fill="url(#ti)"/><circle cx="62.9" cy="262.8" r="4.7" fill="url(#ti)"/><circle cx="61" cy="260.7" r="4.7" fill="url(#ti)"/><circle cx="75.7" cy="262.6" r="4.7" fill="url(#ti)"/><circle cx="73.8" cy="260.5" r="4.7" fill="url(#ti)"/><circle cx="90.3" cy="264.4" r="4.7" fill="url(#ti)"/><circle cx="88.4" cy="262.3" r="4.7" fill="url(#ti)"/><circle cx="86.5" cy="260.2" r="4.7" fill="url(#ti)"/><circle cx="103" cy="264.1" r="4.7" fill="url(#ti)"/><circle cx="101.2" cy="262" r="4.7" fill="url(#ti)"/><circle cx="99.2" cy="259.9" r="4.7" fill="url(#ti)"/><circle cx="117.7" cy="266" r="4.7" fill="url(#ti)"/><circle cx="115.8" cy="263.9" r="4.7" fill="url(#ti)"/><circle cx="113.9" cy="261.8" r="4.7" fill="url(#ti)"/><circle cx="112" cy="259.7" r="4.7" fill="url(#ti)"/><circle cx="130.4" cy="265.7" r="4.7" fill="url(#ti)"/><circle cx="128.6" cy="263.6" r="4.7" fill="url(#ti)"/><circle cx="126.7" cy="261.5" r="4.7" fill="url(#ti)"/><circle cx="124.8" cy="259.4" r="4.7" fill="url(#ti)"/><circle cx="143.2" cy="265.4" r="4.7" fill="url(#ti)"/><circle cx="141.3" cy="263.3" r="4.7" fill="url(#ti)"/><circle cx="139.4" cy="261.2" r="4.7" fill="url(#ti)"/><circle cx="137.5" cy="259.1" r="4.7" fill="url(#ti)"/><circle cx="155.9" cy="265.2" r="4.7" fill="url(#ti)"/><circle cx="154.1" cy="263.1" r="4.7" fill="url(#ti)"/><circle cx="152.2" cy="261" r="4.7" fill="url(#ti)"/><circle cx="150.2" cy="258.9" r="4.7" fill="url(#ti)"/><circle cx="168.7" cy="264.9" r="4.7" fill="url(#ti)"/><circle cx="166.8" cy="262.8" r="4.7" fill="url(#ti)"/><circle cx="164.9" cy="260.7" r="4.7" fill="url(#ti)"/><circle cx="163" cy="258.6" r="4.7" fill="url(#ti)"/><circle cx="181.4" cy="264.6" r="4.7" fill="url(#ti)"/><circle cx="179.6" cy="262.5" r="4.7" fill="url(#ti)"/><circle cx="177.7" cy="260.4" r="4.7" fill="url(#ti)"/><circle cx="175.8" cy="258.3" r="4.7" fill="url(#ti)"/><circle cx="194.2" cy="264.4" r="4.7" fill="url(#ti)"/><circle cx="192.3" cy="262.3" r="4.7" fill="url(#ti)"/><circle cx="190.4" cy="260.2" r="4.7" fill="url(#ti)"/><circle cx="188.5" cy="258.1" r="4.7" fill="url(#ti)"/><circle cx="206.9" cy="264.1" r="4.7" fill="url(#ti)"/><circle cx="205.1" cy="262" r="4.7" fill="url(#ti)"/><circle cx="203.2" cy="259.9" r="4.7" fill="url(#ti)"/><circle cx="201.2" cy="257.8" r="4.7" fill="url(#ti)"/><circle cx="219.7" cy="263.8" r="4.7" fill="url(#ti)"/><circle cx="217.8" cy="261.7" r="4.7" fill="url(#ti)"/><circle cx="215.9" cy="259.6" r="4.7" fill="url(#ti)"/><circle cx="214" cy="257.5" r="4.7" fill="url(#ti)"/><circle cx="232.4" cy="263.6" r="4.7" fill="url(#ti)"/><circle cx="230.6" cy="261.5" r="4.7" fill="url(#ti)"/><circle cx="228.7" cy="259.4" r="4.7" fill="url(#ti)"/><circle cx="226.8" cy="257.3" r="4.7" fill="url(#ti)"/><circle cx="245.2" cy="263.3" r="4.7" fill="url(#ti)"/><circle cx="243.3" cy="261.2" r="4.7" fill="url(#ti)"/><circle cx="241.4" cy="259.1" r="4.7" fill="url(#ti)"/><circle cx="239.5" cy="257" r="4.7" fill="url(#ti)"/><circle cx="257.9" cy="263" r="4.7" fill="url(#ti)"/><circle cx="256.1" cy="260.9" r="4.7" fill="url(#ti)"/><circle cx="254.2" cy="258.8" r="4.7" fill="url(#ti)"/><circle cx="252.2" cy="256.7" r="4.7" fill="url(#ti)"/><circle cx="270.7" cy="262.8" r="4.7" fill="url(#ti)"/><circle cx="268.8" cy="260.7" r="4.7" fill="url(#ti)"/><circle cx="266.9" cy="258.6" r="4.7" fill="url(#ti)"/><circle cx="265" cy="256.5" r="4.7" fill="url(#ti)"/><circle cx="283.4" cy="262.5" r="4.7" fill="url(#ti)"/><circle cx="281.6" cy="260.4" r="4.7" fill="url(#ti)"/><circle cx="279.6" cy="258.3" r="4.7" fill="url(#ti)"/><circle cx="277.8" cy="256.2" r="4.7" fill="url(#ti)"/><circle cx="296.2" cy="262.2" r="4.7" fill="url(#ti)"/><circle cx="294.3" cy="260.1" r="4.7" fill="url(#ti)"/><circle cx="292.4" cy="258" r="4.7" fill="url(#ti)"/><circle cx="290.5" cy="255.9" r="4.7" fill="url(#ti)"/><circle cx="307.1" cy="259.9" r="4.7" fill="url(#ti)"/><circle cx="305.1" cy="257.8" r="4.7" fill="url(#ti)"/><circle cx="303.2" cy="255.7" r="4.7" fill="url(#ti)"/><circle cx="319.8" cy="259.6" r="4.7" fill="url(#ti)"/><circle cx="317.9" cy="257.5" r="4.7" fill="url(#ti)"/><circle cx="316" cy="255.4" r="4.7" fill="url(#ti)"/><circle cx="330.6" cy="257.2" r="4.7" fill="url(#ti)"/><circle cx="328.8" cy="255.1" r="4.7" fill="url(#ti)"/><circle cx="343.4" cy="257" r="4.7" fill="url(#ti)"/><circle cx="341.5" cy="254.9" r="4.7" fill="url(#ti)"/><circle cx="354.2" cy="254.6" r="4.7" fill="url(#ti)"/><circle cx="367" cy="254.3" r="4.7" fill="url(#ti)"/>
<path d="M22.8 230.9h0.01M35.5 230.7h0.01M48.2 230.4h0.01M62.9 232.2h0.01M61 230.1h0.01M75.7 232h0.01M73.8 229.9h0.01M90.3 233.8h0.01M88.4 231.7h0.01M86.5 229.6h0.01M103 233.5h0.01M101.2 231.4h0.01M99.2 229.3h0.01M117.7 235.4h0.01M115.8 233.3h0.01M113.9 231.2h0.01M112 229.1h0.01M130.4 235.1h0.01M128.6 233h0.01M126.7 230.9h0.01M124.8 228.8h0.01M143.2 234.8h0.01M141.3 232.7h0.01M139.4 230.6h0.01M137.5 228.5h0.01M155.9 234.6h0.01M154.1 232.5h0.01M152.2 230.4h0.01M150.2 228.3h0.01M168.7 234.3h0.01M166.8 232.2h0.01M164.9 230.1h0.01M163 228h0.01M181.4 234h0.01M179.6 231.9h0.01M177.7 229.8h0.01M175.8 227.7h0.01M194.2 233.8h0.01M192.3 231.7h0.01M190.4 229.6h0.01M188.5 227.5h0.01M206.9 233.5h0.01M205.1 231.4h0.01M203.2 229.3h0.01M201.2 227.2h0.01M219.7 233.2h0.01M217.8 231.1h0.01M215.9 229h0.01M214 226.9h0.01M232.4 233h0.01M230.6 230.9h0.01M228.7 228.8h0.01M226.8 226.7h0.01M245.2 232.7h0.01M243.3 230.6h0.01M241.4 228.5h0.01M239.5 226.4h0.01M257.9 232.4h0.01M256.1 230.3h0.01M254.2 228.2h0.01M252.2 226.1h0.01M270.7 232.2h0.01M268.8 230.1h0.01M266.9 228h0.01M265 225.9h0.01M283.4 231.9h0.01M281.6 229.8h0.01M279.6 227.7h0.01M277.8 225.6h0.01M296.2 231.6h0.01M294.3 229.5h0.01M292.4 227.4h0.01M290.5 225.3h0.01M307.1 229.3h0.01M305.1 227.2h0.01M303.2 225.1h0.01M319.8 229h0.01M317.9 226.9h0.01M316 224.8h0.01M330.6 226.6h0.01M328.8 224.5h0.01M343.4 226.4h0.01M341.5 224.3h0.01M354.2 224h0.01M367 223.7h0.01M35.5 251.1h0.01M48.2 250.8h0.01M62.9 252.6h0.01M61 250.5h0.01M75.7 252.4h0.01M73.8 250.3h0.01M90.3 254.2h0.01M88.4 252.1h0.01M86.5 250h0.01M103 253.9h0.01M101.2 251.8h0.01M99.2 249.7h0.01M117.7 255.8h0.01M115.8 253.7h0.01M113.9 251.6h0.01M112 249.5h0.01M130.4 255.5h0.01M128.6 253.4h0.01M126.7 251.3h0.01M124.8 249.2h0.01M143.2 255.2h0.01M141.3 253.1h0.01M139.4 251h0.01M137.5 248.9h0.01M155.9 255h0.01M154.1 252.9h0.01M152.2 250.8h0.01M150.2 248.7h0.01M168.7 254.7h0.01M166.8 252.6h0.01M164.9 250.5h0.01M163 248.4h0.01M181.4 254.4h0.01M179.6 252.3h0.01M177.7 250.2h0.01M175.8 248.1h0.01M194.2 254.2h0.01M192.3 252.1h0.01M190.4 250h0.01M188.5 247.9h0.01M206.9 253.9h0.01M205.1 251.8h0.01M203.2 249.7h0.01M201.2 247.6h0.01M219.7 253.6h0.01M217.8 251.5h0.01M215.9 249.4h0.01M214 247.3h0.01M232.4 253.4h0.01M230.6 251.3h0.01M228.7 249.2h0.01M226.8 247.1h0.01M245.2 253.1h0.01M243.3 251h0.01M241.4 248.9h0.01M239.5 246.8h0.01M257.9 252.8h0.01M256.1 250.7h0.01M254.2 248.6h0.01M252.2 246.5h0.01M270.7 252.6h0.01M268.8 250.5h0.01M266.9 248.4h0.01M265 246.3h0.01M283.4 252.3h0.01M281.6 250.2h0.01M279.6 248.1h0.01M277.8 246h0.01M296.2 252h0.01M294.3 249.9h0.01M292.4 247.8h0.01M290.5 245.7h0.01M307.1 249.7h0.01M305.1 247.6h0.01M303.2 245.5h0.01M319.8 249.4h0.01M317.9 247.3h0.01M316 245.2h0.01M330.6 247h0.01M328.8 244.9h0.01M343.4 246.8h0.01M341.5 244.7h0.01M354.2 244.4h0.01M367 244.1h0.01M379.8 243.9h0.01" stroke="#111" stroke-width="5" stroke-linecap="round"/>
<path d="M10 210.5h0.01M22.8 210.2h0.01M35.5 210h0.01M48.2 209.7h0.01M62.9 211.5h0.01M61 209.4h0.01M75.7 211.3h0.01M73.8 209.2h0.01M90.3 213.1h0.01M88.4 211h0.01M86.5 208.9h0.01M103 212.8h0.01M101.2 210.7h0.01M99.2 208.6h0.01M117.7 214.7h0.01M115.8 212.6h0.01M113.9 210.5h0.01M112 208.4h0.01M130.4 214.4h0.01M128.6 212.3h0.01M126.7 210.2h0.01M124.8 208.1h0.01M143.2 214.1h0.01M141.3 212h0.01M139.4 209.9h0.01M137.5 207.8h0.01M155.9 213.9h0.01M154.1 211.8h0.01M152.2 209.7h0.01M150.2 207.6h0.01M168.7 213.6h0.01M166.8 211.5h0.01M164.9 209.4h0.01M163 207.3h0.01M181.4 213.3h0.01M179.6 211.2h0.01M177.7 209.1h0.01M175.8 207h0.01M194.2 213.1h0.01M192.3 211h0.01M190.4 208.9h0.01M188.5 206.8h0.01M206.9 212.8h0.01M205.1 210.7h0.01M203.2 208.6h0.01M201.2 206.5h0.01M219.7 212.5h0.01M217.8 210.4h0.01M215.9 208.3h0.01M214 206.2h0.01M232.4 212.3h0.01M230.6 210.2h0.01M228.7 208.1h0.01M226.8 206h0.01M245.2 212h0.01M243.3 209.9h0.01M241.4 207.8h0.01M239.5 205.7h0.01M257.9 211.7h0.01M256.1 209.6h0.01M254.2 207.5h0.01M252.2 205.4h0.01M270.7 211.5h0.01M268.8 209.4h0.01M266.9 207.3h0.01M265 205.2h0.01M283.4 211.2h0.01M281.6 209.1h0.01M279.6 207h0.01M277.8 204.9h0.01M296.2 210.9h0.01M294.3 208.8h0.01M292.4 206.7h0.01M290.5 204.6h0.01M307.1 208.6h0.01M305.1 206.5h0.01M303.2 204.4h0.01M319.8 208.3h0.01M317.9 206.2h0.01M316 204.1h0.01M330.6 205.9h0.01M328.8 203.8h0.01M343.4 205.7h0.01M341.5 203.6h0.01M354.2 203.3h0.01M367 203h0.01M379.8 202.8h0.01M392.5 202.5h0.01M10 272h0.01M22.8 271.7h0.01M35.5 271.5h0.01M48.2 271.2h0.01M62.9 273h0.01M61 270.9h0.01M75.7 272.8h0.01M73.8 270.7h0.01M90.3 274.6h0.01M88.4 272.5h0.01M86.5 270.4h0.01M103 274.3h0.01M101.2 272.2h0.01M99.2 270.1h0.01M117.7 276.2h0.01M115.8 274.1h0.01M113.9 272h0.01M112 269.9h0.01M130.4 275.9h0.01M128.6 273.8h0.01M126.7 271.7h0.01M124.8 269.6h0.01M143.2 275.6h0.01M141.3 273.5h0.01M139.4 271.4h0.01M137.5 269.3h0.01M155.9 275.4h0.01M154.1 273.3h0.01M152.2 271.2h0.01M150.2 269.1h0.01M168.7 275.1h0.01M166.8 273h0.01M164.9 270.9h0.01M163 268.8h0.01M181.4 274.8h0.01M179.6 272.7h0.01M177.7 270.6h0.01M175.8 268.5h0.01M194.2 274.6h0.01M192.3 272.5h0.01M190.4 270.4h0.01M188.5 268.3h0.01M206.9 274.3h0.01M205.1 272.2h0.01M203.2 270.1h0.01M201.2 268h0.01M219.7 274h0.01M217.8 271.9h0.01M215.9 269.8h0.01M214 267.7h0.01M232.4 273.8h0.01M230.6 271.7h0.01M228.7 269.6h0.01M226.8 267.5h0.01M245.2 273.5h0.01M243.3 271.4h0.01M241.4 269.3h0.01M239.5 267.2h0.01M257.9 273.2h0.01M256.1 271.1h0.01M254.2 269h0.01M252.2 266.9h0.01M270.7 273h0.01M268.8 270.9h0.01M266.9 268.8h0.01M265 266.7h0.01M283.4 272.7h0.01M281.6 270.6h0.01M279.6 268.5h0.01M277.8 266.4h0.01M296.2 272.4h0.01M294.3 270.3h0.01M292.4 268.2h0.01M290.5 266.1h0.01M307.1 270.1h0.01M305.1 268h0.01M303.2 265.9h0.01M319.8 269.8h0.01M317.9 267.7h0.01M316 265.6h0.01M330.6 267.4h0.01M328.8 265.3h0.01M343.4 267.2h0.01M341.5 265.1h0.01M354.2 264.8h0.01M367 264.5h0.01M379.8 264.3h0.01" stroke="#4cbb38" stroke-width="3.6" stroke-linecap="round"/>
<path d="M367 62 V238 M394 60 V240" stroke="#555" stroke-width="1" stroke-dasharray="1.5 2"/>
<path d="M395.5 63 L484 24.5 M395.5 236.5 L485 283" stroke="#444" stroke-width="1.3"/>
<path d="M497 22V290M518.4 22V290M538.8 22V290M560.3 22V290" stroke="#aaa" stroke-width="0.9" stroke-dasharray="1.2 1.6"/>
<circle cx="497" cy="23.3" r="6.8" fill="url(#ti2)"/>
<circle cx="518.4" cy="20.8" r="6.8" fill="url(#ti2)"/>
<circle cx="538.8" cy="23.3" r="6.8" fill="url(#ti2)"/>
<circle cx="560.3" cy="20.3" r="6.8" fill="url(#ti2)"/>
<circle cx="497" cy="157" r="6.8" fill="url(#ti2)"/>
<circle cx="518.4" cy="154.5" r="6.8" fill="url(#ti2)"/>
<circle cx="538.8" cy="157" r="6.8" fill="url(#ti2)"/>
<circle cx="560.3" cy="154" r="6.8" fill="url(#ti2)"/>
<circle cx="497" cy="291.6" r="6.8" fill="url(#ti2)"/>
<circle cx="518.4" cy="289.1" r="6.8" fill="url(#ti2)"/>
<circle cx="538.8" cy="291.6" r="6.8" fill="url(#ti2)"/>
<circle cx="560.3" cy="288.6" r="6.8" fill="url(#ti2)"/>
<circle cx="518.8" cy="53.2" r="6.8" fill="url(#ti2)"/>
<circle cx="519.5" cy="122.9" r="6.8" fill="url(#ti2)"/>
<circle cx="540" cy="187" r="6.8" fill="url(#ti2)"/>
<circle cx="540.3" cy="256.9" r="6.8" fill="url(#ti2)"/>
<circle cx="538.8" cy="36.4" r="2.8" fill="#111"/>
<circle cx="539.5" cy="139.4" r="2.8" fill="#111"/>
<circle cx="518.9" cy="171.8" r="2.8" fill="#111"/>
<circle cx="519.2" cy="274" r="2.8" fill="#111"/>
<circle cx="497" cy="68.3" r="2.2" fill="#3cc83c"/>
<circle cx="518.4" cy="68.3" r="2.2" fill="#3cc83c"/>
<circle cx="538.8" cy="68.3" r="2.2" fill="#3cc83c"/>
<circle cx="560.3" cy="68.3" r="2.2" fill="#3cc83c"/>
<circle cx="497" cy="107.5" r="2.2" fill="#3cc83c"/>
<circle cx="518.4" cy="107.5" r="2.2" fill="#3cc83c"/>
<circle cx="538.8" cy="107.5" r="2.2" fill="#3cc83c"/>
<circle cx="560.3" cy="107.5" r="2.2" fill="#3cc83c"/>
<circle cx="497" cy="203.4" r="2.2" fill="#3cc83c"/>
<circle cx="518.4" cy="203.4" r="2.2" fill="#3cc83c"/>
<circle cx="538.8" cy="203.4" r="2.2" fill="#3cc83c"/>
<circle cx="560.3" cy="203.4" r="2.2" fill="#3cc83c"/>
<circle cx="497" cy="241.3" r="2.2" fill="#3cc83c"/>
<circle cx="518.4" cy="241.3" r="2.2" fill="#3cc83c"/>
<circle cx="538.8" cy="241.3" r="2.2" fill="#3cc83c"/>
<circle cx="560.3" cy="241.3" r="2.2" fill="#3cc83c"/>
<text x="472" y="112" font-size="14" fill="#3a9a8a" font-family="'DejaVu Sans', 'Liberation Sans', sans-serif"  stroke="#3a9a8a" stroke-width="0.45">T<tspan font-size="8" dy="2">x</tspan></text>
<text x="473" y="142" font-size="14" fill="#222" font-family="'DejaVu Sans', 'Liberation Sans', sans-serif" font-weight="bold"  stroke="#222" stroke-width="0.45">C</text>
<text x="472" y="163" font-size="14" fill="#888" font-family="'DejaVu Sans', 'Liberation Sans', sans-serif"  stroke="#888" stroke-width="0.45">Ti</text>
<path d="M571 152.5H599M571 284.5H599" stroke="#444" stroke-width="1.2"/>
<path d="M581 155V282" stroke="#333" stroke-width="1.2"/>
<path d="M581 155l-2.5 6h5zM581 282l-2.5 -6h5z" fill="#333"/>
<text x="586" y="226" font-size="16" fill="#333" font-family="'DejaVu Sans', 'Liberation Sans', sans-serif" font-weight="bold"  stroke="#333" stroke-width="0.45">9.93 Å</text>
<text x="1.5" y="46.8" font-size="45" fill="#111" font-family="'Liberation Serif', serif"  stroke="#111" stroke-width="0.7">(a)</text>
<g clip-path="url(#cc)">
<rect x="985" y="13" width="313" height="285" fill="#4e4b49"/>
<path d="M1010 70L1060 68L1075 100L1050 110L1020 100Z" fill="#6c6967" filter="url(#b4)" />
<path d="M985 200L1000 180L1010 200L1000 230L985 230Z" fill="#5e5b59" filter="url(#b4)" />
<path d="M985 13L1145 13L1142 33L1118 55L1090 65L1050 72L1020 68L998 58L990 40Z" fill="#a9a6a3" filter="url(#b2)" />
<path d="M1040 55L1060 52L1068 62L1055 70L1042 66Z" fill="#c4c2c0" filter="url(#b2)" />
<path d="M1050 20L1130 15L1135 30L1070 40Z" fill="#b8b5b2" filter="url(#b4)" />
<path d="M1168 13L1298 13L1298 100L1275 108L1254 108L1242 78L1214 58L1185 35Z" fill="#aeaba8" filter="url(#b2)" />
<path d="M1245 60L1290 55L1290 100L1258 105Z" fill="#bebcba" filter="url(#b4)" />
<path d="M1260 13L1298 13L1298 45L1275 40Z" fill="#807d7b" filter="url(#b4)" />
<path d="M1060 110L1091 80L1139 57L1179 46L1230 67L1250 99L1264 124L1242 153L1180 176L1108 193L1074 181L1060 147Z" fill="#73706e" filter="url(#b1)" />
<g clip-path="url(#flk)"><path d="M1070 84Q1160 58 1255 44M1069.7 88.3Q1160 62.7 1255 49M1069.4 92.6Q1160 67.4 1255 54.1M1069 97Q1160 72 1255 59.1M1068.7 101.3Q1160 76.7 1255 64.2M1068.4 105.6Q1160 81.4 1255 69.2M1068.1 109.9Q1160 86.1 1255 74.2M1067.8 114.2Q1160 90.8 1255 79.3M1067.4 118.6Q1160 95.4 1255 84.3M1067.1 122.9Q1160 100.1 1255 89.4M1066.8 127.2Q1160 104.8 1255 94.4M1066.5 131.5Q1160 109.5 1255 99.4M1066.2 135.8Q1160 114.2 1255 104.5M1066.2 140.2Q1160 118.8 1255 109.5M1066.5 144.5Q1160 123.5 1255 114.6M1066.8 148.8Q1160 128.2 1255 119.6M1067.1 153.1Q1160 132.9 1255 124.6M1067.4 157.4Q1160 137.6 1255 129.7M1067.8 161.8Q1160 142.2 1255 134.7M1068.1 166.1Q1160 146.9 1255 139.8M1068.4 170.4Q1160 151.6 1255 144.8M1068.7 174.7Q1160 156.3 1255 149.8M1069 179Q1160 161 1255 154.9M1069.4 183.4Q1160 165.6 1255 159.9M1069.7 187.7Q1160 170.3 1255 165M1070 192Q1160 175 1255 170" fill="none" stroke="#4a4745" stroke-width="2.2" opacity="0.9"/></g>
<path d="M1120 135L1170 120L1215 112L1175 125L1125 140Z" fill="#3e3c3a" filter="url(#b1)" />
<path d="M1180 176L1242 153L1298 110L1298 230L1240 200L1190 215Z" fill="#474442" filter="url(#b4)" />
<path d="M1068 190L1090 195L1110 225L1085 228L1070 215Z" fill="#3f3c3a" filter="url(#b4)" />
<path d="M1050 222L1100 215L1140 232L1160 260L1150 298L1060 298L1045 260Z" fill="#736f6d" filter="url(#b4)" />
<path d="M1110 245L1140 240L1150 275L1125 290L1105 270Z" fill="#8a8785" filter="url(#b4)" />
<path d="M1140 215L1170 210L1180 240L1155 250L1140 235Z" fill="#6c6967" filter="url(#b4)" />
<path d="M1215 205L1240 200L1245 220L1225 228Z" fill="#8a8785" filter="url(#b2)" />
<path d="M985 235L1013 186L1035 168L1055 161L1065 171L1083 186L1070 210L1049 230L1028 257L1006 274L985 285Z" fill="#b2afac" filter="url(#b1)" />
<path d="M995 250L1020 205L1050 178L1060 190L1040 220L1010 262Z" fill="#c3c1bf" filter="url(#b2)" />
<path d="M1158 298L1176 235L1218 214L1247 210L1297 221L1297 250L1261 250L1240 264L1225 298Z" fill="#a5a29f" filter="url(#b1)" />
<path d="M1170 290L1185 245L1230 230L1280 235L1250 245L1215 270Z" fill="#b3b0ad" filter="url(#b2)" />
<path d="M1262 250L1298 248L1298 298L1265 298Z" fill="#4a4745" filter="url(#b2)" />
</g>
<rect x="1205.5" y="282.3" width="72" height="7.8" fill="#fff"/>
<text x="1242" y="275" font-size="17" fill="#fff" text-anchor="middle" font-family="'DejaVu Sans', 'Liberation Sans', sans-serif"  stroke="#fff" stroke-width="0.45">1 μm</text>
<text x="989.2" y="49.2" font-size="45" fill="#111" font-family="'Liberation Serif', serif"  stroke="#111" stroke-width="0.7">(c)</text>
<g clip-path="url(#cd)">
<rect x="1320.5" y="13" width="313" height="285" fill="#64625f"/>
<rect x="1320.5" y="13" width="313" height="285" fill="url(#dgrad)"/>
<path d="M1426.2 116.1L1526.8 30.3" stroke="#3c3a38" stroke-width="7.5" opacity="0.7" filter="url(#b4)" stroke-linecap="round"/>
<path d="M1333.8 371.9L1454.2 262.8" stroke="#3c3a38" stroke-width="8.5" opacity="0.7" filter="url(#b4)" stroke-linecap="round"/>
<path d="M1338.4 186.5L1564.7 -7.5M1405.3 400.5L1605.3 203.7" stroke="#3c3a38" stroke-width="9" opacity="0.7" filter="url(#b4)" stroke-linecap="round"/>
<path d="M1444.2 107L1629.9 -50.5" stroke="#3c3a38" stroke-width="9.5" opacity="0.7" filter="url(#b4)" stroke-linecap="round"/>
<path d="M1424.6 37.3L1612.1 -108M1357 456.8L1527.7 282.9M1470.9 141.9L1618.4 19.4" stroke="#3c3a38" stroke-width="11" opacity="0.7" filter="url(#b4)" stroke-linecap="round"/>
<path d="M1521.6 353.4L1687.3 182.3M1356.3 51.5L1563.6 -105.3" stroke="#3c3a38" stroke-width="12" opacity="0.7" filter="url(#b4)" stroke-linecap="round"/>
<path d="M1340 188.2L1608.5 -48.2" stroke="#3c3a38" stroke-width="12.5" opacity="0.7" filter="url(#b4)" stroke-linecap="round"/>
<path d="M1526.6 223.8L1734.8 55" stroke="#3c3a38" stroke-width="13" opacity="0.7" filter="url(#b4)" stroke-linecap="round"/>
<path d="M1220.5 226.8L1348.1 130.7M1469.2 380.6L1598.8 220M1181.5 185.6L1458.9 -16.6" stroke="#3c3a38" stroke-width="13.5" opacity="0.7" filter="url(#b4)" stroke-linecap="round"/>
<path d="M1316.2 -4L1545.7 -164.5M1394.1 95.6L1593.1 -86.8" stroke="#7e7c7a" stroke-width="7.5" opacity="0.7" filter="url(#b4)" stroke-linecap="round"/>
<path d="M1383.1 237.6L1486.1 153.8" stroke="#7e7c7a" stroke-width="8" opacity="0.7" filter="url(#b4)" stroke-linecap="round"/>
<path d="M1570.4 190.4L1770.9 -28.6" stroke="#7e7c7a" stroke-width="9" opacity="0.7" filter="url(#b4)" stroke-linecap="round"/>
<path d="M1647.9 241.5L1727.3 149.4" stroke="#7e7c7a" stroke-width="9.5" opacity="0.7" filter="url(#b4)" stroke-linecap="round"/>
<path d="M1217.1 70.9L1468.3 -119.5M1306.5 86.6L1577.4 -149.6" stroke="#7e7c7a" stroke-width="10.5" opacity="0.7" filter="url(#b4)" stroke-linecap="round"/>
<path d="M1519.2 130.3L1736.4 -83.6M1440.4 199.8L1583.7 78.9" stroke="#7e7c7a" stroke-width="12" opacity="0.7" filter="url(#b4)" stroke-linecap="round"/>
<path d="M1503.5 125.4L1609.3 23.6M1181.6 136.9L1438.1 -46.8" stroke="#7e7c7a" stroke-width="12.5" opacity="0.7" filter="url(#b4)" stroke-linecap="round"/>
<path d="M1244.7 237.2L1469.7 43.8M1171.1 170.5L1346.8 21.8" stroke="#7e7c7a" stroke-width="13.5" opacity="0.7" filter="url(#b4)" stroke-linecap="round"/>
<path d="M1429.9 410.6L1661.1 181.9M1129.2 139.3L1330.3 -2.5" stroke="#8a8886" stroke-width="7" opacity="0.7" filter="url(#b4)" stroke-linecap="round"/>
<path d="M1455.2 247.4L1587.9 105.6" stroke="#8a8886" stroke-width="8" opacity="0.7" filter="url(#b4)" stroke-linecap="round"/>
<path d="M1191 206.1L1461.3 -7.1" stroke="#8a8886" stroke-width="8.5" opacity="0.7" filter="url(#b4)" stroke-linecap="round"/>
<path d="M1585.4 212.7L1738 85" stroke="#8a8886" stroke-width="9.5" opacity="0.7" filter="url(#b4)" stroke-linecap="round"/>
<path d="M1323.6 204.5L1531.6 29.5" stroke="#8a8886" stroke-width="10" opacity="0.7" filter="url(#b4)" stroke-linecap="round"/>
<path d="M1446.9 262.9L1713.5 24.7" stroke="#8a8886" stroke-width="10.5" opacity="0.7" filter="url(#b4)" stroke-linecap="round"/>
<path d="M1423.9 -30.9L1619.3 -160.6" stroke="#8a8886" stroke-width="11.5" opacity="0.7" filter="url(#b4)" stroke-linecap="round"/>
<path d="M1161.4 115.4L1424.2 -64.8" stroke="#8a8886" stroke-width="13.5" opacity="0.7" filter="url(#b4)" stroke-linecap="round"/>
<path d="M1439.6 289.9L1622.6 109.3" stroke="#8a8886" stroke-width="14" opacity="0.7" filter="url(#b4)" stroke-linecap="round"/>
<path d="M1251.7 330.2L1412 189" stroke="#908e8c" stroke-width="6" opacity="0.7" filter="url(#b4)" stroke-linecap="round"/>
<path d="M1231.1 97.1L1489.6 -82M1308.5 264.6L1414.2 175.9" stroke="#908e8c" stroke-width="6.5" opacity="0.7" filter="url(#b4)" stroke-linecap="round"/>
<path d="M1476.1 137.4L1582 54.3" stroke="#908e8c" stroke-width="7" opacity="0.7" filter="url(#b4)" stroke-linecap="round"/>
<path d="M1378.5 145.9L1546.2 7.9" stroke="#908e8c" stroke-width="7.5" opacity="0.7" filter="url(#b4)" stroke-linecap="round"/>
<path d="M1347.4 421.5L1456.2 327.4M1611.8 235.5L1791.9 6.5" stroke="#908e8c" stroke-width="8" opacity="0.7" filter="url(#b4)" stroke-linecap="round"/>
<path d="M1473.3 429.9L1650.2 235" stroke="#908e8c" stroke-width="8.5" opacity="0.7" filter="url(#b4)" stroke-linecap="round"/>
<path d="M1448.2 337.8L1589.9 201.7" stroke="#908e8c" stroke-width="9" opacity="0.7" filter="url(#b4)" stroke-linecap="round"/>
<path d="M1560.4 224.6L1700 102M1463.8 82.4L1680.9 -121.9M1377.1 427.7L1495.7 296.9" stroke="#908e8c" stroke-width="9.5" opacity="0.7" filter="url(#b4)" stroke-linecap="round"/>
<path d="M1219.7 192.2L1332.6 103.4" stroke="#908e8c" stroke-width="10" opacity="0.7" filter="url(#b4)" stroke-linecap="round"/>
<path d="M1608.5 263.9L1716.5 144.6M1460.1 51.8L1569.9 -44.1" stroke="#908e8c" stroke-width="10.5" opacity="0.7" filter="url(#b4)" stroke-linecap="round"/>
<path d="M1401.4 72.2L1599.4 -89.9M1501.4 373.7L1738.6 110" stroke="#908e8c" stroke-width="11" opacity="0.7" filter="url(#b4)" stroke-linecap="round"/>
<path d="M1320 117L1345 95L1387 68L1421 44L1439 37L1428 58L1394 99L1373 134L1359 160L1340 200L1320 210Z" fill="#3a3836" filter="url(#b4)" />
<path d="M1360 298L1400 230L1430 200L1445 210L1410 260L1395 298Z" fill="#353331" filter="url(#b4)" />
<path d="M1560 298L1600 230L1633 200L1633 298Z" fill="#383634" filter="url(#b8)" />
<path d="M1379.8 -13.6L1628.4 -203.7M1402.3 329L1611.9 140.2M1217.2 275.8L1375.7 137.3M1266.5 209.6L1390.5 86.6M1424.4 396.7L1638.3 125.8" stroke="#3a3836" stroke-width="1.5" opacity="0.7" filter="url(#b1)" stroke-linecap="round"/>
<path d="M1345.7 -6.9L1593.3 -179.6M1257.8 158.9L1509.9 -62.9M1227.7 95.9L1480.2 -112M1412.8 82.7L1503.9 -1.3M1252.4 207.5L1360.2 126.6M1375.7 -43.7L1519.4 -152.3M1334.4 293.4L1538.1 122.3M1111.1 153.1L1302.7 11.2" stroke="#3a3836" stroke-width="2" opacity="0.7" filter="url(#b1)" stroke-linecap="round"/>
<path d="M1183.7 211L1338.6 61.8M1251.3 64L1511.8 -155.2M1425.4 324.7L1532 215.3M1592.4 321.9L1789.2 78.9M1493.7 182L1684 12.8M1450.6 482.2L1664.9 248.6M1218.4 286.2L1358.4 147M1499.9 284.8L1660.4 111.2M1503.4 383.6L1670.9 180M1487.7 90.6L1726.9 -166.4" stroke="#3a3836" stroke-width="2.5" opacity="0.7" filter="url(#b1)" stroke-linecap="round"/>
<path d="M1303.6 293.6L1440.4 183.4M1398.1 360.7L1535.1 212.5M1592.7 345.9L1835.2 115M1263.2 154.4L1468.1 -20.6M1528.4 391.5L1703.3 147.9M1453.3 375.6L1592.8 234.3M1363.1 35.8L1508.9 -91.3M1466.8 215.7L1587.6 90.5" stroke="#3a3836" stroke-width="3" opacity="0.7" filter="url(#b1)" stroke-linecap="round"/>
<path d="M1204.8 105.7L1495.4 -90.5M1432.6 470.5L1542.3 350.7M1414.2 165.1L1564.9 38.1M1392.1 85.9L1528.6 -24.6M1120 180.2L1219.2 104.7M1334.9 61.4L1566 -140.7M1317.7 83.7L1443.4 -11.5" stroke="#3a3836" stroke-width="3.5" opacity="0.7" filter="url(#b1)" stroke-linecap="round"/>
<path d="M1515.2 164.6L1668.8 -5M1430.6 180.8L1671.4 -55.1" stroke="#7a7876" stroke-width="1.5" opacity="0.7" filter="url(#b1)" stroke-linecap="round"/>
<path d="M1155.2 63.2L1294.6 -2.6M1193.1 112.4L1421.1 -63.6M1365.8 18.7L1640.6 -188.4M1589.1 218.6L1673.6 131.8M1509 248L1687.2 84.3M1348.9 280.2L1590.7 46.9M1325.4 -5.4L1462.1 -97.2M1357.8 276L1621.4 68.9M1383.2 -46.3L1481.6 -122M1385.5 277.4L1554.5 139.6" stroke="#7a7876" stroke-width="2" opacity="0.7" filter="url(#b1)" stroke-linecap="round"/>
<path d="M1542.6 328L1710.4 158.2M1462.5 65.9L1572 -42.4M1467.7 249L1681.6 64.5M1390.1 347.7L1507.3 211.7M1358.3 -9.8L1516.7 -134.6M1189.6 206.3L1397.6 30.7M1437.1 330.8L1639.5 93" stroke="#7a7876" stroke-width="2.5" opacity="0.7" filter="url(#b1)" stroke-linecap="round"/>
<path d="M1511.3 331.2L1656.2 200.3M1538.6 292.6L1734.5 79.4M1426.6 333.8L1530 243.9M1413.9 99.3L1669.7 -126.3M1460.9 370.5L1585.4 248M1218.6 230.2L1330.1 129.1M1496.1 292.5L1602.1 182.2M1349.6 138.8L1534.2 -52.5" stroke="#7a7876" stroke-width="3" opacity="0.7" filter="url(#b1)" stroke-linecap="round"/>
<path d="M1420.7 118.3L1546.2 -16.2M1463 467.8L1699.5 202.6M1461.3 475.6L1601 320.7M1491.7 171.7L1687.1 -29.5M1359.7 277.6L1519.2 130.8M1609.8 260.7L1734.9 133.1M1236 305.6L1467.8 76.7" stroke="#7a7876" stroke-width="3.5" opacity="0.7" filter="url(#b1)" stroke-linecap="round"/>
<path d="M1274.7 37L1532.3 -187.6M1617.8 213.6L1801.3 28.3M1299.8 193.3L1474.6 32.2M1506.5 488.9L1687 249.8M1448.6 239.2L1565.7 108.8" stroke="#8c8a88" stroke-width="1.5" opacity="0.7" filter="url(#b1)" stroke-linecap="round"/>
<path d="M1563.2 376.6L1781.6 120.3M1460 457.9L1634 288.7M1467.6 470.8L1624.6 274M1281.8 54.9L1385.8 -28.2M1187.3 161.3L1364.3 23.8M1639.3 304.8L1777.6 136.4M1300.9 328L1507.4 108.3M1356.4 144.8L1448.3 64.8M1343.1 380.5L1450 287.5M1271.5 314.2L1435.7 157.1" stroke="#8c8a88" stroke-width="2" opacity="0.7" filter="url(#b1)" stroke-linecap="round"/>
<path d="M1635.2 254.7L1892.1 27.3M1470.1 416L1696.7 140.6M1507.6 377.1L1593.6 287.2M1542.2 344.6L1658.1 236.2M1324.7 9.1L1468.3 -108.7M1167.5 218.5L1409 27.9M1243 154L1408.6 34.6M1345.1 382.6L1571.9 114.4" stroke="#8c8a88" stroke-width="2.5" opacity="0.7" filter="url(#b1)" stroke-linecap="round"/>
<path d="M1601 329L1803.4 123.7M1270.1 236.6L1496.7 41.7M1562.2 354.6L1752.5 144.9M1328.3 312.3L1501.9 143.8M1289 107.6L1446.8 -14.4M1437.4 44.7L1634.4 -121.8M1248.9 186.6L1427.5 31.5M1519.8 275.7L1699.6 83M1519.5 277.5L1720.2 107.9M1384.9 -9.1L1579.1 -210.3" stroke="#8c8a88" stroke-width="3" opacity="0.7" filter="url(#b1)" stroke-linecap="round"/>
<path d="M1329.4 5.7L1552 -169.1" stroke="#8c8a88" stroke-width="3.5" opacity="0.7" filter="url(#b1)" stroke-linecap="round"/>
<path d="M1573.5 334.5L1726.7 161.8M1563.6 343.5L1692.1 197.5M1262.6 181L1375.2 77" stroke="#9a9896" stroke-width="1.5" opacity="0.7" filter="url(#b1)" stroke-linecap="round"/>
<path d="M1453.6 281.9L1641.3 112.8M1268.7 255.5L1481.2 51.8M1186.9 67L1298.2 1.9" stroke="#9a9896" stroke-width="2" opacity="0.7" filter="url(#b1)" stroke-linecap="round"/>
<path d="M1621.6 248.1L1803.6 35.3M1501.5 294.1L1671.7 126.2M1384.8 115.4L1577.9 -41.2M1329.4 259.3L1450.6 141.2M1211.7 113.8L1333.8 20.4M1354 411.6L1603.4 158.6M1490 122.8L1655.5 -16.4M1477.2 370.7L1667.1 152.6M1327.7 274L1555.4 69M1467.2 384.6L1631 207.6" stroke="#9a9896" stroke-width="2.5" opacity="0.7" filter="url(#b1)" stroke-linecap="round"/>
<path d="M1127.8 166.7L1360.5 -33.1M1464.7 136.4L1572.8 36M1492.6 173.7L1579.1 81M1353.4 148.5L1614.1 -52.8M1564.2 379.5L1643.2 283.7M1418.3 188.1L1529.8 101.5M1275.8 29.5L1384.2 -58.1M1375.1 167.2L1547.2 -14.4M1440.3 236.8L1552.5 143.2" stroke="#9a9896" stroke-width="3" opacity="0.7" filter="url(#b1)" stroke-linecap="round"/>
<path d="M1374.8 386.3L1587.7 159.6M1166.7 132.2L1394.3 -26M1291.4 340.5L1507.9 141M1521.7 451.9L1662.6 256.6" stroke="#9a9896" stroke-width="3.5" opacity="0.7" filter="url(#b1)" stroke-linecap="round"/>
<path d="M1335.7 347.7L1522.2 163.7M1410 79.5L1527.8 -14.5" stroke="#a09e9c" stroke-width="1.5" opacity="0.7" filter="url(#b1)" stroke-linecap="round"/>
<path d="M1377.7 359.8L1494.6 246.8M1483.7 160.8L1574.3 79.2M1262.8 83.5L1418.1 -46.9M1421.7 323.2L1679.8 77.2M1617.2 323.9L1712.4 214.3M1371.4 -43.2L1609.2 -220.5M1456.3 394.3L1682.1 142.7M1415.8 325.7L1601.2 147.9M1365.8 218.2L1609.3 20M1491.6 386.2L1618.3 263.3" stroke="#a09e9c" stroke-width="2" opacity="0.7" filter="url(#b1)" stroke-linecap="round"/>
<path d="M1474.2 135.3L1601.1 33.2M1405.4 38.2L1578.2 -119.1M1325.5 192L1512.8 23.9M1454.5 475.4L1654.6 251.5M1368.6 140.2L1584 -33.5M1508.1 182.4L1683.3 -12.8M1598.1 326.4L1799.1 68.3M1394.7 368.7L1522.4 210.6M1492.2 321.5L1680.3 118.2M1583.3 285.4L1746.8 121.3" stroke="#a09e9c" stroke-width="2.5" opacity="0.7" filter="url(#b1)" stroke-linecap="round"/>
<path d="M1593.8 332.6L1745.7 127M1652.3 256L1835 49.3M1588 349.8L1771.8 166.4M1338.9 56.6L1534.7 -108.8M1381.7 212.7L1565 47.3M1503.5 205.3L1670.4 25.2M1530.7 445.7L1657.1 286.4M1321.4 4.1L1476 -97.9M1300.4 391L1520.4 173.2" stroke="#a09e9c" stroke-width="3" opacity="0.7" filter="url(#b1)" stroke-linecap="round"/>
<path d="M1357.3 389.5L1453.6 287.4M1272.6 36.8L1483.9 -155.6M1327.4 285.3L1541.9 82.8M1473.8 371.3L1571.3 269.6" stroke="#a09e9c" stroke-width="3.5" opacity="0.7" filter="url(#b1)" stroke-linecap="round"/>
<path d="M1470 298L1540 215L1633 150L1633 298Z" fill="#3a3836" filter="url(#b8)" opacity="0.55"/>
<path d="M1320 150L1360 90L1420 45L1400 100L1360 170L1320 220Z" fill="#3a3836" filter="url(#b8)" opacity="0.4"/>
</g>
<rect x="1525.5" y="280.2" width="90.3" height="7.8" fill="#fff"/>
<text x="1571" y="273" font-size="17" fill="#fff" text-anchor="middle" font-family="'DejaVu Sans', 'Liberation Sans', sans-serif"  stroke="#fff" stroke-width="0.45">500 nm</text>
<text x="1318.9" y="46.5" font-size="45" fill="#111" font-family="'Liberation Serif', serif"  stroke="#111" stroke-width="0.7">(d)</text>
<g clip-path="url(#ce)">
<rect x="1658" y="13" width="313" height="285" fill="#d8d6d4"/>
<path d="M1695 13L1971 13L1971 210L1945 213L1930 222L1920 238L1900 244L1870 250L1835 252L1812 256L1800 252L1798 240L1796 215L1790 195L1780 182L1765 176L1748 160L1730 154L1720 134L1707 99L1697 65Z" fill="#bdbbb9" filter="url(#b1)" />
<path d="M1850 13L1940 13L1930 55L1880 60L1860 40Z" fill="#acaaa8" filter="url(#b8)" />
<path d="M1658 14L1695 14L1695 25L1658 25Z" fill="#a8a6a4" filter="url(#b1)" />
<rect x="1658" y="13" width="313" height="285" fill="#fff" filter="url(#grain)" opacity="0.55"/>
<rect x="1658" y="13" width="313" height="285" fill="#000" filter="url(#grain2)" opacity="0.25"/>
<rect x="1864.8" y="248.2" width="107" height="50" fill="#a4a2a0"/>
</g>
<rect x="1876" y="281" width="80" height="7.5" fill="#fff"/>
<text x="1915" y="274" font-size="17" fill="#fff" text-anchor="middle" font-family="'DejaVu Sans', 'Liberation Sans', sans-serif"  stroke="#fff" stroke-width="0.45">20 nm</text>
<text x="1665.6" y="49.2" font-size="45" fill="#111" font-family="'Liberation Serif', serif"  stroke="#111" stroke-width="0.7">(e)</text></g></svg></body></html>
